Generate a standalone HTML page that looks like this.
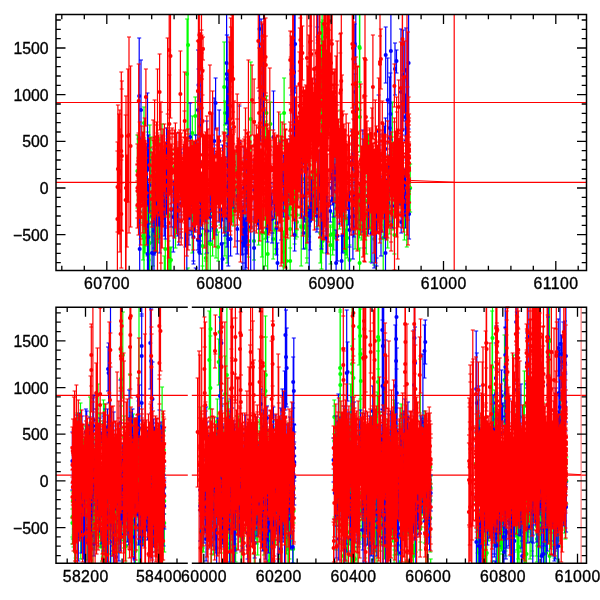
<!DOCTYPE html>
<html><head><meta charset="utf-8"><style>
html,body{margin:0;padding:0;background:#fff;width:600px;height:600px;overflow:hidden}
svg{display:block}
</style></head><body>
<svg width="600" height="600" viewBox="0 0 600 600">
<rect width="600" height="600" fill="#fff"/>
<path d="M56 102.5H586.5M56 182.3H586.5M56 395.4H187.8M191.8 395.4H586.5M56 475.2H187.8M191.8 475.2H586.5M454.2 14.5V270.5" stroke="#ff0000" stroke-width="1.2" fill="none"/><path d="M581.1 307.3V563.3" stroke="#ff6060" stroke-width="1" fill="none"/><path d="M410 180.4L454 182.2M566 473.8L581 474.7" stroke="#ff0000" stroke-width="1" fill="none"/>
<path d="M338.4 110h4m-2 0V144M366.6 134h4m-2 0V161m-2 0h4M324.9 164V192m-2 0h4M228.5 124h4m-2 0V196m-2 0h4M210.6 199h4m-2 0V224m-2 0h4M146.7 232h4m-2 0V270M265.7 237h4m-2 0V270M140.7 204V223m-2 0h4M224.9 208V256m-2 0h4M246.4 224h4m-2 0V257m-2 0h4M218.4 201h4m-2 0V225m-2 0h4M144.4 168h4m-2 0V231m-2 0h4M222.2 42h4m-2 0V133m-2 0h4M322.9 170h4m-2 0V216m-2 0h4M347.5 245h4m-2 0V270M187.8 202V235m-2 0h4M201.7 136h4m-2 0V184m-2 0h4M331.7 217h4m-2 0V250m-2 0h4M208 213V270M248.8 62h4m-2 0V169M265.4 201V266m-2 0h4M212.6 191V245m-2 0h4M365.4 176h4m-2 0V226m-2 0h4M374.3 221V265m-2 0h4M310.3 186h4m-2 0V218m-2 0h4M387.8 189h4m-2 0V234m-2 0h4M212.6 191V256m-2 0h4M385.7 174h4m-2 0V201m-2 0h4M256.6 142h4m-2 0V144M223 101h4m-2 0V125m-2 0h4M232.6 195V216m-2 0h4M375.6 176h4m-2 0V218m-2 0h4M340.5 164V206m-2 0h4M229.6 170h4m-2 0V205m-2 0h4M356.5 193h4m-2 0V250m-2 0h4M372.4 164h4m-2 0V185M273.4 206h4m-2 0V254m-2 0h4M247.6 186h4m-2 0V218m-2 0h4M357.9 82h4m-2 0V152m-2 0h4M185.7 201V222m-2 0h4M325 178h4m-2 0V231m-2 0h4M252 222h4m-2 0V260m-2 0h4M299.2 204h4m-2 0V225m-2 0h4M288.2 209h4m-2 0V248m-2 0h4M244.3 175h4m-2 0V199m-2 0h4M145.6 132h4m-2 0V166m-2 0h4M324 182h4m-2 0V207m-2 0h4M200.2 196V221m-2 0h4M299.2 188h4m-2 0V266m-2 0h4M162.3 256h4m-2 0V270M135.4 135h4m-2 0V208m-2 0h4M150 203h4m-2 0V243m-2 0h4M258.8 169h4m-2 0V209m-2 0h4M284.5 239h4m-2 0V270M292.6 196h4m-2 0V233m-2 0h4M149 137h4m-2 0V218m-2 0h4M357.6 188h4m-2 0V238m-2 0h4M236.3 192h4m-2 0V218m-2 0h4M333 159h4m-2 0V239m-2 0h4M292.6 168h4m-2 0V206m-2 0h4M268.4 102h4m-2 0V146m-2 0h4M173.5 193h4m-2 0V248m-2 0h4M206.9 202V209m-2 0h4M386.8 155h4m-2 0V207m-2 0h4M163.3 214h4m-2 0V270M218.1 196V201m-2 0h4M328.5 227h4m-2 0V264m-2 0h4M186.8 156h4m-2 0V167M376.5 168h4m-2 0V172M364.2 212h4m-2 0V254m-2 0h4M390.3 102h4m-2 0V156M186.9 164h4m-2 0V167M264.4 96h4m-2 0V129m-2 0h4M225.2 129h4m-2 0V202m-2 0h4M234 167h4m-2 0V211m-2 0h4M372 187V204m-2 0h4M328.4 225h4m-2 0V246m-2 0h4M343 229h4m-2 0V270M320.8 20h4m-2 0V72m-2 0h4M145.5 217h4m-2 0V256m-2 0h4M402.4 175h4m-2 0V240m-2 0h4M144 197V210m-2 0h4M384.6 195h4m-2 0V226m-2 0h4M304.9 209h4m-2 0V263m-2 0h4M172.4 201h4m-2 0V228m-2 0h4M212.6 191V192m-2 0h4M160.9 216V220m-2 0h4M258.6 208V245m-2 0h4M216.2 232h4m-2 0V261m-2 0h4M232.7 195V222m-2 0h4M147.8 125h4m-2 0V179m-2 0h4M368.7 194h4m-2 0V262m-2 0h4M203.8 206h4m-2 0V254m-2 0h4M304.9 183h4m-2 0V236m-2 0h4M283.6 202h4m-2 0V237m-2 0h4M319.5 222h4m-2 0V269m-2 0h4M185.8 268h4m-2 0V270M247.6 162h4m-2 0V206m-2 0h4M288.2 210h4m-2 0V270M303.6 204h4m-2 0V249m-2 0h4M358.8 156h4m-2 0V219m-2 0h4M349.9 163h4m-2 0V191m-2 0h4M276.5 195V225m-2 0h4M243.2 163h4m-2 0V198m-2 0h4M254.2 151h4m-2 0V223m-2 0h4M154.2 198V215m-2 0h4M291.3 176h4m-2 0V216m-2 0h4M291.3 137h4m-2 0V145M353.1 210h4m-2 0V249m-2 0h4M316 151h4m-2 0V193m-2 0h4M345.3 217h4m-2 0V258m-2 0h4M163.4 182h4m-2 0V215m-2 0h4M225.2 213h4m-2 0V258m-2 0h4M314.9 169h4m-2 0V227m-2 0h4M304.9 190h4m-2 0V224m-2 0h4M293.5 207h4m-2 0V239m-2 0h4M300.3 160h4m-2 0V198m-2 0h4M172.3 189h4m-2 0V227m-2 0h4M308.2 176h4m-2 0V210m-2 0h4M193.3 97h4m-2 0V135m-2 0h4M365.3 172h4m-2 0V229m-2 0h4M307.1 206h4m-2 0V236m-2 0h4M141 212h4m-2 0V260m-2 0h4M359.8 14V110m-2 0h4M229.6 156h4m-2 0V182m-2 0h4M304.9 212h4m-2 0V258m-2 0h4M292.6 156h4m-2 0V188m-2 0h4M363.2 187h4m-2 0V215m-2 0h4M160 124h4m-2 0V149M294.9 207h4m-2 0V237m-2 0h4M234 152h4m-2 0V190m-2 0h4M188.1 14V141m-2 0h4M198.2 217h4m-2 0V254m-2 0h4M281.3 231h4m-2 0V270M282.3 203h4m-2 0V267m-2 0h4M310.3 157h4m-2 0V211m-2 0h4M157.8 213h4m-2 0V238m-2 0h4M343 188h4m-2 0V212m-2 0h4M157.8 138h4m-2 0V145M263.8 121h4m-2 0V155m-2 0h4M357.6 248h4m-2 0V270M392.4 216h4m-2 0V254m-2 0h4M203.8 207h4m-2 0V261m-2 0h4M163.2 192V214m-2 0h4M307.1 210h4m-2 0V237m-2 0h4M288.2 187h4m-2 0V229m-2 0h4M285.8 172h4m-2 0V197m-2 0h4M319.4 22h4m-2 0V144m-2 0h4M214 201h4m-2 0V258m-2 0h4M169 247h4m-2 0V270M282.1 78h4m-2 0V149m-2 0h4M302.3 151V169m-2 0h4M387.9 144h4m-2 0V187m-2 0h4M381.2 204h4m-2 0V270M246.4 188h4m-2 0V219m-2 0h4M154.4 222h4m-2 0V252m-2 0h4M311.5 124h4m-2 0V180m-2 0h4M318.3 203h4m-2 0V263m-2 0h4M222.9 212h4m-2 0V243m-2 0h4M373.4 176h4m-2 0V219m-2 0h4M208.3 213h4m-2 0V270M385.7 161h4m-2 0V248m-2 0h4M212.9 166h4m-2 0V221m-2 0h4M225.2 208h4m-2 0V263m-2 0h4M311.5 178h4m-2 0V219m-2 0h4M151 204h4m-2 0V266m-2 0h4M192.3 208V253m-2 0h4M341.8 191h4m-2 0V249m-2 0h4M200.5 266h4m-2 0V270M243.2 191h4m-2 0V220m-2 0h4M278.4 114h4m-2 0V148M408.2 164h4m-2 0V212m-2 0h4M268.7 199V226m-2 0h4M303.6 178h4m-2 0V210m-2 0h4M343 191h4m-2 0V219m-2 0h4M275.4 195V233m-2 0h4M350.7 130h4m-2 0V207m-2 0h4M259.9 209h4m-2 0V257m-2 0h4M156.7 201h4m-2 0V243m-2 0h4M344.1 215h4m-2 0V255m-2 0h4M322.1 14V105m-2 0h4M271.2 218h4m-2 0V259m-2 0h4M145.1 197V246m-2 0h4M145.5 189h4m-2 0V221m-2 0h4M144.3 155h4m-2 0V183m-2 0h4M142 204h4m-2 0V270M152.2 207h4m-2 0V253m-2 0h4M238.6 160h4m-2 0V164M371.9 187V221m-2 0h4M393.1 196V230m-2 0h4M233.8 195V226m-2 0h4M168 248h4m-2 0V270M287.1 184h4m-2 0V215m-2 0h4M399.2 194h4m-2 0V213m-2 0h4M147.8 195h4m-2 0V270M309.3 191h4m-2 0V211m-2 0h4M371 181h4m-2 0V222m-2 0h4M297.9 177V198m-2 0h4M305.9 208h4m-2 0V240m-2 0h4M303.6 209h4m-2 0V248m-2 0h4M387.8 159h4m-2 0V221m-2 0h4M203.8 246h4m-2 0V270m-2 0h4M172.4 150h4m-2 0V185m-2 0h4M341.8 193h4m-2 0V212m-2 0h4M200.5 193h4m-2 0V270M370 186h4m-2 0V227m-2 0h4M359.8 214h4m-2 0V240m-2 0h4M264.4 179h4m-2 0V238m-2 0h4M337.5 184h4m-2 0V229m-2 0h4M229.6 153h4m-2 0V200m-2 0h4M306.9 147V179m-2 0h4M261.2 117h4m-2 0V137m-2 0h4M185.1 19h4m-2 0V130m-2 0h4M262.9 207V270M168.7 194V241m-2 0h4M368.6 196V229m-2 0h4M145.1 197V253m-2 0h4M294.8 199h4m-2 0V230m-2 0h4M217.3 163h4m-2 0V204m-2 0h4M168.7 194V270M142 107h4m-2 0V138m-2 0h4M260.9 139h4m-2 0V150M265.6 174h4m-2 0V207m-2 0h4M314.9 187h4m-2 0V221m-2 0h4M292.6 172h4m-2 0V244m-2 0h4M345 185V201m-2 0h4M293.3 176V215m-2 0h4M310.3 174h4m-2 0V210m-2 0h4M330.7 213h4m-2 0V255m-2 0h4M265.4 201V239m-2 0h4M223 161h4m-2 0V208m-2 0h4M246.4 213h4m-2 0V247m-2 0h4M385.7 185h4m-2 0V217m-2 0h4M190.3 116h4m-2 0V145M359.5 14V87m-2 0h4M186.8 217V245m-2 0h4M174.6 148h4m-2 0V177m-2 0h4M404.8 184h4m-2 0V247m-2 0h4M349.9 192h4m-2 0V224m-2 0h4M320.7 228h4m-2 0V253m-2 0h4M383.2 199V225m-2 0h4M101.5 400h4m-2 0V443M79.6 457h4m-2 0V463M146.9 491h4m-2 0V534m-2 0h4M86.3 486V505m-2 0h4M79.2 491h4m-2 0V533m-2 0h4M145.1 454h4m-2 0V497m-2 0h4M162.3 495h4m-2 0V552m-2 0h4M73.4 441h4m-2 0V501M145.5 433h4m-2 0V487m-2 0h4M132.7 503h4m-2 0V543m-2 0h4M151.1 476V514m-2 0h4M120.4 504V533m-2 0h4M115.1 439h4m-2 0V441M162.3 488h4m-2 0V514m-2 0h4M88 397h4m-2 0V442M88.4 515h4m-2 0V537m-2 0h4M112.8 486h4m-2 0V515m-2 0h4M138.6 506V517m-2 0h4M128.9 453h4m-2 0V507m-2 0h4M78.6 484V499m-2 0h4M146 499V516m-2 0h4M85.6 486V512m-2 0h4M131.7 498V519m-2 0h4M102.8 510V515m-2 0h4M100.2 503V528m-2 0h4M118.9 501V541m-2 0h4M107.4 429h4m-2 0V430M89.8 445h4m-2 0V516m-2 0h4M119.1 463h4m-2 0V505m-2 0h4M103.5 510V536m-2 0h4M104.8 483h4m-2 0V501m-2 0h4M104.3 510V532m-2 0h4M91.6 464h4m-2 0V499m-2 0h4M128.8 512V531m-2 0h4M136.3 493h4m-2 0V525m-2 0h4M162.8 506V523m-2 0h4M111.4 501h4m-2 0V541m-2 0h4M106.5 480V543m-2 0h4M88.7 491h4m-2 0V556m-2 0h4M158.5 494V494M80.7 482h4m-2 0V519m-2 0h4M77 491h4m-2 0V521m-2 0h4M159.3 442h4m-2 0V443M89.4 471h4m-2 0V523m-2 0h4M158.5 494V494M95.9 499V501m-2 0h4M99 442h4m-2 0V443M115.6 502V510m-2 0h4M91.6 455h4m-2 0V531m-2 0h4M100.8 512h4m-2 0V557m-2 0h4M146.5 441h4m-2 0V490m-2 0h4M90.5 507h4m-2 0V541m-2 0h4M154.4 494V510m-2 0h4M80.3 506h4m-2 0V534m-2 0h4M153.3 476V501m-2 0h4M126.6 490V509m-2 0h4M129.2 512V529m-2 0h4M122.8 502h4m-2 0V541m-2 0h4M124.8 490V492m-2 0h4M124.4 480V483M87.3 434h4m-2 0V455M90.9 494h4m-2 0V538m-2 0h4M135.9 432h4m-2 0V500m-2 0h4M135.7 489V496m-2 0h4M110.9 505V563M96.6 499V523m-2 0h4M89.8 447h4m-2 0V477m-2 0h4M86.6 486V514m-2 0h4M130.8 501h4m-2 0V542m-2 0h4M121.3 454h4m-2 0V507m-2 0h4M128.4 512V518m-2 0h4M90.5 521h4m-2 0V548m-2 0h4M156.5 426h4m-2 0V446M133.4 526h4m-2 0V563M112.5 527h4m-2 0V563m-2 0h4M111 497h4m-2 0V527m-2 0h4M143.4 511V534m-2 0h4M106.3 496h4m-2 0V539m-2 0h4M137.2 489V500m-2 0h4M109.6 435h4m-2 0V439M156.6 524V550m-2 0h4M162.8 506V540m-2 0h4M134.2 498V523m-2 0h4M157.3 524V537m-2 0h4M85.1 452h4m-2 0V525m-2 0h4M77.4 485h4m-2 0V517m-2 0h4M154 494V542m-2 0h4M79.6 497h4m-2 0V551m-2 0h4M142.2 498h4m-2 0V522m-2 0h4M105.8 507h4m-2 0V562m-2 0h4M87.1 486V512m-2 0h4M111.6 512V514m-2 0h4M153.3 476V529m-2 0h4M108.6 497V520m-2 0h4M139.8 496V544m-2 0h4M161.5 474h4m-2 0V528m-2 0h4M130.8 449h4m-2 0V453M151.8 476V512m-2 0h4M75.5 487h4m-2 0V518m-2 0h4M127.9 374h4m-2 0V436M122 497h4m-2 0V548m-2 0h4M92 471h4m-2 0V512m-2 0h4M126.2 490V532m-2 0h4M97.9 414h4m-2 0V434M121.3 454h4m-2 0V483m-2 0h4M158.8 494V494M122 416h4m-2 0V438M118.5 501V523m-2 0h4M70.4 509h4m-2 0V537m-2 0h4M71.5 496h4m-2 0V535m-2 0h4M153.5 439h4m-2 0V439M96.6 499V503M104.3 510V517m-2 0h4M113.3 489h4m-2 0V533m-2 0h4M75.5 499h4m-2 0V540m-2 0h4M129.7 444h4m-2 0V453M158.6 439h4m-2 0V443M121 511h4m-2 0V537m-2 0h4M106.1 529V539m-2 0h4M72.7 519h4m-2 0V563M122.4 481h4m-2 0V529m-2 0h4M110.7 513h4m-2 0V545m-2 0h4M87.8 486V512m-2 0h4M108.6 497V530m-2 0h4M100.3 503V519m-2 0h4M159.7 531h4m-2 0V563M131.4 498V514m-2 0h4M136.3 498h4m-2 0V531m-2 0h4M83.9 487h4m-2 0V520m-2 0h4M151.7 428h4m-2 0V432M154.1 494V518m-2 0h4M119.6 504V531m-2 0h4M80.3 494h4m-2 0V532m-2 0h4M158.8 524V560m-2 0h4M72.8 471V539m-2 0h4M140.3 430h4m-2 0V504m-2 0h4M146 499V521m-2 0h4M74.2 495V500M141.6 496V506m-2 0h4M103.5 510V523m-2 0h4M77.7 428h4m-2 0V513m-2 0h4M99.1 503V529m-2 0h4M133.9 498V555m-2 0h4M131.2 414h4m-2 0V453M157.7 494V526m-2 0h4M93.1 437h4m-2 0V483m-2 0h4M119.1 352h4m-2 0V406m-2 0h4M96 384h4m-2 0V536m-2 0h4M109.7 505V536m-2 0h4M98 499V513m-2 0h4M146.2 471h4m-2 0V512m-2 0h4M72.3 447h4m-2 0V460M105.9 425h4m-2 0V443M119.2 347h4m-2 0V429m-2 0h4M75.7 495V558m-2 0h4M136.9 489V509m-2 0h4M143.4 511V545m-2 0h4M110.8 505V508m-2 0h4M79.9 457h4m-2 0V507m-2 0h4M134.7 498V515m-2 0h4M152.5 476V494m-2 0h4M139 307V563M142.7 511V513m-2 0h4M97.5 509h4m-2 0V538m-2 0h4M106.1 480V483M91.6 491h4m-2 0V530m-2 0h4M114 436h4m-2 0V441M144.2 499V499M131.4 498V519m-2 0h4M159.3 432h4m-2 0V443M136.5 489V500m-2 0h4M130.6 498V500m-2 0h4M133.9 498V538m-2 0h4M153.7 504V546m-2 0h4M159.1 494V494M121.3 506h4m-2 0V541m-2 0h4M116 502V509m-2 0h4M85.6 486V492m-2 0h4M104.6 510V533m-2 0h4M135.8 489V510m-2 0h4M104.6 510V521m-2 0h4M98.2 421h4m-2 0V434M89.1 470h4m-2 0V516m-2 0h4M111.2 505V510m-2 0h4M144.2 499V499M123.9 521h4m-2 0V563M135 498V511m-2 0h4M106.5 480V483M81.9 483V508m-2 0h4M130.1 426h4m-2 0V453M78.5 403h4m-2 0V450m-2 0h4M83.2 426h4m-2 0V444M87.8 486V503m-2 0h4M120.8 312h4m-2 0V398m-2 0h4M77.2 496V506m-2 0h4M88.5 524V563M90 493V541m-2 0h4M160.1 387h4m-2 0V563M115.8 514h4m-2 0V548m-2 0h4M101.5 442h4m-2 0V443M151.3 482h4m-2 0V517m-2 0h4M79.2 453h4m-2 0V502m-2 0h4M161.9 431h4m-2 0V469m-2 0h4M78.8 502h4m-2 0V559m-2 0h4M93.1 438h4m-2 0V468m-2 0h4M151.1 476V507m-2 0h4M156.2 547V551m-2 0h4M152.1 498h4m-2 0V534m-2 0h4M160.3 494V494M107.5 480V507m-2 0h4M75.2 413h4m-2 0V430M98 499V528m-2 0h4M92.7 493h4m-2 0V550m-2 0h4M139.2 439h4m-2 0V445M160.3 494V494M102.3 404h4m-2 0V552m-2 0h4M81.4 439h4m-2 0V521m-2 0h4M90.9 426h4m-2 0V563M110.5 505V507m-2 0h4M119.5 468h4m-2 0V517m-2 0h4M137.4 448h4m-2 0V448M111.8 478h4m-2 0V501m-2 0h4M124.8 490V497m-2 0h4M160.4 443h4m-2 0V443M107.5 480V497m-2 0h4M93.1 449h4m-2 0V490m-2 0h4M116 502V508m-2 0h4M109.3 512h4m-2 0V528m-2 0h4M105.2 515h4m-2 0V555m-2 0h4M121.7 420h4m-2 0V483M112.5 511h4m-2 0V553m-2 0h4M103.1 512h4m-2 0V563M120.2 446h4m-2 0V515m-2 0h4M105.1 510V517m-2 0h4M73.5 495V547m-2 0h4M133.4 519h4m-2 0V563M143.8 499V527m-2 0h4M107.5 480V534m-2 0h4M108.4 518h4m-2 0V554m-2 0h4M93.5 477h4m-2 0V507m-2 0h4M119.1 504h4m-2 0V540m-2 0h4M101.3 529V548m-2 0h4M70.4 491h4m-2 0V544m-2 0h4M117.8 501V553m-2 0h4M159.5 494V494M89.4 448h4m-2 0V501m-2 0h4M85.1 518h4m-2 0V560m-2 0h4M71.9 433h4m-2 0V525m-2 0h4M130.1 445h4m-2 0V504m-2 0h4M100.2 503V547m-2 0h4M95.9 499V503m-2 0h4M102 536V561m-2 0h4M141.2 496V535m-2 0h4M108.9 437h4m-2 0V439M157.9 425h4m-2 0V446M235.6 487V544m-2 0h4M234.8 416h4m-2 0V439M347.6 425h4m-2 0V469m-2 0h4M334.2 435h4m-2 0V466M339 440h4m-2 0V485m-2 0h4M416 437h4m-2 0V438M383.6 490V503m-2 0h4M253.8 441h4m-2 0V501m-2 0h4M530 502h4m-2 0V556m-2 0h4M426.9 491h4m-2 0V523m-2 0h4M388.5 480V506m-2 0h4M228.8 532h4m-2 0V563M395.1 478h4m-2 0V518m-2 0h4M420.1 418h4m-2 0V502m-2 0h4M229.2 508h4m-2 0V533m-2 0h4M231.2 476V495m-2 0h4M198.9 494h4m-2 0V563M528.1 497h4m-2 0V518m-2 0h4M345.2 485V501M564.5 512V533m-2 0h4M257.2 459h4m-2 0V522m-2 0h4M363.4 496V501m-2 0h4M403 449h4m-2 0V481M276.8 498V513m-2 0h4M348.7 473h4m-2 0V503m-2 0h4M288.3 518h4m-2 0V550m-2 0h4M392.5 426h4m-2 0V438M490.4 561h4m-2 0V563M517.4 514V563M415.4 484V498m-2 0h4M218.3 477h4m-2 0V492M233.6 535h4m-2 0V562m-2 0h4M214.6 422h4m-2 0V447M262.5 494V534m-2 0h4M392.5 515h4m-2 0V550m-2 0h4M362 496V538m-2 0h4M355.1 547h4m-2 0V563M402.6 442h4m-2 0V477m-2 0h4M271.9 488V521m-2 0h4M542.9 510V521m-2 0h4M263.7 490V512m-2 0h4M339.5 494V495M340.1 307V428M565.3 512V539m-2 0h4M374.6 488V500m-2 0h4M233.7 499h4m-2 0V553m-2 0h4M271.4 421h4m-2 0V443M411.7 509V523m-2 0h4M273.1 501V517m-2 0h4M223.7 513V539m-2 0h4M426.6 486V521m-2 0h4M345 525h4m-2 0V563M486 488V534m-2 0h4M255.3 432h4m-2 0V476m-2 0h4M230.3 489h4m-2 0V563M352.3 506V563M510.6 506h4m-2 0V539m-2 0h4M219.5 404h4m-2 0V500m-2 0h4M358.5 445h4m-2 0V462M287.1 498h4m-2 0V530m-2 0h4M386.9 490h4m-2 0V529M383.7 490V497m-2 0h4M209.7 437h4m-2 0V463M356.6 435h4m-2 0V462M422.5 482V506m-2 0h4M491.9 409h4m-2 0V433M394.7 440h4m-2 0V459m-2 0h4M341.3 491h4m-2 0V522m-2 0h4M518.2 514V559m-2 0h4M473.6 428h4m-2 0V501m-2 0h4M397.4 424h4m-2 0V454m-2 0h4M205.2 433h4m-2 0V460M397.4 474h4m-2 0V503m-2 0h4M219.6 307V395m-2 0h4M280.1 509V563M370.1 417h4m-2 0V474M345.2 485V497m-2 0h4M545.3 423h4m-2 0V500m-2 0h4M345.9 485V487m-2 0h4M483.1 521V530m-2 0h4M268.1 429h4m-2 0V433M237.1 487V512m-2 0h4M200.4 421h4m-2 0V422M283.9 503V535m-2 0h4M395.8 518h4m-2 0V555m-2 0h4M535.4 508V520m-2 0h4M501.4 506V514m-2 0h4M265.2 490V496m-2 0h4M256.9 501V544m-2 0h4M265 517h4m-2 0V551m-2 0h4M236 487V496m-2 0h4M285.7 507V531m-2 0h4M207.1 482h4m-2 0V502m-2 0h4M481.2 512V546m-2 0h4M340.9 447h4m-2 0V496m-2 0h4M519.3 514V519m-2 0h4M244.3 532V533m-2 0h4M478.9 515V549m-2 0h4M242.4 468V491m-2 0h4M493.9 510V546m-2 0h4M246.3 503h4m-2 0V553m-2 0h4M284.3 503V532m-2 0h4M268.4 518h4m-2 0V561m-2 0h4M528.1 480h4m-2 0V559m-2 0h4M392.2 499V529m-2 0h4M240.9 468V484m-2 0h4M205.7 474h4m-2 0V502m-2 0h4M397.4 454h4m-2 0V510m-2 0h4M505.5 510V556m-2 0h4M552.1 507V522m-2 0h4M365.2 496h4m-2 0V528m-2 0h4M370.8 412h4m-2 0V474M401.4 467h4m-2 0V537m-2 0h4M392.8 403h4m-2 0V438M272.3 488V495m-2 0h4M533.8 495V504m-2 0h4M561.1 522V547m-2 0h4M536.5 508V556m-2 0h4M543.1 507h4m-2 0V548m-2 0h4M370.2 509V555m-2 0h4M535.3 313h4m-2 0V337M222.9 498V514m-2 0h4M375 487h4m-2 0V563M383.3 494V532m-2 0h4M267.6 503h4m-2 0V527m-2 0h4M346.7 505V533m-2 0h4M240.4 479h4m-2 0V540m-2 0h4M211.9 450h4m-2 0V486m-2 0h4M537.9 520h4m-2 0V557m-2 0h4M515.9 516V537m-2 0h4M390.6 506h4m-2 0V535m-2 0h4M337.7 463V493m-2 0h4M227.8 524V544m-2 0h4M516.5 389h4m-2 0V422m-2 0h4M208.2 493h4m-2 0V546m-2 0h4M289.3 477h4m-2 0V501m-2 0h4M286 534h4m-2 0V563M482.9 507h4m-2 0V563M529.6 497h4m-2 0V542m-2 0h4M214.7 479V512m-2 0h4M339.2 489V542m-2 0h4M393.2 434h4m-2 0V438M414.9 492h4m-2 0V532m-2 0h4M235.6 487V546m-2 0h4M557.4 505V518m-2 0h4M255.7 441h4m-2 0V555m-2 0h4M255.5 492V539m-2 0h4M253.3 492V505M339.8 456h4m-2 0V491m-2 0h4M370.1 416h4m-2 0V455m-2 0h4M492.5 307V433m-2 0h4M513 499V511m-2 0h4M222.2 469V492M336.2 505V550m-2 0h4M340.3 494V495M341.2 479h4m-2 0V524m-2 0h4M515.5 410h4m-2 0V430m-2 0h4M552.6 507V522m-2 0h4M482.6 549h4m-2 0V563M343.9 496h4m-2 0V533m-2 0h4M360.5 504V507m-2 0h4M337 489V516m-2 0h4M215.8 509V550m-2 0h4M416 496h4m-2 0V518m-2 0h4M372.7 545h4m-2 0V563M399.2 447h4m-2 0V475M538.6 506h4m-2 0V548m-2 0h4M536.9 530V562m-2 0h4M502.7 394h4m-2 0V418m-2 0h4M273.4 501V526m-2 0h4M279.7 488V530m-2 0h4M201.5 507h4m-2 0V552m-2 0h4M477.8 522V563M350 346h4m-2 0V401m-2 0h4M243.1 506V515M211.4 516V563M288.4 507V536m-2 0h4M336.4 463h4m-2 0V493m-2 0h4M529.6 502h4m-2 0V541m-2 0h4M416.2 484V522m-2 0h4M229.9 509h4m-2 0V535m-2 0h4M377.9 412h4m-2 0V422M336.8 488h4m-2 0V525m-2 0h4M360.1 504V511m-2 0h4M344 485V563M361.1 427h4m-2 0V448M227.4 525V527m-2 0h4M207.3 311h4m-2 0V409m-2 0h4M259.1 493h4m-2 0V522m-2 0h4M477.3 525h4m-2 0V563M349.2 423h4m-2 0V478m-2 0h4M279.8 488V492M264.6 480h4m-2 0V537m-2 0h4M401.1 436h4m-2 0V481m-2 0h4M287.4 478h4m-2 0V509m-2 0h4M375.3 392h4m-2 0V505m-2 0h4M534.2 495V512m-2 0h4M500.6 506V549m-2 0h4M227.3 530h4m-2 0V563M265.8 430h4m-2 0V456m-2 0h4M524.5 513V560m-2 0h4M428.7 476h4m-2 0V500m-2 0h4M500.5 525h4m-2 0V554m-2 0h4M257.9 420h4m-2 0V435M427.6 484h4m-2 0V510m-2 0h4M263.9 430h4m-2 0V441M264.8 490V511m-2 0h4M223.2 356h4m-2 0V432m-2 0h4M558.9 505V541m-2 0h4M535.4 508V513m-2 0h4M340.9 495h4m-2 0V522m-2 0h4M407.2 516V533m-2 0h4M517 530h4m-2 0V563M395.2 478h4m-2 0V515m-2 0h4M518.2 514V532m-2 0h4M428.3 484h4m-2 0V552m-2 0h4M199.6 531h4m-2 0V563M549.6 523V531m-2 0h4M518.8 511h4m-2 0V552m-2 0h4M208.4 336h4m-2 0V440m-2 0h4M381.4 497V535m-2 0h4M271.2 488V520m-2 0h4M427 486V523m-2 0h4M352.1 307V425M252.7 501h4m-2 0V528m-2 0h4M291.6 479h4m-2 0V499m-2 0h4M414.1 495h4m-2 0V524m-2 0h4M413.6 500V532m-2 0h4M547 493V517m-2 0h4M352.9 539h4m-2 0V563M263.8 337h4m-2 0V413m-2 0h4M516.4 414h4m-2 0V430M527.5 502V508m-2 0h4M484.9 488V508m-2 0h4M412.8 500V524m-2 0h4M339.4 488h4m-2 0V527m-2 0h4M288.4 507V563M272.9 455h4m-2 0V502m-2 0h4M280.1 509V523m-2 0h4M527.9 502V537m-2 0h4M511.5 499V513m-2 0h4M334.7 505V517m-2 0h4M204.8 452h4m-2 0V460M220.2 474h4m-2 0V505m-2 0h4M241.1 511h4m-2 0V547m-2 0h4M530 505h4m-2 0V551m-2 0h4M547.7 375h4m-2 0V395M398.8 461h4m-2 0V522m-2 0h4M479.7 512V563M412.7 493h4m-2 0V554m-2 0h4M260.5 495h4m-2 0V529m-2 0h4M255.7 422h4m-2 0V494m-2 0h4M261.7 442h4m-2 0V466M405.2 419h4m-2 0V436M236 487V487m-2 0h4M211.9 490h4m-2 0V524m-2 0h4M533.8 495V503m-2 0h4M340.9 453h4m-2 0V490m-2 0h4M498.4 516V546m-2 0h4M418.3 359h4m-2 0V542m-2 0h4M527.5 509V509m-2 0h4M426.6 486V499M537.9 518h4m-2 0V538m-2 0h4M526.5 509V522m-2 0h4M416.1 484V520m-2 0h4M415.4 484V503m-2 0h4M425 434h4m-2 0V499M377 488V504m-2 0h4M504.7 510V549m-2 0h4M265.9 490V524m-2 0h4M495.3 559h4m-2 0V563M416.1 484V487m-2 0h4M410.9 517V558m-2 0h4M388.5 480V522m-2 0h4M378.3 533h4m-2 0V551m-2 0h4M402.2 454h4m-2 0V481M220.2 491h4m-2 0V525m-2 0h4M373.4 497h4m-2 0V552m-2 0h4M237 421h4m-2 0V440M530 483h4m-2 0V517m-2 0h4M478.1 430h4m-2 0V450M242.8 537V553m-2 0h4M499.1 506V563M533.8 495V510m-2 0h4M388 462h4m-2 0V508m-2 0h4M227.1 525V533m-2 0h4M400.8 509V537m-2 0h4M204.6 476V494m-2 0h4M260.2 449h4m-2 0V466M247.6 499V509m-2 0h4M264.1 490V555m-2 0h4M488.3 522V541m-2 0h4M557.4 505V563M217.7 512V529m-2 0h4M388.3 466h4m-2 0V506m-2 0h4M381 497V534m-2 0h4M559.6 522V527m-2 0h4M280.1 488V492M382.4 382h4m-2 0V559m-2 0h4M384.8 490V534m-2 0h4M490.1 311h4m-2 0V422m-2 0h4M543.5 510h4m-2 0V551m-2 0h4M254.3 492V513m-2 0h4M398.4 546h4m-2 0V563M252.1 492V505M215.3 399h4m-2 0V442m-2 0h4M260.3 484V514m-2 0h4M253.6 492V506m-2 0h4M510.5 517h4m-2 0V550m-2 0h4M381.4 497V501m-2 0h4M514.4 520V552m-2 0h4M253.9 492V522m-2 0h4M228 412h4m-2 0V498m-2 0h4M553.3 507V555m-2 0h4M218.9 474V483M383.3 494V544m-2 0h4M418.3 508h4m-2 0V550m-2 0h4M391.1 480V513m-2 0h4M560.7 522V523m-2 0h4M530.3 501h4m-2 0V533m-2 0h4M528.2 502V532m-2 0h4M347.6 449h4m-2 0V487m-2 0h4M396.3 510V516m-2 0h4M279 509V537m-2 0h4M238.3 487V529m-2 0h4M422 411h4m-2 0V443M402.2 478h4m-2 0V504m-2 0h4M415 484V524m-2 0h4M335 416h4m-2 0V440M286.9 507V509m-2 0h4M526.5 509V563M343.9 485h4m-2 0V501M521.5 501V547m-2 0h4M527.9 502V526m-2 0h4M429.3 481V535m-2 0h4M414.9 403h4m-2 0V432M475.8 400h4m-2 0V431m-2 0h4M286.8 446h4m-2 0V472m-2 0h4M491.7 510V515m-2 0h4M287.5 526h4m-2 0V559m-2 0h4M550.3 523V533m-2 0h4M370.2 509V513m-2 0h4M289 462h4m-2 0V546m-2 0h4M347.4 505V518m-2 0h4M257.9 483h4m-2 0V527m-2 0h4M265 458h4m-2 0V516m-2 0h4M558.5 505V519m-2 0h4M410.9 517V522m-2 0h4M402.3 496V535m-2 0h4M226.9 307V425M537.3 530V546m-2 0h4M288.9 450h4m-2 0V503m-2 0h4M378.7 307V414m-2 0h4M204.1 491h4m-2 0V530m-2 0h4M236 487V530m-2 0h4M411.5 544h4m-2 0V563M258.8 484V523m-2 0h4M398.1 453h4m-2 0V475M210.6 516V522m-2 0h4M359.7 504V540m-2 0h4M251.7 492V502m-2 0h4M232.6 489h4m-2 0V527m-2 0h4M220.9 427h4m-2 0V499m-2 0h4M219.9 469V485m-2 0h4M272.3 488V515m-2 0h4M348.7 479h4m-2 0V524m-2 0h4M203.8 476h4m-2 0V516m-2 0h4M521.5 501V526m-2 0h4M344.1 485V501M502.5 335h4m-2 0V426m-2 0h4M504.7 510V536m-2 0h4M227.7 523h4m-2 0V563M394.5 499V555m-2 0h4M430.3 481V483m-2 0h4M257.6 503h4m-2 0V534m-2 0h4M368.2 428h4m-2 0V434M416.5 484V485m-2 0h4M497.9 506h4m-2 0V563M477 425h4m-2 0V450M424.4 485V521m-2 0h4M339 462h4m-2 0V496m-2 0h4M359.1 307V365m-2 0h4M214.7 479V534m-2 0h4M423.9 533h4m-2 0V563M530.7 499h4m-2 0V529m-2 0h4M207.5 473h4m-2 0V505m-2 0h4M544.7 493V512m-2 0h4M256.8 461h4m-2 0V499m-2 0h4M265.6 490V493m-2 0h4M528.7 502V523m-2 0h4M253.1 430h4m-2 0V441M532 466V472m-2 0h4M484.8 540h4m-2 0V563M478.6 515V524m-2 0h4M505.5 510V551m-2 0h4M554.5 507V558m-2 0h4M233.6 501h4m-2 0V533m-2 0h4M283.1 503V514m-2 0h4M237.9 487V531m-2 0h4M389.1 430h4m-2 0V507m-2 0h4M259.4 419h4m-2 0V494m-2 0h4M271.2 488V501m-2 0h4M265.8 450h4m-2 0V489m-2 0h4M478.2 522V539m-2 0h4M518.5 514V531m-2 0h4M277.1 498V514m-2 0h4M273.3 503h4m-2 0V545m-2 0h4M237.5 487V506m-2 0h4M503.5 422h4m-2 0V428M249.8 499V518m-2 0h4M231.2 476V514m-2 0h4M400.3 443h4m-2 0V519m-2 0h4M549.6 307V395M256.1 484h4m-2 0V522m-2 0h4M521.2 407h4m-2 0V429M201.5 478h4m-2 0V526m-2 0h4M500.6 506V516m-2 0h4M363.4 496V518m-2 0h4M351.5 339h4m-2 0V417m-2 0h4M266.9 502h4m-2 0V561m-2 0h4M380.7 497V524m-2 0h4M231.4 537h4m-2 0V562m-2 0h4M253.5 497h4m-2 0V536m-2 0h4M204.6 476V514m-2 0h4M286.9 507V521m-2 0h4M399.6 426h4m-2 0V475M496.4 539h4m-2 0V563m-2 0h4M367.6 493V544m-2 0h4M241.3 468V563M204.6 476V512m-2 0h4M231.5 476V493m-2 0h4M284.5 524h4m-2 0V554m-2 0h4M363.1 496V544m-2 0h4M338.3 310h4m-2 0V428M403 474h4m-2 0V481M533.5 495V503m-2 0h4M386.5 426h4m-2 0V442M247.6 499V528m-2 0h4M256.2 492V524m-2 0h4M216.7 339h4m-2 0V385m-2 0h4M201.2 491V512m-2 0h4M552.2 507V519m-2 0h4M484.4 541h4m-2 0V563M387.4 537V551m-2 0h4M388.7 507h4m-2 0V535m-2 0h4M337 489V526m-2 0h4M198.2 407h4m-2 0V457m-2 0h4M210.5 418h4m-2 0V485m-2 0h4M422.8 486h4m-2 0V543m-2 0h4M205.7 451h4m-2 0V474m-2 0h4M404.8 539h4m-2 0V563M279.4 509V525m-2 0h4M249.5 499V563M265 449h4m-2 0V482m-2 0h4M481.8 417h4m-2 0V491m-2 0h4M347.3 486h4m-2 0V545m-2 0h4M337.7 463V514m-2 0h4M213.8 447h4m-2 0V447M351 537h4m-2 0V563M369.8 509V526m-2 0h4M521.9 501V517m-2 0h4M291.6 498h4m-2 0V523m-2 0h4M370.4 455h4m-2 0V474M358.5 309h4m-2 0V399m-2 0h4M364.1 499h4m-2 0V524m-2 0h4M544.2 538h4m-2 0V563M408.3 517V536m-2 0h4M357.4 433h4m-2 0V462M387.3 482h4m-2 0V513m-2 0h4M282 503V517m-2 0h4M398.4 436h4m-2 0V563M261.3 494h4m-2 0V540m-2 0h4M198.2 456h4m-2 0V503m-2 0h4M276.8 498V505m-2 0h4M338.3 312h4m-2 0V428M348.7 384h4m-2 0V563M287.2 507V511m-2 0h4M252.3 534h4m-2 0V563M375.4 488V489m-2 0h4M268.1 527h4m-2 0V556m-2 0h4M517.9 395h4m-2 0V425M549.2 523V543m-2 0h4M339.4 468h4m-2 0V483m-2 0h4M342.1 526h4m-2 0V561m-2 0h4M360.1 307V462M496.5 516V547m-2 0h4M231.8 480h4m-2 0V549m-2 0h4M279.4 509V529m-2 0h4M530.5 466V491m-2 0h4M533.1 495V503m-2 0h4M267.2 540h4m-2 0V563M427.8 488V498M270 488V489m-2 0h4M369.1 509V548m-2 0h4M234.4 438h4m-2 0V439M339.2 489V530m-2 0h4M381.8 494V503m-2 0h4M204.8 458h4m-2 0V460M497.3 516V563M349.4 452h4m-2 0V497m-2 0h4M219.5 528h4m-2 0V553m-2 0h4M394.7 516h4m-2 0V554m-2 0h4M363.3 503h4m-2 0V558m-2 0h4M211.9 497h4m-2 0V523m-2 0h4M369.1 509V521m-2 0h4M251.4 492V522m-2 0h4M226.5 401h4m-2 0V434M369.8 509V523m-2 0h4M395.8 501h4m-2 0V538m-2 0h4M348.4 478h4m-2 0V532m-2 0h4M480.5 512V536m-2 0h4M542.7 522h4m-2 0V563M204.5 458h4m-2 0V460M246 521h4m-2 0V546m-2 0h4M264.9 490V505m-2 0h4M256.1 474h4m-2 0V528m-2 0h4M248 499V511M395.1 505h4m-2 0V535m-2 0h4M249 425h4m-2 0V426M251.7 492V511m-2 0h4M522.4 371h4m-2 0V429M204.6 476V492m-2 0h4M224.1 513V526m-2 0h4M220.9 437h4m-2 0V438M259.9 484V529m-2 0h4M339.9 494V495M381.3 435h4m-2 0V445M370.6 509V523m-2 0h4M382.4 512h4m-2 0V540m-2 0h4M341.2 541h4m-2 0V563M421 482V519m-2 0h4M398.5 428h4m-2 0V475M256.4 463h4m-2 0V501m-2 0h4M526.5 509V541m-2 0h4M486 488V563M544.7 493V493m-2 0h4M406.1 516V529m-2 0h4M412.8 500V503m-2 0h4M345.4 512h4m-2 0V552m-2 0h4M538.7 490V524m-2 0h4M512.6 499V512m-2 0h4M410.2 517V521m-2 0h4M548.1 523V542m-2 0h4M223.3 498V519m-2 0h4M492 510V538m-2 0h4M267.3 497h4m-2 0V527m-2 0h4M288.3 439h4m-2 0V473m-2 0h4M341.3 457h4m-2 0V514m-2 0h4M201.3 491V495m-2 0h4M208.2 447h4m-2 0V473m-2 0h4M373.4 519h4m-2 0V546m-2 0h4M277.8 419h4m-2 0V492M349.2 494h4m-2 0V556m-2 0h4M288.6 448h4m-2 0V498m-2 0h4M498.4 516V554m-2 0h4M269.9 518h4m-2 0V556m-2 0h4M288.3 500h4m-2 0V541m-2 0h4M501.7 507V551m-2 0h4M544.7 493V505m-2 0h4M553.7 507V520m-2 0h4M266.9 498h4m-2 0V563M286.8 489h4m-2 0V530m-2 0h4M416 436h4m-2 0V438M286.9 507V523m-2 0h4M262.1 436h4m-2 0V466M378.7 502h4m-2 0V545m-2 0h4M523.2 532h4m-2 0V563M274.9 498V516m-2 0h4M515.2 516V516m-2 0h4M373.8 491h4m-2 0V540m-2 0h4M266.2 444h4m-2 0V476m-2 0h4M207.5 485h4m-2 0V516m-2 0h4M522.2 524h4m-2 0V563M399.2 404h4m-2 0V427m-2 0h4M378.7 520V531m-2 0h4M480.8 512V559m-2 0h4M238.1 511h4m-2 0V542m-2 0h4M492.9 390h4m-2 0V428m-2 0h4M413.8 507h4m-2 0V552m-2 0h4M376 351h4m-2 0V413m-2 0h4M537.1 307V337M203.8 458h4m-2 0V492m-2 0h4M410 514h4m-2 0V549m-2 0h4M201.5 488h4m-2 0V519m-2 0h4M378.1 307V369m-2 0h4M210.6 516V530m-2 0h4M534.9 315h4m-2 0V337M221.5 469V541m-2 0h4M339.5 494V495M405 516V529m-2 0h4M492.4 510V527m-2 0h4M266.5 505h4m-2 0V542m-2 0h4M410.5 517V522m-2 0h4M369.8 509V549m-2 0h4M371.5 526h4m-2 0V560m-2 0h4M477.5 522V553m-2 0h4M218.4 512V524m-2 0h4M224.8 536V545m-2 0h4M215.8 509V526m-2 0h4M373.5 517V529m-2 0h4M372.7 435h4m-2 0V435M287 501h4m-2 0V522m-2 0h4M349.5 467h4m-2 0V525m-2 0h4M422.1 482V515m-2 0h4M273.1 501V503m-2 0h4M243.1 537V554m-2 0h4M507.7 509V519m-2 0h4M213.3 479V555m-2 0h4M293.2 526V563M507.3 509V515m-2 0h4M220.3 469V490m-2 0h4M254.3 492V501m-2 0h4M368.9 525h4m-2 0V551m-2 0h4M511.4 355h4m-2 0V425M278.9 513h4m-2 0V550m-2 0h4M254.7 492V531m-2 0h4M286.5 507V515m-2 0h4M430 481V501m-2 0h4M368.3 493V510m-2 0h4M387.4 537V542m-2 0h4M415.8 484V506m-2 0h4M564.4 457h4m-2 0V504m-2 0h4M544.3 510V542m-2 0h4M392.1 400h4m-2 0V563M340.2 449h4m-2 0V480m-2 0h4M258.3 504h4m-2 0V533m-2 0h4M507.3 509V509m-2 0h4M503.2 507V518m-2 0h4M336.6 489V501m-2 0h4M417.3 484V509m-2 0h4M256.8 461h4m-2 0V509m-2 0h4M553.7 507V514m-2 0h4M541.2 403h4m-2 0V403M236.3 416h4m-2 0V491m-2 0h4M204.3 476V502m-2 0h4M357 520h4m-2 0V547m-2 0h4M478.1 522V546m-2 0h4M201.3 491V504m-2 0h4M530 476h4m-2 0V529m-2 0h4M418.8 483V504m-2 0h4M484.2 488V507m-2 0h4M541.4 470V532m-2 0h4M260.3 484V520m-2 0h4M383.8 491h4m-2 0V525m-2 0h4M500.6 506V538m-2 0h4M332.3 400h4m-2 0V434m-2 0h4M265.8 493h4m-2 0V531m-2 0h4M365.2 503h4m-2 0V530m-2 0h4M211.6 491h4m-2 0V528m-2 0h4M524.9 513V530m-2 0h4M558.9 505V510m-2 0h4M278.6 509V519m-2 0h4M528.7 502V530m-2 0h4M359.4 516V526m-2 0h4M400.8 509V528m-2 0h4M220.2 435h4m-2 0V438M428.7 559h4m-2 0V563M227.1 525V538m-2 0h4M479.9 515h4m-2 0V545m-2 0h4M381 497V532m-2 0h4M362.3 496V511m-2 0h4M404.2 496V515m-2 0h4M288.4 507V526m-2 0h4M254.7 492V523m-2 0h4M517 514V550m-2 0h4M419 495h4m-2 0V527m-2 0h4M367.6 493V519m-2 0h4M476.6 448h4m-2 0V450M538.9 510h4m-2 0V543m-2 0h4M357.5 526V543m-2 0h4M392.6 499V542m-2 0h4M428.9 481V499m-2 0h4M477.7 417h4m-2 0V450M210.6 307V409m-2 0h4M216.1 447h4m-2 0V447M340 494V495M219.2 474V483M430.3 481V502m-2 0h4M551.8 507V547m-2 0h4M509.2 509V511m-2 0h4M265.8 439h4m-2 0V494m-2 0h4M482.7 521V536m-2 0h4M428.9 481V512m-2 0h4M547.6 541h4m-2 0V563M339.5 494V532m-2 0h4M529.6 471h4m-2 0V503m-2 0h4M231.5 476V510m-2 0h4M332.3 406h4m-2 0V475m-2 0h4M396.3 510V527m-2 0h4M230.4 476V512m-2 0h4M271.4 427h4m-2 0V443M530.8 503h4m-2 0V530m-2 0h4M261.8 494V514m-2 0h4M399.6 455h4m-2 0V531m-2 0h4M428.5 481V493m-2 0h4M359 516V521m-2 0h4M358.8 349h4m-2 0V413m-2 0h4M399.6 445h4m-2 0V496m-2 0h4M263.5 316h4m-2 0V441M203.9 476V476m-2 0h4M228.8 489h4m-2 0V522m-2 0h4M380.7 497V516m-2 0h4M558.4 395h4m-2 0V428M373.5 517V559m-2 0h4M286.8 423h4m-2 0V451m-2 0h4M204.8 456h4m-2 0V460M238.3 487V520m-2 0h4M549.5 307V380m-2 0h4M347 505V509m-2 0h4M554 507V515m-2 0h4M202.8 512V548m-2 0h4M383.8 419h4m-2 0V544m-2 0h4M338.8 489V492m-2 0h4" stroke="#00ff00" stroke-width="1.2" fill="none"/>
<path d="M340.4 131h0M368.6 147h0M324.9 175h0M230.5 160h0M212.6 211h0M148.7 260h0M267.7 254h0M140.7 202h0M224.9 230h0M248.4 241h0M220.4 213h0M146.4 200h0M224.2 87h0M324.9 193h0M349.5 260h0M187.8 214h0M203.7 160h0M333.7 234h0M208 243h0M250.8 119h0M265.4 233h0M212.6 210h0M367.4 201h0M374.3 239h0M312.3 202h0M389.8 212h0M212.6 216h0M387.7 188h0M258.6 164h0M225 113h0M232.6 200h0M377.6 197h0M340.5 183h0M231.6 187h0M358.5 222h0M374.4 187h0M275.4 230h0M249.6 202h0M359.9 117h0M327 205h0M254 241h0M301.2 215h0M290.2 229h0M246.3 187h0M147.6 149h0M326 194h0M200.2 202h0M301.2 227h0M137.4 171h0M152 223h0M286.5 261h0M294.6 215h0M151 177h0M359.6 213h0M238.3 205h0M335 199h0M294.6 187h0M270.4 124h0M175.5 221h0M206.9 192h0M388.8 181h0M165.3 249h0M218.1 180h0M330.5 245h0M378.5 184h0M366.2 233h0M392.3 144h0M266.4 113h0M227.2 165h0M236 189h0M372 186h0M330.4 235h0M345 251h0M322.8 46h0M147.5 237h0M404.4 208h0M144 194h0M386.6 211h0M306.9 236h0M174.4 215h0M160.9 207h0M258.6 220h0M218.2 247h0M232.7 201h0M149.8 152h0M370.7 228h0M205.8 230h0M306.9 210h0M285.6 220h0M321.5 246h0M249.6 184h0M290.2 261h0M305.6 226h0M360.8 188h0M351.9 177h0M276.5 198h0M245.2 181h0M256.2 187h0M154.2 195h0M293.3 196h0M293.3 149h0M355.1 229h0M318 172h0M347.3 238h0M165.4 199h0M227.2 235h0M316.9 198h0M306.9 207h0M295.5 223h0M302.3 179h0M174.3 208h0M310.2 193h0M195.3 116h0M367.3 201h0M309.1 221h0M143 236h0M359.8 48h0M231.6 169h0M306.9 235h0M294.6 172h0M365.2 201h0M296.9 222h0M236 171h0M188.1 45h0M200.2 235h0M283.3 252h0M284.3 235h0M312.3 184h0M159.8 225h0M345 200h0M265.8 138h0M359.6 263h0M394.4 235h0M205.8 234h0M163.2 198h0M309.1 224h0M290.2 208h0M287.8 184h0M321.4 83h0M216 230h0M171 260h0M284.1 113h0M302.3 157h0M389.9 166h0M383.2 238h0M248.4 204h0M156.4 237h0M313.5 152h0M320.3 233h0M224.9 228h0M375.4 197h0M210.3 244h0M387.7 205h0M214.9 194h0M227.2 235h0M313.5 199h0M153 235h0M192.3 219h0M343.8 220h0M245.2 206h0M280.4 141h0M410.2 188h0M268.7 201h0M305.6 194h0M345 205h0M275.4 208h0M352.7 169h0M261.9 233h0M158.7 222h0M346.1 235h0M322.1 48h0M273.2 239h0M145.1 219h0M147.5 205h0M146.3 169h0M144 238h0M154.2 230h0M240.6 174h0M371.9 198h0M393.1 211h0M233.8 209h0M170 261h0M289.1 200h0M401.2 204h0M149.8 243h0M311.3 201h0M373 202h0M297.9 179h0M307.9 224h0M305.6 228h0M389.8 190h0M205.8 258h0M174.4 167h0M343.8 203h0M202.5 246h0M372 206h0M361.8 227h0M266.4 209h0M339.5 206h0M231.6 177h0M306.9 162h0M263.2 127h0M187.1 74h0M262.9 219h0M168.7 215h0M368.6 211h0M145.1 222h0M296.8 215h0M219.3 183h0M168.7 216h0M144 123h0M262.9 171h0M267.6 190h0M316.9 204h0M294.6 208h0M345 187h0M293.3 190h0M312.3 192h0M332.7 234h0M265.4 199h0M225 185h0M248.4 230h0M387.7 201h0M192.3 133h0M359.5 47h0M186.8 211h0M176.6 162h0M406.8 215h0M351.9 208h0M322.7 241h0M383.2 203h0M103.5 424h0M148.9 512h0M86.3 486h0M81.2 512h0M147.1 476h0M164.3 523h0M147.5 460h0M134.7 523h0M151.1 491h0M120.4 514h0M164.3 501h0M90 425h0M90.4 526h0M114.8 500h0M138.6 493h0M146 495h0M85.6 488h0M100.2 511h0M118.9 513h0M109.4 446h0M91.8 480h0M121.1 484h0M93.6 481h0M128.8 510h0M138.3 509h0M162.8 507h0M113.4 521h0M106.5 502h0M90.7 523h0M82.7 500h0M79 506h0M91.4 497h0M95.9 481h0M115.6 495h0M93.6 493h0M102.8 535h0M148.5 465h0M92.5 524h0M154.4 491h0M82.3 520h0M153.3 479h0M126.6 493h0M129.2 516h0M124.8 521h0M124.8 475h0M124.4 469h0M89.3 452h0M92.9 516h0M110.9 528h0M96.6 495h0M91.8 462h0M86.6 485h0M132.8 521h0M123.3 480h0M128.4 503h0M92.5 535h0M135.4 551h0M114.5 545h0M113 512h0M143.4 508h0M108.3 517h0M137.2 492h0M156.6 528h0M162.8 518h0M134.2 496h0M87.1 488h0M79.4 501h0M154 507h0M81.6 524h0M144.2 510h0M107.8 535h0M87.1 496h0M111.6 495h0M153.3 495h0M108.6 495h0M139.8 511h0M163.5 501h0M151.8 485h0M77.5 502h0M129.9 419h0M124 522h0M94 491h0M126.2 508h0M99.9 445h0M123.3 469h0M124 437h0M72.4 523h0M73.5 516h0M96.6 488h0M115.3 511h0M77.5 519h0M123 524h0M106.1 524h0M74.7 551h0M124.4 505h0M112.7 529h0M87.8 496h0M108.6 494h0M100.3 500h0M161.7 560h0M131.4 499h0M138.3 514h0M85.9 504h0M154.1 492h0M119.6 512h0M82.3 513h0M158.8 538h0M72.8 501h0M146 504h0M74.2 495h0M103.5 509h0M133.9 519h0M133.2 450h0M157.7 491h0M95.1 460h0M121.1 379h0M109.7 514h0M148.2 491h0M107.9 439h0M121.2 388h0M75.7 524h0M136.9 494h0M143.4 505h0M110.8 497h0M81.9 482h0M134.7 487h0M142.7 499h0M99.5 523h0M106.1 478h0M93.6 511h0M133.9 514h0M153.7 524h0M123.3 523h0M116 480h0M104.6 513h0M135.8 492h0M91.1 493h0M111.2 488h0M144.2 501h0M125.9 546h0M135 497h0M106.5 482h0M81.9 487h0M132.1 446h0M80.5 427h0M87.8 487h0M122.8 355h0M88.5 535h0M90 495h0M162.1 480h0M117.8 531h0M153.3 500h0M163.9 450h0M80.8 530h0M95.1 453h0M151.1 475h0M156.2 528h0M154.1 516h0M77.2 441h0M94.7 521h0M104.3 478h0M92.9 514h0M121.5 492h0M113.8 489h0M124.8 477h0M162.4 467h0M107.5 481h0M95.1 470h0M116 497h0M111.3 520h0M107.2 535h0M123.7 453h0M114.5 532h0M105.1 543h0M122.2 480h0M73.5 516h0M135.4 543h0M143.8 506h0M110.4 536h0M95.5 492h0M121.1 522h0M101.3 523h0M72.4 517h0M117.8 517h0M91.4 474h0M87.1 539h0M73.9 479h0M100.2 518h0M95.9 484h0M102 546h0M141.2 513h0M235.6 509h0M236.8 449h0M349.6 447h0M341 463h0M255.8 471h0M532 529h0M428.9 507h0M388.5 484h0M230.8 551h0M397.1 498h0M231.2 520h0M231.2 480h0M200.9 532h0M530.1 508h0M345.2 497h0M564.5 501h0M259.2 491h0M363.4 490h0M405 478h0M350.7 488h0M290.3 534h0M517.4 512h0M220.3 500h0M235.6 549h0M216.6 440h0M262.5 511h0M394.5 533h0M362 510h0M404.6 459h0M271.9 495h0M542.9 499h0M263.7 493h0M339.5 488h0M340.1 368h0M565.3 508h0M235.7 526h0M273.4 443h0M411.7 501h0M273.1 496h0M223.7 513h0M426.6 502h0M347 549h0M486 507h0M257.3 454h0M232.3 526h0M352.3 532h0M512.6 523h0M360.5 459h0M289.1 514h0M388.9 511h0M211.7 454h0M422.5 485h0M493.9 426h0M396.7 449h0M343.3 506h0M518.2 526h0M475.6 464h0M399.4 439h0M207.2 461h0M399.4 489h0M219.6 332h0M280.1 537h0M372.1 451h0M483.1 518h0M270.1 453h0M237.1 492h0M283.9 513h0M397.8 537h0M265.2 478h0M256.9 519h0M267 534h0M236 479h0M285.7 500h0M209.1 492h0M481.2 523h0M342.9 471h0M244.3 505h0M478.9 530h0M242.4 477h0M493.9 512h0M248.3 528h0M284.3 506h0M270.4 540h0M530.1 520h0M392.2 504h0M207.7 488h0M399.4 482h0M505.5 528h0M367.2 512h0M372.8 460h0M403.4 502h0M394.8 422h0M272.3 475h0M533.8 477h0M561.1 528h0M536.5 526h0M545.1 528h0M370.2 518h0M537.3 339h0M222.9 480h0M377 526h0M383.3 504h0M269.6 515h0M346.7 486h0M242.4 510h0M539.9 538h0M515.9 513h0M392.6 521h0M227.8 504h0M518.5 405h0M210.2 519h0M291.3 489h0M288 549h0M484.9 542h0M531.6 519h0M214.7 492h0M339.2 499h0M395.2 455h0M416.9 512h0M235.6 507h0M257.7 498h0M255.5 508h0M253.3 504h0M341.8 474h0M372.1 436h0M492.5 338h0M222.2 477h0M336.2 521h0M340.3 491h0M343.2 502h0M517.5 420h0M552.6 504h0M345.9 514h0M360.5 497h0M337 493h0M215.8 529h0M418 507h0M401.2 472h0M540.6 527h0M536.9 539h0M504.7 406h0M273.4 508h0M279.7 506h0M203.5 530h0M477.8 531h0M352 373h0M243.1 502h0M211.4 537h0M288.4 495h0M531.6 521h0M416.2 498h0M231.9 522h0M338.8 507h0M360.1 493h0M344 511h0M363.1 441h0M227.4 512h0M209.3 360h0M261.1 508h0M479.3 553h0M351.2 450h0M266.6 509h0M403.1 459h0M289.4 493h0M500.6 509h0M229.3 548h0M267.8 443h0M524.5 528h0M430.7 488h0M502.5 540h0M259.9 444h0M429.6 497h0M265.9 453h0M264.8 494h0M225.2 394h0M535.4 497h0M342.9 509h0M407.2 513h0M519 547h0M397.2 496h0M430.3 518h0M201.6 551h0M520.8 532h0M210.4 388h0M381.4 506h0M271.2 494h0M427 503h0M352.1 364h0M254.7 515h0M293.6 489h0M416.1 510h0M413.6 498h0M547 501h0M354.9 559h0M265.8 375h0M518.4 431h0M484.9 492h0M412.8 506h0M341.4 508h0M288.4 534h0M274.9 478h0M280.1 509h0M527.9 501h0M511.5 498h0M334.7 486h0M206.8 467h0M222.2 489h0M243.1 529h0M532 528h0M400.8 492h0M479.7 536h0M414.7 523h0M262.5 512h0M257.7 458h0M263.7 460h0M407.2 438h0M236 475h0M213.9 507h0M533.8 485h0M342.9 471h0M498.4 523h0M539.9 528h0M526.5 501h0M416.1 497h0M415.4 492h0M377 490h0M504.7 523h0M265.9 499h0M410.9 531h0M388.5 495h0M380.3 542h0M404.2 469h0M222.2 508h0M375.4 525h0M239 434h0M532 500h0M242.8 536h0M499.1 536h0M533.8 495h0M390 485h0M227.1 510h0M400.8 518h0M204.6 480h0M262.2 468h0M264.1 521h0M557.4 530h0M390.3 486h0M381 514h0M559.6 505h0M280.1 490h0M384.8 505h0M492.1 367h0M545.5 531h0M254.3 495h0M400.4 562h0M217.3 421h0M260.3 495h0M512.5 534h0M381.4 492h0M514.4 534h0M253.9 501h0M553.3 521h0M218.9 477h0M383.3 517h0M420.3 529h0M391.1 495h0M560.7 503h0M532.3 517h0M528.2 516h0M349.6 468h0M396.3 486h0M279 520h0M238.3 499h0M424 428h0M415 484h0M337 429h0M286.9 484h0M526.5 554h0M345.9 502h0M521.5 523h0M527.9 508h0M429.3 498h0M416.9 437h0M477.8 416h0M288.8 459h0M289.5 542h0M550.3 520h0M291 504h0M347.4 503h0M259.9 505h0M267 487h0M558.5 504h0M402.3 513h0M226.9 375h0M537.3 534h0M290.9 477h0M378.7 340h0M206.1 510h0M236 504h0M413.5 556h0M258.8 502h0M400.1 470h0M210.6 508h0M359.7 512h0M251.7 490h0M234.6 508h0M219.9 475h0M272.3 492h0M350.7 502h0M205.8 496h0M521.5 501h0M344.1 482h0M504.5 380h0M504.7 521h0M229.7 544h0M394.5 504h0M430.3 467h0M259.6 518h0M499.9 537h0M479 442h0M424.4 500h0M341 479h0M359.1 327h0M214.7 501h0M425.9 549h0M532.7 514h0M209.5 489h0M544.7 498h0M258.8 480h0M265.6 476h0M528.7 508h0M255.1 445h0M486.8 553h0M505.5 528h0M554.5 532h0M235.6 517h0M283.1 504h0M237.9 507h0M391.1 469h0M261.4 457h0M271.2 480h0M267.8 470h0M478.2 512h0M518.5 502h0M275.3 524h0M237.5 488h0M249.8 501h0M231.2 489h0M402.3 481h0M549.6 341h0M258.1 503h0M203.5 502h0M500.6 504h0M363.4 500h0M353.5 378h0M268.9 532h0M380.7 495h0M233.4 549h0M255.5 517h0M204.6 483h0M286.9 507h0M401.6 453h0M498.4 551h0M367.6 504h0M241.3 514h0M204.6 483h0M231.5 466h0M286.5 539h0M363.1 519h0M340.3 385h0M405 493h0M533.5 494h0M388.5 445h0M256.2 499h0M218.7 362h0M201.2 492h0M486.4 554h0M387.4 502h0M390.7 521h0M337 503h0M200.2 432h0M212.5 451h0M424.8 515h0M207.7 462h0M406.8 562h0M279.4 506h0M249.5 529h0M267 465h0M349.3 515h0M337.7 487h0M215.8 461h0M353 554h0M369.8 511h0M293.6 511h0M360.5 354h0M366.1 511h0M546.2 553h0M359.4 460h0M389.3 497h0M282 505h0M400.4 504h0M263.3 517h0M200.2 480h0M276.8 478h0M340.3 374h0M350.7 480h0M287.2 499h0M254.3 553h0M375.4 473h0M270.1 542h0M519.9 417h0M549.2 515h0M341.4 475h0M344.1 543h0M360.1 336h0M496.5 528h0M233.8 514h0M279.4 487h0M530.5 472h0M533.1 486h0M269.2 561h0M427.8 487h0M270 471h0M369.1 503h0M236.4 457h0M339.2 497h0M206.8 469h0M497.3 539h0M351.4 475h0M221.5 541h0M396.7 535h0M365.3 530h0M213.9 510h0M369.1 503h0M251.4 502h0M397.8 519h0M350.4 505h0M480.5 516h0M544.7 544h0M206.5 491h0M248 533h0M264.9 487h0M258.1 501h0M397.1 520h0M251.7 496h0M524.4 406h0M224.1 500h0M259.9 505h0M339.9 487h0M370.6 506h0M384.4 526h0M343.2 556h0M421 494h0M400.5 467h0M258.4 482h0M526.5 522h0M486 509h0M406.1 509h0M347.4 532h0M538.7 498h0M512.6 497h0M548.1 522h0M223.3 486h0M269.3 512h0M290.3 456h0M343.3 486h0M201.3 476h0M210.2 460h0M375.4 533h0M351.2 525h0M290.6 473h0M498.4 527h0M271.9 537h0M290.3 520h0M501.7 522h0M544.7 493h0M268.9 534h0M288.8 509h0M286.9 503h0M264.1 458h0M380.7 524h0M525.2 554h0M274.9 498h0M375.8 515h0M268.2 460h0M209.5 501h0M524.2 545h0M401.2 416h0M378.7 504h0M480.8 528h0M240.1 527h0M494.9 409h0M415.8 530h0M378 382h0M537.1 341h0M205.8 475h0M412 532h0M203.5 504h0M378.1 337h0M210.6 518h0M221.5 504h0M339.5 477h0M405 516h0M268.5 524h0M369.8 524h0M373.5 543h0M477.5 529h0M224.8 508h0M215.8 496h0M373.5 504h0M374.7 452h0M289 511h0M351.5 496h0M422.1 495h0M273.1 473h0M243.1 538h0M213.3 512h0M293.2 549h0M370.9 538h0M513.4 412h0M280.9 531h0M254.7 502h0M430 480h0M368.3 487h0M387.4 510h0M415.8 487h0M566.4 481h0M544.3 513h0M394.1 508h0M342.2 464h0M260.3 519h0M503.2 506h0M258.8 485h0M543.2 424h0M204.3 477h0M359 534h0M478.1 515h0M201.3 477h0M532 503h0M418.8 481h0M484.2 491h0M541.4 492h0M260.3 486h0M385.8 508h0M500.6 503h0M334.3 417h0M267.8 512h0M367.2 517h0M213.6 510h0M524.9 512h0M278.6 506h0M528.7 515h0M359.4 503h0M400.8 515h0M227.1 507h0M481.9 530h0M381 507h0M362.3 502h0M404.2 499h0M288.4 503h0M254.7 502h0M517 526h0M421 511h0M367.6 489h0M540.9 527h0M357.5 515h0M392.6 499h0M428.9 468h0M479.7 445h0M210.6 329h0M218.1 472h0M340 497h0M219.2 469h0M430.3 487h0M551.8 526h0M509.2 498h0M267.8 467h0M482.7 515h0M428.9 483h0M549.6 556h0M339.5 510h0M531.6 487h0M231.5 492h0M334.3 441h0M396.3 513h0M230.4 493h0M273.4 441h0M532.8 516h0M261.8 501h0M401.6 493h0M428.5 481h0M359 503h0M360.8 381h0M401.6 470h0M265.5 391h0M203.9 453h0M230.8 506h0M380.7 492h0M373.5 525h0M288.8 437h0M206.8 476h0M238.3 498h0M549.5 340h0M347 491h0M202.8 519h0M338.8 473h0" stroke="#00ff00" stroke-width="4.1" stroke-linecap="round" fill="none"/>
<path d="M204.7 121h4m-2 0V144M163.1 192V216m-2 0h4M317.6 14V72m-2 0h4M267.9 183h4m-2 0V219m-2 0h4M227.3 108h4m-2 0V146m-2 0h4M403.3 94h4m-2 0V140m-2 0h4M334.1 167h4m-2 0V203m-2 0h4M198.2 216h4m-2 0V254m-2 0h4M383.5 118h4m-2 0V180m-2 0h4M374.5 205h4m-2 0V258m-2 0h4M292.6 219h4m-2 0V251m-2 0h4M242 206h4m-2 0V247m-2 0h4M321.7 168h4m-2 0V213m-2 0h4M317.8 14V108m-2 0h4M186.8 217V270M150 216h4m-2 0V270M381 215V256m-2 0h4M390.9 14V140m-2 0h4M385.7 58h4m-2 0V143m-2 0h4M329.5 175h4m-2 0V201m-2 0h4M315 190h4m-2 0V229m-2 0h4M164.5 165h4m-2 0V214m-2 0h4M196 50h4m-2 0V143M377.9 134h4m-2 0V179m-2 0h4M259.1 19h4m-2 0V105m-2 0h4M239.7 201h4m-2 0V230m-2 0h4M383.5 227h4m-2 0V270M176.8 198h4m-2 0V245m-2 0h4M226.1 87h4m-2 0V186m-2 0h4M240.9 221h4m-2 0V263m-2 0h4M350.9 195h4m-2 0V259m-2 0h4M334.1 230h4m-2 0V270M353.1 46h4m-2 0V138m-2 0h4M255.4 185h4m-2 0V225m-2 0h4M145.5 93h4m-2 0V204m-2 0h4M347.6 187h4m-2 0V247m-2 0h4M365.5 162h4m-2 0V229m-2 0h4M310.6 180h4m-2 0V212m-2 0h4M195.9 230h4m-2 0V250m-2 0h4M404 28h4m-2 0V112m-2 0h4M174.6 195h4m-2 0V219m-2 0h4M309.4 177h4m-2 0V220m-2 0h4M243.1 220h4m-2 0V270m-2 0h4M296.7 184V200m-2 0h4M220.6 145h4m-2 0V184m-2 0h4M304.8 148h4m-2 0V189m-2 0h4M191.4 188h4m-2 0V261m-2 0h4M399.2 212h4m-2 0V233m-2 0h4M240.9 210h4m-2 0V270M175.7 203h4m-2 0V236m-2 0h4M226.3 213h4m-2 0V266m-2 0h4M139 60h4m-2 0V143M137.2 38h4m-2 0V154m-2 0h4M226.9 75h4m-2 0V146M146.5 135h4m-2 0V171m-2 0h4M243.1 254h4m-2 0V270M174.6 160h4m-2 0V198m-2 0h4M394.5 50h4m-2 0V73m-2 0h4M404.5 79h4m-2 0V156m-2 0h4M259.5 14V91m-2 0h4M328.3 200h4m-2 0V222m-2 0h4M197.2 222h4m-2 0V270M190.2 202V217m-2 0h4M323.7 154V185m-2 0h4M324.9 178h4m-2 0V229m-2 0h4M244.2 170h4m-2 0V268m-2 0h4M289.4 45h4m-2 0V95m-2 0h4M212.2 98h4m-2 0V156M237.4 106h4m-2 0V180m-2 0h4M270 204h4m-2 0V233m-2 0h4M315.7 43h4m-2 0V110m-2 0h4M208.3 192h4m-2 0V231m-2 0h4M224.9 208V236m-2 0h4M152 149h4m-2 0V154M382.4 126h4m-2 0V136M179.1 149h4m-2 0V205m-2 0h4M325 186h4m-2 0V253m-2 0h4M276.6 207V255m-2 0h4M335 158V181m-2 0h4M340.8 216h4m-2 0V253m-2 0h4M275.5 243h4m-2 0V270M319.4 186h4m-2 0V249m-2 0h4M224.8 35h4m-2 0V113m-2 0h4M376.6 95h4m-2 0V168m-2 0h4M208.3 192h4m-2 0V241m-2 0h4M217.2 110h4m-2 0V171m-2 0h4M243.1 157h4m-2 0V184m-2 0h4M374.5 184h4m-2 0V266m-2 0h4M402.6 175h4m-2 0V216m-2 0h4M179.1 170h4m-2 0V238m-2 0h4M188.2 103h4m-2 0V167M349.8 131h4m-2 0V193m-2 0h4M147.6 160h4m-2 0V211m-2 0h4M270 193h4m-2 0V243m-2 0h4M202.7 152h4m-2 0V154M345.1 185V210m-2 0h4M360.9 180h4m-2 0V232m-2 0h4M163.6 155h4m-2 0V226m-2 0h4M301.3 151V202m-2 0h4M239.7 204h4m-2 0V227m-2 0h4M290.3 40h4m-2 0V137M259.6 197V215m-2 0h4M152.1 207h4m-2 0V255m-2 0h4M225.2 188h4m-2 0V247m-2 0h4M185.4 201V247m-2 0h4M212.5 191V229m-2 0h4M314.9 199h4m-2 0V232m-2 0h4M257.6 144h4m-2 0V197m-2 0h4M191.2 208V235m-2 0h4M212.5 191V227m-2 0h4M342.8 188V216m-2 0h4M385.4 208V236m-2 0h4M171.2 194V227m-2 0h4M164.5 128h4m-2 0V169m-2 0h4M404.8 72h4m-2 0V156m-2 0h4M355.8 14V157M274.6 208h4m-2 0V249m-2 0h4M220.6 243h4m-2 0V270M200.5 186h4m-2 0V229m-2 0h4M292.4 88h4m-2 0V140m-2 0h4M346.4 193h4m-2 0V225m-2 0h4M153.4 176h4m-2 0V252m-2 0h4M383.7 27h4m-2 0V83m-2 0h4M188.9 202V230m-2 0h4M231.9 173h4m-2 0V208m-2 0h4M193.7 268h4m-2 0V270M154.5 173h4m-2 0V226m-2 0h4M295.1 14V93m-2 0h4M269 187h4m-2 0V216m-2 0h4M225.2 143h4m-2 0V187m-2 0h4M384.5 199V238m-2 0h4M332.6 159V205m-2 0h4M271.5 91h4m-2 0V184m-2 0h4M219.6 208h4m-2 0V270M350.9 153h4m-2 0V235m-2 0h4M268.7 199V219m-2 0h4M137.7 202h4m-2 0V270M405.2 81h4m-2 0V138m-2 0h4M302.5 108h4m-2 0V219m-2 0h4M191.2 208V231m-2 0h4M281.1 222V240m-2 0h4M339.6 236h4m-2 0V270M214 163h4m-2 0V235m-2 0h4M176.8 185h4m-2 0V234m-2 0h4M145.5 223h4m-2 0V270M258.4 54h4m-2 0V141m-2 0h4M279.1 142h4m-2 0V148M403.6 141h4m-2 0V200m-2 0h4M188.9 202V245m-2 0h4M261.7 40h4m-2 0V150M235.4 150h4m-2 0V241m-2 0h4M299.3 158h4m-2 0V218m-2 0h4M213.6 78h4m-2 0V129m-2 0h4M280.1 163h4m-2 0V186m-2 0h4M318.2 174h4m-2 0V217m-2 0h4M388 103h4m-2 0V173m-2 0h4M224.9 208V232m-2 0h4M307.2 190h4m-2 0V226m-2 0h4M379 176h4m-2 0V184M196.5 69h4m-2 0V101m-2 0h4M374.2 221V268m-2 0h4M400.4 101h4m-2 0V160m-2 0h4M158.7 201V226m-2 0h4M313.1 79h4m-2 0V162m-2 0h4M227.7 92h4m-2 0V164m-2 0h4M186.9 167h4m-2 0V211m-2 0h4M250.7 206V270M335.3 210h4m-2 0V261m-2 0h4M334.1 102h4m-2 0V120M152 206h4m-2 0V228m-2 0h4M324 159h4m-2 0V198m-2 0h4M407.8 204V212m-2 0h4M324.9 171h4m-2 0V197m-2 0h4M371.9 187V234m-2 0h4M260.6 24h4m-2 0V107m-2 0h4M159.9 201V253m-2 0h4M321.7 168h4m-2 0V192m-2 0h4M204.8 142h4m-2 0V144M255.4 157h4m-2 0V207m-2 0h4M403.6 180h4m-2 0V228m-2 0h4M320.4 135h4m-2 0V207m-2 0h4M239.8 207h4m-2 0V255m-2 0h4M197.8 33h4m-2 0V167m-2 0h4M387.7 77h4m-2 0V178m-2 0h4M174.6 133h4m-2 0V170m-2 0h4M301.5 216h4m-2 0V249m-2 0h4M307.2 157h4m-2 0V270M285.8 177h4m-2 0V216m-2 0h4M315.6 139V157m-2 0h4M163.6 187h4m-2 0V228m-2 0h4M152 226h4m-2 0V270M386.7 160h4m-2 0V222m-2 0h4M192.7 188h4m-2 0V232m-2 0h4M193.7 135h4m-2 0V150M226.6 14V123m-2 0h4M315.4 27h4m-2 0V84M222.9 157h4m-2 0V169M265.4 213h4m-2 0V242m-2 0h4M244.2 149h4m-2 0V250m-2 0h4M352.8 24h4m-2 0V64m-2 0h4M393 43h4m-2 0V95m-2 0h4M320.4 189h4m-2 0V234m-2 0h4M339.4 182V224m-2 0h4M160 147h4m-2 0V149M331.7 164h4m-2 0V217m-2 0h4M220.6 174h4m-2 0V221m-2 0h4M146.5 186h4m-2 0V224m-2 0h4M152 197h4m-2 0V248m-2 0h4M226.3 161h4m-2 0V221m-2 0h4M146.5 201h4m-2 0V270M235.3 204h4m-2 0V254m-2 0h4M242 147h4m-2 0V229m-2 0h4M401.2 30h4m-2 0V121m-2 0h4M200.2 196V221m-2 0h4M198.2 77h4m-2 0V175m-2 0h4M366.6 146h4m-2 0V234m-2 0h4M174.6 157h4m-2 0V200m-2 0h4M317.2 150h4m-2 0V200m-2 0h4M352.2 120h4m-2 0V159m-2 0h4M261.4 57h4m-2 0V117m-2 0h4M288 139h4m-2 0V178m-2 0h4M164.1 192V226m-2 0h4M228.6 223h4m-2 0V256m-2 0h4M229.3 208V231m-2 0h4M258.6 208V229m-2 0h4M369.9 203h4m-2 0V263m-2 0h4M245.2 220h4m-2 0V254m-2 0h4M171.3 181h4m-2 0V252m-2 0h4M226.5 71h4m-2 0V129m-2 0h4M163.5 173h4m-2 0V239m-2 0h4M162.2 199h4m-2 0V236m-2 0h4M352.9 74h4m-2 0V202m-2 0h4M205.8 202V222m-2 0h4M252.1 162h4m-2 0V219m-2 0h4M360.9 130h4m-2 0V167m-2 0h4M307.2 185h4m-2 0V242m-2 0h4M217.3 182h4m-2 0V222m-2 0h4M292.6 114h4m-2 0V154m-2 0h4M200.3 196V241m-2 0h4M252.1 217h4m-2 0V270M400.3 135h4m-2 0V162M225.1 35h4m-2 0V124m-2 0h4M197.2 209h4m-2 0V245m-2 0h4M368.8 135h4m-2 0V209m-2 0h4M197.5 86h4m-2 0V119m-2 0h4M392.2 196V228m-2 0h4M274.4 195V219m-2 0h4M351.9 195h4m-2 0V237m-2 0h4M384.4 199V208m-2 0h4M191.5 210h4m-2 0V264m-2 0h4M332.6 159V202m-2 0h4M281.3 155h4m-2 0V217m-2 0h4M302.5 171h4m-2 0V222m-2 0h4M408.6 14V129m-2 0h4M308.2 192h4m-2 0V250m-2 0h4M385.8 179h4m-2 0V226m-2 0h4M209.2 193V203m-2 0h4M179.1 153h4m-2 0V203m-2 0h4M324 200h4m-2 0V270M294.1 14V149m-2 0h4M156.7 145h4m-2 0V211m-2 0h4M358.7 172h4m-2 0V220m-2 0h4M229.3 208V209m-2 0h4M347.5 184h4m-2 0V270M388.5 73h4m-2 0V155m-2 0h4M337.2 182V236m-2 0h4M137.7 138h4m-2 0V211m-2 0h4M399.9 195V205m-2 0h4M214.8 208V217m-2 0h4M362.2 181h4m-2 0V248m-2 0h4M399 29h4m-2 0V156m-2 0h4M407.1 189h4m-2 0V239m-2 0h4M204.9 210h4m-2 0V253m-2 0h4M145.2 499V499M150.3 307V389m-2 0h4M111.7 412h4m-2 0V517m-2 0h4M115.8 429h4m-2 0V441M152 517h4m-2 0V547m-2 0h4M115.6 502V510m-2 0h4M162.4 506V515m-2 0h4M117.6 430h4m-2 0V433M108.7 497V510m-2 0h4M85 432h4m-2 0V491m-2 0h4M88.7 476h4m-2 0V525m-2 0h4M137.2 489V514m-2 0h4M160.1 426h4m-2 0V443M91.3 396h4m-2 0V456m-2 0h4M124.8 490V508m-2 0h4M150.6 523h4m-2 0V563M111.8 499h4m-2 0V531m-2 0h4M161.9 475h4m-2 0V514m-2 0h4M142 496V501m-2 0h4M131.2 451h4m-2 0V453M137 505h4m-2 0V545m-2 0h4M108.7 497V515m-2 0h4M84 515h4m-2 0V543m-2 0h4M86.9 425h4m-2 0V450m-2 0h4M79.9 416h4m-2 0V510m-2 0h4M105.2 511h4m-2 0V562m-2 0h4M134.3 498V510m-2 0h4M144.7 447h4m-2 0V531m-2 0h4M145.1 432h4m-2 0V506m-2 0h4M106.6 343h4m-2 0V403m-2 0h4M90.2 436h4m-2 0V485m-2 0h4M152.8 427h4m-2 0V517m-2 0h4M101.2 416h4m-2 0V443M111.7 477h4m-2 0V506m-2 0h4M108.1 409h4m-2 0V439M159 422h4m-2 0V443M106.1 347h4m-2 0V391m-2 0h4M120.6 448h4m-2 0V524m-2 0h4M154.8 494V497m-2 0h4M161.6 507h4m-2 0V546m-2 0h4M76.4 495V541m-2 0h4M89.4 508h4m-2 0V563M156.8 443h4m-2 0V446M157.5 435h4m-2 0V446M99.8 503V532m-2 0h4M157.5 410h4m-2 0V446M158.8 494V530m-2 0h4M91.6 430h4m-2 0V493m-2 0h4M120.4 504V517m-2 0h4M75.9 484h4m-2 0V534m-2 0h4M86.1 454h4m-2 0V455M81.4 510h4m-2 0V559m-2 0h4M111 529h4m-2 0V556m-2 0h4M138.5 438h4m-2 0V445M77.5 484V523m-2 0h4M118.4 380h4m-2 0V433M99.5 503V506m-2 0h4M136.5 489V494m-2 0h4M135.6 397h4m-2 0V448M78.1 462h4m-2 0V495m-2 0h4M104.9 510V513m-2 0h4M73.7 498h4m-2 0V563M90.5 446h4m-2 0V481m-2 0h4M98.6 429h4m-2 0V443M140.3 502h4m-2 0V540m-2 0h4M146.9 431h4m-2 0V474M145.4 458h4m-2 0V520m-2 0h4M162.3 478h4m-2 0V496m-2 0h4M93.5 458h4m-2 0V490m-2 0h4M73.3 419h4m-2 0V460M154.2 423h4m-2 0V439M128.7 512V545m-2 0h4M134.8 489h4m-2 0V516m-2 0h4M139.7 314h4m-2 0V445M83.4 483V552m-2 0h4M127 490V506m-2 0h4M111.2 505V524m-2 0h4M113.4 477V518m-2 0h4M111 501h4m-2 0V551m-2 0h4M84.7 411h4m-2 0V455M144.9 499V499M130.5 409h4m-2 0V453M70.4 432h4m-2 0V490m-2 0h4M81 498h4m-2 0V539m-2 0h4M121.3 461h4m-2 0V496m-2 0h4M140.5 496V514m-2 0h4M120.2 443h4m-2 0V496m-2 0h4M152.8 437h4m-2 0V439M137.4 385h4m-2 0V530m-2 0h4M150.1 486h4m-2 0V526m-2 0h4M142.3 496V526m-2 0h4M89.8 428h4m-2 0V462m-2 0h4M79.2 428h4m-2 0V553m-2 0h4M90.9 398h4m-2 0V505m-2 0h4M91.6 395h4m-2 0V444m-2 0h4M103.2 510V551m-2 0h4M73.9 495V529m-2 0h4M78.5 485h4m-2 0V524m-2 0h4M90.5 477h4m-2 0V520m-2 0h4M161.9 462h4m-2 0V514m-2 0h4M114 524h4m-2 0V563M150.9 489h4m-2 0V511m-2 0h4M105.9 498h4m-2 0V529m-2 0h4M140.8 496V496m-2 0h4M129.7 416h4m-2 0V453M155.1 494V527m-2 0h4M151.5 476V481m-2 0h4M105.7 480V483M149.5 511h4m-2 0V558m-2 0h4M77.4 413h4m-2 0V422M140.5 496V563M89.8 475h4m-2 0V506m-2 0h4M72.6 443h4m-2 0V496m-2 0h4M150.6 488h4m-2 0V542m-2 0h4M156.6 524V550m-2 0h4M115.8 440h4m-2 0V503m-2 0h4M131.2 435h4m-2 0V512m-2 0h4M162.4 506V509m-2 0h4M97.3 499V503M139.4 506V535m-2 0h4M121.3 496h4m-2 0V535m-2 0h4M98.4 499V520m-2 0h4M76.4 495V501M129 412h4m-2 0V453M132.3 520h4m-2 0V563M83.4 483V504m-2 0h4M110.5 307V563M79.9 434h4m-2 0V463M133.4 418h4m-2 0V434M97.7 499V516m-2 0h4M89.4 462h4m-2 0V500m-2 0h4M80.6 498h4m-2 0V534m-2 0h4M135 498V510m-2 0h4M112.3 512V520m-2 0h4M145.4 463h4m-2 0V520m-2 0h4M91.3 471h4m-2 0V501m-2 0h4M161.5 430h4m-2 0V506m-2 0h4M90.9 456h4m-2 0V511m-2 0h4M102.9 422h4m-2 0V430M84.3 433h4m-2 0V434M130.1 451h4m-2 0V500m-2 0h4M101.3 529V544m-2 0h4M78.6 484V494m-2 0h4M111.4 497h4m-2 0V563M150.5 362h4m-2 0V432M80.3 437h4m-2 0V463M76.1 523V539m-2 0h4M76 495V501M149.9 476h4m-2 0V509m-2 0h4M103.7 479h4m-2 0V542m-2 0h4M159.1 494V494M119.4 471h4m-2 0V538m-2 0h4M96.2 499V529m-2 0h4M142.7 511V546m-2 0h4M147.3 430h4m-2 0V458m-2 0h4M143.1 511V537m-2 0h4M86.1 516h4m-2 0V563M162.3 482h4m-2 0V529m-2 0h4M136.6 401h4m-2 0V440m-2 0h4M138.3 489V545m-2 0h4M146.9 457h4m-2 0V523m-2 0h4M138.5 442h4m-2 0V445M132.3 443h4m-2 0V443M94.2 409h4m-2 0V428M97.8 418h4m-2 0V434M126.8 433h4m-2 0V436M151.8 476V483m-2 0h4M154.6 432h4m-2 0V439M110.7 480h4m-2 0V546m-2 0h4M100.6 529V530m-2 0h4M158.8 494V494M118.9 501V538m-2 0h4M127.3 490V542m-2 0h4M72.6 440h4m-2 0V498m-2 0h4M145.2 499V499m-2 0h4M79.4 484V500m-2 0h4M84.9 494V500m-2 0h4M124.4 480V534m-2 0h4M120.4 504V551m-2 0h4M86.9 435h4m-2 0V455M118.9 501V561m-2 0h4M137 416h4m-2 0V439m-2 0h4M135.4 498V530m-2 0h4M140.2 496V539m-2 0h4M74.8 415h4m-2 0V430M132.3 426h4m-2 0V443M116.2 435h4m-2 0V441M121.7 482h4m-2 0V534m-2 0h4M101.9 414h4m-2 0V432M102.8 510V547m-2 0h4M83.8 494V499m-2 0h4M83.9 409h4m-2 0V434M151.7 419h4m-2 0V432M145.4 511h4m-2 0V540m-2 0h4M139.7 316h4m-2 0V395m-2 0h4M162.4 506V506m-2 0h4M83.4 483V531m-2 0h4M76.3 511h4m-2 0V561m-2 0h4M97.7 499V510m-2 0h4M105.5 409h4m-2 0V443M89.1 492h4m-2 0V536m-2 0h4M149.2 309h4m-2 0V413m-2 0h4M99.7 432h4m-2 0V443M104.4 426h4m-2 0V443M80.3 429h4m-2 0V534m-2 0h4M150.6 490h4m-2 0V552m-2 0h4M119.3 501V501m-2 0h4M152.4 431h4m-2 0V432M116.2 426h4m-2 0V441M141.7 307V420m-2 0h4M81.9 483V535m-2 0h4M92 449h4m-2 0V490m-2 0h4M152.6 476V493m-2 0h4M82.5 501h4m-2 0V563M87.6 436h4m-2 0V514m-2 0h4M132.6 514h4m-2 0V560m-2 0h4M128.4 512V531m-2 0h4M88 417h4m-2 0V442M125.1 490V491m-2 0h4M119.5 457h4m-2 0V518m-2 0h4M92 532h4m-2 0V556m-2 0h4M103.4 409h4m-2 0V430M74.3 515V539m-2 0h4M116.2 435h4m-2 0V516m-2 0h4M127.1 390h4m-2 0V436M146.9 471h4m-2 0V520m-2 0h4M282.7 503V529m-2 0h4M275.3 498V530m-2 0h4M398.8 520h4m-2 0V563M212.9 479V546m-2 0h4M391 498h4m-2 0V528m-2 0h4M262.2 459V466M262.5 489h4m-2 0V521m-2 0h4M420.9 354h4m-2 0V491m-2 0h4M223.3 498V524m-2 0h4M503.9 364h4m-2 0V422m-2 0h4M400.3 414h4m-2 0V523m-2 0h4M333.8 416h4m-2 0V466M521.2 501V512m-2 0h4M336.8 519h4m-2 0V560m-2 0h4M275.7 474V505m-2 0h4M265 406h4m-2 0V430m-2 0h4M531.2 466V515m-2 0h4M288.6 473h4m-2 0V549m-2 0h4M213.5 433h4m-2 0V526m-2 0h4M514.4 520V563M362.6 453h4m-2 0V478M496.7 414h4m-2 0V427M504.7 510V525m-2 0h4M389.1 430h4m-2 0V472m-2 0h4M520.4 501V536m-2 0h4M515.3 317h4m-2 0V340M346.2 485V544m-2 0h4M247.7 520V550m-2 0h4M344.1 485V533m-2 0h4M540.6 470V498m-2 0h4M219.1 472h4m-2 0V517m-2 0h4M285.4 307V410m-2 0h4M494.4 326h4m-2 0V433M561.3 322h4m-2 0V431M377.3 488V546m-2 0h4M483.3 421h4m-2 0V433M262.5 460h4m-2 0V515m-2 0h4M422.8 491h4m-2 0V521m-2 0h4M265 508h4m-2 0V563M428.7 475h4m-2 0V511m-2 0h4M230.3 408h4m-2 0V424M206 447h4m-2 0V492m-2 0h4M510.3 507V520m-2 0h4M287.5 470h4m-2 0V497m-2 0h4M477.3 428h4m-2 0V450M540.1 473h4m-2 0V529m-2 0h4M490.1 517V531m-2 0h4M219.2 474V513m-2 0h4M533.5 320h4m-2 0V337M499.9 506V524m-2 0h4M379.1 520V532m-2 0h4M510.3 507V523m-2 0h4M394.7 504h4m-2 0V545m-2 0h4M363.3 458h4m-2 0V502m-2 0h4M505.9 510V559m-2 0h4M382 405h4m-2 0V523m-2 0h4M501.8 507V527m-2 0h4M282.4 488V492M284.9 424h4m-2 0V434M493.8 343h4m-2 0V433M525.7 509V509m-2 0h4M385.5 490V518m-2 0h4M278.6 509V554m-2 0h4M256.1 443h4m-2 0V486m-2 0h4M343.9 492h4m-2 0V552m-2 0h4M266.5 445h4m-2 0V523m-2 0h4M271.8 512h4m-2 0V561m-2 0h4M562.8 387h4m-2 0V431m-2 0h4M260.4 484V485m-2 0h4M364.8 465h4m-2 0V506m-2 0h4M363.7 444h4m-2 0V510m-2 0h4M232.9 424h4m-2 0V470m-2 0h4M426.2 486V499M409.8 517V517m-2 0h4M505.5 510V540m-2 0h4M429.6 481V524m-2 0h4M287.2 507V519m-2 0h4M541 470V510m-2 0h4M520.1 501V509m-2 0h4M547.3 493V551m-2 0h4M398.5 435h4m-2 0V470m-2 0h4M336.2 505V526m-2 0h4M389.8 464h4m-2 0V525m-2 0h4M261.4 488V492m-2 0h4M228.5 399h4m-2 0V434M504.1 368h4m-2 0V428M263.2 489h4m-2 0V527m-2 0h4M563.2 372h4m-2 0V431M256.4 455h4m-2 0V521m-2 0h4M516.2 307V384m-2 0h4M357 517h4m-2 0V544m-2 0h4M551.1 511V541m-2 0h4M363.3 441h4m-2 0V472m-2 0h4M260.7 488V513m-2 0h4M267.7 488h4m-2 0V512m-2 0h4M236.4 487V494m-2 0h4M402.9 399h4m-2 0V469m-2 0h4M520.2 536h4m-2 0V563M406.8 516V529m-2 0h4M481.9 512V519m-2 0h4M371.3 509V524m-2 0h4M204.1 433h4m-2 0V488m-2 0h4M373.4 415h4m-2 0V434m-2 0h4M493 561h4m-2 0V563M393.3 325h4m-2 0V438M221.8 469V492m-2 0h4M542.9 510V517m-2 0h4M494.5 370h4m-2 0V427M406.7 434h4m-2 0V436M265.6 490V559m-2 0h4M536.9 530V542m-2 0h4M383.5 340h4m-2 0V563M227.4 525V525m-2 0h4M271.5 488V527m-2 0h4M494.2 510V554m-2 0h4M538.7 490V546m-2 0h4M265.8 466h4m-2 0V485m-2 0h4M555.2 514V559m-2 0h4M519.9 501h4m-2 0V541m-2 0h4M357 419h4m-2 0V462M280.4 389h4m-2 0V421M379.4 434h4m-2 0V517m-2 0h4M479.1 518h4m-2 0V563M504.2 401h4m-2 0V428M212.7 514h4m-2 0V540m-2 0h4M508.7 503h4m-2 0V563M557.8 505V531m-2 0h4M287.2 507V514m-2 0h4M364.8 468h4m-2 0V534m-2 0h4M483.8 488V493m-2 0h4M284.7 328h4m-2 0V407m-2 0h4M394.4 510h4m-2 0V541m-2 0h4M387.4 537V540m-2 0h4M494.3 379h4m-2 0V412m-2 0h4M509.4 513h4m-2 0V563M357.1 526V542m-2 0h4M223.3 498V501m-2 0h4M489.4 522V538m-2 0h4M370 449h4m-2 0V474M208.2 454h4m-2 0V487m-2 0h4M479.3 515V516m-2 0h4M476.9 516h4m-2 0V563M232.6 466h4m-2 0V539m-2 0h4M388.5 480V502m-2 0h4M385.1 490V529m-2 0h4M346.6 455h4m-2 0V486m-2 0h4M265.4 444h4m-2 0V473m-2 0h4M368.7 509V530m-2 0h4M374.7 488V515m-2 0h4M429.6 481V550m-2 0h4M481.1 512V548m-2 0h4M499.6 370h4m-2 0V422m-2 0h4M198.2 471h4m-2 0V541m-2 0h4M535.4 508V525m-2 0h4M373.9 517V522m-2 0h4M520.4 501V526m-2 0h4M553.7 507V527m-2 0h4M221.5 469V492M556.3 319h4m-2 0V376m-2 0h4M547.7 523V530m-2 0h4M273.3 457h4m-2 0V503m-2 0h4M511.8 499V543m-2 0h4M400.3 475h4m-2 0V525m-2 0h4M415.4 484V540m-2 0h4M352.1 402h4m-2 0V423M530.2 466V495m-2 0h4M229.6 476V510m-2 0h4M493.2 510V510m-2 0h4M426.9 492h4m-2 0V544m-2 0h4M400.3 471h4m-2 0V518m-2 0h4M278.9 408h4m-2 0V421M343.9 415h4m-2 0V493m-2 0h4M276 498V534m-2 0h4M345.6 342h4m-2 0V401m-2 0h4M491.2 395h4m-2 0V433M358.5 410h4m-2 0V462M279.6 504h4m-2 0V563M492.7 510V523m-2 0h4M267.3 478h4m-2 0V529m-2 0h4M416.5 484V535m-2 0h4M275.3 474V500m-2 0h4M251.3 492V542m-2 0h4M352.7 506V508m-2 0h4M242.7 506V549m-2 0h4M262.5 494V551m-2 0h4M536.5 508V510m-2 0h4M362.7 496V500m-2 0h4M504.6 516h4m-2 0V548m-2 0h4M292.3 432h4m-2 0V463m-2 0h4M426.5 430h4m-2 0V488m-2 0h4M369.3 519h4m-2 0V556m-2 0h4M423.7 485V501m-2 0h4M290.5 428h4m-2 0V448M533.6 336h4m-2 0V337M265.8 475h4m-2 0V541m-2 0h4M267.7 430h4m-2 0V433M239.4 496V523m-2 0h4M510.1 513h4m-2 0V547m-2 0h4M540.1 503h4m-2 0V554m-2 0h4M552.2 507V522m-2 0h4M221.4 307V406m-2 0h4M261.5 488V493m-2 0h4M367.8 416h4m-2 0V434M492.7 510V538m-2 0h4M362.4 496V513m-2 0h4M269.5 425h4m-2 0V431M288.6 430h4m-2 0V489m-2 0h4M231.8 492h4m-2 0V563M253.2 492V505M207.1 503h4m-2 0V519m-2 0h4M361.1 437h4m-2 0V563M516.5 402V430M417.3 484V521m-2 0h4M532.8 495V535m-2 0h4M256.8 479h4m-2 0V515m-2 0h4M357 444h4m-2 0V462M337.9 417h4m-2 0V428M411.7 509V509m-2 0h4M479.3 515V563M240.5 468V494m-2 0h4M276.2 421h4m-2 0V444M252.4 492V504m-2 0h4M563.6 468h4m-2 0V505m-2 0h4M503.8 379h4m-2 0V428M248 520V563M230.1 476V507m-2 0h4M427.6 501h4m-2 0V537m-2 0h4M339.8 467h4m-2 0V497m-2 0h4M232.9 427h4m-2 0V471m-2 0h4M242.6 433h4m-2 0V453M259.1 389h4m-2 0V418m-2 0h4M556.2 520h4m-2 0V563M386.6 537V545m-2 0h4M349.2 521h4m-2 0V556m-2 0h4M211 516V516m-2 0h4M426.6 517V544m-2 0h4M226.2 411h4m-2 0V434M383.2 494V542m-2 0h4M285 520V538m-2 0h4M214.6 437h4m-2 0V447M356.6 425h4m-2 0V462M532 466V482m-2 0h4M523.4 510V533m-2 0h4M237 439h4m-2 0V440M525.2 333h4m-2 0V423M382.5 494V505m-2 0h4M239.6 504h4m-2 0V551m-2 0h4M206.1 476V502m-2 0h4M493 428h4m-2 0V433M533.1 495V543m-2 0h4M204.9 447h4m-2 0V460M429.6 481V501m-2 0h4M245.6 533h4m-2 0V559m-2 0h4M503.5 327h4m-2 0V417m-2 0h4M530.2 466V511m-2 0h4M398.1 468h4m-2 0V475M201.9 515h4m-2 0V543m-2 0h4M217.3 509V539m-2 0h4M396.5 510h4m-2 0V545m-2 0h4M259.5 428h4m-2 0V504m-2 0h4M349.9 397h4m-2 0V425M394.7 470h4m-2 0V514m-2 0h4M413.4 483h4m-2 0V516m-2 0h4M284 310h4m-2 0V404m-2 0h4M366.4 456h4m-2 0V510m-2 0h4M272.5 447h4m-2 0V478M379.1 520V537m-2 0h4M527.8 307V412M474.4 495h4m-2 0V563M563.3 365h4m-2 0V431M336.2 505V515m-2 0h4M357.1 526V535m-2 0h4M518.9 514V535m-2 0h4M230.8 476V499m-2 0h4M365.2 507h4m-2 0V545m-2 0h4M413.8 504h4m-2 0V563M334.7 505V519m-2 0h4M496.2 518V538m-2 0h4M383.7 307V425M503.4 328h4m-2 0V406m-2 0h4M485 488V519m-2 0h4M565.9 307V422m-2 0h4M254.2 417h4m-2 0V441M535.7 307V337M238.1 440h4m-2 0V470m-2 0h4M276.4 474V498m-2 0h4M533.9 495V505m-2 0h4M231.9 476V493m-2 0h4M419.4 418h4m-2 0V434M561.8 428h4m-2 0V431M552.6 507V527m-2 0h4M474.8 353h4m-2 0V424M418 492V524m-2 0h4M339 436h4m-2 0V467m-2 0h4M357.3 446h4m-2 0V542m-2 0h4M542 509h4m-2 0V546m-2 0h4M220.6 428h4m-2 0V438M419.9 483V533m-2 0h4M228.5 422h4m-2 0V480m-2 0h4M494.7 520V525m-2 0h4M558.2 505V529m-2 0h4M538.7 490V522m-2 0h4M249.5 499V501m-2 0h4M474.3 431h4m-2 0V504m-2 0h4M540.2 470V494m-2 0h4M500.6 506V522m-2 0h4M274.5 474V523m-2 0h4M263.9 501h4m-2 0V550m-2 0h4M398.5 470h4m-2 0V553m-2 0h4M557.7 396h4m-2 0V428M222.6 498V513m-2 0h4M413 327h4m-2 0V398m-2 0h4M541.6 529h4m-2 0V563M260 484V519m-2 0h4M422.1 482V513m-2 0h4M346.9 412h4m-2 0V501m-2 0h4M379.9 520V537m-2 0h4M215.7 418h4m-2 0V447M252.1 492V509m-2 0h4M416.1 484V529m-2 0h4M255 511h4m-2 0V536m-2 0h4M508.9 509V546m-2 0h4M550.7 511V525m-2 0h4M424.3 485V522m-2 0h4M363.3 497h4m-2 0V562m-2 0h4M249.1 499V509m-2 0h4M413.2 500V532m-2 0h4M367.8 509h4m-2 0V563M334.2 439h4m-2 0V558m-2 0h4M341.7 496h4m-2 0V540m-2 0h4M509.5 547h4m-2 0V563M515.5 516V517m-2 0h4M487.5 522V545m-2 0h4M205.6 485h4m-2 0V549m-2 0h4M386.5 414h4m-2 0V424M396.5 466h4m-2 0V503m-2 0h4M370.8 386h4m-2 0V435M360.7 509h4m-2 0V550m-2 0h4M263.9 431h4m-2 0V441M228.8 423h4m-2 0V424M387.4 537V563M269.7 488V530m-2 0h4M496.5 516V534m-2 0h4M336.4 394h4m-2 0V440M260.9 459h4m-2 0V501m-2 0h4M494.3 510V557m-2 0h4M249.5 523V539m-2 0h4M505.3 307V416m-2 0h4M349.2 463h4m-2 0V504m-2 0h4M418 492V529m-2 0h4M221.5 426V488m-2 0h4M206.4 450h4m-2 0V478m-2 0h4M239 496V507m-2 0h4M231.8 421h4m-2 0V452m-2 0h4M538.4 530V563M204.9 431h4m-2 0V460M227.7 496h4m-2 0V562m-2 0h4M226.9 416h4m-2 0V434M344.8 485V560m-2 0h4M508.9 509V534m-2 0h4M226.7 525V551m-2 0h4M537.8 493h4m-2 0V515m-2 0h4M421.8 482V490m-2 0h4M349.2 500h4m-2 0V551m-2 0h4M342.1 406h4m-2 0V424M231.8 444h4m-2 0V499m-2 0h4M528.1 307V386m-2 0h4M279.4 509V533m-2 0h4M290.8 531h4m-2 0V563m-2 0h4M230.8 476V486m-2 0h4M371.2 533h4m-2 0V563M365.2 447h4m-2 0V495m-2 0h4M483.7 488V496m-2 0h4M357.5 526V547m-2 0h4M261.1 488V502m-2 0h4M546.2 493V563M283.1 503V542m-2 0h4M335.3 465h4m-2 0V507m-2 0h4M371.6 458h4m-2 0V527m-2 0h4M271.4 407h4m-2 0V443M240.7 434h4m-2 0V453M537.6 445V446M535.4 508V522m-2 0h4M500.6 506V520m-2 0h4M397.4 446h4m-2 0V482m-2 0h4M339.1 476h4m-2 0V516m-2 0h4M248 499V503m-2 0h4M289 455h4m-2 0V504m-2 0h4M349.5 486h4m-2 0V528m-2 0h4M555.8 419h4m-2 0V427M374.5 426h4m-2 0V430M263.6 434h4m-2 0V492m-2 0h4M218 317h4m-2 0V476m-2 0h4M406.7 429h4m-2 0V436M204.9 422h4m-2 0V460M383.5 307V425m-2 0h4M402.6 450h4m-2 0V481M405.9 402h4m-2 0V434m-2 0h4M510.3 507V548m-2 0h4M211.2 483h4m-2 0V537m-2 0h4M532.8 495V519m-2 0h4M518.9 384h4m-2 0V429M265.4 442h4m-2 0V512m-2 0h4M219 340h4m-2 0V391m-2 0h4M553.7 507V556m-2 0h4M564.9 512V521m-2 0h4M364.8 469h4m-2 0V501m-2 0h4M392.6 499V521m-2 0h4M291.2 357h4m-2 0V408m-2 0h4M345.1 485V533m-2 0h4M214.7 479V535m-2 0h4M291.8 338h4m-2 0V444m-2 0h4M418.6 416h4m-2 0V486m-2 0h4M233.3 471h4m-2 0V551m-2 0h4M252.8 492V497m-2 0h4M559 505V519m-2 0h4M357.3 439h4m-2 0V462M555.2 514V551m-2 0h4M374.9 494h4m-2 0V528m-2 0h4M292.4 456h4m-2 0V498m-2 0h4M203.4 478h4m-2 0V533m-2 0h4M351.9 506V508M271.4 515h4m-2 0V563M541.4 470V474m-2 0h4M405.5 420h4m-2 0V436M275.3 498V519m-2 0h4M206.4 435h4m-2 0V498m-2 0h4M370.6 509V509m-2 0h4M382.9 307V412m-2 0h4M266.2 485h4m-2 0V518m-2 0h4M535.6 307V337M290.8 403h4m-2 0V448M393 499V529m-2 0h4M428.9 481V505m-2 0h4M238.9 428h4m-2 0V502m-2 0h4M331.5 438h4m-2 0V482m-2 0h4M348.1 505V518m-2 0h4M340.2 490h4m-2 0V511m-2 0h4M354.1 528V532m-2 0h4M231.4 484h4m-2 0V545m-2 0h4M557.6 370h4m-2 0V428M476.9 386h4m-2 0V450M343.7 485V545m-2 0h4M267.3 506h4m-2 0V531m-2 0h4M544.7 493V503m-2 0h4M493.7 523h4m-2 0V543m-2 0h4M419.9 483V490m-2 0h4M280.1 488V491m-2 0h4M414.5 492h4m-2 0V537m-2 0h4M207.8 506h4m-2 0V541m-2 0h4M230.8 476V506m-2 0h4M556.7 505V505m-2 0h4M494 362h4m-2 0V394m-2 0h4M283.1 503V525m-2 0h4M280.4 503h4m-2 0V538m-2 0h4M563.4 374h4m-2 0V431m-2 0h4M287.6 507V515m-2 0h4M481.1 512V521m-2 0h4M547.3 493V528m-2 0h4M204.1 407h4m-2 0V456m-2 0h4M384.7 490V546m-2 0h4M419.2 483V492m-2 0h4M388 467h4m-2 0V521m-2 0h4M200.6 491V511m-2 0h4M531.2 466V512m-2 0h4M356.3 427h4m-2 0V440M412 509V511m-2 0h4M556.2 411h4m-2 0V427M362.6 413h4m-2 0V546m-2 0h4M292.3 442h4m-2 0V481m-2 0h4M515.9 516V522m-2 0h4M287.8 417h4m-2 0V514m-2 0h4M276.2 429h4m-2 0V513m-2 0h4M261.3 410h4m-2 0V443m-2 0h4M278.9 523h4m-2 0V563M417.5 487h4m-2 0V534m-2 0h4M492 510V563M508.7 514h4m-2 0V556m-2 0h4M262.5 494V539m-2 0h4M337.3 489V516m-2 0h4M344.7 310h4m-2 0V425M202.2 477h4m-2 0V517m-2 0h4M273.8 474V510m-2 0h4M388.8 411h4m-2 0V480m-2 0h4M282 503V534m-2 0h4M232.6 503h4m-2 0V563M339 442h4m-2 0V504m-2 0h4M255.7 443h4m-2 0V489m-2 0h4M374.7 488V514m-2 0h4M219.8 478h4m-2 0V523m-2 0h4M562.1 322h4m-2 0V372M515.6 333h4m-2 0V430M394.7 445h4m-2 0V512m-2 0h4M220.6 424h4m-2 0V438M215.3 433h4m-2 0V447M501.3 506V510m-2 0h4M273.3 415h4m-2 0V457M496.2 518V563M221.8 469V482m-2 0h4M207.8 464h4m-2 0V520m-2 0h4M503.6 507V563M563.4 514V526m-2 0h4M273.3 439h4m-2 0V478M485.3 488V507m-2 0h4M504 507V514m-2 0h4M382.8 499h4m-2 0V540m-2 0h4M239.8 468V519m-2 0h4M496.5 516V547m-2 0h4M429.2 481V519m-2 0h4M365.9 496h4m-2 0V527m-2 0h4M215.8 509V553m-2 0h4M395.1 494h4m-2 0V551m-2 0h4M215.4 438h4m-2 0V447M489.4 522V527m-2 0h4M559.9 343h4m-2 0V366m-2 0h4M407.1 516V528m-2 0h4M556.7 505V549m-2 0h4M251.3 492V530m-2 0h4M269.1 492h4m-2 0V532m-2 0h4M215.7 440h4m-2 0V447M231.2 476V510m-2 0h4M540.6 470V495m-2 0h4M422.3 424h4m-2 0V443M548.3 307V359M507.5 399h4m-2 0V432M426.9 421h4m-2 0V427M219.8 398h4m-2 0V438M511.1 499V521m-2 0h4M502.9 507V515m-2 0h4M355.6 526V527m-2 0h4M205.6 454h4m-2 0V502m-2 0h4M374.9 425h4m-2 0V556m-2 0h4M559.4 335h4m-2 0V388m-2 0h4M268.8 422h4m-2 0V563m-2 0h4M334.2 439h4m-2 0V466M502 536h4m-2 0V563M395.1 403h4m-2 0V461m-2 0h4M556.9 350h4m-2 0V428M563.8 423V431M242.4 468V484m-2 0h4M205.4 476V500m-2 0h4M278.1 492h4m-2 0V542m-2 0h4M528.9 509h4m-2 0V542m-2 0h4M497.3 516V522m-2 0h4M275.5 517h4m-2 0V540m-2 0h4M484.5 488V519m-2 0h4M525.9 512h4m-2 0V543m-2 0h4M532.8 495V563M505.9 510V514m-2 0h4M342.8 533h4m-2 0V563M363.3 444h4m-2 0V478M514.8 312h4m-2 0V340M506.2 510V524m-2 0h4M339.5 453h4m-2 0V481m-2 0h4M398.1 466h4m-2 0V514m-2 0h4M557.9 366h4m-2 0V428M491.6 510V540m-2 0h4M423.5 419h4m-2 0V432M270.7 501h4m-2 0V549m-2 0h4M399.6 440h4m-2 0V500m-2 0h4M412.1 330h4m-2 0V421M237 431h4m-2 0V440M204.1 516h4m-2 0V561m-2 0h4M266.9 455h4m-2 0V499m-2 0h4M280.9 488V492M204.1 435h4m-2 0V479m-2 0h4M334.2 439h4m-2 0V466M344.2 490h4m-2 0V533m-2 0h4M252.7 528h4m-2 0V558m-2 0h4M222.6 498V544m-2 0h4M564.1 482h4m-2 0V532m-2 0h4M400.7 454h4m-2 0V540m-2 0h4M545.9 493V518m-2 0h4M521.9 501V548m-2 0h4M275.7 498V522m-2 0h4M243.3 415h4m-2 0V453M286.7 501h4m-2 0V536m-2 0h4M499.2 391h4m-2 0V427M422.5 325h4m-2 0V378m-2 0h4M230.1 476V517m-2 0h4M242.6 448h4m-2 0V453M203.9 476V508m-2 0h4M379 425h4m-2 0V445M481.6 512V545m-2 0h4M560 307V428M379.4 440h4m-2 0V445M266.5 489h4m-2 0V553m-2 0h4M380.5 320h4m-2 0V445M214.6 531h4m-2 0V563M546 317h4m-2 0V357m-2 0h4M515.5 349h4m-2 0V410m-2 0h4M474.2 331h4m-2 0V446m-2 0h4M513.3 499V563M423.3 320h4m-2 0V364m-2 0h4M278.6 509V525m-2 0h4M498.7 506V546m-2 0h4M504.7 510V529m-2 0h4M198.2 469h4m-2 0V510m-2 0h4M381.3 505h4m-2 0V546m-2 0h4M364.2 496V507m-2 0h4M481.1 512V540m-2 0h4M546.1 339h4m-2 0V359M504.3 385h4m-2 0V428M511.8 499V561m-2 0h4M485 488V521m-2 0h4M525.9 407h4m-2 0V412M418.4 492V528m-2 0h4M282.6 371h4m-2 0V563M263.3 494V551m-2 0h4M396.5 307V369m-2 0h4M563 321h4m-2 0V389M396.2 496h4m-2 0V563M223.3 498V547m-2 0h4M499.9 506V534m-2 0h4M380.5 410h4m-2 0V497m-2 0h4M554.4 507V561m-2 0h4M347.4 505V537m-2 0h4M484.9 488V532m-2 0h4M292 424h4m-2 0V488m-2 0h4M221.5 498V538m-2 0h4M369.5 509V534m-2 0h4M410.2 517V563M539.7 523h4m-2 0V563M396.1 307V408m-2 0h4M525.9 381h4m-2 0V412M254.4 492V519m-2 0h4M427.4 486V519m-2 0h4M225.6 525V548m-2 0h4M287.5 438h4m-2 0V511m-2 0h4M480.5 512V563M553.9 388h4m-2 0V418M382.3 307V409m-2 0h4M396.1 307V430m-2 0h4M390.2 443h4m-2 0V502m-2 0h4M541.7 470V496m-2 0h4M533.5 495V513m-2 0h4M266.5 478h4m-2 0V521m-2 0h4M401.8 411h4m-2 0V469m-2 0h4M239.4 496V536m-2 0h4M368.7 509V520m-2 0h4M389.3 480V528m-2 0h4M339.4 449h4m-2 0V505m-2 0h4M509.1 499h4m-2 0V540m-2 0h4M347.9 494h4m-2 0V538m-2 0h4M287.5 459h4m-2 0V513m-2 0h4M519.7 501V511m-2 0h4M412.8 500V533m-2 0h4M482.5 492h4m-2 0V529m-2 0h4M416.5 484V515m-2 0h4M418.4 492V494m-2 0h4M524.9 338h4m-2 0V388m-2 0h4M265 481h4m-2 0V522m-2 0h4M493.5 510V524m-2 0h4M546.2 493V540m-2 0h4M493.5 510V528m-2 0h4M277.9 512V563M412.3 500h4m-2 0V540m-2 0h4M235.5 433h4m-2 0V439M374.7 488V521m-2 0h4M292.3 425h4m-2 0V505m-2 0h4M500.8 403h4m-2 0V434M215.1 479V514m-2 0h4M367.9 493V524m-2 0h4M397.7 474h4m-2 0V517m-2 0h4M489 522V529m-2 0h4M414.5 307V410m-2 0h4M340.1 468h4m-2 0V492m-2 0h4M559.3 505V515m-2 0h4M484.2 488V509m-2 0h4M339.8 446h4m-2 0V482m-2 0h4M354.7 436h4m-2 0V440M238.9 475h4m-2 0V516m-2 0h4M379.9 520V537m-2 0h4M483.1 521V545m-2 0h4M382.9 494V563M217.9 484h4m-2 0V492M410.9 517V521m-2 0h4M545 424h4m-2 0V428M394.8 348h4m-2 0V438m-2 0h4" stroke="#0000ff" stroke-width="1.2" fill="none"/>
<path d="M206.7 145h0M163.1 192h0M317.6 37h0M269.9 201h0M229.3 127h0M405.3 117h0M336.1 185h0M200.2 235h0M385.5 149h0M376.5 232h0M294.6 235h0M244 226h0M323.7 191h0M317.8 40h0M186.8 239h0M152 253h0M381 231h0M390.9 51h0M387.7 100h0M331.5 188h0M317 209h0M166.5 189h0M198 110h0M379.9 156h0M261.1 62h0M241.7 216h0M385.5 253h0M178.8 221h0M228.1 136h0M242.9 242h0M352.9 227h0M336.1 263h0M355.1 92h0M257.4 205h0M147.5 148h0M349.6 217h0M367.5 196h0M312.6 196h0M197.9 240h0M406 70h0M176.6 207h0M311.4 199h0M245.1 245h0M296.7 179h0M222.6 164h0M306.8 169h0M193.4 225h0M401.2 222h0M242.9 242h0M177.7 219h0M228.3 239h0M141 110h0M139.2 96h0M228.9 118h0M148.5 153h0M176.6 179h0M396.5 61h0M406.5 117h0M259.5 29h0M330.3 211h0M199.2 252h0M323.7 166h0M326.9 203h0M246.2 219h0M291.4 70h0M214.2 141h0M239.4 143h0M272 219h0M317.7 77h0M210.3 211h0M224.9 208h0M154 162h0M384.4 154h0M181.1 177h0M327 219h0M276.6 223h0M335 156h0M342.8 235h0M277.5 263h0M321.4 217h0M226.8 74h0M378.6 131h0M210.3 217h0M219.2 141h0M245.1 170h0M376.5 225h0M404.6 196h0M181.1 204h0M190.2 137h0M351.8 162h0M149.6 185h0M272 218h0M204.7 171h0M345.1 190h0M362.9 206h0M165.6 191h0M301.3 168h0M241.7 216h0M292.3 91h0M259.6 203h0M154.1 231h0M227.2 218h0M185.4 219h0M212.5 203h0M316.9 216h0M259.6 170h0M191.2 205h0M212.5 194h0M342.8 196h0M385.4 218h0M171.2 210h0M166.5 148h0M406.8 114h0M355.8 84h0M276.6 228h0M222.6 259h0M202.5 208h0M294.4 114h0M348.4 209h0M155.4 214h0M385.7 55h0M188.9 212h0M233.9 190h0M156.5 200h0M295.1 44h0M271 201h0M227.2 165h0M384.5 208h0M332.6 179h0M273.5 137h0M221.6 244h0M352.9 194h0M268.7 205h0M139.7 249h0M407.2 109h0M304.5 163h0M191.2 203h0M281.1 211h0M341.6 261h0M216 199h0M178.8 210h0M147.5 254h0M260.4 98h0M281.1 178h0M405.6 170h0M188.9 218h0M263.7 110h0M237.4 196h0M301.3 188h0M215.6 103h0M282.1 175h0M320.2 195h0M390 138h0M224.9 214h0M309.2 208h0M198.5 85h0M374.2 234h0M402.4 130h0M158.7 204h0M315.1 120h0M229.7 128h0M250.7 227h0M337.3 236h0M336.1 124h0M154 217h0M326 179h0M407.8 194h0M326.9 184h0M371.9 195h0M262.6 65h0M159.9 223h0M323.7 180h0M257.4 182h0M405.6 204h0M322.4 171h0M241.8 231h0M199.8 100h0M389.7 128h0M176.6 152h0M303.5 233h0M309.2 216h0M287.8 196h0M315.6 127h0M165.6 207h0M154 253h0M388.7 191h0M194.7 210h0M195.7 154h0M226.6 63h0M317.4 67h0M224.9 175h0M267.4 228h0M246.2 200h0M354.8 44h0M395 69h0M322.4 212h0M339.4 198h0M333.7 191h0M222.6 198h0M148.5 205h0M154 222h0M228.3 191h0M148.5 237h0M237.3 229h0M244 188h0M403.2 75h0M200.2 202h0M200.2 126h0M368.6 190h0M176.6 179h0M319.2 175h0M354.2 139h0M263.4 87h0M290 158h0M164.1 203h0M230.6 239h0M229.3 217h0M258.6 194h0M371.9 233h0M247.2 237h0M173.3 217h0M228.5 100h0M165.5 206h0M164.2 218h0M354.9 138h0M205.8 203h0M254.1 190h0M362.9 149h0M309.2 213h0M219.3 202h0M294.6 134h0M200.3 213h0M254.1 248h0M402.3 160h0M227.1 79h0M199.2 227h0M370.8 172h0M199.5 102h0M392.2 206h0M274.4 203h0M353.9 216h0M384.4 187h0M193.5 237h0M332.6 174h0M283.3 186h0M304.5 197h0M408.6 63h0M310.2 221h0M387.8 203h0M181.1 178h0M326 238h0M294.1 72h0M158.7 178h0M360.7 196h0M229.3 193h0M349.5 230h0M390.5 114h0M337.2 208h0M214.8 202h0M364.2 215h0M401 92h0M409.1 214h0M206.9 231h0M145.2 469h0M150.3 343h0M154 532h0M115.6 487h0M162.4 486h0M119.6 464h0M108.7 495h0M90.7 501h0M137.2 488h0M162.1 461h0M93.3 426h0M124.8 486h0M152.6 545h0M113.8 515h0M163.9 494h0M139 525h0M86 529h0M88.9 437h0M81.9 463h0M107.2 536h0M146.7 489h0M147.1 469h0M108.6 373h0M92.2 460h0M103.2 438h0M113.7 492h0M110.1 442h0M108.1 369h0M122.6 486h0M154.8 480h0M163.6 526h0M76.4 510h0M91.4 536h0M159.5 441h0M93.6 462h0M120.4 493h0M77.9 509h0M83.4 534h0M113 542h0M77.5 501h0M120.4 423h0M137.6 425h0M104.9 484h0M75.7 533h0M92.5 464h0M142.3 521h0M148.9 453h0M147.4 489h0M164.3 487h0M95.5 474h0M75.3 441h0M156.2 445h0M128.7 514h0M136.8 503h0M141.7 403h0M83.4 511h0M127 492h0M111.2 498h0M113.4 492h0M113 526h0M86.7 441h0M144.9 484h0M132.5 440h0M72.4 461h0M83 518h0M123.3 479h0M122.2 470h0M152.1 506h0M142.3 507h0M91.8 445h0M81.2 490h0M92.9 451h0M93.6 420h0M103.2 528h0M73.9 508h0M80.5 505h0M92.5 499h0M163.9 488h0M116 557h0M152.9 500h0M107.9 513h0M131.7 447h0M155.1 487h0M151.5 535h0M79.4 430h0M140.5 529h0M91.8 491h0M74.6 470h0M152.6 515h0M156.6 520h0M162.4 477h0M139.4 515h0M123.3 515h0M76.4 482h0M131 434h0M134.3 558h0M83.4 488h0M81.9 455h0M91.4 481h0M82.6 516h0M112.3 506h0M147.4 492h0M93.3 486h0M163.5 468h0M92.9 484h0M86.3 457h0M101.3 513h0M152.5 399h0M82.3 453h0M76.1 520h0M76 494h0M151.9 492h0M105.7 511h0M121.4 505h0M96.2 504h0M142.7 521h0M149.3 444h0M143.1 518h0M88.1 543h0M164.3 506h0M138.6 421h0M138.3 514h0M148.9 490h0M134.3 453h0M96.2 430h0M112.7 513h0M100.6 504h0M118.9 504h0M127.3 508h0M74.6 469h0M145.2 470h0M124.4 497h0M120.4 519h0M88.9 472h0M118.9 521h0M139 428h0M140.2 501h0M76.8 447h0M134.3 449h0M123.7 508h0M103.9 445h0M102.8 516h0M83.8 480h0M85.9 432h0M147.4 526h0M141.7 356h0M162.4 491h0M83.4 496h0M78.3 536h0M107.5 436h0M91.1 514h0M151.2 361h0M106.4 445h0M82.3 482h0M152.6 521h0M119.3 473h0M141.7 346h0M81.9 504h0M94 469h0M84.5 536h0M89.6 475h0M134.6 537h0M128.4 514h0M90 434h0M125.1 473h0M121.5 487h0M94 544h0M105.4 441h0M74.3 520h0M129.1 419h0M148.9 496h0M282.7 493h0M275.3 505h0M400.8 553h0M212.9 511h0M393 513h0M262.2 468h0M264.5 505h0M422.9 422h0M223.3 499h0M505.9 393h0M402.3 469h0M335.8 454h0M338.8 539h0M267 418h0M531.2 490h0M290.6 511h0M215.5 479h0M514.4 541h0M364.6 469h0M504.7 507h0M391.1 451h0M520.4 511h0M517.3 358h0M346.2 506h0M247.7 533h0M344.1 502h0M540.6 472h0M221.1 495h0M285.4 335h0M496.4 393h0M563.3 385h0M377.3 511h0M264.5 488h0M424.8 506h0M267 536h0M430.7 493h0M232.3 438h0M208 469h0M510.3 509h0M289.5 484h0M479.3 446h0M542.1 501h0M219.2 474h0M535.5 360h0M499.9 504h0M379.1 521h0M510.3 509h0M396.7 524h0M365.3 480h0M505.9 532h0M286.9 451h0M495.8 403h0M278.6 520h0M258.1 465h0M345.9 522h0M268.5 484h0M273.8 536h0M564.8 410h0M260.4 464h0M366.8 485h0M365.7 477h0M234.9 447h0M426.2 489h0M505.5 511h0M429.6 500h0M287.2 498h0M541 484h0M547.3 520h0M400.5 453h0M336.2 496h0M391.8 494h0M261.4 464h0M230.5 422h0M506.1 411h0M265.2 508h0M565.2 410h0M258.4 488h0M516.2 322h0M359 530h0M551.1 508h0M365.3 457h0M260.7 491h0M269.7 500h0M236.4 478h0M404.9 434h0M522.2 556h0M481.9 493h0M206.1 460h0M375.4 425h0M395.3 386h0M221.8 473h0M542.9 491h0M496.5 419h0M265.6 520h0M536.9 510h0M385.5 489h0M227.4 501h0M494.2 518h0M538.7 512h0M267.8 476h0M555.2 518h0M521.9 521h0M282.4 410h0M481.1 545h0M506.2 420h0M214.7 527h0M510.7 535h0M287.2 494h0M366.8 501h0M286.7 368h0M396.4 526h0M387.4 518h0M496.3 395h0M511.4 538h0M357.1 524h0M223.3 477h0M489.4 514h0M372 466h0M210.2 470h0M478.9 546h0M234.6 503h0M388.5 481h0M385.1 507h0M348.6 470h0M267.4 458h0M429.6 495h0M481.1 524h0M501.6 396h0M200.2 506h0M535.4 508h0M373.9 504h0M520.4 511h0M221.5 473h0M558.3 348h0M547.7 509h0M275.3 480h0M402.3 500h0M415.4 503h0M229.6 483h0M428.9 518h0M402.3 494h0M276 509h0M347.6 372h0M493.2 430h0M360.5 447h0M281.6 534h0M269.3 503h0M416.5 499h0M275.3 479h0M251.3 514h0M352.7 483h0M242.7 515h0M262.5 513h0M506.6 532h0M294.3 448h0M371.3 538h0M292.5 454h0M535.6 369h0M267.8 508h0M269.7 443h0M239.4 508h0M512.1 530h0M542.1 528h0M221.4 343h0M261.5 466h0M369.8 443h0M492.7 511h0M290.6 460h0M233.8 528h0M253.2 507h0M209.1 511h0M363.1 511h0M516.5 390h0M417.3 497h0M532.8 506h0M258.8 497h0M339.9 435h0M479.3 530h0M240.5 473h0M565.6 487h0M505.8 429h0M248 546h0M230.1 479h0M429.6 519h0M341.8 482h0M234.9 449h0M261.1 404h0M558.2 546h0M386.6 501h0M351.2 539h0M211 483h0M426.6 529h0M383.2 496h0M285 518h0M358.6 450h0M523.4 503h0M527.2 384h0M382.5 494h0M241.6 528h0M206.1 486h0M533.1 514h0M206.9 480h0M429.6 487h0M247.6 546h0M505.5 372h0M530.2 481h0M400.1 480h0M203.9 529h0M217.3 516h0M398.5 528h0M261.5 466h0M351.9 442h0M396.7 492h0M415.4 499h0M286 357h0M379.1 507h0M527.8 365h0M476.4 542h0M565.3 407h0M336.2 497h0M518.9 520h0M230.8 470h0M367.2 526h0M415.8 534h0M334.7 493h0M496.2 520h0M383.7 388h0M505.4 367h0M565.9 356h0M256.2 441h0M535.7 333h0M533.9 489h0M231.9 475h0M421.4 440h0M476.8 403h0M418 489h0M341 452h0M544 527h0M419.9 507h0M558.2 510h0M538.7 496h0M476.3 468h0M540.2 481h0M274.5 496h0M265.9 525h0M400.5 511h0M222.6 490h0M415 363h0M543.6 554h0M260 498h0M422.1 496h0M348.9 456h0M217.7 440h0M416.1 503h0M257 523h0M508.9 521h0M424.3 502h0M365.3 530h0M413.2 507h0M369.8 545h0M336.2 498h0M343.7 518h0M487.5 509h0M207.6 517h0M388.5 433h0M398.5 485h0M372.8 411h0M362.7 530h0M265.9 460h0M387.4 514h0M269.7 490h0M338.4 422h0M494.3 530h0M249.5 527h0M505.3 355h0M351.2 483h0M418 504h0M208.4 464h0M239 488h0M233.8 437h0M538.4 531h0M206.9 449h0M229.7 529h0M228.9 431h0M344.8 493h0M539.8 504h0M351.2 525h0M344.1 441h0M233.8 472h0M528.1 337h0M279.4 515h0M292.8 547h0M230.8 473h0M367.2 471h0M357.5 531h0M261.1 476h0M546.2 523h0M283.1 512h0M337.3 486h0M373.6 493h0M273.4 451h0M535.4 502h0M399.4 464h0M341.1 496h0M291 479h0M351.5 507h0M265.6 463h0M220 396h0M206.9 443h0M383.5 346h0M404.6 480h0M407.9 418h0M510.3 524h0M213.2 510h0M532.8 501h0M520.9 430h0M267.4 477h0M221 366h0M553.7 526h0M564.9 497h0M366.8 485h0M392.6 503h0M293.2 382h0M345.1 508h0M214.7 490h0M293.8 391h0M235.3 511h0M359.3 461h0M555.2 524h0M376.9 511h0M294.4 477h0M205.4 505h0M351.9 517h0M273.4 540h0M541.4 449h0M275.3 500h0M208.4 466h0M382.9 346h0M268.2 501h0M535.6 330h0M292.8 436h0M393 496h0M428.9 478h0M240.9 465h0M333.5 460h0M348.1 491h0M342.2 500h0M233.4 514h0M559.6 421h0M478.9 441h0M343.7 506h0M269.3 519h0M495.7 533h0M416.5 514h0M209.8 524h0M230.8 486h0M496 378h0M283.1 513h0M282.4 520h0M565.4 402h0M287.6 489h0M481.1 510h0M206.1 431h0M384.7 511h0M390 494h0M200.6 496h0M358.3 447h0M364.6 479h0M294.3 462h0M289.8 465h0M263.3 427h0M280.9 549h0M419.5 510h0M492 532h0M510.7 535h0M262.5 509h0M337.3 498h0M346.7 373h0M204.2 497h0M390.8 445h0M282 516h0M234.6 533h0M341 473h0M257.7 466h0M374.7 492h0M221.8 501h0M564.1 368h0M517.6 403h0M396.7 479h0M217.3 446h0M275.3 441h0M496.2 545h0M209.8 492h0M503.6 537h0M563.4 515h0M384.8 519h0M239.8 481h0M496.5 528h0M429.2 494h0M367.9 511h0M215.8 527h0M397.1 522h0M561.9 354h0M556.7 524h0M251.3 505h0M271.1 512h0M231.2 483h0M540.6 467h0M548.3 376h0M428.9 443h0M221.8 427h0M207.6 478h0M376.9 490h0M561.4 362h0M270.8 493h0M504 552h0M397.1 432h0M558.9 393h0M563.8 423h0M242.4 466h0M205.4 475h0M280.1 517h0M530.9 526h0M277.5 528h0M484.5 496h0M527.9 528h0M532.8 508h0M344.8 550h0M365.3 465h0M516.8 355h0M506.2 510h0M341.5 467h0M400.1 490h0M559.9 407h0M491.6 512h0M425.5 445h0M272.7 525h0M401.6 470h0M414.1 385h0M206.1 539h0M268.9 477h0M206.1 457h0M346.2 511h0M254.7 543h0M222.6 515h0M566.1 507h0M402.7 497h0M545.9 502h0M521.9 516h0M275.7 503h0M245.3 446h0M288.7 519h0M501.2 434h0M424.5 351h0M230.1 489h0M203.9 485h0M381 444h0M560 344h0M268.5 521h0M382.5 386h0M216.6 548h0M548 337h0M517.5 380h0M476.2 389h0M513.3 520h0M425.3 342h0M278.6 503h0M498.7 524h0M200.2 490h0M383.3 525h0M364.2 496h0M481.1 515h0M548.1 385h0M506.3 421h0M511.8 512h0M485 500h0M418.4 483h0M284.6 501h0M263.3 513h0M396.5 317h0M565 363h0M398.2 534h0M223.3 502h0M499.9 509h0M554.4 527h0M347.4 511h0M484.9 499h0M294 456h0M221.5 516h0M369.5 503h0M410.2 532h0M541.7 556h0M396.1 339h0M527.9 407h0M427.4 482h0M225.6 520h0M289.5 475h0M480.5 546h0M555.9 424h0M382.3 330h0M396.1 361h0M392.2 473h0M541.7 478h0M533.5 491h0M268.5 500h0M403.8 440h0M239.4 510h0M368.7 490h0M389.3 499h0M341.4 477h0M511.1 519h0M349.9 516h0M289.5 486h0M412.8 514h0M484.5 510h0M416.5 486h0M526.9 363h0M267 502h0M546.2 510h0M277.9 530h0M414.3 520h0M374.7 485h0M294.3 465h0M502.8 433h0M215.1 490h0M367.9 504h0M399.7 496h0M414.5 338h0M342.1 480h0M484.2 485h0M341.8 464h0M240.9 495h0M379.9 494h0M483.1 516h0M382.9 538h0M219.9 509h0M396.8 393h0" stroke="#0000ff" stroke-width="4.1" stroke-linecap="round" fill="none"/>
<path d="M322.5 27h4m-2 0V173m-2 0h4M242 161h4m-2 0V206m-2 0h4M320.2 128h4m-2 0V221m-2 0h4M156.5 154h4m-2 0V200m-2 0h4M151.1 147h4m-2 0V186m-2 0h4M302.6 90h4m-2 0V147m-2 0h4M350.8 171h4m-2 0V213m-2 0h4M295.8 117h4m-2 0V174m-2 0h4M336.1 143h4m-2 0V218m-2 0h4M288 122h4m-2 0V198m-2 0h4M163.3 156h4m-2 0V217m-2 0h4M383.4 158h4m-2 0V208m-2 0h4M135.4 144h4m-2 0V206m-2 0h4M191.4 186h4m-2 0V238m-2 0h4M160.1 156h4m-2 0V217m-2 0h4M280.2 137h4m-2 0V263m-2 0h4M184.7 144h4m-2 0V195m-2 0h4M139.8 140h4m-2 0V193m-2 0h4M291.4 155h4m-2 0V217m-2 0h4M363.2 140h4m-2 0V203m-2 0h4M253.1 136h4m-2 0V182m-2 0h4M245.3 151h4m-2 0V200m-2 0h4M380 140h4m-2 0V198m-2 0h4M347.4 136h4m-2 0V191m-2 0h4M253.1 144h4m-2 0V187m-2 0h4M395.7 143h4m-2 0V259m-2 0h4M365.6 174h4m-2 0V217m-2 0h4M273.4 138h4m-2 0V212m-2 0h4M157.6 54h4m-2 0V130m-2 0h4M263.4 165h4m-2 0V216m-2 0h4M249.9 145h4m-2 0V198m-2 0h4M393.4 137h4m-2 0V188m-2 0h4M334.1 56h4m-2 0V209m-2 0h4M288 131h4m-2 0V180m-2 0h4M178.4 51h4m-2 0V137m-2 0h4M394.6 134h4m-2 0V175m-2 0h4M345.2 180h4m-2 0V209m-2 0h4M359.8 146h4m-2 0V184m-2 0h4M237.4 104h4m-2 0V185m-2 0h4M189.2 143h4m-2 0V198m-2 0h4M283.5 130h4m-2 0V188m-2 0h4M378.9 185h4m-2 0V230m-2 0h4M303.8 85h4m-2 0V133m-2 0h4M297.8 105h4m-2 0V160m-2 0h4M247.6 136h4m-2 0V193m-2 0h4M184.8 138h4m-2 0V197m-2 0h4M229.7 138h4m-2 0V197m-2 0h4M378 36h4m-2 0V89m-2 0h4M228.5 42h4m-2 0V87m-2 0h4M144.3 143h4m-2 0V206m-2 0h4M293.3 14V141m-2 0h4M323.8 59h4m-2 0V160m-2 0h4M257.8 156h4m-2 0V195m-2 0h4M255.6 145h4m-2 0V192m-2 0h4M274.5 154h4m-2 0V214m-2 0h4M320.6 78h4m-2 0V153m-2 0h4M383.4 144h4m-2 0V199m-2 0h4M343.8 170V212m-2 0h4M319.2 14V145m-2 0h4M276.8 190h4m-2 0V231m-2 0h4M157.9 143h4m-2 0V184M203.8 157h4m-2 0V219m-2 0h4M178 130h4m-2 0V190m-2 0h4M335.2 164h4m-2 0V240m-2 0h4M406.7 97h4m-2 0V146m-2 0h4M311.3 14V94m-2 0h4M310.4 88h4m-2 0V136m-2 0h4M158.9 102h4m-2 0V270M330.6 99h4m-2 0V148m-2 0h4M192.5 142h4m-2 0V198m-2 0h4M367.7 141h4m-2 0V190m-2 0h4M301.4 14V117m-2 0h4M323.9 14V53m-2 0h4M392.5 173h4m-2 0V228m-2 0h4M358.7 103h4m-2 0V225m-2 0h4M227.4 150h4m-2 0V193m-2 0h4M160.1 176h4m-2 0V219m-2 0h4M185.9 152h4m-2 0V197m-2 0h4M250 173h4m-2 0V221m-2 0h4M137.7 137h4m-2 0V213m-2 0h4M331.7 84h4m-2 0V165m-2 0h4M302.6 103h4m-2 0V144m-2 0h4M217.3 142h4m-2 0V196m-2 0h4M404.8 163h4m-2 0V203m-2 0h4M276.8 149h4m-2 0V199m-2 0h4M230.7 149h4m-2 0V195m-2 0h4M197.1 139h4m-2 0V178m-2 0h4M405.4 87h4m-2 0V164m-2 0h4M399.1 148h4m-2 0V206m-2 0h4M285.7 162h4m-2 0V219m-2 0h4M273.4 158h4m-2 0V194m-2 0h4M295.8 146h4m-2 0V208m-2 0h4M318 144h4m-2 0V238m-2 0h4M184.8 151h4m-2 0V211m-2 0h4M263.4 154h4m-2 0V192m-2 0h4M358.7 84h4m-2 0V235m-2 0h4M327.6 75h4m-2 0V123m-2 0h4M203.8 151h4m-2 0V201m-2 0h4M115.5 142h4m-2 0V232m-2 0h4M149.9 152h4m-2 0V200m-2 0h4M184.8 139h4m-2 0V204m-2 0h4M399.1 131h4m-2 0V183m-2 0h4M255.6 175h4m-2 0V218m-2 0h4M249.9 165h4m-2 0V229m-2 0h4M266.7 139h4m-2 0V181m-2 0h4M262.4 56h4m-2 0V143m-2 0h4M137.7 155h4m-2 0V195m-2 0h4M380.1 164h4m-2 0V232m-2 0h4M314.2 50h4m-2 0V85m-2 0h4M206.9 177V223m-2 0h4M338.6 132h4m-2 0V198m-2 0h4M340.8 134h4m-2 0V194m-2 0h4M208.3 148h4m-2 0V184m-2 0h4M222.9 146h4m-2 0V207m-2 0h4M163.3 142h4m-2 0V185m-2 0h4M263.4 139h4m-2 0V195m-2 0h4M185.9 138h4m-2 0V196m-2 0h4M288 161h4m-2 0V204m-2 0h4M198.4 14V92m-2 0h4M358.7 131h4m-2 0V198m-2 0h4M137.7 149h4m-2 0V197m-2 0h4M279.1 136h4m-2 0V195m-2 0h4M279.1 194h4m-2 0V266m-2 0h4M335.3 111h4m-2 0V177m-2 0h4M204.8 116h4m-2 0V270M176.9 157h4m-2 0V199m-2 0h4M197.1 159h4m-2 0V214m-2 0h4M390.2 157h4m-2 0V214m-2 0h4M377.8 158h4m-2 0V232m-2 0h4M306.9 62h4m-2 0V197m-2 0h4M291.4 157h4m-2 0V199m-2 0h4M341.3 14V150m-2 0h4M284.7 149h4m-2 0V196m-2 0h4M182.5 156h4m-2 0V223m-2 0h4M329.5 85h4m-2 0V172m-2 0h4M191.4 151h4m-2 0V199m-2 0h4M327 14V59m-2 0h4M300.4 26h4m-2 0V80m-2 0h4M174.6 146h4m-2 0V211m-2 0h4M308.2 95h4m-2 0V141m-2 0h4M327.4 30h4m-2 0V112m-2 0h4M293.5 152h4m-2 0V192m-2 0h4M330.6 102h4m-2 0V140m-2 0h4M363.2 140h4m-2 0V191m-2 0h4M165.6 155h4m-2 0V199m-2 0h4M153.3 150h4m-2 0V200m-2 0h4M247.6 167h4m-2 0V223m-2 0h4M405.9 172h4m-2 0V220m-2 0h4M185.9 183h4m-2 0V228m-2 0h4M252 135h4m-2 0V186m-2 0h4M201.6 183h4m-2 0V222m-2 0h4M140.9 132h4m-2 0V181M380.3 101h4m-2 0V145m-2 0h4M315 104h4m-2 0V159m-2 0h4M328.5 117h4m-2 0V180m-2 0h4M322.9 73h4m-2 0V121m-2 0h4M271.2 140h4m-2 0V195m-2 0h4M239.9 141h4m-2 0V185m-2 0h4M206.8 174V214m-2 0h4M320.5 69h4m-2 0V124m-2 0h4M263.5 144h4m-2 0V187m-2 0h4M389.1 154h4m-2 0V208m-2 0h4M254.4 168h4m-2 0V211m-2 0h4M215 128h4m-2 0V204m-2 0h4M256.6 160h4m-2 0V217m-2 0h4M218.5 171h4m-2 0V212m-2 0h4M266.7 141h4m-2 0V192m-2 0h4M329.3 14V71m-2 0h4M398.1 136h4m-2 0V192m-2 0h4M221.7 132h4m-2 0V191m-2 0h4M276.8 145h4m-2 0V191m-2 0h4M342.9 131h4m-2 0V193m-2 0h4M191.4 197h4m-2 0V250m-2 0h4M266.7 159h4m-2 0V198m-2 0h4M159.8 162V215m-2 0h4M299.2 101h4m-2 0V147m-2 0h4M295.8 132h4m-2 0V172m-2 0h4M115.4 151h4m-2 0V270M323.8 81h4m-2 0V191m-2 0h4M401.4 154h4m-2 0V210m-2 0h4M155.5 160h4m-2 0V214m-2 0h4M261.1 146h4m-2 0V184m-2 0h4M283.5 153h4m-2 0V205m-2 0h4M243.2 148h4m-2 0V180m-2 0h4M182.5 138h4m-2 0V198m-2 0h4M246.5 137h4m-2 0V205m-2 0h4M194.8 140h4m-2 0V207m-2 0h4M199.5 30h4m-2 0V76m-2 0h4M276.5 164V210m-2 0h4M233.3 14V144m-2 0h4M227.3 136h4m-2 0V184m-2 0h4M371 167h4m-2 0V226m-2 0h4M266.7 176h4m-2 0V235m-2 0h4M401.3 170h4m-2 0V232m-2 0h4M330.5 93h4m-2 0V123m-2 0h4M398 139h4m-2 0V193m-2 0h4M255.6 145h4m-2 0V194m-2 0h4M193.7 156h4m-2 0V209m-2 0h4M368.9 150h4m-2 0V185m-2 0h4M214 182h4m-2 0V226m-2 0h4M136.5 148h4m-2 0V200m-2 0h4M373.4 160h4m-2 0V219m-2 0h4M272.3 133h4m-2 0V177m-2 0h4M165.6 139h4m-2 0V184m-2 0h4M380 130h4m-2 0V202m-2 0h4M316 71h4m-2 0V111m-2 0h4M162.3 149h4m-2 0V192m-2 0h4M320.1 148h4m-2 0V218m-2 0h4M274.5 137h4m-2 0V178M286.8 143h4m-2 0V193m-2 0h4M256.6 134h4m-2 0V188m-2 0h4M174.6 160h4m-2 0V205m-2 0h4M226.2 173h4m-2 0V215m-2 0h4M185.9 134h4m-2 0V199m-2 0h4M263.5 147h4m-2 0V194m-2 0h4M303.8 96h4m-2 0V142m-2 0h4M275.5 147h4m-2 0V194m-2 0h4M198 185V239m-2 0h4M201.6 155h4m-2 0V206m-2 0h4M138.7 189h4m-2 0V245m-2 0h4M297.8 86h4m-2 0V140m-2 0h4M165.7 114h4m-2 0V178m-2 0h4M265.6 141h4m-2 0V186m-2 0h4M283.5 149h4m-2 0V195m-2 0h4M299.1 105h4m-2 0V158m-2 0h4M237.6 150h4m-2 0V195m-2 0h4M138.7 141h4m-2 0V195m-2 0h4M312.4 136h4m-2 0V230m-2 0h4M254.3 159h4m-2 0V209m-2 0h4M193.6 151h4m-2 0V195m-2 0h4M362.7 168h4m-2 0V262m-2 0h4M203.8 152h4m-2 0V195m-2 0h4M339.5 131h4m-2 0V177m-2 0h4M247.6 153h4m-2 0V187m-2 0h4M197.1 168h4m-2 0V213m-2 0h4M193.7 162h4m-2 0V216m-2 0h4M382.3 150h4m-2 0V191m-2 0h4M230.7 151h4m-2 0V206m-2 0h4M256.6 150h4m-2 0V207m-2 0h4M350.8 180h4m-2 0V230m-2 0h4M394.6 131h4m-2 0V190m-2 0h4M198.1 127h4m-2 0V183m-2 0h4M297.7 71h4m-2 0V141m-2 0h4M136.7 64h4m-2 0V139m-2 0h4M235.2 154h4m-2 0V196m-2 0h4M169.2 14V110m-2 0h4M385.6 168h4m-2 0V212m-2 0h4M207.3 168h4m-2 0V212m-2 0h4M394.6 162h4m-2 0V209m-2 0h4M276.8 143h4m-2 0V204m-2 0h4M314 14V138m-2 0h4M255.6 146h4m-2 0V190m-2 0h4M265.6 128h4m-2 0V189m-2 0h4M218.5 148h4m-2 0V193m-2 0h4M335.2 41h4m-2 0V235m-2 0h4M236.3 144h4m-2 0V200m-2 0h4M336.4 122h4m-2 0V180m-2 0h4M389.1 162h4m-2 0V208m-2 0h4M346.5 123h4m-2 0V193m-2 0h4M190.5 160h4m-2 0V207m-2 0h4M260.4 36h4m-2 0V185m-2 0h4M325.8 85V132m-2 0h4M190.4 158h4m-2 0V198m-2 0h4M163.4 142h4m-2 0V194m-2 0h4M214 162h4m-2 0V207m-2 0h4M217.3 136h4m-2 0V198m-2 0h4M221.7 149h4m-2 0V208m-2 0h4M265.6 170h4m-2 0V224m-2 0h4M253.1 170h4m-2 0V223m-2 0h4M399.2 171h4m-2 0V215m-2 0h4M310.4 105h4m-2 0V161m-2 0h4M298.1 105h4m-2 0V154m-2 0h4M193.6 145h4m-2 0V232m-2 0h4M170.1 128h4m-2 0V180m-2 0h4M183.7 174h4m-2 0V216m-2 0h4M401.4 143h4m-2 0V201m-2 0h4M375.6 173h4m-2 0V231m-2 0h4M182.5 137h4m-2 0V200m-2 0h4M377.8 171h4m-2 0V243m-2 0h4M188.1 141h4m-2 0V190m-2 0h4M368.9 188h4m-2 0V213m-2 0h4M342.9 130h4m-2 0V179m-2 0h4M224.1 163h4m-2 0V217m-2 0h4M203.7 132h4m-2 0V200m-2 0h4M406 175h4m-2 0V245m-2 0h4M217.3 148h4m-2 0V208m-2 0h4M289.1 157h4m-2 0V205m-2 0h4M355.4 146h4m-2 0V198m-2 0h4M319.3 133h4m-2 0V212m-2 0h4M376.7 130h4m-2 0V193m-2 0h4M206 147h4m-2 0V195m-2 0h4M407 14V235m-2 0h4M197.1 179h4m-2 0V234m-2 0h4M267.8 68h4m-2 0V233m-2 0h4M310.4 90h4m-2 0V149m-2 0h4M181.3 164h4m-2 0V212m-2 0h4M377.8 184h4m-2 0V234m-2 0h4M222.9 133h4m-2 0V187m-2 0h4M353.1 148h4m-2 0V189m-2 0h4M258 52h4m-2 0V195m-2 0h4M308.2 95h4m-2 0V159m-2 0h4M265.6 146h4m-2 0V184m-2 0h4M258.7 149h4m-2 0V196m-2 0h4M257.8 140h4m-2 0V191m-2 0h4M185.9 181h4m-2 0V230m-2 0h4M215 151h4m-2 0V191m-2 0h4M252.1 150h4m-2 0V188m-2 0h4M337.4 165h4m-2 0V213m-2 0h4M137.7 122h4m-2 0V194m-2 0h4M379.9 156h4m-2 0V214m-2 0h4M255.5 135h4m-2 0V178m-2 0h4M336.4 119h4m-2 0V163m-2 0h4M204.9 161h4m-2 0V198m-2 0h4M298.4 18h4m-2 0V218m-2 0h4M394.6 97h4m-2 0V216m-2 0h4M237.6 140h4m-2 0V189m-2 0h4M212.8 208h4m-2 0V247m-2 0h4M289.3 36h4m-2 0V113m-2 0h4M314.9 90h4m-2 0V150m-2 0h4M189.2 165h4m-2 0V228m-2 0h4M367.7 177h4m-2 0V228m-2 0h4M392.5 118h4m-2 0V218m-2 0h4M321.1 130h4m-2 0V239m-2 0h4M152.1 141h4m-2 0V197m-2 0h4M274.5 135h4m-2 0V181m-2 0h4M329.5 95h4m-2 0V141m-2 0h4M383.4 187h4m-2 0V237m-2 0h4M349.1 166h4m-2 0V235m-2 0h4M161.1 129h4m-2 0V204m-2 0h4M404.8 163h4m-2 0V213m-2 0h4M208 168V219m-2 0h4M282.5 141h4m-2 0V198m-2 0h4M179.2 171h4m-2 0V215m-2 0h4M153.3 164h4m-2 0V212m-2 0h4M238.5 165h4m-2 0V213m-2 0h4M198.2 133h4m-2 0V201m-2 0h4M271.2 130h4m-2 0V207m-2 0h4M128.6 66h4m-2 0V227m-2 0h4M262.1 151h4m-2 0V201m-2 0h4M385.6 162h4m-2 0V208m-2 0h4M373.3 100h4m-2 0V169m-2 0h4M142.1 142h4m-2 0V195m-2 0h4M206 155h4m-2 0V198m-2 0h4M259.8 143h4m-2 0V193m-2 0h4M290.3 138h4m-2 0V188m-2 0h4M403.7 136h4m-2 0V177m-2 0h4M263.5 159h4m-2 0V206m-2 0h4M396.8 150h4m-2 0V208m-2 0h4M332.1 14V196m-2 0h4M301.4 104h4m-2 0V150m-2 0h4M261.1 176h4m-2 0V233m-2 0h4M308.2 154h4m-2 0V201m-2 0h4M398.1 149h4m-2 0V194m-2 0h4M305.9 85h4m-2 0V144m-2 0h4M327.1 100V150m-2 0h4M218.5 161h4m-2 0V213m-2 0h4M242.1 139h4m-2 0V194m-2 0h4M369.9 143h4m-2 0V189m-2 0h4M290.2 173h4m-2 0V215m-2 0h4M278 149h4m-2 0V191m-2 0h4M255.6 150h4m-2 0V192m-2 0h4M320.8 41h4m-2 0V139m-2 0h4M373.5 142h4m-2 0V203m-2 0h4M206 143h4m-2 0V190m-2 0h4M167.9 130h4m-2 0V193m-2 0h4M307.6 122h4m-2 0V208m-2 0h4M237.6 147h4m-2 0V186m-2 0h4M182.5 131h4m-2 0V191m-2 0h4M401 79h4m-2 0V129m-2 0h4M326.1 69h4m-2 0V133m-2 0h4M142.7 118h4m-2 0V182m-2 0h4M210.6 166h4m-2 0V227m-2 0h4M247.6 142h4m-2 0V197m-2 0h4M238.5 146h4m-2 0V262m-2 0h4M331.7 115h4m-2 0V157m-2 0h4M371 144h4m-2 0V232m-2 0h4M341.9 124h4m-2 0V156m-2 0h4M207.3 158h4m-2 0V211m-2 0h4M399.1 144h4m-2 0V196m-2 0h4M382.2 136h4m-2 0V211m-2 0h4M311.6 102h4m-2 0V153m-2 0h4M242.1 170h4m-2 0V213m-2 0h4M342.9 141h4m-2 0V192m-2 0h4M182.5 180h4m-2 0V219m-2 0h4M189.2 176h4m-2 0V230m-2 0h4M278 175h4m-2 0V222m-2 0h4M224 170h4m-2 0V217m-2 0h4M242.1 158h4m-2 0V193m-2 0h4M266.7 143h4m-2 0V194m-2 0h4M341.8 132h4m-2 0V175m-2 0h4M396.8 154h4m-2 0V196m-2 0h4M351.2 111h4m-2 0V152m-2 0h4M252.1 79h4m-2 0V165m-2 0h4M165.6 128h4m-2 0V193m-2 0h4M173.4 133h4m-2 0V190m-2 0h4M278 178h4m-2 0V223m-2 0h4M275.5 150h4m-2 0V206m-2 0h4M325.9 75h4m-2 0V124M181.2 147h4m-2 0V219m-2 0h4M175.8 148h4m-2 0V202m-2 0h4M394.6 160h4m-2 0V213m-2 0h4M322.8 64h4m-2 0V117m-2 0h4M179.2 142h4m-2 0V199m-2 0h4M166.7 189h4m-2 0V258m-2 0h4M331.1 14V146m-2 0h4M264.4 155h4m-2 0V200m-2 0h4M351.8 105h4m-2 0V164m-2 0h4M254.4 178h4m-2 0V226m-2 0h4M321.7 67h4m-2 0V124m-2 0h4M192.5 176h4m-2 0V223m-2 0h4M165.6 38h4m-2 0V270M201 37h4m-2 0V60m-2 0h4M399.2 136h4m-2 0V194m-2 0h4M298.1 113h4m-2 0V207m-2 0h4M160.2 187h4m-2 0V248m-2 0h4M149.9 157h4m-2 0V227m-2 0h4M262.1 158h4m-2 0V207m-2 0h4M359.9 172h4m-2 0V220m-2 0h4M349.8 143h4m-2 0V185m-2 0h4M337.4 128h4m-2 0V163m-2 0h4M119.3 72h4m-2 0V230m-2 0h4M243.2 137h4m-2 0V193m-2 0h4M298.1 126h4m-2 0V172m-2 0h4M407.1 144h4m-2 0V191m-2 0h4M325.3 14V86M257.8 153h4m-2 0V193m-2 0h4M182.7 72h4m-2 0V170m-2 0h4M362.1 98h4m-2 0V229m-2 0h4M301.4 96h4m-2 0V144m-2 0h4M258.4 49h4m-2 0V98m-2 0h4M315 100h4m-2 0V134m-2 0h4M204.9 156h4m-2 0V196M142.8 178V233m-2 0h4M401.3 146h4m-2 0V203m-2 0h4M119.9 81h4m-2 0V231m-2 0h4M253.1 155h4m-2 0V200m-2 0h4M258.7 185h4m-2 0V229m-2 0h4M324.3 14V125m-2 0h4M325.7 102V148m-2 0h4M309.1 41h4m-2 0V159m-2 0h4M207.3 165h4m-2 0V216m-2 0h4M199.4 172h4m-2 0V211m-2 0h4M326.1 77h4m-2 0V125m-2 0h4M321 50h4m-2 0V92m-2 0h4M276.8 150h4m-2 0V187m-2 0h4M185.9 166h4m-2 0V217m-2 0h4M333 110h4m-2 0V157m-2 0h4M326.2 24h4m-2 0V108m-2 0h4M330.6 111h4m-2 0V169m-2 0h4M341.8 129h4m-2 0V187m-2 0h4M354.1 184h4m-2 0V228m-2 0h4M298.1 134h4m-2 0V188m-2 0h4M259.8 144h4m-2 0V188m-2 0h4M367.7 163h4m-2 0V210m-2 0h4M329.5 92h4m-2 0V128m-2 0h4M276.8 158h4m-2 0V196m-2 0h4M291.4 131h4m-2 0V170m-2 0h4M139.8 126h4m-2 0V203m-2 0h4M137.7 154h4m-2 0V198m-2 0h4M142.1 144h4m-2 0V196m-2 0h4M127 37h4m-2 0V233m-2 0h4M308.2 90h4m-2 0V137m-2 0h4M192.5 145h4m-2 0V223m-2 0h4M299.1 95h4m-2 0V150m-2 0h4M335.2 85h4m-2 0V203m-2 0h4M182.5 159h4m-2 0V204m-2 0h4M305.9 95h4m-2 0V141m-2 0h4M394.6 136h4m-2 0V179m-2 0h4M327.2 94h4m-2 0V130m-2 0h4M198.1 135h4m-2 0V195m-2 0h4M354.1 166h4m-2 0V219m-2 0h4M257.8 123h4m-2 0V208m-2 0h4M312.1 161h4m-2 0V216m-2 0h4M388 149h4m-2 0V197m-2 0h4M176.9 176h4m-2 0V219m-2 0h4M329.5 86h4m-2 0V149m-2 0h4M214.9 156h4m-2 0V189m-2 0h4M211.6 148h4m-2 0V191m-2 0h4M202.7 141h4m-2 0V190m-2 0h4M255.6 147h4m-2 0V194m-2 0h4M259.8 150h4m-2 0V232m-2 0h4M228.4 132h4m-2 0V231m-2 0h4M380 14V199m-2 0h4M118 129h4m-2 0V252m-2 0h4M363.4 96h4m-2 0V167m-2 0h4M155.5 166h4m-2 0V216m-2 0h4M329.5 98h4m-2 0V157m-2 0h4M392.4 64h4m-2 0V107m-2 0h4M358.7 165h4m-2 0V204m-2 0h4M355.5 67h4m-2 0V199m-2 0h4M382.3 139h4m-2 0V202m-2 0h4M239.8 181h4m-2 0V235m-2 0h4M156.6 135h4m-2 0V193m-2 0h4M285.7 161h4m-2 0V198m-2 0h4M309 93h4m-2 0V144m-2 0h4M188.1 147h4m-2 0V210m-2 0h4M293.5 97h4m-2 0V221m-2 0h4M169.1 183h4m-2 0V236m-2 0h4M143.2 176h4m-2 0V233m-2 0h4M257.8 153h4m-2 0V214m-2 0h4M272.3 152h4m-2 0V204m-2 0h4M229.6 129h4m-2 0V193m-2 0h4M404.8 140h4m-2 0V184m-2 0h4M235.2 119h4m-2 0V175m-2 0h4M373.5 136h4m-2 0V177m-2 0h4M340.5 160h4m-2 0V234m-2 0h4M212.9 158h4m-2 0V214m-2 0h4M326.2 56h4m-2 0V109m-2 0h4M294.7 86h4m-2 0V229m-2 0h4M349.8 129h4m-2 0V186m-2 0h4M239.9 167h4m-2 0V227m-2 0h4M272.3 137h4m-2 0V201m-2 0h4M405.9 150h4m-2 0V184m-2 0h4M319.9 14V61m-2 0h4M335.3 120h4m-2 0V192m-2 0h4M142.1 156h4m-2 0V227m-2 0h4M257.1 48h4m-2 0V178m-2 0h4M345.2 159h4m-2 0V208m-2 0h4M385.7 142h4m-2 0V186m-2 0h4M352.3 14V108m-2 0h4M344 135h4m-2 0V182m-2 0h4M170.5 14V118m-2 0h4M382.3 157h4m-2 0V199m-2 0h4M136.5 172h4m-2 0V218m-2 0h4M295.8 153h4m-2 0V181m-2 0h4M355.4 155h4m-2 0V197m-2 0h4M176.9 174h4m-2 0V209m-2 0h4M199.6 79h4m-2 0V137m-2 0h4M151.1 166h4m-2 0V220m-2 0h4M363.9 60h4m-2 0V174m-2 0h4M284.6 139h4m-2 0V184m-2 0h4M208.3 138h4m-2 0V192m-2 0h4M136.5 178h4m-2 0V235m-2 0h4M208.3 136h4m-2 0V195m-2 0h4M284.7 177h4m-2 0V235m-2 0h4M239.9 170h4m-2 0V216m-2 0h4M206 129h4m-2 0V215m-2 0h4M300.4 14V106m-2 0h4M207.3 154h4m-2 0V207m-2 0h4M341.8 137h4m-2 0V171M373.4 143h4m-2 0V200m-2 0h4M401.3 168h4m-2 0V214m-2 0h4M216.2 157h4m-2 0V193m-2 0h4M295.8 132h4m-2 0V175m-2 0h4M228.6 76h4m-2 0V135m-2 0h4M179.2 196h4m-2 0V245m-2 0h4M302.6 123h4m-2 0V172m-2 0h4M276.8 160h4m-2 0V205m-2 0h4M366.6 145h4m-2 0V195m-2 0h4M147.6 138h4m-2 0V193m-2 0h4M203.7 144h4m-2 0V196m-2 0h4M221.8 134h4m-2 0V182m-2 0h4M371 176h4m-2 0V227m-2 0h4M149.9 177h4m-2 0V222m-2 0h4M368.9 132h4m-2 0V186m-2 0h4M181.3 155h4m-2 0V197m-2 0h4M340.8 136h4m-2 0V174m-2 0h4M315.3 56h4m-2 0V207m-2 0h4M389.1 200h4m-2 0V251m-2 0h4M345.2 148h4m-2 0V208m-2 0h4M376.7 129h4m-2 0V194m-2 0h4M271.2 164h4m-2 0V218m-2 0h4M326.1 92h4m-2 0V132m-2 0h4M199.3 14V92m-2 0h4M228.4 197h4m-2 0V235m-2 0h4M369.9 174h4m-2 0V235m-2 0h4M179.2 140h4m-2 0V193m-2 0h4M316 62h4m-2 0V105m-2 0h4M389.1 137h4m-2 0V194m-2 0h4M303.8 108h4m-2 0V151m-2 0h4M324.1 151h4m-2 0V236m-2 0h4M183.7 131h4m-2 0V183M254.3 125h4m-2 0V177m-2 0h4M325 76h4m-2 0V117M172.4 130h4m-2 0V238m-2 0h4M305.9 95h4m-2 0V146m-2 0h4M117.8 110h4m-2 0V233m-2 0h4M359.7 168h4m-2 0V203m-2 0h4M293.5 144h4m-2 0V211m-2 0h4M182.4 142h4m-2 0V189m-2 0h4M261.1 151h4m-2 0V190m-2 0h4M185.7 157V206m-2 0h4M325.6 14V126M256.6 128h4m-2 0V196m-2 0h4M144.3 158h4m-2 0V229m-2 0h4M264.7 100h4m-2 0V150m-2 0h4M407.1 118h4m-2 0V171m-2 0h4M293.6 164h4m-2 0V205m-2 0h4M190.4 146h4m-2 0V204m-2 0h4M137.7 157h4m-2 0V205m-2 0h4M353.1 113h4m-2 0V234m-2 0h4M237.6 158h4m-2 0V213m-2 0h4M320.5 106h4m-2 0V145m-2 0h4M153.3 175h4m-2 0V251m-2 0h4M190.5 167h4m-2 0V213m-2 0h4M381.2 136h4m-2 0V184m-2 0h4M311.6 105h4m-2 0V151m-2 0h4M179.2 167h4m-2 0V215m-2 0h4M193.7 168h4m-2 0V213m-2 0h4M325.8 154h4m-2 0V254m-2 0h4M156.6 155h4m-2 0V210m-2 0h4M209.5 114h4m-2 0V206m-2 0h4M396.8 153h4m-2 0V227m-2 0h4M167.9 139h4m-2 0V187m-2 0h4M290.3 170h4m-2 0V236m-2 0h4M377.8 137h4m-2 0V185m-2 0h4M207.3 141h4m-2 0V188m-2 0h4M310.4 133h4m-2 0V172m-2 0h4M391.4 148h4m-2 0V197m-2 0h4M402.5 14V71m-2 0h4M264.3 137h4m-2 0V191m-2 0h4M385.7 121h4m-2 0V194m-2 0h4M377.8 160h4m-2 0V202m-2 0h4M202.7 149h4m-2 0V213m-2 0h4M401.4 153h4m-2 0V194m-2 0h4M249.9 146h4m-2 0V206m-2 0h4M401.3 142h4m-2 0V200m-2 0h4M182.5 130h4m-2 0V190m-2 0h4M381.1 153h4m-2 0V219m-2 0h4M355.4 163h4m-2 0V203m-2 0h4M197.4 75h4m-2 0V134m-2 0h4M384.5 180h4m-2 0V237m-2 0h4M232 101h4m-2 0V154m-2 0h4M372.2 149h4m-2 0V223m-2 0h4M377.7 142h4m-2 0V189m-2 0h4M292.7 14V159m-2 0h4M389.1 132h4m-2 0V194m-2 0h4M198.6 33h4m-2 0V70m-2 0h4M191.4 141h4m-2 0V191m-2 0h4M245.3 161h4m-2 0V196m-2 0h4M212.8 155h4m-2 0V209m-2 0h4M407.1 158h4m-2 0V202m-2 0h4M353.3 14V119m-2 0h4M349.7 132h4m-2 0V195m-2 0h4M288.8 57h4m-2 0V163m-2 0h4M288.2 31h4m-2 0V88m-2 0h4M264.4 155h4m-2 0V227m-2 0h4M280.1 161h4m-2 0V211m-2 0h4M140.9 139h4m-2 0V195m-2 0h4M290.3 135h4m-2 0V192m-2 0h4M339.5 131h4m-2 0V179m-2 0h4M310.3 14V101m-2 0h4M349.8 135h4m-2 0V192m-2 0h4M384.5 185h4m-2 0V240m-2 0h4M322.9 109h4m-2 0V164m-2 0h4M331.8 88h4m-2 0V145m-2 0h4M325.9 30h4m-2 0V93M247.6 148h4m-2 0V190m-2 0h4M353.1 175h4m-2 0V229m-2 0h4M155.5 69h4m-2 0V270M202.7 141h4m-2 0V197m-2 0h4M306 66h4m-2 0V114M312.7 113h4m-2 0V156m-2 0h4M282.5 124h4m-2 0V205m-2 0h4M257.8 195h4m-2 0V241m-2 0h4M302.6 103h4m-2 0V153m-2 0h4M404.8 177h4m-2 0V218m-2 0h4M209.5 113h4m-2 0V211m-2 0h4M165.7 136h4m-2 0V196m-2 0h4M180.2 161h4m-2 0V206m-2 0h4M167.9 145h4m-2 0V193m-2 0h4M332.9 99h4m-2 0V157m-2 0h4M227.4 141h4m-2 0V207m-2 0h4M399.2 134h4m-2 0V171m-2 0h4M310.4 98h4m-2 0V155m-2 0h4M266.6 131h4m-2 0V189m-2 0h4M298.2 122h4m-2 0V163m-2 0h4M210.6 91h4m-2 0V222m-2 0h4M340.4 180h4m-2 0V234m-2 0h4M308.1 26h4m-2 0V192m-2 0h4M367.7 147h4m-2 0V193m-2 0h4M333 96h4m-2 0V157m-2 0h4M237.6 164h4m-2 0V213m-2 0h4M226.2 162h4m-2 0V231m-2 0h4M183.7 137h4m-2 0V214m-2 0h4M214.9 145h4m-2 0V195m-2 0h4M235.3 176h4m-2 0V225m-2 0h4M200.5 134h4m-2 0V195m-2 0h4M279.1 145h4m-2 0V196m-2 0h4M259.8 145h4m-2 0V198m-2 0h4M392.5 145h4m-2 0V189m-2 0h4M311.6 94h4m-2 0V145m-2 0h4M220.5 151h4m-2 0V217m-2 0h4M176.9 161h4m-2 0V200m-2 0h4M382.2 134h4m-2 0V202m-2 0h4M323 103h4m-2 0V227m-2 0h4M227.3 151h4m-2 0V195m-2 0h4M336.5 126h4m-2 0V181m-2 0h4M142.1 126h4m-2 0V163m-2 0h4M394.6 138h4m-2 0V190m-2 0h4M316 84h4m-2 0V123m-2 0h4M353.8 57h4m-2 0V110m-2 0h4M280.2 173h4m-2 0V221m-2 0h4M322 158h4m-2 0V240m-2 0h4M398.1 138h4m-2 0V194m-2 0h4M293.6 120h4m-2 0V185m-2 0h4M243.2 155h4m-2 0V212m-2 0h4M222.9 138h4m-2 0V194m-2 0h4M291.4 184h4m-2 0V221m-2 0h4M327.9 53h4m-2 0V98m-2 0h4M381.2 124h4m-2 0V181m-2 0h4M383.4 157h4m-2 0V192m-2 0h4M173.5 176h4m-2 0V228m-2 0h4M188.1 147h4m-2 0V193m-2 0h4M143.9 69h4m-2 0V126m-2 0h4M372.1 186h4m-2 0V253m-2 0h4M320.5 72h4m-2 0V142m-2 0h4M315.4 108h4m-2 0V152m-2 0h4M299.2 117h4m-2 0V149m-2 0h4M247.6 143h4m-2 0V188m-2 0h4M189.2 140h4m-2 0V197m-2 0h4M297.4 52h4m-2 0V116m-2 0h4M216.2 153h4m-2 0V212m-2 0h4M183.7 137h4m-2 0V191M136.4 135h4m-2 0V186m-2 0h4M166.7 143h4m-2 0V190m-2 0h4M366.6 154h4m-2 0V202m-2 0h4M297 123h4m-2 0V176m-2 0h4M305.9 127h4m-2 0V163m-2 0h4M369.9 138h4m-2 0V198m-2 0h4M285.7 198h4m-2 0V238m-2 0h4M186.9 168h4m-2 0V216m-2 0h4M138.7 161h4m-2 0V200m-2 0h4M309.2 50h4m-2 0V110m-2 0h4M308.2 86h4m-2 0V149m-2 0h4M400.4 163h4m-2 0V217m-2 0h4M246.4 60h4m-2 0V270M227.4 160h4m-2 0V207m-2 0h4M363.2 157h4m-2 0V207m-2 0h4M283.5 186h4m-2 0V237m-2 0h4M137.7 171h4m-2 0V217m-2 0h4M321.3 164h4m-2 0V231m-2 0h4M195.9 144h4m-2 0V191M354.1 158h4m-2 0V214m-2 0h4M383.4 165h4m-2 0V209m-2 0h4M272.3 158h4m-2 0V192m-2 0h4M355.3 145h4m-2 0V198m-2 0h4M154.6 140h4m-2 0V179m-2 0h4M321.7 78h4m-2 0V118m-2 0h4M378.9 179h4m-2 0V221m-2 0h4M185.7 189V232m-2 0h4M344 142h4m-2 0V184m-2 0h4M321.7 59h4m-2 0V105m-2 0h4M259.8 24h4m-2 0V151m-2 0h4M193.7 156h4m-2 0V194m-2 0h4M238.4 162h4m-2 0V215m-2 0h4M394.8 112h4m-2 0V158m-2 0h4M152.1 155h4m-2 0V186m-2 0h4M361 183h4m-2 0V257m-2 0h4M262 146h4m-2 0V207m-2 0h4M291.4 147h4m-2 0V189m-2 0h4M338.3 53h4m-2 0V216m-2 0h4M371 153h4m-2 0V191m-2 0h4M292.8 14V79m-2 0h4M318.3 73h4m-2 0V121m-2 0h4M211.6 184h4m-2 0V239m-2 0h4M192.5 142h4m-2 0V206m-2 0h4M297.8 28h4m-2 0V97m-2 0h4M297 143h4m-2 0V192m-2 0h4M254.3 186h4m-2 0V233m-2 0h4M249.9 163h4m-2 0V209m-2 0h4M346.5 150h4m-2 0V199m-2 0h4M226.2 136h4m-2 0V204m-2 0h4M305 144h4m-2 0V243m-2 0h4M185.9 175h4m-2 0V233m-2 0h4M288 146h4m-2 0V181m-2 0h4M170.1 133h4m-2 0V185m-2 0h4M157.9 146h4m-2 0V191m-2 0h4M276.8 156h4m-2 0V212m-2 0h4M262 160h4m-2 0V220m-2 0h4M192.5 141h4m-2 0V177m-2 0h4M159 129h4m-2 0V190m-2 0h4M245.3 134h4m-2 0V190m-2 0h4M328.5 89h4m-2 0V128m-2 0h4M400.3 175h4m-2 0V228m-2 0h4M318.2 92h4m-2 0V143m-2 0h4M235.2 152h4m-2 0V202m-2 0h4M194.8 155h4m-2 0V196m-2 0h4M259.8 168h4m-2 0V206m-2 0h4M310.4 78h4m-2 0V130m-2 0h4M298.2 142h4m-2 0V188m-2 0h4M378.4 152h4m-2 0V239m-2 0h4M283.5 129h4m-2 0V268m-2 0h4M327.2 71h4m-2 0V134m-2 0h4M227.2 37h4m-2 0V105m-2 0h4M389.1 183h4m-2 0V242m-2 0h4M275.5 164h4m-2 0V215m-2 0h4M265.6 167h4m-2 0V199m-2 0h4M381.2 136h4m-2 0V198m-2 0h4M235.2 146h4m-2 0V204m-2 0h4M202.7 136h4m-2 0V185m-2 0h4M407 125h4m-2 0V186m-2 0h4M353.1 135h4m-2 0V194m-2 0h4M221.8 141h4m-2 0V193m-2 0h4M404.8 144h4m-2 0V188m-2 0h4M216.2 149h4m-2 0V194m-2 0h4M399.1 163h4m-2 0V214m-2 0h4M199.5 35h4m-2 0V123m-2 0h4M379.9 141h4m-2 0V194m-2 0h4M367.7 130h4m-2 0V192m-2 0h4M202.8 171h4m-2 0V248m-2 0h4M246.5 137h4m-2 0V197m-2 0h4M329.5 40h4m-2 0V153m-2 0h4M327.7 136h4m-2 0V204m-2 0h4M176.9 132h4m-2 0V167m-2 0h4M339.5 129h4m-2 0V179m-2 0h4M398.8 42h4m-2 0V133m-2 0h4M195.9 41h4m-2 0V140m-2 0h4M123.6 115h4m-2 0V270M313.8 86h4m-2 0V133m-2 0h4M407.1 132h4m-2 0V171m-2 0h4M142.1 140h4m-2 0V191m-2 0h4M246.5 176h4m-2 0V221m-2 0h4M261.1 132h4m-2 0V218m-2 0h4M263.6 18h4m-2 0V96m-2 0h4M252 156h4m-2 0V200m-2 0h4M239.8 146h4m-2 0V192m-2 0h4M298.1 149h4m-2 0V195m-2 0h4M393.5 142h4m-2 0V197m-2 0h4M353.2 64h4m-2 0V104m-2 0h4M358.7 179h4m-2 0V230m-2 0h4M344 176h4m-2 0V219m-2 0h4M311.6 124h4m-2 0V170m-2 0h4M143.2 141h4m-2 0V189m-2 0h4M338.9 33h4m-2 0V146m-2 0h4M391.4 143h4m-2 0V195m-2 0h4M326.2 83h4m-2 0V121m-2 0h4M295.8 128h4m-2 0V183m-2 0h4M402.3 14V150m-2 0h4M257.8 161h4m-2 0V216m-2 0h4M169.1 146h4m-2 0V236m-2 0h4M199.4 176h4m-2 0V226m-2 0h4M396.7 80h4m-2 0V134m-2 0h4M340 75h4m-2 0V155m-2 0h4M257.3 91h4m-2 0V163m-2 0h4M290.5 32h4m-2 0V64m-2 0h4M267.7 179h4m-2 0V224m-2 0h4M162.4 124h4m-2 0V191m-2 0h4M167.9 139h4m-2 0V195m-2 0h4M326.2 171h4m-2 0V242m-2 0h4M210.6 135h4m-2 0V195m-2 0h4M322.9 63h4m-2 0V134m-2 0h4M139.8 144h4m-2 0V203m-2 0h4M161.1 146h4m-2 0V198m-2 0h4M216.2 136h4m-2 0V221m-2 0h4M355.4 138h4m-2 0V196m-2 0h4M396.8 140h4m-2 0V220m-2 0h4M273.4 140h4m-2 0V193m-2 0h4M321.7 117h4m-2 0V153m-2 0h4M394.6 187h4m-2 0V237m-2 0h4M214.9 130h4m-2 0V177m-2 0h4M349.7 132h4m-2 0V194m-2 0h4M197.1 155h4m-2 0V206m-2 0h4M235.2 173h4m-2 0V202m-2 0h4M291.4 140h4m-2 0V195m-2 0h4M230.1 15h4m-2 0V119m-2 0h4M405.9 155h4m-2 0V212m-2 0h4M152.6 100h4m-2 0V187m-2 0h4M195.9 143h4m-2 0V194m-2 0h4M328.5 88h4m-2 0V151m-2 0h4M323.5 63h4m-2 0V133m-2 0h4M143.2 179h4m-2 0V229m-2 0h4M267.8 138h4m-2 0V203m-2 0h4M176.9 144h4m-2 0V189m-2 0h4M285.7 139h4m-2 0V198m-2 0h4M373.4 158h4m-2 0V220m-2 0h4M279.1 136h4m-2 0V193m-2 0h4M326.1 94h4m-2 0V151m-2 0h4M268.9 140h4m-2 0V193m-2 0h4M371 154h4m-2 0V205m-2 0h4M209.5 139h4m-2 0V182m-2 0h4M154.6 136h4m-2 0V175m-2 0h4M291.4 143h4m-2 0V181m-2 0h4M402.5 41h4m-2 0V113m-2 0h4M230.7 143h4m-2 0V200m-2 0h4M342.5 143h4m-2 0V249m-2 0h4M313.8 85h4m-2 0V153m-2 0h4M314.9 114h4m-2 0V155m-2 0h4M370.9 35h4m-2 0V139m-2 0h4M365 14V167m-2 0h4M229.6 185h4m-2 0V225m-2 0h4M399.1 153h4m-2 0V193m-2 0h4M124 96h4m-2 0V270M405.9 155h4m-2 0V197m-2 0h4M151.1 140h4m-2 0V192m-2 0h4M271.2 147h4m-2 0V193m-2 0h4M337.4 145h4m-2 0V192m-2 0h4M246.5 140h4m-2 0V189m-2 0h4M390.2 163h4m-2 0V210m-2 0h4M310.4 124h4m-2 0V220m-2 0h4M283.5 159h4m-2 0V191m-2 0h4M405.9 32h4m-2 0V199m-2 0h4M382.2 147h4m-2 0V207m-2 0h4M196 152h4m-2 0V193M249.9 147h4m-2 0V199m-2 0h4M328.9 14V79m-2 0h4M274.5 153h4m-2 0V206m-2 0h4M321.6 55h4m-2 0V101m-2 0h4M325 83h4m-2 0V193m-2 0h4M191.4 141h4m-2 0V189m-2 0h4M349.8 160h4m-2 0V201m-2 0h4M385.7 121h4m-2 0V222m-2 0h4M179.2 161h4m-2 0V229m-2 0h4M300.8 156h4m-2 0V236m-2 0h4M367.7 141h4m-2 0V183m-2 0h4M319.1 58h4m-2 0V95m-2 0h4M315 88h4m-2 0V147m-2 0h4M335.2 105h4m-2 0V158m-2 0h4M385.7 141h4m-2 0V178m-2 0h4M390.1 143h4m-2 0V210m-2 0h4M242.1 147h4m-2 0V214m-2 0h4M310 14V79m-2 0h4M385.6 174h4m-2 0V238m-2 0h4M263.8 14V92m-2 0h4M334.2 121h4m-2 0V169m-2 0h4M329.8 73h4m-2 0V114m-2 0h4M265.6 149h4m-2 0V200m-2 0h4M160.2 150h4m-2 0V192m-2 0h4M175.7 156h4m-2 0V201m-2 0h4M321.1 80h4m-2 0V137m-2 0h4M156.6 137h4m-2 0V196m-2 0h4M316 94h4m-2 0V146m-2 0h4M407 142h4m-2 0V194m-2 0h4M407.1 137h4m-2 0V203m-2 0h4M262.1 181h4m-2 0V220m-2 0h4M358.7 158h4m-2 0V211m-2 0h4M189.2 157h4m-2 0V190m-2 0h4M353.1 142h4m-2 0V211m-2 0h4M248.7 170h4m-2 0V232m-2 0h4M383.4 135h4m-2 0V201m-2 0h4M261.1 160h4m-2 0V228m-2 0h4M330.6 121h4m-2 0V158m-2 0h4M252.1 103h4m-2 0V231m-2 0h4M322.9 73h4m-2 0V122m-2 0h4M200.5 154h4m-2 0V217m-2 0h4M339.5 156h4m-2 0V226m-2 0h4M284.7 152h4m-2 0V179m-2 0h4M186.9 148h4m-2 0V201m-2 0h4M267.7 130h4m-2 0V180m-2 0h4M407.1 152h4m-2 0V210m-2 0h4M318.2 82h4m-2 0V124m-2 0h4M207.9 65h4m-2 0V161m-2 0h4M299.9 59h4m-2 0V125m-2 0h4M329.5 102h4m-2 0V159m-2 0h4M344.1 114h4m-2 0V176m-2 0h4M393.5 154h4m-2 0V188m-2 0h4M376.7 156h4m-2 0V214m-2 0h4M283.5 143h4m-2 0V210m-2 0h4M194.8 175h4m-2 0V225m-2 0h4M135.4 165h4m-2 0V218m-2 0h4M147.6 148h4m-2 0V213m-2 0h4M368.9 150h4m-2 0V194m-2 0h4M197.1 138h4m-2 0V201m-2 0h4M308.6 56h4m-2 0V121m-2 0h4M157.8 151h4m-2 0V196m-2 0h4M261.1 143h4m-2 0V203m-2 0h4M313.8 88h4m-2 0V126m-2 0h4M289.1 143h4m-2 0V189m-2 0h4M263.4 147h4m-2 0V188m-2 0h4M316.7 14V118m-2 0h4M200.5 134h4m-2 0V191m-2 0h4M179.2 147h4m-2 0V203m-2 0h4M371.1 169h4m-2 0V212m-2 0h4M290.3 162h4m-2 0V203m-2 0h4M210.6 144h4m-2 0V204m-2 0h4M373.4 149h4m-2 0V188m-2 0h4M317.8 39h4m-2 0V172m-2 0h4M211.6 149h4m-2 0V196m-2 0h4M200.5 161h4m-2 0V211m-2 0h4M209.5 145h4m-2 0V183m-2 0h4M314.9 79h4m-2 0V136m-2 0h4M389.1 145h4m-2 0V192m-2 0h4M243.2 158h4m-2 0V207m-2 0h4M259.8 159h4m-2 0V194m-2 0h4M124.9 155h4m-2 0V247m-2 0h4M320.6 46h4m-2 0V161m-2 0h4M137.7 146h4m-2 0V212m-2 0h4M183.7 150h4m-2 0V197m-2 0h4M307 14V117m-2 0h4M302.5 116h4m-2 0V158m-2 0h4M356.9 161h4m-2 0V229m-2 0h4M155.6 181h4m-2 0V239m-2 0h4M312.7 70h4m-2 0V126m-2 0h4M228.2 42h4m-2 0V195m-2 0h4M263.4 146h4m-2 0V197m-2 0h4M354.1 161h4m-2 0V199m-2 0h4M194.9 150h4m-2 0V195m-2 0h4M170.1 154h4m-2 0V192m-2 0h4M321 167h4m-2 0V240m-2 0h4M222.8 160h4m-2 0V207m-2 0h4M237.6 144h4m-2 0V199m-2 0h4M274.5 146h4m-2 0V192m-2 0h4M166.7 131h4m-2 0V176m-2 0h4M291.4 125h4m-2 0V194m-2 0h4M211.6 149h4m-2 0V201m-2 0h4M183.7 177h4m-2 0V216m-2 0h4M355.4 134h4m-2 0V213m-2 0h4M276.7 112h4m-2 0V186m-2 0h4M140.9 151h4m-2 0V201m-2 0h4M235.2 94h4m-2 0V208m-2 0h4M152.1 180h4m-2 0V218m-2 0h4M160.9 192V234m-2 0h4M183.7 137h4m-2 0V203m-2 0h4M301.4 87h4m-2 0V130m-2 0h4M322.8 74h4m-2 0V116m-2 0h4M392.5 122h4m-2 0V270m-2 0h4M136.5 133h4m-2 0V212m-2 0h4M189.2 143h4m-2 0V190m-2 0h4M201.6 173h4m-2 0V208m-2 0h4M333 110h4m-2 0V155m-2 0h4M245.3 133h4m-2 0V202m-2 0h4M185.7 156V194M363.2 189h4m-2 0V240m-2 0h4M143.2 150h4m-2 0V196m-2 0h4M235.2 148h4m-2 0V198m-2 0h4M331.7 125h4m-2 0V176m-2 0h4M322.9 80h4m-2 0V125m-2 0h4M316.8 14V161m-2 0h4M377.7 141h4m-2 0V174m-2 0h4M321.6 78h4m-2 0V128m-2 0h4M331.7 93h4m-2 0V156m-2 0h4M355.3 102h4m-2 0V251m-2 0h4M137.7 152h4m-2 0V201m-2 0h4M389.1 137h4m-2 0V211m-2 0h4M200.5 161h4m-2 0V224m-2 0h4M352.9 14V84m-2 0h4M226.2 147h4m-2 0V211m-2 0h4M218.5 174h4m-2 0V228m-2 0h4M245.2 153h4m-2 0V205m-2 0h4M170.1 150h4m-2 0V197m-2 0h4M331.7 97h4m-2 0V156m-2 0h4M254.3 152h4m-2 0V195m-2 0h4M312.6 92h4m-2 0V132m-2 0h4M400.3 139h4m-2 0V187m-2 0h4M247.6 141h4m-2 0V194m-2 0h4M376.7 142h4m-2 0V223m-2 0h4M312.6 84h4m-2 0V138m-2 0h4M392.5 142h4m-2 0V197m-2 0h4M288 136h4m-2 0V195m-2 0h4M388 136h4m-2 0V180m-2 0h4M386.5 170h4m-2 0V228m-2 0h4M231.9 132h4m-2 0V198m-2 0h4M395.7 143h4m-2 0V199m-2 0h4M395.7 129h4m-2 0V213m-2 0h4M306.8 35h4m-2 0V163m-2 0h4M326.2 74h4m-2 0V124m-2 0h4M119.3 160h4m-2 0V268m-2 0h4M138.7 188h4m-2 0V225m-2 0h4M190.5 154h4m-2 0V207m-2 0h4M306 100h4m-2 0V139m-2 0h4M206 150h4m-2 0V205m-2 0h4M377.8 135h4m-2 0V185m-2 0h4M292.3 146h4m-2 0V183m-2 0h4M245.3 154h4m-2 0V221m-2 0h4M288 149h4m-2 0V197m-2 0h4M173.4 123h4m-2 0V173m-2 0h4M246.5 170h4m-2 0V221m-2 0h4M267.7 130h4m-2 0V207m-2 0h4M227.4 94h4m-2 0V222m-2 0h4M261.1 127h4m-2 0V179m-2 0h4M378.9 29h4m-2 0V89m-2 0h4M372.2 187h4m-2 0V228m-2 0h4M380 154h4m-2 0V213m-2 0h4M238.5 165h4m-2 0V207m-2 0h4M185.9 141h4m-2 0V250m-2 0h4M142.1 144h4m-2 0V194m-2 0h4M312.7 83h4m-2 0V117m-2 0h4M185.9 129h4m-2 0V201m-2 0h4M192.5 151h4m-2 0V199m-2 0h4M316 71h4m-2 0V138m-2 0h4M233 150h4m-2 0V215m-2 0h4M365.5 185h4m-2 0V236m-2 0h4M318.4 45h4m-2 0V111m-2 0h4M160.1 152h4m-2 0V191m-2 0h4M279.1 161h4m-2 0V228m-2 0h4M288.7 104h4m-2 0V156m-2 0h4M194.8 144h4m-2 0V194m-2 0h4M201.6 136h4m-2 0V193m-2 0h4M138.7 155h4m-2 0V201m-2 0h4M158.9 140h4m-2 0V204m-2 0h4M339.5 128h4m-2 0V191m-2 0h4M275.5 152h4m-2 0V193m-2 0h4M137.7 140h4m-2 0V201m-2 0h4M345.2 145h4m-2 0V200m-2 0h4M280.2 146h4m-2 0V191m-2 0h4M371 188h4m-2 0V235m-2 0h4M380 155h4m-2 0V207m-2 0h4M354.1 87h4m-2 0V228m-2 0h4M135.4 164h4m-2 0V211m-2 0h4M199.2 36h4m-2 0V82m-2 0h4M154.6 122h4m-2 0V190m-2 0h4M182.5 111h4m-2 0V270M231.9 130h4m-2 0V194m-2 0h4M139.8 152h4m-2 0V191m-2 0h4M242.1 147h4m-2 0V201m-2 0h4M313.8 88h4m-2 0V150m-2 0h4M167.4 75h4m-2 0V173m-2 0h4M375.6 145h4m-2 0V191m-2 0h4M185.7 161V222m-2 0h4M297 120h4m-2 0V161m-2 0h4M278 143h4m-2 0V191m-2 0h4M243.2 137h4m-2 0V196m-2 0h4M228.7 18h4m-2 0V125m-2 0h4M182.5 180h4m-2 0V220m-2 0h4M222.8 172h4m-2 0V216m-2 0h4M172.4 149h4m-2 0V195m-2 0h4M191.4 155h4m-2 0V212m-2 0h4M154.6 125h4m-2 0V201m-2 0h4M136.5 144h4m-2 0V172m-2 0h4M184.8 204h4m-2 0V256m-2 0h4M377 168h4m-2 0V229m-2 0h4M159 112h4m-2 0V263m-2 0h4M207.3 163h4m-2 0V202m-2 0h4M280.1 122h4m-2 0V183m-2 0h4M184.8 161h4m-2 0V216m-2 0h4M340.8 126h4m-2 0V194m-2 0h4M189.2 157h4m-2 0V202m-2 0h4M315 75h4m-2 0V112m-2 0h4M212.8 157h4m-2 0V204m-2 0h4M175.7 159h4m-2 0V195m-2 0h4M376.7 78h4m-2 0V221m-2 0h4M174.6 133h4m-2 0V234m-2 0h4M175.8 148h4m-2 0V193m-2 0h4M170.1 134h4m-2 0V192m-2 0h4M374.4 126h4m-2 0V191m-2 0h4M324.4 50h4m-2 0V109M174.6 142h4m-2 0V203m-2 0h4M197.1 141h4m-2 0V218m-2 0h4M202.7 135h4m-2 0V197m-2 0h4M201.4 14V108m-2 0h4M159.9 156V216m-2 0h4M342.9 137h4m-2 0V188m-2 0h4M253.1 140h4m-2 0V188m-2 0h4M221.8 190h4m-2 0V233m-2 0h4M243.2 130h4m-2 0V184m-2 0h4M325.1 89h4m-2 0V127M310.4 95h4m-2 0V144m-2 0h4M166.7 139h4m-2 0V189m-2 0h4M170.1 144h4m-2 0V195m-2 0h4M246.5 132h4m-2 0V194m-2 0h4M264.5 14V108m-2 0h4M367.7 128h4m-2 0V190m-2 0h4M166.7 132h4m-2 0V190m-2 0h4M373.5 140h4m-2 0V180m-2 0h4M232.9 176h4m-2 0V247m-2 0h4M294.6 148h4m-2 0V196m-2 0h4M216.2 149h4m-2 0V202m-2 0h4M238.5 198h4m-2 0V241m-2 0h4M291.4 162h4m-2 0V213m-2 0h4M228.4 169h4m-2 0V202m-2 0h4M197.1 144h4m-2 0V198m-2 0h4M399.1 166h4m-2 0V216m-2 0h4M373.5 204h4m-2 0V263m-2 0h4M340.8 145h4m-2 0V190m-2 0h4M302.5 97h4m-2 0V138m-2 0h4M338 158h4m-2 0V222m-2 0h4M188 163h4m-2 0V217m-2 0h4M329.6 70h4m-2 0V127m-2 0h4M219.5 157h4m-2 0V204m-2 0h4M359.9 167h4m-2 0V211m-2 0h4M318.2 70h4m-2 0V134m-2 0h4M316.4 150h4m-2 0V226m-2 0h4M155.6 133h4m-2 0V175m-2 0h4M316 35h4m-2 0V188m-2 0h4M325.2 23h4m-2 0V146m-2 0h4M204.9 155h4m-2 0V215m-2 0h4M153.3 178h4m-2 0V236m-2 0h4M155.5 165h4m-2 0V209m-2 0h4M340.8 154h4m-2 0V205m-2 0h4M263.8 36h4m-2 0V93m-2 0h4M389.1 147h4m-2 0V191m-2 0h4M259.8 143h4m-2 0V192m-2 0h4M284.7 161h4m-2 0V201m-2 0h4M407.1 137h4m-2 0V178m-2 0h4M369.9 144h4m-2 0V193m-2 0h4M255.5 175h4m-2 0V222m-2 0h4M349.7 154h4m-2 0V198m-2 0h4M250 145h4m-2 0V210m-2 0h4M246.5 141h4m-2 0V194m-2 0h4M398 138h4m-2 0V203m-2 0h4M290.3 155h4m-2 0V215m-2 0h4M307.4 76h4m-2 0V132m-2 0h4M340.6 161h4m-2 0V217m-2 0h4M331.7 127h4m-2 0V175m-2 0h4M151.1 138h4m-2 0V204m-2 0h4M332.8 69h4m-2 0V115m-2 0h4M393.5 132h4m-2 0V187m-2 0h4M369.9 118h4m-2 0V177m-2 0h4M160.1 135h4m-2 0V183m-2 0h4M351.8 22h4m-2 0V69m-2 0h4M209.5 139h4m-2 0V190m-2 0h4M325.7 100V149m-2 0h4M399.2 130h4m-2 0V175m-2 0h4M179.2 133h4m-2 0V183m-2 0h4M243.5 108h4m-2 0V193m-2 0h4M298.1 140h4m-2 0V206m-2 0h4M369.9 108h4m-2 0V186m-2 0h4M388 143h4m-2 0V179m-2 0h4M391.4 148h4m-2 0V188m-2 0h4M355.3 66h4m-2 0V152m-2 0h4M318.2 77h4m-2 0V116m-2 0h4M154.6 150h4m-2 0V188m-2 0h4M377.8 150h4m-2 0V185m-2 0h4M190.4 156h4m-2 0V201m-2 0h4M153.3 146h4m-2 0V188m-2 0h4M353.1 177h4m-2 0V219m-2 0h4M293.6 124h4m-2 0V207m-2 0h4M268.9 186h4m-2 0V231m-2 0h4M274.5 160h4m-2 0V227m-2 0h4M193.7 193h4m-2 0V223m-2 0h4M252.1 121h4m-2 0V210m-2 0h4M125.9 69h4m-2 0V202m-2 0h4M325.7 88V158m-2 0h4M365 121h4m-2 0V173m-2 0h4M151.2 120h4m-2 0V196m-2 0h4M200.5 48h4m-2 0V95m-2 0h4M280.1 140h4m-2 0V193m-2 0h4M190.4 145h4m-2 0V189m-2 0h4M204.9 169h4m-2 0V218m-2 0h4M253.1 166h4m-2 0V219m-2 0h4M349.8 145h4m-2 0V185m-2 0h4M276.8 136h4m-2 0V186m-2 0h4M227.4 140h4m-2 0V204m-2 0h4M257.8 136h4m-2 0V198m-2 0h4M308.2 86h4m-2 0V148m-2 0h4M166.7 145h4m-2 0V204m-2 0h4M328.1 14V56m-2 0h4M117 114h4m-2 0V234m-2 0h4M261.2 145h4m-2 0V181m-2 0h4M374.4 173h4m-2 0V213m-2 0h4M214.9 152h4m-2 0V194m-2 0h4M295.8 126h4m-2 0V176m-2 0h4M252.1 146h4m-2 0V192m-2 0h4M283.5 151h4m-2 0V198m-2 0h4M211.7 181h4m-2 0V225m-2 0h4M300.3 121h4m-2 0V212m-2 0h4M298.1 147h4m-2 0V197m-2 0h4M119.7 89h4m-2 0V183m-2 0h4M222.8 136h4m-2 0V181m-2 0h4M189.2 151h4m-2 0V200m-2 0h4M254.3 147h4m-2 0V184m-2 0h4M393.5 156h4m-2 0V218m-2 0h4M179.2 180h4m-2 0V232m-2 0h4M338.3 34h4m-2 0V153m-2 0h4M246.5 181h4m-2 0V245m-2 0h4M155.5 145h4m-2 0V182m-2 0h4M323.9 14V163m-2 0h4M253.1 145h4m-2 0V197m-2 0h4M371 146h4m-2 0V225m-2 0h4M327.7 53h4m-2 0V125m-2 0h4M407.1 114h4m-2 0V183m-2 0h4M313.6 136h4m-2 0V214m-2 0h4M250.1 65h4m-2 0V135m-2 0h4M375.6 176h4m-2 0V233m-2 0h4M222.8 140h4m-2 0V180m-2 0h4M161.1 190h4m-2 0V227m-2 0h4M200.6 70h4m-2 0V172m-2 0h4M166.7 138h4m-2 0V185m-2 0h4M389 151h4m-2 0V192m-2 0h4M207.3 135h4m-2 0V189m-2 0h4M349.8 175h4m-2 0V228m-2 0h4M405.9 135h4m-2 0V188m-2 0h4M392.2 164V216m-2 0h4M383.4 137h4m-2 0V196m-2 0h4M183.7 155h4m-2 0V223m-2 0h4M301.4 99h4m-2 0V149m-2 0h4M153.3 137h4m-2 0V191m-2 0h4M246.5 144h4m-2 0V182m-2 0h4M303.8 128h4m-2 0V216m-2 0h4M236.3 138h4m-2 0V218m-2 0h4M327.2 90h4m-2 0V135m-2 0h4M300.3 108h4m-2 0V170m-2 0h4M311.6 92h4m-2 0V140m-2 0h4M115.9 105h4m-2 0V232m-2 0h4M314.9 94h4m-2 0V160m-2 0h4M362.1 177h4m-2 0V261m-2 0h4M203.8 147h4m-2 0V193m-2 0h4M135.4 181h4m-2 0V228m-2 0h4M198.1 155h4m-2 0V194m-2 0h4M275.6 160h4m-2 0V216m-2 0h4M259.6 22h4m-2 0V66m-2 0h4M304.7 112h4m-2 0V177m-2 0h4M310.3 97h4m-2 0V142m-2 0h4M279.1 157h4m-2 0V211m-2 0h4M236.3 141h4m-2 0V206m-2 0h4M362.2 58h4m-2 0V134m-2 0h4M318.1 146h4m-2 0V237m-2 0h4M346.5 144h4m-2 0V201m-2 0h4M201.5 14V68m-2 0h4M326.2 72h4m-2 0V126m-2 0h4M365.5 134h4m-2 0V189m-2 0h4M248.7 152h4m-2 0V209m-2 0h4M228.9 27h4m-2 0V82m-2 0h4M159.9 157V190m-2 0h4M192.5 191h4m-2 0V227m-2 0h4M367.7 156h4m-2 0V198m-2 0h4M328.5 81h4m-2 0V138m-2 0h4M373 167h4m-2 0V210m-2 0h4M331.9 14V91m-2 0h4M304.7 102h4m-2 0V149m-2 0h4M176.9 181h4m-2 0V242m-2 0h4M350.9 85h4m-2 0V138m-2 0h4M230.7 135h4m-2 0V183m-2 0h4M292.3 137h4m-2 0V175m-2 0h4M170.1 137h4m-2 0V203m-2 0h4M218.5 155h4m-2 0V202m-2 0h4M204.9 145h4m-2 0V213m-2 0h4M211.6 155h4m-2 0V199m-2 0h4M210.6 161h4m-2 0V217m-2 0h4M138.7 161h4m-2 0V239m-2 0h4M181.2 144h4m-2 0V191m-2 0h4M340.8 111h4m-2 0V206m-2 0h4M297 125h4m-2 0V175m-2 0h4M361 139h4m-2 0V199m-2 0h4M144.3 199h4m-2 0V245m-2 0h4M303.8 114h4m-2 0V158m-2 0h4M247.6 149h4m-2 0V205m-2 0h4M315.9 99h4m-2 0V138m-2 0h4M198 166V212m-2 0h4M331.8 72h4m-2 0V202m-2 0h4M289.1 137h4m-2 0V199m-2 0h4M246.4 143h4m-2 0V193m-2 0h4M258.3 14V88m-2 0h4M301.4 129h4m-2 0V163m-2 0h4M231.1 112h4m-2 0V134m-2 0h4M334.2 167h4m-2 0V216m-2 0h4M289.1 150h4m-2 0V201m-2 0h4M276.8 143h4m-2 0V212m-2 0h4M138.7 144h4m-2 0V218m-2 0h4M358.7 161h4m-2 0V206m-2 0h4M407.1 144h4m-2 0V181m-2 0h4M102.3 433h4m-2 0V505m-2 0h4M142.9 440h4m-2 0V498m-2 0h4M155 473h4m-2 0V514m-2 0h4M156.8 495h4m-2 0V563m-2 0h4M110.3 488h4m-2 0V556m-2 0h4M122.8 438h4m-2 0V487m-2 0h4M97.3 467V498m-2 0h4M109.6 433h4m-2 0V481m-2 0h4M145.1 435h4m-2 0V473m-2 0h4M74.8 432h4m-2 0V484m-2 0h4M108.9 428h4m-2 0V470M148 449h4m-2 0V489m-2 0h4M139.9 414h4m-2 0V485m-2 0h4M117.3 453h4m-2 0V486m-2 0h4M143.5 441h4m-2 0V510m-2 0h4M116.2 424h4m-2 0V488m-2 0h4M112.9 470h4m-2 0V520m-2 0h4M126.4 434h4m-2 0V480M89.4 532h4m-2 0V563M154.3 481h4m-2 0V537m-2 0h4M94.6 450h4m-2 0V496m-2 0h4M143.5 447h4m-2 0V504m-2 0h4M128.8 484V531m-2 0h4M101.5 473h4m-2 0V504m-2 0h4M117.3 445h4m-2 0V484m-2 0h4M70.8 470h4m-2 0V505m-2 0h4M156.1 440h4m-2 0V491m-2 0h4M150.2 429h4m-2 0V475m-2 0h4M94.9 429h4m-2 0V492m-2 0h4M130.4 454h4m-2 0V557m-2 0h4M81 432h4m-2 0V484m-2 0h4M154.4 443V503m-2 0h4M77 421h4m-2 0V491m-2 0h4M74.8 481h4m-2 0V543m-2 0h4M108.9 462h4m-2 0V539m-2 0h4M149.4 327h4m-2 0V408m-2 0h4M114.4 516h4m-2 0V563M130.8 307V398m-2 0h4M103.3 439h4m-2 0V497m-2 0h4M106.7 440h4m-2 0V522m-2 0h4M134.1 418h4m-2 0V510m-2 0h4M117.3 455h4m-2 0V498m-2 0h4M100.8 427h4m-2 0V489M91.3 433h4m-2 0V477m-2 0h4M85.8 489h4m-2 0V540m-2 0h4M115.1 372h4m-2 0V563M113.6 421h4m-2 0V501m-2 0h4M121.6 461h4m-2 0V497m-2 0h4M121.6 443h4m-2 0V543m-2 0h4M93.9 461h4m-2 0V505m-2 0h4M92.7 452h4m-2 0V497m-2 0h4M159.3 307V379m-2 0h4M94.2 496h4m-2 0V534m-2 0h4M78.1 438h4m-2 0V485m-2 0h4M145.1 432h4m-2 0V499m-2 0h4M109.2 440h4m-2 0V511m-2 0h4M159.4 307V423m-2 0h4M112.9 439h4m-2 0V490m-2 0h4M104.4 524h4m-2 0V563M96.4 430h4m-2 0V481M162.2 427h4m-2 0V461m-2 0h4M80.6 447h4m-2 0V500m-2 0h4M90.6 440h4m-2 0V484m-2 0h4M76.3 466h4m-2 0V532m-2 0h4M140.3 430h4m-2 0V481m-2 0h4M159 442h4m-2 0V479m-2 0h4M80.3 425h4m-2 0V482m-2 0h4M139 481V539m-2 0h4M110.3 424h4m-2 0V491m-2 0h4M106.3 447h4m-2 0V523m-2 0h4M125.3 433h4m-2 0V487m-2 0h4M127 456V512m-2 0h4M136 378h4m-2 0V414m-2 0h4M108.9 441h4m-2 0V499m-2 0h4M148 478h4m-2 0V549m-2 0h4M73.4 430h4m-2 0V487M155 419h4m-2 0V480m-2 0h4M107.4 466h4m-2 0V498m-2 0h4M155.5 443V496m-2 0h4M102.8 482V541m-2 0h4M159 468h4m-2 0V563M93.5 435h4m-2 0V492m-2 0h4M74.8 436h4m-2 0V501m-2 0h4M157.2 487h4m-2 0V542m-2 0h4M148.4 465h4m-2 0V527m-2 0h4M107.4 435h4m-2 0V486m-2 0h4M158.3 444h4m-2 0V519m-2 0h4M111 422h4m-2 0V502m-2 0h4M86.9 506h4m-2 0V563M103 441h4m-2 0V478m-2 0h4M84.3 431h4m-2 0V483m-2 0h4M156.5 434h4m-2 0V513m-2 0h4M122 432h4m-2 0V494m-2 0h4M79.2 491h4m-2 0V530m-2 0h4M104.1 436h4m-2 0V491m-2 0h4M112.5 476h4m-2 0V516m-2 0h4M121.7 452h4m-2 0V507m-2 0h4M75.5 527h4m-2 0V563M112.9 447h4m-2 0V491m-2 0h4M133.7 495h4m-2 0V560m-2 0h4M87.3 436h4m-2 0V485m-2 0h4M88.7 445h4m-2 0V487m-2 0h4M84.3 416h4m-2 0V489m-2 0h4M142.9 445h4m-2 0V497m-2 0h4M75.9 432h4m-2 0V503m-2 0h4M130.3 307V389m-2 0h4M79.2 476h4m-2 0V527m-2 0h4M119.1 453h4m-2 0V513m-2 0h4M107 431h4m-2 0V484m-2 0h4M131.2 482h4m-2 0V512m-2 0h4M155.1 468V524m-2 0h4M122.8 430h4m-2 0V492m-2 0h4M93.5 423h4m-2 0V488m-2 0h4M126.6 452V489m-2 0h4M150.5 483h4m-2 0V560m-2 0h4M117.3 484h4m-2 0V530m-2 0h4M110.7 431h4m-2 0V477m-2 0h4M106.6 492h4m-2 0V563M145.5 471h4m-2 0V516m-2 0h4M132.3 476h4m-2 0V516m-2 0h4M84 421h4m-2 0V478m-2 0h4M123.4 493h4m-2 0V561m-2 0h4M121.3 435h4m-2 0V479m-2 0h4M71.5 465h4m-2 0V520m-2 0h4M138.8 478h4m-2 0V515m-2 0h4M78.1 430h4m-2 0V476m-2 0h4M154.6 418h4m-2 0V468m-2 0h4M73.4 423h4m-2 0V494m-2 0h4M126.6 463V517m-2 0h4M141.8 492h4m-2 0V536m-2 0h4M140.3 431h4m-2 0V483m-2 0h4M74.4 385h4m-2 0V522m-2 0h4M93.9 397h4m-2 0V543m-2 0h4M96.1 461h4m-2 0V515m-2 0h4M85.8 470h4m-2 0V539m-2 0h4M125.3 399h4m-2 0V496m-2 0h4M97.7 437V496m-2 0h4M104.1 429h4m-2 0V490m-2 0h4M159.3 450h4m-2 0V490M138.1 445h4m-2 0V489m-2 0h4M79.2 464h4m-2 0V512m-2 0h4M121 307V391m-2 0h4M78.1 426h4m-2 0V503m-2 0h4M142.9 334h4m-2 0V563M162.2 443h4m-2 0V480m-2 0h4M86.9 437h4m-2 0V495m-2 0h4M100.6 485V535m-2 0h4M116.9 512h4m-2 0V552m-2 0h4M147.3 422h4m-2 0V502m-2 0h4M107.1 499h4m-2 0V542m-2 0h4M130 307V375m-2 0h4M126.4 431h4m-2 0V500m-2 0h4M121.3 484h4m-2 0V531m-2 0h4M117.6 442h4m-2 0V503m-2 0h4M112.5 482h4m-2 0V549m-2 0h4M122.4 482h4m-2 0V527m-2 0h4M108.4 333h4m-2 0V367m-2 0h4M111.4 452h4m-2 0V520m-2 0h4M89.8 422h4m-2 0V494m-2 0h4M101.1 469h4m-2 0V553m-2 0h4M131.9 419h4m-2 0V496m-2 0h4M78.1 415h4m-2 0V502m-2 0h4M88 513h4m-2 0V563M122 471h4m-2 0V527m-2 0h4M101.5 421h4m-2 0V481M114 435h4m-2 0V482m-2 0h4M86.6 475h4m-2 0V528m-2 0h4M110.7 473h4m-2 0V531m-2 0h4M127.2 483h4m-2 0V549m-2 0h4M113.6 443h4m-2 0V489m-2 0h4M124.6 433h4m-2 0V483M133.7 437h4m-2 0V495m-2 0h4M86.5 431h4m-2 0V498m-2 0h4M156.5 424h4m-2 0V476m-2 0h4M75.5 428h4m-2 0V494m-2 0h4M154.3 483h4m-2 0V527m-2 0h4M74.8 454h4m-2 0V514m-2 0h4M144.7 449h4m-2 0V502m-2 0h4M122 427h4m-2 0V474m-2 0h4M100.1 466h4m-2 0V512m-2 0h4M73 501h4m-2 0V561m-2 0h4M123.4 440h4m-2 0V494m-2 0h4M89.4 449h4m-2 0V499m-2 0h4M110 439h4m-2 0V479m-2 0h4M156.5 440h4m-2 0V474m-2 0h4M156.1 484h4m-2 0V523m-2 0h4M148.7 438h4m-2 0V486m-2 0h4M70.8 463h4m-2 0V502m-2 0h4M134.8 456h4m-2 0V513m-2 0h4M93.1 467h4m-2 0V532m-2 0h4M124.6 439h4m-2 0V505m-2 0h4M111 443h4m-2 0V479m-2 0h4M107.4 427h4m-2 0V497m-2 0h4M161.2 414h4m-2 0V479m-2 0h4M159.7 444h4m-2 0V493m-2 0h4M122.4 426h4m-2 0V500m-2 0h4M84 497h4m-2 0V563M111.1 426h4m-2 0V500m-2 0h4M139.9 409h4m-2 0V478m-2 0h4M89.3 327h4m-2 0V412m-2 0h4M153.1 500h4m-2 0V556m-2 0h4M152.4 436h4m-2 0V493m-2 0h4M127.5 437h4m-2 0V504m-2 0h4M137.8 438h4m-2 0V491m-2 0h4M73 509h4m-2 0V563M90.6 437h4m-2 0V484m-2 0h4M110 440h4m-2 0V493m-2 0h4M114 443h4m-2 0V501m-2 0h4M161.2 460h4m-2 0V503m-2 0h4M117.3 476h4m-2 0V544m-2 0h4M88.4 443h4m-2 0V502m-2 0h4M136.1 470V550m-2 0h4M78.5 423h4m-2 0V492m-2 0h4M103.7 466h4m-2 0V529m-2 0h4M118 439h4m-2 0V478m-2 0h4M92.9 307V563M149.2 310h4m-2 0V402m-2 0h4M142.5 422h4m-2 0V496m-2 0h4M134.8 430h4m-2 0V486m-2 0h4M135.6 449h4m-2 0V487m-2 0h4M133 435h4m-2 0V483m-2 0h4M118 482h4m-2 0V535m-2 0h4M126.8 443h4m-2 0V496m-2 0h4M102.3 474h4m-2 0V545m-2 0h4M143.5 442h4m-2 0V492m-2 0h4M128.6 482h4m-2 0V543m-2 0h4M103.3 468h4m-2 0V533m-2 0h4M103.7 449h4m-2 0V507m-2 0h4M113.2 451h4m-2 0V496m-2 0h4M74.1 431h4m-2 0V495m-2 0h4M156 456h4m-2 0V508M97.5 454h4m-2 0V496M90.9 453h4m-2 0V510m-2 0h4M137.8 461h4m-2 0V505m-2 0h4M112.2 437h4m-2 0V476m-2 0h4M127.5 515h4m-2 0V558m-2 0h4M97.5 442h4m-2 0V484M130.8 474h4m-2 0V524m-2 0h4M94.2 420h4m-2 0V481m-2 0h4M144.3 420h4m-2 0V470m-2 0h4M93.1 505h4m-2 0V543m-2 0h4M112.9 491h4m-2 0V563M86.6 430h4m-2 0V473M120.8 307V455m-2 0h4M121.7 307V401m-2 0h4M118.5 483V538m-2 0h4M155.3 453h4m-2 0V545m-2 0h4M144.3 481h4m-2 0V519m-2 0h4M141.4 429h4m-2 0V489m-2 0h4M86.2 456h4m-2 0V525m-2 0h4M154.3 442h4m-2 0V480m-2 0h4M122 423h4m-2 0V483m-2 0h4M86.9 426h4m-2 0V476m-2 0h4M106.3 438h4m-2 0V483m-2 0h4M78.5 478h4m-2 0V539m-2 0h4M73 421h4m-2 0V471M89.1 433h4m-2 0V489m-2 0h4M85.4 448h4m-2 0V514m-2 0h4M84.7 435h4m-2 0V485m-2 0h4M113.6 455h4m-2 0V508m-2 0h4M131.9 440h4m-2 0V481m-2 0h4M124.6 443h4m-2 0V506m-2 0h4M135.2 427h4m-2 0V481M161.2 444h4m-2 0V520m-2 0h4M159.3 539h4m-2 0V563M104.8 436h4m-2 0V479m-2 0h4M106.7 460h4m-2 0V499m-2 0h4M138.5 455h4m-2 0V511m-2 0h4M136.9 338h4m-2 0V406m-2 0h4M133.3 443h4m-2 0V482M100.8 433h4m-2 0V500M102.3 435h4m-2 0V482m-2 0h4M148 491h4m-2 0V563M107.4 424h4m-2 0V481m-2 0h4M147.7 475h4m-2 0V535m-2 0h4M109.6 407h4m-2 0V460m-2 0h4M134.8 431h4m-2 0V478M160.5 444h4m-2 0V481m-2 0h4M97.2 461h4m-2 0V502m-2 0h4M88.5 376h4m-2 0V471m-2 0h4M70.4 427h4m-2 0V470m-2 0h4M139.9 418h4m-2 0V493m-2 0h4M75.2 423h4m-2 0V491m-2 0h4M160.3 500V563M129 437h4m-2 0V500m-2 0h4M127.2 474h4m-2 0V547m-2 0h4M73.4 432h4m-2 0V492m-2 0h4M109.6 423h4m-2 0V481m-2 0h4M141.4 455h4m-2 0V499m-2 0h4M101.1 441h4m-2 0V502m-2 0h4M157.1 495h4m-2 0V541m-2 0h4M111.8 430h4m-2 0V495m-2 0h4M96.1 455h4m-2 0V526m-2 0h4M141.1 436h4m-2 0V492m-2 0h4M121.6 353h4m-2 0V563M141.8 468h4m-2 0V534m-2 0h4M100.8 535h4m-2 0V563M152.7 433h4m-2 0V484m-2 0h4M157.5 439h4m-2 0V487m-2 0h4M73.4 418h4m-2 0V481M122 428h4m-2 0V507m-2 0h4M94.2 434h4m-2 0V494m-2 0h4M116.9 428h4m-2 0V497m-2 0h4M90.5 420h4m-2 0V482m-2 0h4M151.4 436h4m-2 0V490m-2 0h4M102.6 412h4m-2 0V509m-2 0h4M122.4 439h4m-2 0V490m-2 0h4M126 430h4m-2 0V511m-2 0h4M146.9 456h4m-2 0V534m-2 0h4M97.9 453h4m-2 0V492M85.4 418h4m-2 0V473m-2 0h4M93.4 429h4m-2 0V515m-2 0h4M137.4 456h4m-2 0V495m-2 0h4M141.1 472h4m-2 0V526m-2 0h4M103.7 404h4m-2 0V504m-2 0h4M148.4 404h4m-2 0V506m-2 0h4M76.8 470V526m-2 0h4M103.7 469h4m-2 0V524m-2 0h4M149.6 334h4m-2 0V461m-2 0h4M74.8 437h4m-2 0V478m-2 0h4M152.1 433h4m-2 0V475m-2 0h4M102.9 439h4m-2 0V488m-2 0h4M118.7 444h4m-2 0V499m-2 0h4M160.8 439h4m-2 0V485m-2 0h4M96.4 463h4m-2 0V516m-2 0h4M112.1 519h4m-2 0V563M130.8 444h4m-2 0V494m-2 0h4M159 430h4m-2 0V495m-2 0h4M113.6 440h4m-2 0V488m-2 0h4M137 438h4m-2 0V508m-2 0h4M129.3 426h4m-2 0V483m-2 0h4M116.5 471h4m-2 0V512m-2 0h4M150.2 426h4m-2 0V482m-2 0h4M122 361h4m-2 0V553m-2 0h4M139.2 446h4m-2 0V495m-2 0h4M113.6 444h4m-2 0V492m-2 0h4M70.8 433h4m-2 0V469m-2 0h4M101.9 431h4m-2 0V488M157.1 442h4m-2 0V491m-2 0h4M149.1 435h4m-2 0V475m-2 0h4M85.4 435h4m-2 0V474m-2 0h4M154.2 498h4m-2 0V539m-2 0h4M76.3 400h4m-2 0V482m-2 0h4M102.4 496V562m-2 0h4M100.1 307V530m-2 0h4M155 426h4m-2 0V469m-2 0h4M132.7 439h4m-2 0V492m-2 0h4M86.9 444h4m-2 0V498m-2 0h4M109.6 407h4m-2 0V483m-2 0h4M153.8 532h4m-2 0V562m-2 0h4M122 439h4m-2 0V474m-2 0h4M135.7 475V529m-2 0h4M152.1 440h4m-2 0V474m-2 0h4M153.1 499h4m-2 0V552m-2 0h4M79.9 428h4m-2 0V491m-2 0h4M79.2 440h4m-2 0V488m-2 0h4M86.2 508h4m-2 0V563M80.7 442h4m-2 0V482m-2 0h4M128.6 469h4m-2 0V525m-2 0h4M96.1 428h4m-2 0V484M150.2 493h4m-2 0V537m-2 0h4M78.1 438h4m-2 0V512m-2 0h4M84 434h4m-2 0V485m-2 0h4M94.6 409h4m-2 0V497m-2 0h4M132.3 446h4m-2 0V497m-2 0h4M96.4 498h4m-2 0V546m-2 0h4M110 443h4m-2 0V506m-2 0h4M81 463h4m-2 0V516m-2 0h4M74.4 433h4m-2 0V486m-2 0h4M148 442h4m-2 0V485m-2 0h4M157.5 450h4m-2 0V514m-2 0h4M154.3 440h4m-2 0V484m-2 0h4M93.5 449h4m-2 0V512m-2 0h4M107 490h4m-2 0V544m-2 0h4M126 424h4m-2 0V489m-2 0h4M139.6 429h4m-2 0V563M140.3 489h4m-2 0V529m-2 0h4M121.3 439h4m-2 0V496m-2 0h4M161.9 428h4m-2 0V481m-2 0h4M110 476h4m-2 0V516m-2 0h4M102.4 494V554m-2 0h4M100.4 424h4m-2 0V489M127.9 494h4m-2 0V550m-2 0h4M98.2 308h4m-2 0V481M155.8 476V546m-2 0h4M128.1 318h4m-2 0V375m-2 0h4M119.2 457h4m-2 0V508m-2 0h4M110.3 437h4m-2 0V510m-2 0h4M96.1 474h4m-2 0V550m-2 0h4M125.3 430h4m-2 0V495m-2 0h4M146.5 414h4m-2 0V479m-2 0h4M117.7 436h4m-2 0V468m-2 0h4M70.4 447h4m-2 0V483m-2 0h4M137.5 462V505m-2 0h4M141.8 431h4m-2 0V475m-2 0h4M77.4 488h4m-2 0V541m-2 0h4M153.4 456V521m-2 0h4M142.2 446h4m-2 0V491m-2 0h4M152.4 501h4m-2 0V545m-2 0h4M156.1 482h4m-2 0V543m-2 0h4M123.2 493h4m-2 0V535m-2 0h4M103.7 484h4m-2 0V529m-2 0h4M70.8 451h4m-2 0V544m-2 0h4M133.7 436h4m-2 0V517m-2 0h4M161.2 440h4m-2 0V479m-2 0h4M154.6 500h4m-2 0V557m-2 0h4M109.6 406h4m-2 0V484m-2 0h4M100.4 456h4m-2 0V511m-2 0h4M94.6 504h4m-2 0V554m-2 0h4M77 458h4m-2 0V483m-2 0h4M157.5 375h4m-2 0V554m-2 0h4M101.5 413h4m-2 0V483M71.1 419h4m-2 0V488m-2 0h4M124.2 438h4m-2 0V488m-2 0h4M159.3 473h4m-2 0V563M133 419h4m-2 0V498m-2 0h4M102.6 438h4m-2 0V479m-2 0h4M102.3 430h4m-2 0V509m-2 0h4M96.8 424h4m-2 0V490M148.7 444h4m-2 0V489m-2 0h4M93.9 434h4m-2 0V490m-2 0h4M74.1 502h4m-2 0V543m-2 0h4M146.5 525h4m-2 0V563M114.7 473h4m-2 0V514m-2 0h4M82.5 437h4m-2 0V494m-2 0h4M122.4 467h4m-2 0V519m-2 0h4M117.6 443h4m-2 0V493m-2 0h4M99.9 484V524m-2 0h4M81 445h4m-2 0V503m-2 0h4M152.4 431h4m-2 0V478m-2 0h4M127.9 440h4m-2 0V479m-2 0h4M90.9 418h4m-2 0V484m-2 0h4M141.4 432h4m-2 0V499m-2 0h4M97.1 433h4m-2 0V489M122 449h4m-2 0V501m-2 0h4M131.2 439h4m-2 0V514m-2 0h4M142.9 430h4m-2 0V483m-2 0h4M71.5 430h4m-2 0V479m-2 0h4M141.1 420h4m-2 0V510m-2 0h4M161.5 411h4m-2 0V483m-2 0h4M108.5 467h4m-2 0V520m-2 0h4M153.5 416h4m-2 0V486m-2 0h4M156.1 428h4m-2 0V497M162.2 419h4m-2 0V487m-2 0h4M98.6 477h4m-2 0V525m-2 0h4M88 443h4m-2 0V496m-2 0h4M94.9 438h4m-2 0V474m-2 0h4M115.8 444h4m-2 0V483M139.6 512h4m-2 0V544m-2 0h4M127.5 451h4m-2 0V486m-2 0h4M106.3 415h4m-2 0V484m-2 0h4M118.4 434h4m-2 0V483m-2 0h4M154.6 441h4m-2 0V481m-2 0h4M158.3 477h4m-2 0V547m-2 0h4M126.4 428h4m-2 0V471M123.4 433h4m-2 0V491m-2 0h4M129 445h4m-2 0V512m-2 0h4M124.2 424h4m-2 0V489m-2 0h4M104.8 484h4m-2 0V528m-2 0h4M82.9 434h4m-2 0V499m-2 0h4M100.8 454h4m-2 0V500M104.1 445h4m-2 0V485m-2 0h4M103.7 452h4m-2 0V518m-2 0h4M97.9 440h4m-2 0V503m-2 0h4M148.7 423h4m-2 0V489m-2 0h4M126.4 423h4m-2 0V469M146.9 470h4m-2 0V528m-2 0h4M101 487V541m-2 0h4M149.1 486h4m-2 0V557m-2 0h4M94.6 451h4m-2 0V521m-2 0h4M135.2 415h4m-2 0V488m-2 0h4M102.9 483h4m-2 0V555m-2 0h4M98.6 435h4m-2 0V498M157.5 404h4m-2 0V486m-2 0h4M112.1 518h4m-2 0V563M129 462h4m-2 0V517m-2 0h4M117.7 428h4m-2 0V470m-2 0h4M96.4 456h4m-2 0V512m-2 0h4M75.2 435h4m-2 0V490m-2 0h4M89.3 324h4m-2 0V386m-2 0h4M148.7 489h4m-2 0V545m-2 0h4M128.6 439h4m-2 0V497m-2 0h4M97.5 430h4m-2 0V486M150.2 536h4m-2 0V563M131.2 447h4m-2 0V495m-2 0h4M135.4 464V502m-2 0h4M97.5 426h4m-2 0V472m-2 0h4M82.1 445h4m-2 0V516m-2 0h4M139.9 437h4m-2 0V483m-2 0h4M126.6 446V482M138.1 436h4m-2 0V503m-2 0h4M96.1 438h4m-2 0V482M139 484V528m-2 0h4M148.7 443h4m-2 0V480m-2 0h4M154.6 431h4m-2 0V499m-2 0h4M107 424h4m-2 0V494m-2 0h4M142.2 424h4m-2 0V481m-2 0h4M83.6 432h4m-2 0V563M145.4 475h4m-2 0V507m-2 0h4M111.1 406h4m-2 0V511m-2 0h4M96.1 424h4m-2 0V486M74.1 437h4m-2 0V492m-2 0h4M77.2 462V504m-2 0h4M150.5 440h4m-2 0V481m-2 0h4M99 435h4m-2 0V506m-2 0h4M74.8 429h4m-2 0V483m-2 0h4M135.6 459h4m-2 0V510m-2 0h4M125 438h4m-2 0V489m-2 0h4M155.3 434h4m-2 0V483m-2 0h4M155.3 496h4m-2 0V563M160.5 307V371m-2 0h4M71.5 483h4m-2 0V551m-2 0h4M120.6 307V388m-2 0h4M132.3 434h4m-2 0V477m-2 0h4M157.9 459h4m-2 0V507M116.9 423h4m-2 0V474M151.4 433h4m-2 0V486m-2 0h4M94.2 444h4m-2 0V488m-2 0h4M160.5 450h4m-2 0V501m-2 0h4M90.5 422h4m-2 0V476m-2 0h4M145.1 451h4m-2 0V494m-2 0h4M142.5 500h4m-2 0V548m-2 0h4M127 471V535m-2 0h4M145.5 439h4m-2 0V489m-2 0h4M90.9 412h4m-2 0V481m-2 0h4M137.8 450h4m-2 0V492m-2 0h4M126.8 418h4m-2 0V482M116.1 430h4m-2 0V501m-2 0h4M116.9 418h4m-2 0V491m-2 0h4M95.4 348h4m-2 0V443M129.3 441h4m-2 0V530m-2 0h4M115.8 454h4m-2 0V500m-2 0h4M93.1 476h4m-2 0V563M116.9 433h4m-2 0V470m-2 0h4M110.7 466h4m-2 0V518m-2 0h4M124.2 402h4m-2 0V521m-2 0h4M72.6 391h4m-2 0V551m-2 0h4M102.6 439h4m-2 0V480m-2 0h4M139.2 424h4m-2 0V494m-2 0h4M145.5 307V563M134.8 439h4m-2 0V480M100.4 476h4m-2 0V514m-2 0h4M103.3 516h4m-2 0V563M162.2 462h4m-2 0V508m-2 0h4M86.9 435h4m-2 0V480m-2 0h4M76.3 418h4m-2 0V482m-2 0h4M100.4 449h4m-2 0V495M159.3 445h4m-2 0V504m-2 0h4M152.8 432h4m-2 0V520m-2 0h4M74.8 422h4m-2 0V465M158.3 443h4m-2 0V532m-2 0h4M159.3 461h4m-2 0V514m-2 0h4M147.3 434h4m-2 0V488m-2 0h4M96.1 464h4m-2 0V514m-2 0h4M104.8 444h4m-2 0V537m-2 0h4M158.6 458h4m-2 0V493m-2 0h4M122 443h4m-2 0V487m-2 0h4M104.1 434h4m-2 0V482m-2 0h4M100.4 457h4m-2 0V520m-2 0h4M110.3 461h4m-2 0V495m-2 0h4M88.7 520h4m-2 0V560m-2 0h4M80.6 508h4m-2 0V562m-2 0h4M160.8 411h4m-2 0V505m-2 0h4M160.4 481h4m-2 0V549m-2 0h4M108 363h4m-2 0V437m-2 0h4M79.6 410h4m-2 0V462m-2 0h4M151.4 441h4m-2 0V477m-2 0h4M74.8 436h4m-2 0V482m-2 0h4M103.7 469h4m-2 0V510m-2 0h4M106.3 431h4m-2 0V488m-2 0h4M144.3 427h4m-2 0V491m-2 0h4M119.2 521h4m-2 0V553m-2 0h4M152 440h4m-2 0V491m-2 0h4M144.3 438h4m-2 0V497m-2 0h4M159.7 481h4m-2 0V546m-2 0h4M162.2 466h4m-2 0V527m-2 0h4M119.2 436h4m-2 0V503m-2 0h4M103.3 478h4m-2 0V541m-2 0h4M109.6 431h4m-2 0V483m-2 0h4M129.3 470h4m-2 0V563M156.5 438h4m-2 0V486m-2 0h4M84.3 430h4m-2 0V497m-2 0h4M117.3 444h4m-2 0V481m-2 0h4M129 407h4m-2 0V443m-2 0h4M86.6 474h4m-2 0V517m-2 0h4M105.9 439h4m-2 0V493m-2 0h4M95.7 423h4m-2 0V462M126 433h4m-2 0V503m-2 0h4M71.9 461h4m-2 0V514m-2 0h4M150.9 411h4m-2 0V492m-2 0h4M88.4 454h4m-2 0V508m-2 0h4M98.2 413h4m-2 0V484M73.7 443h4m-2 0V485M140.3 451h4m-2 0V519m-2 0h4M73.4 519h4m-2 0V563M116.9 435h4m-2 0V476M137.4 446h4m-2 0V502m-2 0h4M71.9 397h4m-2 0V490m-2 0h4M110.3 469h4m-2 0V520m-2 0h4M105.9 441h4m-2 0V496m-2 0h4M138.1 446h4m-2 0V535m-2 0h4M120.5 307V391m-2 0h4M123.4 441h4m-2 0V479m-2 0h4M76.7 414h4m-2 0V476m-2 0h4M134.1 419h4m-2 0V469M97.5 425h4m-2 0V492M146.2 475h4m-2 0V537m-2 0h4M153.8 442h4m-2 0V482M88.7 419h4m-2 0V488m-2 0h4M86.9 437h4m-2 0V488m-2 0h4M141.4 429h4m-2 0V479M148.7 443h4m-2 0V488m-2 0h4M88 481h4m-2 0V523m-2 0h4M102.6 431h4m-2 0V489m-2 0h4M99.9 481V528m-2 0h4M130.4 445h4m-2 0V497m-2 0h4M121.2 307V447m-2 0h4M97.5 470h4m-2 0V517m-2 0h4M110 462h4m-2 0V520m-2 0h4M70.4 477h4m-2 0V518m-2 0h4M107.7 432h4m-2 0V504m-2 0h4M109.6 431h4m-2 0V479m-2 0h4M83.2 432h4m-2 0V493m-2 0h4M159.1 497V563M100.4 444h4m-2 0V481M150.9 435h4m-2 0V459M87.6 455h4m-2 0V483m-2 0h4M101.9 429h4m-2 0V488M123.2 432h4m-2 0V502m-2 0h4M75.2 484h4m-2 0V563M116.9 401h4m-2 0V502m-2 0h4M160.5 475h4m-2 0V563M81 425h4m-2 0V492m-2 0h4M97.9 447h4m-2 0V510m-2 0h4M115.1 442h4m-2 0V495m-2 0h4M96.1 458h4m-2 0V498m-2 0h4M110.3 435h4m-2 0V476m-2 0h4M107.3 322h4m-2 0V464m-2 0h4M126.8 431h4m-2 0V475M161.5 436h4m-2 0V505m-2 0h4M93.1 439h4m-2 0V492m-2 0h4M80.6 424h4m-2 0V477m-2 0h4M161.5 417h4m-2 0V498m-2 0h4M161.2 521h4m-2 0V560m-2 0h4M152.8 433h4m-2 0V484m-2 0h4M146.2 440h4m-2 0V480m-2 0h4M107 430h4m-2 0V497m-2 0h4M94.2 363h4m-2 0V423m-2 0h4M84 434h4m-2 0V490m-2 0h4M113.2 434h4m-2 0V485m-2 0h4M110.7 423h4m-2 0V464m-2 0h4M144.7 428h4m-2 0V480m-2 0h4M157.9 430h4m-2 0V508M128.2 418h4m-2 0V514m-2 0h4M72.2 463h4m-2 0V528m-2 0h4M97.2 435h4m-2 0V499m-2 0h4M146.9 514h4m-2 0V556m-2 0h4M86.2 428h4m-2 0V488m-2 0h4M109.6 456h4m-2 0V516m-2 0h4M141.1 435h4m-2 0V493m-2 0h4M161.2 435h4m-2 0V502m-2 0h4M88.4 466h4m-2 0V518m-2 0h4M129 411h4m-2 0V469m-2 0h4M111.1 438h4m-2 0V491m-2 0h4M96.8 425h4m-2 0V458m-2 0h4M157.2 447h4m-2 0V493m-2 0h4M78.4 441h4m-2 0V534m-2 0h4M103.7 442h4m-2 0V495m-2 0h4M135.6 428h4m-2 0V480M128.4 461V530m-2 0h4M90.9 402h4m-2 0V529m-2 0h4M90.5 433h4m-2 0V488m-2 0h4M141.1 458h4m-2 0V504m-2 0h4M88.7 437h4m-2 0V492m-2 0h4M118 435h4m-2 0V500m-2 0h4M78.1 468h4m-2 0V536m-2 0h4M108.1 419h4m-2 0V486m-2 0h4M529.7 389h4m-2 0V435M336.4 458h4m-2 0V497m-2 0h4M545 428h4m-2 0V485M253.8 442h4m-2 0V525m-2 0h4M504.2 387h4m-2 0V515m-2 0h4M355.1 448h4m-2 0V497m-2 0h4M490 431h4m-2 0V490M558.2 457V502m-2 0h4M521.9 457V503m-2 0h4M260.2 434h4m-2 0V485m-2 0h4M535.4 387V452M491.3 473V512m-2 0h4M410 434h4m-2 0V474m-2 0h4M562.1 435h4m-2 0V493m-2 0h4M467.5 407h4m-2 0V527m-2 0h4M213.5 477h4m-2 0V525m-2 0h4M336.8 398h4m-2 0V488m-2 0h4M247.6 484V526m-2 0h4M483.8 449V510m-2 0h4M427.2 428h4m-2 0V483m-2 0h4M528.5 401h4m-2 0V463m-2 0h4M421.6 428h4m-2 0V472m-2 0h4M235.9 378h4m-2 0V550m-2 0h4M271.4 471h4m-2 0V513m-2 0h4M291.6 444h4m-2 0V486m-2 0h4M256.8 446h4m-2 0V501m-2 0h4M394.3 509h4m-2 0V563M352.9 424h4m-2 0V471M502.3 425h4m-2 0V484M343.5 504h4m-2 0V561m-2 0h4M537.6 410V446m-2 0h4M230.7 477h4m-2 0V563M408.2 446h4m-2 0V513m-2 0h4M491.7 467V509m-2 0h4M222.8 455h4m-2 0V535m-2 0h4M560 440V484M500.1 421h4m-2 0V497M529.7 407h4m-2 0V451M386.3 462V514m-2 0h4M230.3 458h4m-2 0V508m-2 0h4M236.3 468h4m-2 0V514m-2 0h4M507.2 430h4m-2 0V511m-2 0h4M400.3 515h4m-2 0V562m-2 0h4M241 307V375m-2 0h4M245.6 422h4m-2 0V464m-2 0h4M229.4 349h4m-2 0V445m-2 0h4M493.1 456V510m-2 0h4M285.6 425h4m-2 0V483m-2 0h4M373.8 417h4m-2 0V481m-2 0h4M343.2 424h4m-2 0V484m-2 0h4M509.6 443V488M504.7 464V508m-2 0h4M498.3 432h4m-2 0V483M283.4 418h4m-2 0V485M515.5 438h4m-2 0V474M557 447V506m-2 0h4M534.3 417V463M403 437h4m-2 0V480m-2 0h4M494.2 443V492M204.9 475h4m-2 0V545m-2 0h4M221.1 307V383m-2 0h4M490.4 427h4m-2 0V491M512.4 414h4m-2 0V503m-2 0h4M550.2 478h4m-2 0V529m-2 0h4M536.3 374h4m-2 0V483m-2 0h4M488.3 469V521m-2 0h4M496.3 436h4m-2 0V489M390.6 469h4m-2 0V498m-2 0h4M492.4 476V521m-2 0h4M509.6 401h4m-2 0V486M369.3 435h4m-2 0V493m-2 0h4M511.1 439V494M532.6 375h4m-2 0V410M503.9 444V510m-2 0h4M244.1 429h4m-2 0V490m-2 0h4M560.6 373h4m-2 0V427m-2 0h4M560 405h4m-2 0V451M539.8 414h4m-2 0V462m-2 0h4M546.8 437h4m-2 0V491m-2 0h4M370.5 458h4m-2 0V505m-2 0h4M481.4 485h4m-2 0V527m-2 0h4M493.9 449V493M550 414h4m-2 0V466M546.1 406h4m-2 0V526m-2 0h4M523.3 432h4m-2 0V477M270.3 448h4m-2 0V512m-2 0h4M376 425h4m-2 0V480m-2 0h4M203.5 465V512m-2 0h4M351.7 486h4m-2 0V529m-2 0h4M511.5 448V505m-2 0h4M561.2 465V521m-2 0h4M377.7 468V513m-2 0h4M386.5 468h4m-2 0V510m-2 0h4M560.4 450V507m-2 0h4M378.2 423h4m-2 0V481m-2 0h4M536.2 356h4m-2 0V426M532.9 415V501m-2 0h4M483.6 331h4m-2 0V563M287.1 425h4m-2 0V480m-2 0h4M482.9 435h4m-2 0V478M513.6 439h4m-2 0V483M420.1 435h4m-2 0V497m-2 0h4M215 448h4m-2 0V503m-2 0h4M481.4 405h4m-2 0V556m-2 0h4M522.7 448V505m-2 0h4M489.7 424h4m-2 0V476M291.9 434h4m-2 0V499m-2 0h4M371.9 446h4m-2 0V502m-2 0h4M508.8 468V518m-2 0h4M286.7 442h4m-2 0V492m-2 0h4M541.6 424h4m-2 0V470m-2 0h4M246.1 480V517m-2 0h4M494.1 434h4m-2 0V511m-2 0h4M232.9 432h4m-2 0V496m-2 0h4M564 435h4m-2 0V487m-2 0h4M414.9 454h4m-2 0V507m-2 0h4M264.7 491h4m-2 0V537m-2 0h4M524.9 442V488M563.3 436h4m-2 0V481m-2 0h4M475.8 436h4m-2 0V486m-2 0h4M479.1 448h4m-2 0V479m-2 0h4M474.7 437h4m-2 0V511m-2 0h4M482.6 447V493m-2 0h4M515.5 425h4m-2 0V511m-2 0h4M529 421V476m-2 0h4M484 431h4m-2 0V478M501.4 451V507m-2 0h4M482.3 474V532m-2 0h4M536.7 376h4m-2 0V486m-2 0h4M262.1 415h4m-2 0V463m-2 0h4M526.2 390h4m-2 0V514m-2 0h4M530.6 449V529m-2 0h4M529.8 419V465m-2 0h4M353.4 307V363m-2 0h4M542.1 457V533m-2 0h4M493.5 469V523m-2 0h4M234 431h4m-2 0V480m-2 0h4M525.3 470V528m-2 0h4M257.2 433h4m-2 0V477m-2 0h4M210.5 476h4m-2 0V520m-2 0h4M563.8 456V510m-2 0h4M480.6 430h4m-2 0V489m-2 0h4M483.7 429h4m-2 0V489m-2 0h4M563.7 468h4m-2 0V538m-2 0h4M266.9 445h4m-2 0V506m-2 0h4M268.4 462h4m-2 0V507m-2 0h4M384.5 356h4m-2 0V408m-2 0h4M236.3 433h4m-2 0V511m-2 0h4M490.9 448V490m-2 0h4M362.6 417h4m-2 0V462m-2 0h4M267.6 475h4m-2 0V512m-2 0h4M561.9 453V506M559.7 442V490M363.3 425h4m-2 0V468m-2 0h4M282 465V518m-2 0h4M507.9 491h4m-2 0V534m-2 0h4M251.2 426h4m-2 0V492m-2 0h4M397.3 419h4m-2 0V477m-2 0h4M383.5 392h4m-2 0V463M222.1 438h4m-2 0V492m-2 0h4M498.7 470V516m-2 0h4M498.3 438h4m-2 0V476M538.2 363h4m-2 0V420M220.6 413h4m-2 0V461m-2 0h4M555 433h4m-2 0V491M248.1 345h4m-2 0V423m-2 0h4M512.6 436V486M234.4 424h4m-2 0V470m-2 0h4M544 447V498m-2 0h4M551.4 450V500m-2 0h4M272.6 307V386m-2 0h4M355.5 488h4m-2 0V528m-2 0h4M560.6 433h4m-2 0V513m-2 0h4M556.3 307V492M428.7 507h4m-2 0V551m-2 0h4M473.9 437h4m-2 0V465m-2 0h4M563.3 456h4m-2 0V506m-2 0h4M250.9 321h4m-2 0V413m-2 0h4M352.5 441h4m-2 0V477M283.1 441V499m-2 0h4M558 430h4m-2 0V503m-2 0h4M517.3 434h4m-2 0V485M243 436h4m-2 0V497m-2 0h4M527.4 416h4m-2 0V469m-2 0h4M504.2 432h4m-2 0V497m-2 0h4M534.7 351h4m-2 0V387M553.2 419h4m-2 0V484M468.2 365h4m-2 0V523m-2 0h4M337.2 428h4m-2 0V493m-2 0h4M273.6 420h4m-2 0V486m-2 0h4M499.4 501h4m-2 0V540m-2 0h4M497.1 422h4m-2 0V508m-2 0h4M346.9 406h4m-2 0V508m-2 0h4M385.7 434h4m-2 0V485m-2 0h4M244.9 415h4m-2 0V479M499.5 461V505m-2 0h4M417.6 422h4m-2 0V478m-2 0h4M474.4 447h4m-2 0V491m-2 0h4M412.3 420h4m-2 0V467m-2 0h4M561.5 448V511m-2 0h4M493.9 438V481M551.7 401h4m-2 0V479M368.6 455h4m-2 0V521m-2 0h4M411.3 458V545m-2 0h4M210.5 416h4m-2 0V515m-2 0h4M277.8 416h4m-2 0V508m-2 0h4M360.7 422h4m-2 0V500m-2 0h4M511.1 463V506m-2 0h4M227.8 459V505m-2 0h4M386.1 421h4m-2 0V484m-2 0h4M336.8 456h4m-2 0V498m-2 0h4M359.2 419h4m-2 0V481m-2 0h4M483.1 444V489m-2 0h4M476 411h4m-2 0V474m-2 0h4M543.5 307V443M407.4 422h4m-2 0V494m-2 0h4M225.4 528h4m-2 0V563M533.5 307V387m-2 0h4M289.7 476h4m-2 0V534m-2 0h4M489.3 424h4m-2 0V484M410 513h4m-2 0V563M520 479V524m-2 0h4M474.7 480h4m-2 0V518m-2 0h4M514.8 438V490M390.6 439h4m-2 0V492m-2 0h4M423.9 500h4m-2 0V547m-2 0h4M198.2 418h4m-2 0V479m-2 0h4M267.3 448h4m-2 0V520m-2 0h4M378.6 442h4m-2 0V491m-2 0h4M393.6 436h4m-2 0V493m-2 0h4M279.6 426h4m-2 0V494m-2 0h4M540.2 379V442M540.1 378h4m-2 0V496m-2 0h4M378.7 423h4m-2 0V563M358.8 417h4m-2 0V471M555.1 394h4m-2 0V437M549.1 391h4m-2 0V522m-2 0h4M345.4 424h4m-2 0V485m-2 0h4M509.9 438V555m-2 0h4M227.1 444V518m-2 0h4M562.1 436h4m-2 0V494m-2 0h4M558.2 480V530m-2 0h4M537.2 362V417M385.4 476h4m-2 0V536m-2 0h4M493.9 439V497M491.5 436h4m-2 0V483M259.1 448h4m-2 0V497m-2 0h4M525.6 455V512m-2 0h4M498.3 432h4m-2 0V475M489.7 430h4m-2 0V484M492.4 474V523m-2 0h4M527.5 436V474M521.8 415h4m-2 0V476M377.5 377h4m-2 0V535m-2 0h4M389.9 443h4m-2 0V491m-2 0h4M259.1 418h4m-2 0V500m-2 0h4M242.7 413h4m-2 0V474M289 411h4m-2 0V495m-2 0h4M551.3 425h4m-2 0V479M408.6 434h4m-2 0V484M276.2 559h4m-2 0V563M291.2 438h4m-2 0V490m-2 0h4M354.3 425h4m-2 0V487m-2 0h4M417.7 337h4m-2 0V413m-2 0h4M380.7 450V494m-2 0h4M216.5 420h4m-2 0V484m-2 0h4M368.9 437h4m-2 0V540m-2 0h4M521.2 451V485M282.6 497h4m-2 0V545m-2 0h4M498.3 406h4m-2 0V498M354 418h4m-2 0V490m-2 0h4M257.2 436h4m-2 0V474m-2 0h4M420.1 430h4m-2 0V481m-2 0h4M252 429h4m-2 0V489m-2 0h4M524.6 396h4m-2 0V449M397.7 421h4m-2 0V485m-2 0h4M399.9 496h4m-2 0V556m-2 0h4M282 453V506m-2 0h4M560 438V485M349.5 468h4m-2 0V504m-2 0h4M348 443h4m-2 0V483m-2 0h4M525.2 428h4m-2 0V485M207.9 417h4m-2 0V476m-2 0h4M489.3 431h4m-2 0V491M501 442V494M534.3 332h4m-2 0V465m-2 0h4M426.5 429h4m-2 0V488m-2 0h4M214.6 453h4m-2 0V516m-2 0h4M243 434h4m-2 0V474M347.3 428h4m-2 0V474m-2 0h4M387.2 489h4m-2 0V538m-2 0h4M531.1 388h4m-2 0V452M249.7 427h4m-2 0V483M502.5 450V486M529 439V501m-2 0h4M486.6 426h4m-2 0V527m-2 0h4M343.3 307V406m-2 0h4M554.7 460V503m-2 0h4M281.1 422h4m-2 0V474M541 420V468m-2 0h4M356.2 451h4m-2 0V563M542.7 433h4m-2 0V484M347.3 436h4m-2 0V484m-2 0h4M508.8 447V489M360.7 420h4m-2 0V495m-2 0h4M410.8 419h4m-2 0V492m-2 0h4M488.2 489h4m-2 0V538m-2 0h4M381 464V514m-2 0h4M237.4 419h4m-2 0V479m-2 0h4M500.1 438h4m-2 0V488M428.7 438h4m-2 0V490m-2 0h4M495.8 477V532m-2 0h4M234.4 410h4m-2 0V464m-2 0h4M537.6 360V417M366.7 475h4m-2 0V563M222.8 455h4m-2 0V508m-2 0h4M560.4 457V509m-2 0h4M365.6 412h4m-2 0V458m-2 0h4M198.6 470h4m-2 0V529m-2 0h4M519.2 426h4m-2 0V470M550 451V504m-2 0h4M521.9 447V507m-2 0h4M264.7 427h4m-2 0V483m-2 0h4M524.9 436V503m-2 0h4M517.8 474V513m-2 0h4M220.2 463h4m-2 0V517m-2 0h4M361.8 449h4m-2 0V507m-2 0h4M549.7 353h4m-2 0V467m-2 0h4M394.5 448V502m-2 0h4M393.2 439h4m-2 0V482m-2 0h4M418.6 319h4m-2 0V393m-2 0h4M565.4 307V528m-2 0h4M260.9 452h4m-2 0V493m-2 0h4M515.6 468V515m-2 0h4M346.2 432h4m-2 0V491m-2 0h4M491.3 449V516m-2 0h4M506.6 462V495m-2 0h4M426.8 438h4m-2 0V487m-2 0h4M367.8 455h4m-2 0V496m-2 0h4M204.9 418h4m-2 0V491m-2 0h4M564 424h4m-2 0V464m-2 0h4M513.7 438V491M405.2 451h4m-2 0V493M499.5 447V500M385.3 419h4m-2 0V480m-2 0h4M486.7 435h4m-2 0V496m-2 0h4M563.8 467V521m-2 0h4M535.3 334h4m-2 0V432M334.6 468h4m-2 0V511m-2 0h4M381.6 426h4m-2 0V497m-2 0h4M494.5 420h4m-2 0V476M530.9 369h4m-2 0V425M488.6 438V504m-2 0h4M483.1 450V483M365.9 468h4m-2 0V517m-2 0h4M512.6 463V514m-2 0h4M536.7 369h4m-2 0V410M334.9 508h4m-2 0V563M470.4 362h4m-2 0V495m-2 0h4M562.1 460h4m-2 0V507m-2 0h4M537.6 371V421M510.6 430h4m-2 0V490M514.9 315h4m-2 0V359m-2 0h4M537.2 365V435M535.7 387V439M237.4 421h4m-2 0V481m-2 0h4M518.9 460V492M562.5 334h4m-2 0V406m-2 0h4M198.2 446h4m-2 0V481m-2 0h4M494.2 490V543m-2 0h4M528.2 437V504m-2 0h4M510.3 439V485M357.7 463h4m-2 0V505m-2 0h4M491.5 436h4m-2 0V491M529.7 378h4m-2 0V426M501.3 441h4m-2 0V486M497.1 436h4m-2 0V483M509.5 429h4m-2 0V489M538 396V520m-2 0h4M490.8 437V484M476.2 443h4m-2 0V489m-2 0h4M537.6 352V398M290.1 433h4m-2 0V474m-2 0h4M400.7 393h4m-2 0V476m-2 0h4M540.6 395V433M411.2 438h4m-2 0V474m-2 0h4M345.9 451V504m-2 0h4M415.7 402h4m-2 0V468m-2 0h4M335.3 441h4m-2 0V488m-2 0h4M548.4 459V512m-2 0h4M504.7 311h4m-2 0V418m-2 0h4M523.1 435V484M560.8 441V490M228.8 524h4m-2 0V563M554.3 434h4m-2 0V467M543.9 453V527m-2 0h4M215.7 511h4m-2 0V556m-2 0h4M260.6 467h4m-2 0V507m-2 0h4M375.3 431h4m-2 0V489m-2 0h4M514.4 448V493M371.2 406h4m-2 0V448m-2 0h4M518 433h4m-2 0V486M384.3 428h4m-2 0V496m-2 0h4M496 434h4m-2 0V490M357.7 448h4m-2 0V501m-2 0h4M495 461V506m-2 0h4M235.4 307V400m-2 0h4M349.5 437h4m-2 0V481m-2 0h4M249.4 425h4m-2 0V483M342.8 502h4m-2 0V548m-2 0h4M535.7 391V430M276.7 367h4m-2 0V524m-2 0h4M475.8 433h4m-2 0V484m-2 0h4M493.4 433h4m-2 0V500M283.4 436h4m-2 0V498m-2 0h4M499 441h4m-2 0V484M227.7 420h4m-2 0V513m-2 0h4M365.9 452h4m-2 0V528m-2 0h4M199.7 447h4m-2 0V511m-2 0h4M252 426h4m-2 0V479M564 451h4m-2 0V495m-2 0h4M254.9 434h4m-2 0V485m-2 0h4M494.9 323h4m-2 0V369m-2 0h4M494.2 448V505m-2 0h4M554.7 322h4m-2 0V382m-2 0h4M495.3 363h4m-2 0V465M561 432h4m-2 0V486M413.4 345h4m-2 0V434m-2 0h4M528.1 394h4m-2 0V440M551.4 307V459M373 454h4m-2 0V517m-2 0h4M497.5 428h4m-2 0V482M341.7 351h4m-2 0V563M243.4 429h4m-2 0V490m-2 0h4M535.5 457h4m-2 0V524m-2 0h4M198.5 442h4m-2 0V499m-2 0h4M247.1 440h4m-2 0V485M230.1 444V486m-2 0h4M533.7 355h4m-2 0V398M551.6 411h4m-2 0V470m-2 0h4M417.9 509h4m-2 0V534m-2 0h4M524.9 452V484M502.1 449V482M548.4 451V506m-2 0h4M551.4 433V484m-2 0h4M275.1 491h4m-2 0V545m-2 0h4M520.8 440V486M283 417h4m-2 0V481M351 438h4m-2 0V469M475.4 431h4m-2 0V488m-2 0h4M260.2 429h4m-2 0V494m-2 0h4M502.5 446V505m-2 0h4M510.6 433h4m-2 0V482M226.9 435h4m-2 0V489m-2 0h4M545 436h4m-2 0V478M538.7 307V351m-2 0h4M506.8 387h4m-2 0V501m-2 0h4M560.2 422h4m-2 0V506m-2 0h4M547.9 424h4m-2 0V491m-2 0h4M518.2 447V485M493.1 440V485M352.1 436h4m-2 0V479M222.1 446h4m-2 0V510m-2 0h4M221.8 307V384m-2 0h4M563 441V487M250.9 437h4m-2 0V494m-2 0h4M352.1 425h4m-2 0V486m-2 0h4M213.9 445h4m-2 0V483m-2 0h4M527.5 477V514m-2 0h4M211.6 433h4m-2 0V482m-2 0h4M509.5 423h4m-2 0V477M515 436h4m-2 0V485M269.5 416h4m-2 0V517m-2 0h4M403.7 449h4m-2 0V515m-2 0h4M473.6 473h4m-2 0V521m-2 0h4M495 455V509m-2 0h4M564 437h4m-2 0V474m-2 0h4M226.2 428h4m-2 0V488m-2 0h4M245.2 435h4m-2 0V482M501.8 454V500M410 420h4m-2 0V485m-2 0h4M405.2 441h4m-2 0V494M482.1 439h4m-2 0V491m-2 0h4M253.1 432h4m-2 0V475m-2 0h4M513.7 458V522m-2 0h4M391.7 446h4m-2 0V502m-2 0h4M266.6 456h4m-2 0V517m-2 0h4M339.4 482h4m-2 0V524m-2 0h4M499.5 458V509m-2 0h4M535.4 397V452M484 424h4m-2 0V469M206 428h4m-2 0V521m-2 0h4M291.2 454h4m-2 0V486m-2 0h4M512.2 453V489M370 484h4m-2 0V527m-2 0h4M515 437h4m-2 0V481M510.6 430h4m-2 0V498m-2 0h4M273.2 429h4m-2 0V473m-2 0h4M394.3 429h4m-2 0V485m-2 0h4M552 328h4m-2 0V432m-2 0h4M241.1 501h4m-2 0V554m-2 0h4M476.6 492h4m-2 0V538m-2 0h4M563.7 448h4m-2 0V489m-2 0h4M248.6 416h4m-2 0V563M531.4 386h4m-2 0V437M425.5 471V537m-2 0h4M247.9 464h4m-2 0V522m-2 0h4M559.5 430h4m-2 0V481M244.5 428h4m-2 0V486m-2 0h4M537.2 399V438M226.5 435h4m-2 0V498m-2 0h4M471.3 359h4m-2 0V520m-2 0h4M262.1 519h4m-2 0V563M395.5 433h4m-2 0V509m-2 0h4M529.2 408h4m-2 0V450M291.2 454h4m-2 0V525m-2 0h4M524.4 424h4m-2 0V473M505 422h4m-2 0V486M286 466h4m-2 0V547m-2 0h4M527.8 406h4m-2 0V500m-2 0h4M281.6 447V501m-2 0h4M559.5 435h4m-2 0V490M515.5 420h4m-2 0V472M495.3 427h4m-2 0V488M199.7 462h4m-2 0V500m-2 0h4M564 418h4m-2 0V479m-2 0h4M561.3 335h4m-2 0V426m-2 0h4M517 443V524m-2 0h4M356.6 459h4m-2 0V526m-2 0h4M363 414h4m-2 0V485m-2 0h4M550.9 423h4m-2 0V485m-2 0h4M534.3 385V433M560.4 436V503m-2 0h4M538.3 378V425M522.9 423h4m-2 0V481M384.7 477h4m-2 0V539m-2 0h4M475.8 449h4m-2 0V520m-2 0h4M545 422h4m-2 0V479M524.4 415h4m-2 0V491m-2 0h4M468.2 453h4m-2 0V561m-2 0h4M349.9 426h4m-2 0V465m-2 0h4M218.7 506h4m-2 0V542m-2 0h4M218.7 419h4m-2 0V455m-2 0h4M221.7 511h4m-2 0V563m-2 0h4M563.4 441V499M499.5 451V504m-2 0h4M238.1 446h4m-2 0V514m-2 0h4M284.1 435h4m-2 0V479M419 431h4m-2 0V486m-2 0h4M240.2 307V408m-2 0h4M501.8 475V519m-2 0h4M520.7 429h4m-2 0V479M395.5 440h4m-2 0V501m-2 0h4M554 460V519m-2 0h4M495 438V525m-2 0h4M548.8 439V490m-2 0h4M285.9 440h4m-2 0V494m-2 0h4M534.5 366h4m-2 0V414M274 431h4m-2 0V483m-2 0h4M370.4 429h4m-2 0V472m-2 0h4M359.2 442h4m-2 0V479m-2 0h4M423.2 474h4m-2 0V527m-2 0h4M468.4 374h4m-2 0V524m-2 0h4M498.4 440V486M199.3 454h4m-2 0V487m-2 0h4M498 464V541m-2 0h4M369.3 480h4m-2 0V554m-2 0h4M232.5 462h4m-2 0V503m-2 0h4M366.3 478h4m-2 0V511m-2 0h4M539.7 349h4m-2 0V502m-2 0h4M213.4 315h4m-2 0V354m-2 0h4M529 419V469m-2 0h4M355.6 463V494m-2 0h4M258.7 312h4m-2 0V563M386.1 411h4m-2 0V494m-2 0h4M553.3 442V487m-2 0h4M557.7 429h4m-2 0V472M512.4 428h4m-2 0V479M544.2 429h4m-2 0V484M563.7 325h4m-2 0V492m-2 0h4M476.2 434h4m-2 0V482m-2 0h4M385.5 435V481m-2 0h4M258.7 431h4m-2 0V498m-2 0h4M539.8 460h4m-2 0V509m-2 0h4M494.6 469V515m-2 0h4M475.8 419h4m-2 0V456m-2 0h4M237.8 406h4m-2 0V468m-2 0h4M560.4 456V503m-2 0h4M280.5 444V495m-2 0h4M279.2 426h4m-2 0V487m-2 0h4M268.4 411h4m-2 0V450m-2 0h4M360.3 464h4m-2 0V496m-2 0h4M214.3 462h4m-2 0V517m-2 0h4M558 425h4m-2 0V487M250.6 307V500m-2 0h4M513.9 427h4m-2 0V481M513.7 439V499m-2 0h4M229.6 474h4m-2 0V534m-2 0h4M405 307V563M497.6 466V501M409 462h4m-2 0V518m-2 0h4M489.3 423h4m-2 0V483M256.1 446h4m-2 0V502m-2 0h4M367.4 431h4m-2 0V471m-2 0h4M246.4 435h4m-2 0V494m-2 0h4M497.3 454V504m-2 0h4M345.4 458h4m-2 0V539m-2 0h4M537.7 307V456m-2 0h4M550.2 427h4m-2 0V481m-2 0h4M542 427h4m-2 0V487m-2 0h4M547 438V478M359.2 430h4m-2 0V508m-2 0h4M241.2 524h4m-2 0V563M556.3 443V478M216.5 426h4m-2 0V476m-2 0h4M337.2 428h4m-2 0V478m-2 0h4M273.6 433h4m-2 0V488m-2 0h4M398.8 460h4m-2 0V508m-2 0h4M389.5 433h4m-2 0V493m-2 0h4M202.7 347h4m-2 0V439m-2 0h4M492.4 468V526m-2 0h4M423.5 448h4m-2 0V527m-2 0h4M547.9 472h4m-2 0V523m-2 0h4M509.9 458V500m-2 0h4M281.9 413h4m-2 0V486m-2 0h4M283.7 533h4m-2 0V563M204.9 497h4m-2 0V557m-2 0h4M416.8 470h4m-2 0V503m-2 0h4M527.2 463V529m-2 0h4M291.2 449h4m-2 0V528m-2 0h4M394.8 467V546m-2 0h4M368.9 435h4m-2 0V493m-2 0h4M539.4 389h4m-2 0V450m-2 0h4M209.4 428h4m-2 0V476m-2 0h4M336.1 412h4m-2 0V488m-2 0h4M562.1 438h4m-2 0V495m-2 0h4M361.1 422h4m-2 0V471m-2 0h4M477.6 440h4m-2 0V506m-2 0h4M499.1 443V498M250.5 428h4m-2 0V488M335.7 433h4m-2 0V467m-2 0h4M243.4 456h4m-2 0V531m-2 0h4M386.7 447V500m-2 0h4M247.4 431h4m-2 0V493m-2 0h4M523.8 454V504m-2 0h4M253.8 419h4m-2 0V482m-2 0h4M524.9 444V491M400.3 413h4m-2 0V516m-2 0h4M493.1 439V503m-2 0h4M248 466V563M547 447V491m-2 0h4M232.9 374h4m-2 0V529m-2 0h4M509.6 451V506m-2 0h4M407.8 445h4m-2 0V496m-2 0h4M224.3 421h4m-2 0V481M269.9 433h4m-2 0V482m-2 0h4M235.2 443h4m-2 0V486m-2 0h4M259.5 415h4m-2 0V483m-2 0h4M493.9 451V491M480.6 428h4m-2 0V486m-2 0h4M484.9 449V510m-2 0h4M371.5 323h4m-2 0V469m-2 0h4M339.4 442h4m-2 0V492m-2 0h4M489 440V495m-2 0h4M382.8 434h4m-2 0V469M526.4 454V497m-2 0h4M518.2 452V499m-2 0h4M533.4 368h4m-2 0V405M276.3 424h4m-2 0V497m-2 0h4M516.3 488V534m-2 0h4M245 483V520m-2 0h4M544.9 425h4m-2 0V487m-2 0h4M232.5 457h4m-2 0V512m-2 0h4M414.6 408h4m-2 0V502m-2 0h4M363.3 422h4m-2 0V488m-2 0h4M390.6 418h4m-2 0V477m-2 0h4M371.5 484h4m-2 0V537m-2 0h4M541.5 424h4m-2 0V472m-2 0h4M369.7 429h4m-2 0V485m-2 0h4M252.5 307V453m-2 0h4M563.3 456h4m-2 0V496m-2 0h4M500.8 441h4m-2 0V501m-2 0h4M200.4 420h4m-2 0V488m-2 0h4M204.2 490h4m-2 0V537m-2 0h4M224.3 420h4m-2 0V563M386.1 487h4m-2 0V563M272.2 469h4m-2 0V519m-2 0h4M221.7 433h4m-2 0V467m-2 0h4M524.4 429h4m-2 0V488M540.1 413h4m-2 0V485m-2 0h4M484 432h4m-2 0V482M426.8 439h4m-2 0V485m-2 0h4M547.5 307V412m-2 0h4M502.1 444V484M509.6 457V506m-2 0h4M487.1 443V490m-2 0h4M552.6 447V495m-2 0h4M526 436V486M548.7 476h4m-2 0V549m-2 0h4M554 447V498m-2 0h4M349.5 441h4m-2 0V563M367.8 457h4m-2 0V516m-2 0h4M221.1 307V390m-2 0h4M480.3 362h4m-2 0V563M509.1 432h4m-2 0V486M495.4 443V488M371.5 476h4m-2 0V516m-2 0h4M354.7 411h4m-2 0V462M523.4 438V489M197.1 351h4m-2 0V563M543.9 416h4m-2 0V486m-2 0h4M488.2 435h4m-2 0V492m-2 0h4M554.9 433V473m-2 0h4M489 452V488m-2 0h4M538.3 380V451m-2 0h4M540.5 412h4m-2 0V456M534.5 429V523m-2 0h4M352.5 434h4m-2 0V496m-2 0h4M267.3 434h4m-2 0V498m-2 0h4M417.5 428h4m-2 0V462m-2 0h4M480 442h4m-2 0V481m-2 0h4M272.2 433h4m-2 0V479m-2 0h4M343.9 410h4m-2 0V494m-2 0h4M563.9 390h4m-2 0V438m-2 0h4M496.9 465V504M479.5 471h4m-2 0V529m-2 0h4M491.7 448V516m-2 0h4M508.8 439V497m-2 0h4M371.4 310h4m-2 0V446m-2 0h4M531.1 388h4m-2 0V434M519.5 433h4m-2 0V486M409 512h4m-2 0V560m-2 0h4M411.2 419h4m-2 0V508m-2 0h4M563.3 433h4m-2 0V477m-2 0h4M546.8 431h4m-2 0V489m-2 0h4M235.9 379h4m-2 0V513m-2 0h4M229.1 494h4m-2 0V540m-2 0h4M530.6 328h4m-2 0V456m-2 0h4M548.8 456V496m-2 0h4M410 497h4m-2 0V542m-2 0h4M349.1 419h4m-2 0V487m-2 0h4M224.7 432h4m-2 0V476M350.2 458h4m-2 0V505m-2 0h4M508.8 441V491m-2 0h4M497.3 447V510m-2 0h4M529.4 435V485m-2 0h4M385.4 478h4m-2 0V531m-2 0h4M249.7 432h4m-2 0V491m-2 0h4M538 357V410M491.7 450V499M285.6 468h4m-2 0V511m-2 0h4M250.2 466V533m-2 0h4M474 465h4m-2 0V510m-2 0h4M201.1 484h4m-2 0V546m-2 0h4M365.6 307V424m-2 0h4M410 455h4m-2 0V525m-2 0h4M517 461V498M241.5 472h4m-2 0V526m-2 0h4M550.9 470h4m-2 0V521m-2 0h4M519.2 429h4m-2 0V494M229.6 451h4m-2 0V503m-2 0h4M222.8 445h4m-2 0V524m-2 0h4M408.6 454h4m-2 0V506m-2 0h4M391.7 432h4m-2 0V468m-2 0h4M229.1 416h4m-2 0V471m-2 0h4M264.6 441h4m-2 0V487m-2 0h4M244.9 415h4m-2 0V471M408.2 428h4m-2 0V478M421.3 444h4m-2 0V498m-2 0h4M491.1 434h4m-2 0V483M491.3 473V513m-2 0h4M339 431h4m-2 0V501m-2 0h4M564 445h4m-2 0V503m-2 0h4M372.3 470h4m-2 0V503m-2 0h4M542.7 423h4m-2 0V472M240.4 459h4m-2 0V536m-2 0h4M381.6 485h4m-2 0V545m-2 0h4M378.6 415h4m-2 0V563M490.2 473V524m-2 0h4M537.7 346h4m-2 0V391M350.2 495h4m-2 0V535m-2 0h4M522.7 483V524m-2 0h4M550.9 421h4m-2 0V482m-2 0h4M289.8 419h4m-2 0V471m-2 0h4M281.1 482h4m-2 0V521m-2 0h4M478.8 459h4m-2 0V513m-2 0h4M271.8 527h4m-2 0V563M427.6 421h4m-2 0V483m-2 0h4M402.6 433h4m-2 0V522m-2 0h4M523.4 487V559m-2 0h4M399.6 474h4m-2 0V537m-2 0h4M523.1 468V515m-2 0h4M286.1 440V480M496.2 307V385m-2 0h4M198.5 533h4m-2 0V563m-2 0h4M231.8 431h4m-2 0V477m-2 0h4M378.2 447h4m-2 0V507m-2 0h4M496.3 425h4m-2 0V493M523.1 471V516m-2 0h4M252.9 486V546m-2 0h4M542.7 424h4m-2 0V485M542.8 438V485m-2 0h4M493.9 447V500M483.8 469V512m-2 0h4M514.8 459V512m-2 0h4M377.5 486h4m-2 0V516m-2 0h4M399.6 447h4m-2 0V498m-2 0h4M350.6 483h4m-2 0V534m-2 0h4M222 478h4m-2 0V530m-2 0h4M367.8 437h4m-2 0V484m-2 0h4M554.8 442V481m-2 0h4M235.5 377h4m-2 0V535m-2 0h4M529.7 401h4m-2 0V444M514.1 341h4m-2 0V471M369.7 486h4m-2 0V529m-2 0h4M262.5 371h4m-2 0V537m-2 0h4M261.7 512h4m-2 0V548m-2 0h4M551.4 433V496m-2 0h4M263.6 397h4m-2 0V478m-2 0h4M482.6 447V503m-2 0h4M536.4 444h4m-2 0V529m-2 0h4M250.5 422h4m-2 0V486M512.8 429h4m-2 0V475M389.5 390h4m-2 0V535m-2 0h4M259.1 434h4m-2 0V496m-2 0h4M529.2 396h4m-2 0V446M543.1 435h4m-2 0V476M549.1 470h4m-2 0V554m-2 0h4M378.6 432h4m-2 0V480m-2 0h4M516.2 431h4m-2 0V488M378.2 420h4m-2 0V477m-2 0h4M279.4 465V515m-2 0h4M522.2 440V487M383.5 425h4m-2 0V492m-2 0h4M515.2 461V504M414.6 420h4m-2 0V462m-2 0h4M527.2 455V496m-2 0h4M287.1 445h4m-2 0V496m-2 0h4M494.6 326h4m-2 0V363m-2 0h4M533.9 390V448M403.7 405h4m-2 0V486m-2 0h4M518.9 442V493M413.8 433h4m-2 0V481m-2 0h4M551.7 431h4m-2 0V491m-2 0h4M333.8 444h4m-2 0V494m-2 0h4M535.4 460h4m-2 0V533m-2 0h4M502.4 427h4m-2 0V474M501.4 448V502m-2 0h4M219.6 309h4m-2 0V425m-2 0h4M392.9 425h4m-2 0V505m-2 0h4M515.2 440V477M563.4 456V507m-2 0h4M561.9 479V530m-2 0h4M346.5 536h4m-2 0V563M272.7 307V419m-2 0h4M556.2 428h4m-2 0V494M491.5 433h4m-2 0V490M352.5 495h4m-2 0V530m-2 0h4M489 449V494m-2 0h4M495.4 447V488M275.5 432h4m-2 0V486m-2 0h4M512.2 446V498m-2 0h4M527.6 398h4m-2 0V453M474.7 448h4m-2 0V494m-2 0h4M341.7 450h4m-2 0V516m-2 0h4M504.2 429h4m-2 0V477M239.6 428h4m-2 0V492m-2 0h4M513 460V516m-2 0h4M505.8 454V524m-2 0h4M258.6 311h4m-2 0V424m-2 0h4M474.4 448h4m-2 0V488m-2 0h4M526.2 417h4m-2 0V500m-2 0h4M342.4 409h4m-2 0V477m-2 0h4M516.3 449V488M251.7 360h4m-2 0V430m-2 0h4M420.8 454h4m-2 0V484m-2 0h4M199.7 445h4m-2 0V491m-2 0h4M275.5 423h4m-2 0V474m-2 0h4M425.4 436h4m-2 0V487m-2 0h4M488.6 453V498m-2 0h4M530.4 359h4m-2 0V407M380.1 447h4m-2 0V496m-2 0h4M537.6 368h4m-2 0V416M254 477V553m-2 0h4M543 427h4m-2 0V475M539.1 387V444m-2 0h4M349.1 422h4m-2 0V482m-2 0h4M239.6 434h4m-2 0V476m-2 0h4M400.3 426h4m-2 0V477m-2 0h4M540.2 388V434M547 468V521m-2 0h4M483.8 443V485m-2 0h4M493.5 458V521m-2 0h4M536 366h4m-2 0V415M539.5 383V428M224.7 431h4m-2 0V488M490.2 460V508m-2 0h4M478.8 440h4m-2 0V478m-2 0h4M225.4 403h4m-2 0V497m-2 0h4M525.3 445V472M397.7 429h4m-2 0V473m-2 0h4M344.3 384h4m-2 0V537m-2 0h4M229.9 445h4m-2 0V489m-2 0h4M559.9 431h4m-2 0V483M398.4 458h4m-2 0V504m-2 0h4M284.6 460V507m-2 0h4M218 461h4m-2 0V501m-2 0h4M279.2 422h4m-2 0V477m-2 0h4M536.4 437V531m-2 0h4M525.2 324h4m-2 0V357m-2 0h4M506.9 478V518m-2 0h4M227.8 449V510m-2 0h4M527.7 378h4m-2 0V432M505.1 463V509m-2 0h4M527.2 431V481M213.9 438h4m-2 0V485m-2 0h4M405.2 433h4m-2 0V480M519.9 428h4m-2 0V473M498.4 450V512m-2 0h4M495 449V502M229.1 414h4m-2 0V475m-2 0h4M563.7 428h4m-2 0V480m-2 0h4M522.7 436V497m-2 0h4M260.9 337h4m-2 0V394m-2 0h4M333.8 447h4m-2 0V513m-2 0h4M489.3 430h4m-2 0V492M517.4 444V483M351.7 438h4m-2 0V484m-2 0h4M527.4 413h4m-2 0V454M477.6 431h4m-2 0V486m-2 0h4M227.8 485V531m-2 0h4M408.2 416h4m-2 0V459m-2 0h4M524.8 429h4m-2 0V492m-2 0h4M547.3 464V506m-2 0h4M540.1 404h4m-2 0V470m-2 0h4M346.2 426h4m-2 0V488m-2 0h4M282 431V497m-2 0h4M492 437V488M506.2 443V486M497.6 476V515m-2 0h4M231 452h4m-2 0V553m-2 0h4M558.5 478V533m-2 0h4M271.4 450h4m-2 0V483m-2 0h4M527.1 466V508m-2 0h4M228.6 446V523m-2 0h4M282.6 419h4m-2 0V504m-2 0h4M365.2 458h4m-2 0V515m-2 0h4M536.8 426V505m-2 0h4M238.1 465h4m-2 0V532m-2 0h4M339.8 413h4m-2 0V475m-2 0h4M543.5 449V519m-2 0h4M514.3 433h4m-2 0V484M501 474V518m-2 0h4M286.7 470h4m-2 0V507m-2 0h4M229.6 433h4m-2 0V471m-2 0h4M551.7 467h4m-2 0V528m-2 0h4M537 368h4m-2 0V417M564 407h4m-2 0V476m-2 0h4M346.3 450V523m-2 0h4M206 434h4m-2 0V500m-2 0h4M361.1 430h4m-2 0V469m-2 0h4M517.5 453V521m-2 0h4M336.6 478V548m-2 0h4M538 402V457m-2 0h4M355.5 449h4m-2 0V506m-2 0h4M368.2 436h4m-2 0V508m-2 0h4M522.7 435V505m-2 0h4M332.7 434h4m-2 0V482m-2 0h4M515.5 436h4m-2 0V496M542.3 430h4m-2 0V464M405.6 430h4m-2 0V487M261.7 428h4m-2 0V464m-2 0h4M403.4 417h4m-2 0V455m-2 0h4M427.2 459h4m-2 0V512m-2 0h4M536.1 307V438M489.4 454V493m-2 0h4M490.4 434h4m-2 0V543m-2 0h4M495 486V516m-2 0h4M197.9 355h4m-2 0V510m-2 0h4M226.5 409h4m-2 0V509m-2 0h4M543.9 454V509m-2 0h4M537.7 307V346M482.3 458V502m-2 0h4M490.5 454V499m-2 0h4M253.8 460h4m-2 0V510m-2 0h4M373.8 435h4m-2 0V480m-2 0h4M289.7 422h4m-2 0V476m-2 0h4M284.6 444V485M486.2 426h4m-2 0V483M222.8 421h4m-2 0V481m-2 0h4M555.2 466V506m-2 0h4M200.8 439h4m-2 0V470M534.5 375h4m-2 0V416M534.9 429V507m-2 0h4M272.5 479h4m-2 0V527m-2 0h4M527.8 398h4m-2 0V447M552.9 449V491m-2 0h4M553.9 371h4m-2 0V514m-2 0h4M216.5 459h4m-2 0V511m-2 0h4M474.7 454h4m-2 0V532m-2 0h4M559.9 424h4m-2 0V482M484.8 439h4m-2 0V528m-2 0h4M505.7 423h4m-2 0V487M339.4 482h4m-2 0V563M491.7 481V525m-2 0h4M331.6 522h4m-2 0V563M381.8 452V493m-2 0h4M555 434h4m-2 0V487M560 444V484M537.1 421V514m-2 0h4M206 440h4m-2 0V506m-2 0h4M363.1 307V429m-2 0h4M527.3 307V452M391 428h4m-2 0V471m-2 0h4M527.3 307V371m-2 0h4M259.5 413h4m-2 0V499m-2 0h4M275.1 446h4m-2 0V485m-2 0h4M491.7 449V487M244.1 457h4m-2 0V521m-2 0h4M419 469h4m-2 0V498m-2 0h4M501 442V489M498.6 384h4m-2 0V515m-2 0h4M507.3 441V488M289.7 441h4m-2 0V481m-2 0h4M537.4 373V430M391 407h4m-2 0V470m-2 0h4M496.7 409h4m-2 0V563M548.4 454V492m-2 0h4M498.3 444V494M556.3 476V527m-2 0h4M494.5 426h4m-2 0V494M354.1 463V512m-2 0h4M533.1 343h4m-2 0V378m-2 0h4M400.3 418h4m-2 0V458m-2 0h4M550.3 460V504m-2 0h4M386.3 433V480m-2 0h4M492 497V549m-2 0h4M539.9 410V473m-2 0h4M278.1 421h4m-2 0V488m-2 0h4M230.6 443h4m-2 0V483m-2 0h4M391 436h4m-2 0V486m-2 0h4M280.1 442V480m-2 0h4M533.1 307V372m-2 0h4M243 422h4m-2 0V476M385 432h4m-2 0V473m-2 0h4M263.9 498h4m-2 0V562m-2 0h4M401.5 476h4m-2 0V526m-2 0h4M393.6 414h4m-2 0V471m-2 0h4M411.9 456h4m-2 0V523m-2 0h4M539.9 382V421M427.2 407h4m-2 0V475m-2 0h4M268.8 429h4m-2 0V487m-2 0h4M518.2 440V487M509.6 439V479M239.6 425h4m-2 0V494m-2 0h4M412.6 374h4m-2 0V536m-2 0h4M373.4 447h4m-2 0V493m-2 0h4M515.6 442V485M508.4 434h4m-2 0V478M428.7 434h4m-2 0V484m-2 0h4M355.1 502h4m-2 0V552m-2 0h4M380.9 423h4m-2 0V493m-2 0h4M516.2 436h4m-2 0V479M479.6 468h4m-2 0V544m-2 0h4M251.2 494h4m-2 0V536m-2 0h4M537.1 362h4m-2 0V426M257.5 349h4m-2 0V415m-2 0h4M246.9 479V554m-2 0h4M246.4 448h4m-2 0V496m-2 0h4M389.5 442h4m-2 0V492m-2 0h4M474.4 433h4m-2 0V494m-2 0h4M358.8 433h4m-2 0V479M234.4 416h4m-2 0V474m-2 0h4M488.2 426h4m-2 0V476M385 458h4m-2 0V495m-2 0h4M479.6 457h4m-2 0V505m-2 0h4M475.4 425h4m-2 0V474m-2 0h4M370.3 307V424m-2 0h4M274 417h4m-2 0V478m-2 0h4M409.6 496h4m-2 0V532m-2 0h4M360 413h4m-2 0V506m-2 0h4M533.5 349h4m-2 0V500m-2 0h4M522.7 452V497m-2 0h4M203.3 431h4m-2 0V475m-2 0h4M532.4 420V456m-2 0h4M557.8 450V492M405.9 462h4m-2 0V513m-2 0h4M246.5 461V525m-2 0h4M485.1 427h4m-2 0V485m-2 0h4M400 464h4m-2 0V517m-2 0h4M489.3 435h4m-2 0V482M504.3 483V526m-2 0h4M267.6 421h4m-2 0V483m-2 0h4M474.4 439h4m-2 0V505m-2 0h4M494.1 431h4m-2 0V494M519.5 431h4m-2 0V505m-2 0h4M479.5 443h4m-2 0V492m-2 0h4M505.5 307h4m-2 0V437M422.7 433h4m-2 0V487m-2 0h4M408.2 427h4m-2 0V477M495 372h4m-2 0V430m-2 0h4M510.4 460V520m-2 0h4M203.9 473V535m-2 0h4M360.3 418h4m-2 0V466m-2 0h4M398.1 455h4m-2 0V521m-2 0h4M546.8 359h4m-2 0V445M497.5 434h4m-2 0V481M268.4 460h4m-2 0V529m-2 0h4M288.9 444h4m-2 0V501m-2 0h4M282.3 409h4m-2 0V497m-2 0h4M263.9 442h4m-2 0V490m-2 0h4M284.3 444V500m-2 0h4M558.9 455V501M494.2 368h4m-2 0V426m-2 0h4M376.2 451V487m-2 0h4M548.1 470V512m-2 0h4M546.1 357h4m-2 0V397m-2 0h4M478.8 433h4m-2 0V484m-2 0h4M356.2 401h4m-2 0V496m-2 0h4M407.8 460h4m-2 0V516m-2 0h4M554.4 480V521m-2 0h4M367.4 432h4m-2 0V506m-2 0h4M222.5 489h4m-2 0V537m-2 0h4M469.8 389h4m-2 0V563M528.2 445V485m-2 0h4M232.9 427h4m-2 0V489m-2 0h4M216.8 482h4m-2 0V522m-2 0h4M381.2 412h4m-2 0V563M517.9 307V401m-2 0h4M538 367V409M360 433h4m-2 0V476M198.5 430h4m-2 0V482m-2 0h4M562.1 447h4m-2 0V503m-2 0h4M337.5 422h4m-2 0V477m-2 0h4M468.4 382h4m-2 0V476m-2 0h4M332.7 483h4m-2 0V523m-2 0h4M537 447h4m-2 0V547m-2 0h4M553.9 423h4m-2 0V486M485.7 448V491m-2 0h4M504.5 335h4m-2 0V488M372.7 507h4m-2 0V563M484.4 432h4m-2 0V488m-2 0h4M542 419h4m-2 0V487m-2 0h4M493.5 444V493M287.4 532h4m-2 0V563M474.7 482h4m-2 0V538m-2 0h4M504.7 320h4m-2 0V375m-2 0h4M475.1 437h4m-2 0V496m-2 0h4M342.8 489h4m-2 0V533m-2 0h4M216.5 450h4m-2 0V498m-2 0h4M536 355h4m-2 0V427M486.8 476V529m-2 0h4M482.1 422h4m-2 0V497m-2 0h4M283.5 462V500m-2 0h4M522.2 443V499m-2 0h4M531.8 383h4m-2 0V442M502.7 429h4m-2 0V474M518.8 423h4m-2 0V500m-2 0h4M251.2 415h4m-2 0V490m-2 0h4M503.6 450V497M533 380h4m-2 0V419M537.1 349h4m-2 0V402M512.6 469V514m-2 0h4M213.9 424h4m-2 0V476m-2 0h4M355.3 491V543m-2 0h4M236.7 428h4m-2 0V495m-2 0h4M269.6 341h4m-2 0V457m-2 0h4M333.1 443h4m-2 0V481m-2 0h4M502.7 433h4m-2 0V473M258 456h4m-2 0V525m-2 0h4M535.7 451h4m-2 0V533m-2 0h4M277.4 439h4m-2 0V514m-2 0h4M482.9 434h4m-2 0V487m-2 0h4M547.3 307V376m-2 0h4M554 446V484m-2 0h4M540.2 395V452m-2 0h4M261.7 439h4m-2 0V495m-2 0h4M246.7 420h4m-2 0V484M467.1 398h4m-2 0V525m-2 0h4M228.5 446V471m-2 0h4M561 431h4m-2 0V496M403 493h4m-2 0V540m-2 0h4M369.3 417h4m-2 0V485m-2 0h4M516.5 429h4m-2 0V484M368.9 436h4m-2 0V487m-2 0h4M220.2 439h4m-2 0V490m-2 0h4M506.2 453V500m-2 0h4M532.1 437V536m-2 0h4M495 449V487M226.7 484V524m-2 0h4M199.3 411h4m-2 0V498m-2 0h4M265 423h4m-2 0V488m-2 0h4M411.2 416h4m-2 0V472m-2 0h4M539.4 392h4m-2 0V450m-2 0h4M414.9 431h4m-2 0V467m-2 0h4M561.4 427h4m-2 0V463M402.6 475h4m-2 0V528m-2 0h4M514.8 448V493M525.5 418h4m-2 0V487M253.1 472h4m-2 0V530m-2 0h4M474.4 449h4m-2 0V498m-2 0h4M216.5 446h4m-2 0V497m-2 0h4M389.1 458h4m-2 0V522m-2 0h4M239.6 445h4m-2 0V498m-2 0h4M248.6 442h4m-2 0V508m-2 0h4M400.3 424h4m-2 0V477m-2 0h4M203.4 402h4m-2 0V474m-2 0h4M268.4 415h4m-2 0V492m-2 0h4M512.6 437V475M350.2 404h4m-2 0V467m-2 0h4M348.8 414h4m-2 0V472m-2 0h4M476.4 362h4m-2 0V418m-2 0h4M511.5 441V473M247.1 441h4m-2 0V498m-2 0h4M232.1 307V361m-2 0h4M476.5 451h4m-2 0V522m-2 0h4M392.5 428h4m-2 0V483M271.4 430h4m-2 0V478m-2 0h4M546.8 395h4m-2 0V544m-2 0h4M542.8 458V506m-2 0h4M252.4 422h4m-2 0V490m-2 0h4M476.6 436h4m-2 0V499m-2 0h4M268 444h4m-2 0V488m-2 0h4M484.4 423h4m-2 0V486m-2 0h4M359.2 464h4m-2 0V503m-2 0h4M523.8 439V484M347.3 487h4m-2 0V537m-2 0h4M480 415h4m-2 0V483m-2 0h4M543.1 451V515m-2 0h4M528.1 398h4m-2 0V451M280.8 415h4m-2 0V471M280.4 418h4m-2 0V459M529.2 390h4m-2 0V430M496 428h4m-2 0V490M501 477V532m-2 0h4M341.3 487h4m-2 0V536m-2 0h4M426.1 484h4m-2 0V519m-2 0h4M426.5 460h4m-2 0V504m-2 0h4M414.6 412h4m-2 0V486m-2 0h4M555.8 427h4m-2 0V495M340.9 456h4m-2 0V509m-2 0h4M541.3 425h4m-2 0V491m-2 0h4M487.4 424h4m-2 0V460M524.8 329h4m-2 0V406m-2 0h4M494.6 484V519m-2 0h4M238.6 312h4m-2 0V468m-2 0h4M544.3 463V505m-2 0h4M379.5 456V505m-2 0h4M228.2 439V484m-2 0h4M258.3 435h4m-2 0V487m-2 0h4M515.9 349h4m-2 0V436m-2 0h4M516.6 442V489M517.7 307V385m-2 0h4M515.9 443V500M542.5 436h4m-2 0V542m-2 0h4M513.7 465V513m-2 0h4M403.4 488h4m-2 0V537m-2 0h4M512.9 435V490M546.8 427h4m-2 0V506m-2 0h4M500.9 435h4m-2 0V489M376 494h4m-2 0V530m-2 0h4M263.2 450h4m-2 0V489m-2 0h4M559.5 425h4m-2 0V479M512.8 433h4m-2 0V481M336.8 492h4m-2 0V544m-2 0h4M553.7 436V482m-2 0h4M530 405h4m-2 0V470m-2 0h4M210.1 462h4m-2 0V511m-2 0h4M478.8 431h4m-2 0V496m-2 0h4M413.1 413h4m-2 0V482m-2 0h4M394.8 451V529m-2 0h4M228.1 430h4m-2 0V487m-2 0h4M202.8 464V525m-2 0h4M498.6 428h4m-2 0V488M367 461h4m-2 0V531m-2 0h4M529.2 396h4m-2 0V437M360 426h4m-2 0V498m-2 0h4M557 449V507m-2 0h4M496.1 452V507M507.6 433h4m-2 0V482M492.2 434h4m-2 0V481M283.9 458V519m-2 0h4M240.4 413h4m-2 0V496m-2 0h4M286.3 425h4m-2 0V489m-2 0h4M372.3 436h4m-2 0V474m-2 0h4M256.1 480h4m-2 0V537m-2 0h4M372.7 442h4m-2 0V487m-2 0h4M258 438h4m-2 0V481m-2 0h4M388 530h4m-2 0V558m-2 0h4M474.4 414h4m-2 0V487m-2 0h4M550.2 467h4m-2 0V510m-2 0h4M514.4 443V481M530.4 387h4m-2 0V439M554 437V525m-2 0h4M401.8 470h4m-2 0V529m-2 0h4M490.4 431h4m-2 0V489M354.7 447h4m-2 0V510m-2 0h4M487.8 423h4m-2 0V483M419 484h4m-2 0V523m-2 0h4M352.6 307V360m-2 0h4M507.3 444V499m-2 0h4M495.6 429h4m-2 0V486M344.6 432h4m-2 0V505m-2 0h4M529 425V465m-2 0h4M488.2 433h4m-2 0V486M483.7 407h4m-2 0V471M558.9 467V530m-2 0h4M346.9 419h4m-2 0V496m-2 0h4M537.1 464h4m-2 0V535m-2 0h4M421.6 468h4m-2 0V518m-2 0h4M207.9 421h4m-2 0V479m-2 0h4M262.8 307V458m-2 0h4M332.7 455h4m-2 0V520m-2 0h4M409.3 474h4m-2 0V528m-2 0h4M248.6 424h4m-2 0V481M546.8 459V528m-2 0h4M541 381V438M498.4 445V488M525.3 442V488M225.8 426h4m-2 0V464M220.2 419h4m-2 0V497m-2 0h4M203.4 411h4m-2 0V455m-2 0h4M473.9 428h4m-2 0V479m-2 0h4M286.1 455V523m-2 0h4M533.7 328h4m-2 0V481m-2 0h4M515.8 439h4m-2 0V500M391.3 448h4m-2 0V485M219.1 417h4m-2 0V468m-2 0h4M241.5 509h4m-2 0V550m-2 0h4M475.1 433h4m-2 0V486m-2 0h4M486 482V550m-2 0h4M285.3 438h4m-2 0V490m-2 0h4M363.7 425h4m-2 0V486m-2 0h4M496 434h4m-2 0V483M357.3 439h4m-2 0V478M526.4 442V490m-2 0h4M360.3 432h4m-2 0V479m-2 0h4M268.4 427h4m-2 0V463m-2 0h4M554.4 329h4m-2 0V382m-2 0h4M208.3 470h4m-2 0V509m-2 0h4M479.5 430h4m-2 0V484m-2 0h4M246 424h4m-2 0V503m-2 0h4M426.8 460h4m-2 0V514m-2 0h4M418.2 479h4m-2 0V527m-2 0h4M532.6 376h4m-2 0V430M362.6 463h4m-2 0V514m-2 0h4M398.4 478h4m-2 0V520m-2 0h4M509.6 437V492m-2 0h4M561.4 423h4m-2 0V467M351.4 488h4m-2 0V531m-2 0h4M199.7 328h4m-2 0V563M374.2 429h4m-2 0V498m-2 0h4M251.2 436h4m-2 0V510m-2 0h4M513.9 420h4m-2 0V488M235.9 430h4m-2 0V516m-2 0h4M376.8 396h4m-2 0V505m-2 0h4M515.2 471V519m-2 0h4M561.4 429h4m-2 0V487M201.9 406h4m-2 0V505m-2 0h4M346.5 478h4m-2 0V512m-2 0h4M500.5 429h4m-2 0V514m-2 0h4M348.8 427h4m-2 0V476m-2 0h4M201.5 476h4m-2 0V532m-2 0h4M262.8 425h4m-2 0V487m-2 0h4M416.4 434h4m-2 0V491m-2 0h4M331.6 438h4m-2 0V490m-2 0h4M547.1 307V400m-2 0h4M495.4 468V518m-2 0h4M557.8 443V484M212.4 417h4m-2 0V478m-2 0h4M259.8 480h4m-2 0V529m-2 0h4M241.2 426h4m-2 0V511m-2 0h4M405.2 307V428m-2 0h4M251.6 448h4m-2 0V493m-2 0h4M545.4 404h4m-2 0V445M500.1 423h4m-2 0V470M496.9 307V361m-2 0h4M523.1 442V484M341.3 395h4m-2 0V495m-2 0h4M362.6 483h4m-2 0V521m-2 0h4M339 401h4m-2 0V498m-2 0h4M414.9 307V426m-2 0h4M209.7 427h4m-2 0V482m-2 0h4M345.7 413h4m-2 0V504m-2 0h4M475.4 444h4m-2 0V494m-2 0h4M537.2 371V446m-2 0h4M495.9 307V385m-2 0h4M274.4 428h4m-2 0V485m-2 0h4M407.6 467V531m-2 0h4M500.9 429h4m-2 0V491M220.6 428h4m-2 0V472m-2 0h4M534.5 370h4m-2 0V408M525.3 454V493M284.3 459V520m-2 0h4M203.3 322h4m-2 0V489m-2 0h4M407.8 535h4m-2 0V563M552.9 497h4m-2 0V556m-2 0h4M422.4 415h4m-2 0V493m-2 0h4M271.8 444h4m-2 0V500m-2 0h4M512.4 372h4m-2 0V457M357.3 437h4m-2 0V480m-2 0h4M288.6 444h4m-2 0V502m-2 0h4M489.4 467V502m-2 0h4M493.5 450V483M523.8 466V514m-2 0h4M505.1 308h4m-2 0V412m-2 0h4M231.4 447h4m-2 0V476m-2 0h4M489.4 469V512m-2 0h4M528.9 397h4m-2 0V443M496.2 461V506M514.4 439V485M564 411h4m-2 0V464m-2 0h4M382.4 417h4m-2 0V487m-2 0h4M203.8 411h4m-2 0V461m-2 0h4M404.1 478h4m-2 0V547m-2 0h4M517.6 423h4m-2 0V500m-2 0h4M563.4 464V508m-2 0h4M485.9 423h4m-2 0V531m-2 0h4M555.4 429h4m-2 0V491M555 423h4m-2 0V494M384.3 479h4m-2 0V535m-2 0h4M275.1 419h4m-2 0V474m-2 0h4M405.1 307V386m-2 0h4M559.9 390h4m-2 0V509m-2 0h4M219.1 493h4m-2 0V549m-2 0h4M226.7 487V553m-2 0h4M511.1 451V486M385.7 530h4m-2 0V563M255.3 436h4m-2 0V472m-2 0h4M537.6 371V411M560 493V544m-2 0h4M499.9 441V477M496.9 307V401m-2 0h4M381.6 426h4m-2 0V489m-2 0h4M507.3 436V493m-2 0h4M252.4 443h4m-2 0V491m-2 0h4M529 425V468m-2 0h4M519.3 469V528m-2 0h4M498.6 437h4m-2 0V497M276.7 403h4m-2 0V481m-2 0h4M268.8 452h4m-2 0V496m-2 0h4M531.8 381h4m-2 0V429M562.6 446V520m-2 0h4M510.6 425h4m-2 0V487M380.1 446h4m-2 0V496m-2 0h4M534.4 307V431M368.2 409h4m-2 0V496m-2 0h4M504.6 335h4m-2 0V380m-2 0h4M539 365h4m-2 0V495m-2 0h4M365.6 419h4m-2 0V488m-2 0h4M408.5 412h4m-2 0V468M562.1 446h4m-2 0V487m-2 0h4M283.7 421h4m-2 0V498m-2 0h4M286.7 425h4m-2 0V486m-2 0h4M550.3 465V513m-2 0h4M536.4 307V354m-2 0h4M414.2 307V373m-2 0h4M413.1 434h4m-2 0V479m-2 0h4M531.8 389h4m-2 0V434M354.7 441h4m-2 0V524m-2 0h4M267.6 432h4m-2 0V481m-2 0h4M513.3 445V502m-2 0h4M545.3 378h4m-2 0V431m-2 0h4M263.2 423h4m-2 0V497m-2 0h4M354.9 466V522m-2 0h4M557 447V500M549.9 454V499m-2 0h4M518.9 463V517m-2 0h4M476.2 472h4m-2 0V521m-2 0h4M494.6 444V492M529.8 442V488m-2 0h4M386.7 461V522m-2 0h4M239.6 516h4m-2 0V546m-2 0h4M228.1 420h4m-2 0V484m-2 0h4M493.7 436h4m-2 0V487M289.8 419h4m-2 0V484m-2 0h4M399.6 479h4m-2 0V563M492.7 461V509m-2 0h4M493.9 453V500M550.3 439V477m-2 0h4M368.6 456h4m-2 0V514m-2 0h4M546.1 428h4m-2 0V487m-2 0h4M516.2 439h4m-2 0V490M391.7 474h4m-2 0V538m-2 0h4M539.1 307V349m-2 0h4M521.8 433h4m-2 0V486M391.7 462h4m-2 0V539m-2 0h4M516.3 446V507M336.8 424h4m-2 0V490m-2 0h4M517.8 444V494M218.3 414h4m-2 0V468m-2 0h4M404.5 415h4m-2 0V510m-2 0h4M481.4 422h4m-2 0V483M552.8 393h4m-2 0V462M425.4 456h4m-2 0V522m-2 0h4M535.4 393V427M558.9 461V505m-2 0h4M414.6 397h4m-2 0V563M423.9 544h4m-2 0V563M259.1 460h4m-2 0V513m-2 0h4M240 423h4m-2 0V461m-2 0h4M223.5 418h4m-2 0V488m-2 0h4M490.9 457V504m-2 0h4M270.3 447h4m-2 0V503m-2 0h4M395.5 454h4m-2 0V519m-2 0h4M516.9 439h4m-2 0V477M525.6 491V531m-2 0h4M512.4 396h4m-2 0V524m-2 0h4M339 429h4m-2 0V489m-2 0h4M414.6 439h4m-2 0V475m-2 0h4M340.6 412h4m-2 0V509m-2 0h4M478.8 413h4m-2 0V489m-2 0h4M537.1 364h4m-2 0V419M480 418h4m-2 0V494M513 446V480M474 471h4m-2 0V528m-2 0h4M487.9 343h4m-2 0V430m-2 0h4M281.6 391h4m-2 0V455M526.3 457h4m-2 0V498m-2 0h4M538.2 307V379M564 430h4m-2 0V471m-2 0h4M505 430h4m-2 0V490M539.5 387V423M541.7 368h4m-2 0V448M343.2 425h4m-2 0V488m-2 0h4M480.3 437h4m-2 0V475M370.4 455h4m-2 0V485m-2 0h4M515.5 439h4m-2 0V477M253.5 417h4m-2 0V469m-2 0h4M400 505h4m-2 0V550m-2 0h4M515.2 329h4m-2 0V478M200.8 423h4m-2 0V483m-2 0h4M554.8 451V513m-2 0h4M213.1 424h4m-2 0V478m-2 0h4M484 438h4m-2 0V497m-2 0h4M336.8 437h4m-2 0V501m-2 0h4M243.7 443h4m-2 0V492m-2 0h4M521.5 450V487M513.7 456V502m-2 0h4M504.7 453V499M535.9 320h4m-2 0V466M524.9 478V530m-2 0h4M345.1 419h4m-2 0V474m-2 0h4M546.3 350h4m-2 0V403m-2 0h4M289.8 435h4m-2 0V534m-2 0h4M406.5 489V526m-2 0h4M527.5 455V506m-2 0h4M474 357h4m-2 0V432m-2 0h4M479.2 473h4m-2 0V511m-2 0h4M517.3 436h4m-2 0V487M563.6 465h4m-2 0V513m-2 0h4M203.1 457V509m-2 0h4M540.6 392V441M383.1 323h4m-2 0V448M512.6 474V538m-2 0h4M287.1 409h4m-2 0V464m-2 0h4M391.3 460h4m-2 0V533m-2 0h4M504.6 425h4m-2 0V524m-2 0h4M222.5 441h4m-2 0V483m-2 0h4M240.4 428h4m-2 0V479m-2 0h4M290.4 437h4m-2 0V500m-2 0h4M291.9 495h4m-2 0V542m-2 0h4M363.3 470h4m-2 0V507m-2 0h4M272.5 458h4m-2 0V563M506.2 444V488M401.8 504h4m-2 0V557m-2 0h4M556.9 434h4m-2 0V471M245.4 470V534m-2 0h4M351.4 415h4m-2 0V487m-2 0h4M207.9 437h4m-2 0V546m-2 0h4M470.8 330h4m-2 0V526m-2 0h4M542.3 422h4m-2 0V480M395.9 434h4m-2 0V477m-2 0h4M428.7 470h4m-2 0V544m-2 0h4M277.4 436h4m-2 0V499m-2 0h4M563.4 446V486M522.6 417h4m-2 0V498m-2 0h4M560 475V535m-2 0h4M341.3 428h4m-2 0V482m-2 0h4M557.8 440V500M536.8 316h4m-2 0V439M422.7 432h4m-2 0V509m-2 0h4M489.3 404h4m-2 0V563M238.9 336h4m-2 0V467m-2 0h4M486.2 416h4m-2 0V466M524.6 434V491M474.7 434h4m-2 0V488m-2 0h4M350.2 431h4m-2 0V480m-2 0h4M548.7 432h4m-2 0V491m-2 0h4M394.1 455V494M496.5 448V487M207.9 426h4m-2 0V460m-2 0h4M528.9 379h4m-2 0V423M417.2 485h4m-2 0V537m-2 0h4M374.5 406h4m-2 0V494m-2 0h4M271.4 540h4m-2 0V563M510.4 463V509m-2 0h4M388.8 474h4m-2 0V538m-2 0h4M273.3 494h4m-2 0V538m-2 0h4M539.3 362h4m-2 0V408m-2 0h4M387.2 464h4m-2 0V561m-2 0h4M198.2 434h4m-2 0V490m-2 0h4M531.8 371h4m-2 0V423M392.5 414h4m-2 0V482M479.1 434h4m-2 0V490m-2 0h4M411.5 422h4m-2 0V499m-2 0h4M372.7 434h4m-2 0V485m-2 0h4M538.3 393V442M287.1 437h4m-2 0V491m-2 0h4M393.6 426h4m-2 0V479m-2 0h4M522.2 445V486M408.2 411h4m-2 0V463M470.1 448h4m-2 0V540m-2 0h4M489.4 437V482M552.9 440V486m-2 0h4M363.3 416h4m-2 0V471m-2 0h4M530.4 388h4m-2 0V434M218.7 483h4m-2 0V523m-2 0h4M217.2 414h4m-2 0V494m-2 0h4M380.7 449V522m-2 0h4M338.3 432h4m-2 0V492m-2 0h4M554.8 452V512m-2 0h4M520.6 405h4m-2 0V478M523.6 432h4m-2 0V491M373 436h4m-2 0V485m-2 0h4M539.9 381V444m-2 0h4M245.4 479V520m-2 0h4M541 408V450m-2 0h4M556.3 435V481M485.2 430h4m-2 0V496m-2 0h4M423.5 411h4m-2 0V476m-2 0h4M474.7 453h4m-2 0V493m-2 0h4M474.3 430h4m-2 0V506m-2 0h4M224.3 418h4m-2 0V475M561.2 438V482M365.6 424h4m-2 0V491m-2 0h4M378.8 443V497m-2 0h4M270.6 321h4m-2 0V406m-2 0h4M229.9 444h4m-2 0V507m-2 0h4M542.3 417h4m-2 0V449M361.9 454h4m-2 0V506m-2 0h4M484.4 438h4m-2 0V486m-2 0h4M372.7 447h4m-2 0V551m-2 0h4M386.9 430h4m-2 0V464m-2 0h4M209.4 423h4m-2 0V468m-2 0h4M227.1 471V523m-2 0h4M373.8 409h4m-2 0V470m-2 0h4M217.2 467h4m-2 0V563M414.1 456h4m-2 0V501m-2 0h4M513.2 418h4m-2 0V470M502.7 439h4m-2 0V500M516.3 329h4m-2 0V386m-2 0h4M265.4 436h4m-2 0V483m-2 0h4M548.4 477V521m-2 0h4M562.6 447V489M360 446h4m-2 0V517m-2 0h4M501.4 450V497M527.5 448V510m-2 0h4M556.9 414h4m-2 0V514m-2 0h4M415.3 424h4m-2 0V488m-2 0h4M384.2 506h4m-2 0V546m-2 0h4M282 459V563M225.4 425h4m-2 0V476M527.9 311h4m-2 0V511m-2 0h4M528.6 441V489m-2 0h4M281.9 431h4m-2 0V478m-2 0h4M539 377h4m-2 0V458m-2 0h4M383.1 409h4m-2 0V460M551.3 461V555m-2 0h4M428 413h4m-2 0V480m-2 0h4M479.3 393h4m-2 0V479m-2 0h4M517.5 469V526m-2 0h4M404.8 479h4m-2 0V560m-2 0h4M561.8 432h4m-2 0V480M286.1 485V534m-2 0h4M283 434h4m-2 0V478M559.7 436V472M207.9 426h4m-2 0V487m-2 0h4M279.6 429h4m-2 0V466M513.7 440V492M367.4 483h4m-2 0V519m-2 0h4M286.9 468V530m-2 0h4M229.9 358h4m-2 0V418m-2 0h4M523.4 450V504m-2 0h4M554.1 462V505m-2 0h4M288.9 425h4m-2 0V484m-2 0h4M528.5 319h4m-2 0V373m-2 0h4M538.2 378h4m-2 0V465M496.9 469V519m-2 0h4M360.7 437h4m-2 0V473M552.9 456V503m-2 0h4M495.8 445V486M243 430h4m-2 0V491m-2 0h4M378.2 446h4m-2 0V519m-2 0h4M284.9 434h4m-2 0V488M537 323h4m-2 0V386M255.3 405h4m-2 0V500m-2 0h4M426.1 455h4m-2 0V516m-2 0h4M265.4 436h4m-2 0V470m-2 0h4M521.9 446V499m-2 0h4M495.4 437V487M352.1 484h4m-2 0V551m-2 0h4M495.8 458V505m-2 0h4M515.8 307V381m-2 0h4M200.4 424h4m-2 0V479m-2 0h4M387.2 427h4m-2 0V467m-2 0h4M516.3 454V509m-2 0h4M539.3 307V372m-2 0h4M499.1 440V488M222.5 487h4m-2 0V525m-2 0h4M343.5 400h4m-2 0V490m-2 0h4M214.6 480h4m-2 0V511m-2 0h4M426.1 448h4m-2 0V501m-2 0h4M517.3 424h4m-2 0V482M230.6 466h4m-2 0V521m-2 0h4M228.5 458V513m-2 0h4M474.4 442h4m-2 0V490m-2 0h4M392.5 429h4m-2 0V471M540.9 418V469m-2 0h4M480 429h4m-2 0V468m-2 0h4M362.6 423h4m-2 0V494m-2 0h4M259.1 424h4m-2 0V470m-2 0h4M391.3 419h4m-2 0V470m-2 0h4M394.8 449V497m-2 0h4M245.4 470V516m-2 0h4M530.9 422V456m-2 0h4M214.3 436h4m-2 0V491m-2 0h4M540.3 307V384M370 434h4m-2 0V473m-2 0h4M494.8 329h4m-2 0V375m-2 0h4M534.2 395V446M523.4 454V521m-2 0h4M538.3 366h4m-2 0V407M341 464h4m-2 0V515m-2 0h4M545 469V512m-2 0h4M199.3 414h4m-2 0V500m-2 0h4M241.5 460h4m-2 0V500m-2 0h4M558.1 430h4m-2 0V487M224.3 417h4m-2 0V481M489.7 430h4m-2 0V496M277.8 420h4m-2 0V482m-2 0h4M235.1 428h4m-2 0V478M540.2 391V450m-2 0h4M474.4 445h4m-2 0V494m-2 0h4M356.2 419h4m-2 0V474M534.4 363h4m-2 0V427M360.7 428h4m-2 0V473M548.1 468V522m-2 0h4M416.8 439h4m-2 0V480m-2 0h4M404.8 421h4m-2 0V506m-2 0h4M222 492h4m-2 0V525m-2 0h4M345.2 433V481m-2 0h4M509.9 454V508m-2 0h4M513.3 463V525m-2 0h4M546.4 380h4m-2 0V521m-2 0h4M502.7 430h4m-2 0V487M244.5 430h4m-2 0V487m-2 0h4M259.8 447h4m-2 0V485m-2 0h4M511.8 358h4m-2 0V428m-2 0h4M522.2 457V508m-2 0h4M502.4 434h4m-2 0V486M206.4 488h4m-2 0V540m-2 0h4M483.7 432h4m-2 0V477M522.9 422h4m-2 0V561m-2 0h4M530 395h4m-2 0V442M345.4 447h4m-2 0V491m-2 0h4M516.9 434h4m-2 0V479M339 443h4m-2 0V505m-2 0h4M347.3 464h4m-2 0V538m-2 0h4M545.6 398h4m-2 0V457M539.5 307V364m-2 0h4M351.7 493h4m-2 0V557m-2 0h4M559.2 415h4m-2 0V562m-2 0h4M542.7 430h4m-2 0V480M281.9 410h4m-2 0V500m-2 0h4M521.9 439V485M486.2 307V403m-2 0h4M405.2 523h4m-2 0V563M356.2 459h4m-2 0V553m-2 0h4M515 438h4m-2 0V490M210.1 427h4m-2 0V470m-2 0h4M398.4 475h4m-2 0V536m-2 0h4M535.3 307V454M265.1 441h4m-2 0V476m-2 0h4M539.4 403h4m-2 0V449m-2 0h4M386.5 409h4m-2 0V493m-2 0h4M201.9 418h4m-2 0V483m-2 0h4M237.9 454V534m-2 0h4M252.3 437h4m-2 0V492m-2 0h4M204.5 477h4m-2 0V527m-2 0h4M500.6 459V520m-2 0h4M527.8 439V476M497.7 358h4m-2 0V454M530.2 307V410m-2 0h4M241.9 449h4m-2 0V497m-2 0h4M422.7 436h4m-2 0V490m-2 0h4M199.3 472h4m-2 0V516m-2 0h4M512.9 436V481M482.6 417h4m-2 0V484M529.4 418V468m-2 0h4M240 307V414m-2 0h4M380.7 470V511m-2 0h4M556.7 477V523m-2 0h4M425.7 468h4m-2 0V512m-2 0h4M533 379h4m-2 0V426M408.2 510h4m-2 0V552m-2 0h4M337.9 419h4m-2 0V493m-2 0h4M219.5 493h4m-2 0V563M531.1 378h4m-2 0V442M521.9 453V520m-2 0h4M272.5 502h4m-2 0V556m-2 0h4M527.2 448V508m-2 0h4M531.3 416V465m-2 0h4M410.4 420h4m-2 0V493m-2 0h4M542 428h4m-2 0V466M489.7 430h4m-2 0V507m-2 0h4M533 378h4m-2 0V446M207.5 503h4m-2 0V548m-2 0h4M203.1 451V502m-2 0h4M230.4 446V486m-2 0h4M276.2 441h4m-2 0V481m-2 0h4M507.6 396h4m-2 0V478M496.7 437h4m-2 0V506m-2 0h4M390.6 412h4m-2 0V473m-2 0h4M252 424h4m-2 0V548m-2 0h4M267.6 464h4m-2 0V502m-2 0h4M541.5 422h4m-2 0V472m-2 0h4M214.6 436h4m-2 0V473m-2 0h4M361.1 419h4m-2 0V479m-2 0h4M255.3 412h4m-2 0V475m-2 0h4M519.9 430h4m-2 0V471M496.1 448V499M558.2 451V501M337.9 496h4m-2 0V563M512.9 441V483M511.5 451V500m-2 0h4M536.5 343h4m-2 0V402M270.6 482h4m-2 0V541m-2 0h4M399.9 428h4m-2 0V491m-2 0h4M376.8 502h4m-2 0V561m-2 0h4M493.5 450V495M516.3 446V486M252 402h4m-2 0V524m-2 0h4M533.4 372h4m-2 0V429M481.8 428h4m-2 0V476M251.6 501h4m-2 0V554m-2 0h4M342.4 424h4m-2 0V473m-2 0h4M382.8 413h4m-2 0V471m-2 0h4M513.7 438V503m-2 0h4M517 451V487M198.7 433h4m-2 0V496m-2 0h4M215.7 430h4m-2 0V479m-2 0h4M217.7 458V497m-2 0h4M252 416h4m-2 0V496m-2 0h4M560.8 436V488M540.1 398h4m-2 0V451M251.6 432h4m-2 0V477M498.7 462V511m-2 0h4M536 366h4m-2 0V414M532.4 393V432M263.9 525h4m-2 0V563M409.3 482h4m-2 0V563M377.1 412h4m-2 0V519m-2 0h4M564 437h4m-2 0V484m-2 0h4M387.2 438h4m-2 0V527m-2 0h4M514.8 463V516m-2 0h4M490.4 422h4m-2 0V494M475.1 445h4m-2 0V484m-2 0h4M467.8 422h4m-2 0V545m-2 0h4M498.7 449V489M478.4 470h4m-2 0V514m-2 0h4M533.1 447V494m-2 0h4M403.7 416h4m-2 0V471m-2 0h4M353.3 413h4m-2 0V527m-2 0h4M394 426h4m-2 0V481m-2 0h4M558.2 450V485M202.4 317h4m-2 0V422m-2 0h4M527 410h4m-2 0V467m-2 0h4M484.1 483V520m-2 0h4M262.8 409h4m-2 0V467m-2 0h4M271.5 474V563M213.5 427h4m-2 0V493m-2 0h4M487.9 442V488m-2 0h4M407.8 441h4m-2 0V501m-2 0h4M221 437h4m-2 0V516m-2 0h4M482.3 458V509m-2 0h4M540.6 404V461m-2 0h4M267.3 436h4m-2 0V497m-2 0h4M515.2 445V488M360.3 413h4m-2 0V499m-2 0h4M227.8 437V514m-2 0h4M526.4 439V473M254.9 456h4m-2 0V515m-2 0h4M514.2 384h4m-2 0V456M257.2 442h4m-2 0V483m-2 0h4M226.5 478h4m-2 0V527m-2 0h4M389.9 465h4m-2 0V516m-2 0h4M540.8 421h4m-2 0V456M513.6 437h4m-2 0V485M512.2 447V513m-2 0h4M402.6 436h4m-2 0V469m-2 0h4M521.2 445V497m-2 0h4M401.8 482h4m-2 0V536m-2 0h4M537.4 423V532m-2 0h4M529.8 426V481m-2 0h4M376.8 426h4m-2 0V495m-2 0h4M550.3 461V496m-2 0h4M475.8 437h4m-2 0V489m-2 0h4M426.1 413h4m-2 0V477m-2 0h4M502.1 445V486M404.1 443h4m-2 0V487M229.2 452h4m-2 0V500m-2 0h4M480.3 425h4m-2 0V468M222.8 430h4m-2 0V482m-2 0h4M363.7 479h4m-2 0V525m-2 0h4M561 429h4m-2 0V485M233.5 318h4m-2 0V403m-2 0h4M555.8 432h4m-2 0V495M222.8 404h4m-2 0V481m-2 0h4M393.2 457h4m-2 0V506m-2 0h4M494.5 428h4m-2 0V488M555.6 438V484M561.5 447V481M502.7 426h4m-2 0V479M262.1 432h4m-2 0V475m-2 0h4M388 436h4m-2 0V479m-2 0h4M355.1 460h4m-2 0V523m-2 0h4M517.8 452V513m-2 0h4M505.7 425h4m-2 0V491m-2 0h4M345.8 427h4m-2 0V467m-2 0h4M554.4 479V545m-2 0h4M350.2 433h4m-2 0V481m-2 0h4M428.7 424h4m-2 0V496m-2 0h4M405.9 437h4m-2 0V485M389.1 482h4m-2 0V558m-2 0h4M563.8 307V364m-2 0h4M395.1 438h4m-2 0V477m-2 0h4M537.5 364h4m-2 0V427M562.3 436V552m-2 0h4M383.2 333h4m-2 0V378m-2 0h4M229.3 452V499m-2 0h4M498 442V506m-2 0h4M535.4 343h4m-2 0V385M537.8 307V418M407.9 470V526m-2 0h4M527.5 307V434M481.1 436h4m-2 0V477M531.1 319h4m-2 0V485m-2 0h4M213 333h4m-2 0V368m-2 0h4M231.4 420h4m-2 0V483m-2 0h4M492.1 444V504m-2 0h4M508.1 443V508m-2 0h4M519.6 472V517m-2 0h4M247.9 420h4m-2 0V490m-2 0h4M532.6 363h4m-2 0V419M357.7 470h4m-2 0V558m-2 0h4M533.9 426V465m-2 0h4M369.7 475h4m-2 0V544m-2 0h4M534.4 454V509m-2 0h4M352.1 416h4m-2 0V486m-2 0h4M543.1 406h4m-2 0V469M503.3 464V505m-2 0h4M351.4 409h4m-2 0V483m-2 0h4M204.5 437h4m-2 0V489m-2 0h4M549.4 482h4m-2 0V533m-2 0h4M528.4 352h4m-2 0V417m-2 0h4M531.1 382h4m-2 0V430M229 309h4m-2 0V469m-2 0h4M370 458h4m-2 0V508m-2 0h4M209 421h4m-2 0V483m-2 0h4M533.8 397V454M497.3 454V517m-2 0h4M288.9 458h4m-2 0V534m-2 0h4M556.9 435h4m-2 0V479M288.6 428h4m-2 0V513m-2 0h4M512.2 444V493M555.9 449V507m-2 0h4M558.5 473V530m-2 0h4M336.1 426h4m-2 0V478m-2 0h4M490.2 464V508m-2 0h4M250.1 506h4m-2 0V547m-2 0h4M524.5 324h4m-2 0V381m-2 0h4M354.3 424h4m-2 0V484m-2 0h4M261.2 307V387m-2 0h4M421.3 436h4m-2 0V479m-2 0h4M275.9 427h4m-2 0V488m-2 0h4M220.7 307V436m-2 0h4M276.2 437h4m-2 0V489m-2 0h4M204.5 440h4m-2 0V485m-2 0h4M246.7 512h4m-2 0V557m-2 0h4M385 434h4m-2 0V473m-2 0h4M549.3 453V522m-2 0h4M273 307V396m-2 0h4M253.1 427h4m-2 0V491m-2 0h4M475.1 419h4m-2 0V496m-2 0h4M536.5 385V436M360 444h4m-2 0V520m-2 0h4M284.6 439V519m-2 0h4M385.3 425h4m-2 0V475m-2 0h4M278.9 525h4m-2 0V563M346.6 469V520m-2 0h4M267.6 416h4m-2 0V470m-2 0h4M508.8 445V495m-2 0h4M280.8 422h4m-2 0V497m-2 0h4M473.6 437h4m-2 0V499m-2 0h4M486.6 307V411m-2 0h4M514.4 416h4m-2 0V501M499.1 460V512m-2 0h4M265.1 431h4m-2 0V485m-2 0h4M505.1 456V510m-2 0h4M242.7 435h4m-2 0V472M529.8 433V499m-2 0h4M529 446V474m-2 0h4M410.4 442h4m-2 0V496m-2 0h4M559.9 429h4m-2 0V472M538 372V418M535.4 383V443M373.4 432h4m-2 0V491m-2 0h4M498.3 406h4m-2 0V504m-2 0h4M239.3 489h4m-2 0V552m-2 0h4M356.3 456V525m-2 0h4M505.4 405h4m-2 0V427m-2 0h4M204.5 439h4m-2 0V489m-2 0h4M368.7 331h4m-2 0V373m-2 0h4M485.2 421h4m-2 0V473M529.8 440V490m-2 0h4M221.7 432h4m-2 0V476m-2 0h4M556.5 445V532m-2 0h4M382.8 424h4m-2 0V499m-2 0h4M201.1 418h4m-2 0V487m-2 0h4M367.4 421h4m-2 0V481m-2 0h4M521.4 429h4m-2 0V488M210.1 424h4m-2 0V487m-2 0h4M539.1 385V425M374.6 307V434m-2 0h4M521.4 429h4m-2 0V486M513.6 428h4m-2 0V471M230.6 397h4m-2 0V470m-2 0h4M236.2 470h4m-2 0V521m-2 0h4M545.4 438V493m-2 0h4M554.8 435V496m-2 0h4M527.6 364h4m-2 0V434M538.3 395V441M232.5 445h4m-2 0V484m-2 0h4M526.8 442V494m-2 0h4M264.6 407h4m-2 0V485m-2 0h4M201.9 425h4m-2 0V518m-2 0h4M409.4 463V512m-2 0h4M370.9 438V519m-2 0h4M211.2 437h4m-2 0V487m-2 0h4M562 372h4m-2 0V422m-2 0h4M510.6 434h4m-2 0V487M518.5 448V493M409.3 412h4m-2 0V480m-2 0h4M537.1 317h4m-2 0V401M352.5 408h4m-2 0V563M279.2 422h4m-2 0V514m-2 0h4M389.1 496h4m-2 0V546m-2 0h4M422.7 424h4m-2 0V478m-2 0h4M244.9 391h4m-2 0V519m-2 0h4M372.7 430h4m-2 0V479m-2 0h4M508.1 469V539m-2 0h4M341.3 316h4m-2 0V413m-2 0h4M512.9 441V498m-2 0h4M506.8 412h4m-2 0V468M283.7 436h4m-2 0V478M218.4 416h4m-2 0V473m-2 0h4M479.6 438h4m-2 0V481m-2 0h4M552.9 429h4m-2 0V470m-2 0h4M474.4 464h4m-2 0V510m-2 0h4M376 430h4m-2 0V491m-2 0h4M529.8 435V481m-2 0h4M350.6 455h4m-2 0V509m-2 0h4M279.8 454V506m-2 0h4M422.7 421h4m-2 0V471m-2 0h4M254.4 464V515m-2 0h4M219.1 411h4m-2 0V476m-2 0h4M222.1 436h4m-2 0V485m-2 0h4M545 425h4m-2 0V487m-2 0h4M268.4 410h4m-2 0V479m-2 0h4M492.4 459V510m-2 0h4M208.3 438h4m-2 0V490m-2 0h4M365.9 431h4m-2 0V460m-2 0h4M405.2 440h4m-2 0V477M247.1 522h4m-2 0V563M413.8 428h4m-2 0V483m-2 0h4M290.1 503h4m-2 0V539m-2 0h4M545.4 473V502m-2 0h4M356 463V532m-2 0h4M481.4 433h4m-2 0V497m-2 0h4M230.5 318h4m-2 0V427m-2 0h4M389.5 429h4m-2 0V474m-2 0h4M363.3 470h4m-2 0V514m-2 0h4M555.9 435V515m-2 0h4M229.3 439V506m-2 0h4M260.2 457h4m-2 0V500m-2 0h4M529.9 307V399m-2 0h4M366.3 425h4m-2 0V475m-2 0h4M556.7 472V514m-2 0h4M504.3 442V501m-2 0h4M502.5 442V487M541.8 472h4m-2 0V527m-2 0h4M360.7 428h4m-2 0V494m-2 0h4M492.2 434h4m-2 0V484M356.6 420h4m-2 0V457m-2 0h4M495.3 427h4m-2 0V484M346.6 460V523m-2 0h4M215.7 430h4m-2 0V493m-2 0h4M387.2 415h4m-2 0V502m-2 0h4M560.1 455V501M195.6 378h4m-2 0V487m-2 0h4M537.9 374h4m-2 0V431M489.4 450V492m-2 0h4M258 431h4m-2 0V487m-2 0h4M561 431h4m-2 0V487M408.6 416h4m-2 0V486M492.6 435h4m-2 0V491M553.9 422h4m-2 0V487M483.1 449V509m-2 0h4M366.7 425h4m-2 0V468m-2 0h4M271 545h4m-2 0V563M541 390V449m-2 0h4M425.4 499h4m-2 0V563M481.1 439h4m-2 0V484M211.2 464h4m-2 0V508m-2 0h4M545.4 452V501m-2 0h4M259.5 469h4m-2 0V548m-2 0h4M505.8 394h4m-2 0V447M262.5 425h4m-2 0V481m-2 0h4M347.3 428h4m-2 0V491m-2 0h4M554.8 436V492m-2 0h4M373 438h4m-2 0V478m-2 0h4M207.2 437h4m-2 0V473m-2 0h4M209 426h4m-2 0V480m-2 0h4M271 474h4m-2 0V512m-2 0h4M516.9 421h4m-2 0V482M549.1 351h4m-2 0V427m-2 0h4M517.6 423h4m-2 0V473M335.3 467h4m-2 0V503m-2 0h4M563.8 307V443M417.9 432h4m-2 0V482m-2 0h4M240.7 470h4m-2 0V520m-2 0h4M249.3 422h4m-2 0V472M531.9 388h4m-2 0V437M287.1 444h4m-2 0V484m-2 0h4M527.5 345h4m-2 0V409m-2 0h4M516.6 478V522m-2 0h4M403.7 440h4m-2 0V487m-2 0h4M234 472h4m-2 0V509m-2 0h4M410.8 434h4m-2 0V473m-2 0h4M481.4 394h4m-2 0V563M416 421h4m-2 0V477m-2 0h4M554 439V518m-2 0h4M507.2 434h4m-2 0V499m-2 0h4M542.4 435V511m-2 0h4M562.1 463h4m-2 0V525m-2 0h4M198.5 427h4m-2 0V474m-2 0h4M490.2 454V522m-2 0h4M253.5 414h4m-2 0V489m-2 0h4M528.1 410h4m-2 0V442M339.4 432h4m-2 0V480m-2 0h4M335.3 422h4m-2 0V462m-2 0h4M280.4 412h4m-2 0V480m-2 0h4M509.2 437V493m-2 0h4M386.5 421h4m-2 0V456m-2 0h4M416.4 432h4m-2 0V476m-2 0h4M503.8 429h4m-2 0V497m-2 0h4M332.3 455h4m-2 0V525m-2 0h4M538.7 392V443m-2 0h4M538.2 307V419M489 441V486M423.1 511h4m-2 0V557m-2 0h4M253.1 542h4m-2 0V563M209.4 425h4m-2 0V554m-2 0h4M552.6 438V488m-2 0h4M274 429h4m-2 0V472m-2 0h4M537.5 323h4m-2 0V405M249.7 427h4m-2 0V490m-2 0h4M424.6 413h4m-2 0V474m-2 0h4M237.4 445h4m-2 0V505m-2 0h4M515 316h4m-2 0V444M204.9 461h4m-2 0V503m-2 0h4M556.9 414h4m-2 0V486M530.7 354h4m-2 0V490m-2 0h4M257.2 506h4m-2 0V542m-2 0h4M228.1 423h4m-2 0V473m-2 0h4M400 434h4m-2 0V488m-2 0h4M280.1 397h4m-2 0V451M212.7 493h4m-2 0V560m-2 0h4M364.3 307V408m-2 0h4M398.1 408h4m-2 0V489m-2 0h4M504.2 434h4m-2 0V500m-2 0h4M534.6 385V425M527.5 450V492m-2 0h4M286 423h4m-2 0V470m-2 0h4M262.5 444h4m-2 0V477m-2 0h4M333.8 404h4m-2 0V451m-2 0h4M533.7 364h4m-2 0V431M515.9 453V510m-2 0h4M496.2 437V491M265.4 437h4m-2 0V493m-2 0h4M556.3 464V536m-2 0h4M248.5 330h4m-2 0V439m-2 0h4M495.7 437V484M483.1 454V508m-2 0h4M407 452h4m-2 0V493m-2 0h4M241.2 429h4m-2 0V482m-2 0h4M404.8 421h4m-2 0V486m-2 0h4M385.3 446h4m-2 0V506m-2 0h4M483.8 445V484M274.8 445h4m-2 0V502m-2 0h4M417.9 429h4m-2 0V475m-2 0h4M363.3 425h4m-2 0V491m-2 0h4M492.7 441V494M547 453V494m-2 0h4M537.1 376h4m-2 0V414M514.8 437V480M394.7 429h4m-2 0V463m-2 0h4M386.7 445V524m-2 0h4M221.7 433h4m-2 0V476m-2 0h4M241.2 462h4m-2 0V498m-2 0h4M548.8 448V490m-2 0h4M397 455h4m-2 0V518m-2 0h4M345.9 439V473M269.1 507h4m-2 0V547m-2 0h4M385.1 439V489m-2 0h4M289.8 402h4m-2 0V499m-2 0h4M516.6 393h4m-2 0V443M491.7 470V509m-2 0h4M409 497V554m-2 0h4M491.7 454V515m-2 0h4M211.2 511h4m-2 0V550m-2 0h4M241.9 470h4m-2 0V536m-2 0h4M222.8 322h4m-2 0V563M331.6 426h4m-2 0V469m-2 0h4M552.9 434V482m-2 0h4M517.3 432h4m-2 0V474M286.1 467V530m-2 0h4M536.4 439V530m-2 0h4M508.8 466V495m-2 0h4M533.8 417V513m-2 0h4M526.8 436V482M270.3 442h4m-2 0V487m-2 0h4M209.7 424h4m-2 0V478m-2 0h4M531.4 343h4m-2 0V403M266.9 429h4m-2 0V470m-2 0h4M255 417h4m-2 0V495m-2 0h4M354.1 479V529m-2 0h4M246 422h4m-2 0V501m-2 0h4M541.5 421h4m-2 0V484m-2 0h4M263.9 479h4m-2 0V545m-2 0h4M229.9 425h4m-2 0V462m-2 0h4M551.3 481h4m-2 0V506m-2 0h4M515.2 452V502M537.1 370h4m-2 0V418M222.1 444h4m-2 0V506m-2 0h4M214.2 444h4m-2 0V508m-2 0h4M485.2 426h4m-2 0V478M535.3 307V411M518.8 433h4m-2 0V488M492.6 434h4m-2 0V470M202.2 464h4m-2 0V516m-2 0h4M362.2 511h4m-2 0V561m-2 0h4M222.8 433h4m-2 0V482m-2 0h4M555.8 428h4m-2 0V504m-2 0h4M268.8 432h4m-2 0V481m-2 0h4M351.4 435h4m-2 0V492m-2 0h4M534.3 398V444M391.7 428h4m-2 0V494M231.8 546h4m-2 0V563M503.3 453V506m-2 0h4M248.6 429h4m-2 0V467M538.7 382V420M517.8 451V500M376 488h4m-2 0V558m-2 0h4M553.7 437V485m-2 0h4M489.3 365h4m-2 0V463M480 433h4m-2 0V471m-2 0h4M515.6 468V511m-2 0h4M376.4 424h4m-2 0V473M543.9 437h4m-2 0V494m-2 0h4M335.7 440h4m-2 0V484m-2 0h4M234.4 456h4m-2 0V510m-2 0h4M260.2 441h4m-2 0V483m-2 0h4M492 454V509m-2 0h4M476.2 468h4m-2 0V526m-2 0h4M528.1 388h4m-2 0V443M535.4 407V448M346.2 456h4m-2 0V516m-2 0h4M413.4 428h4m-2 0V491m-2 0h4M484 424h4m-2 0V483M556 461V522m-2 0h4M291.6 474h4m-2 0V544m-2 0h4M353.3 448h4m-2 0V512m-2 0h4M560 447V501M522.7 442V492M383.6 467V511m-2 0h4M290.4 433h4m-2 0V494m-2 0h4M475.8 435h4m-2 0V488m-2 0h4M418.2 491h4m-2 0V557m-2 0h4M421.6 429h4m-2 0V475m-2 0h4M511.1 454V499m-2 0h4M552.9 434V476m-2 0h4M337.5 454h4m-2 0V508m-2 0h4M391.7 380h4m-2 0V505m-2 0h4M213.9 438h4m-2 0V487m-2 0h4M278.5 494h4m-2 0V551m-2 0h4M206.4 458h4m-2 0V532m-2 0h4M511 429h4m-2 0V486M290.1 432h4m-2 0V471m-2 0h4M356.2 431h4m-2 0V469m-2 0h4M522.7 437V484M505.8 465V508m-2 0h4M417.2 428h4m-2 0V504m-2 0h4M475.4 471h4m-2 0V526m-2 0h4M528.8 392h4m-2 0V442M533.4 381h4m-2 0V440M423.9 430h4m-2 0V482m-2 0h4M492.4 445V490M278.1 428h4m-2 0V491m-2 0h4M246.4 440h4m-2 0V512m-2 0h4M398.8 476h4m-2 0V535m-2 0h4M406.7 418h4m-2 0V502m-2 0h4M535.5 401V445M484.4 431h4m-2 0V480M534.2 387V437M478.4 450h4m-2 0V520m-2 0h4M469.7 408h4m-2 0V563M237.8 441h4m-2 0V502m-2 0h4M204.2 447h4m-2 0V483m-2 0h4M555.4 429h4m-2 0V477M482.3 453V507m-2 0h4M264.6 442h4m-2 0V494m-2 0h4M218 484h4m-2 0V540m-2 0h4M540.5 419h4m-2 0V474m-2 0h4M503.3 467V521m-2 0h4M342.4 461h4m-2 0V524m-2 0h4M514.3 428h4m-2 0V491M343.5 428h4m-2 0V475M262.4 484h4m-2 0V533m-2 0h4M206 427h4m-2 0V508m-2 0h4M244.5 426h4m-2 0V466M484.5 441V485m-2 0h4M563.5 380h4m-2 0V456m-2 0h4M345.8 429h4m-2 0V474m-2 0h4M555.5 469V526m-2 0h4M364.8 424h4m-2 0V492m-2 0h4M414.2 307V420m-2 0h4M286.1 479V513m-2 0h4M281.6 437V484m-2 0h4M506.6 489V528m-2 0h4M513.6 438h4m-2 0V487M286.1 450V498m-2 0h4M492.6 434h4m-2 0V498M483.7 421h4m-2 0V486m-2 0h4M541.3 326h4m-2 0V439M542 404h4m-2 0V499m-2 0h4M216.1 441h4m-2 0V489m-2 0h4M540.1 334h4m-2 0V528m-2 0h4M358.8 436h4m-2 0V485m-2 0h4M495.4 330h4m-2 0V353m-2 0h4M380.9 405h4m-2 0V468M561.4 424h4m-2 0V475M522.3 453V509m-2 0h4M283.3 416h4m-2 0V495m-2 0h4M398.1 430h4m-2 0V492m-2 0h4M276.3 479h4m-2 0V538m-2 0h4M223.5 426h4m-2 0V484m-2 0h4M525.5 424h4m-2 0V463M540.1 307V439M230.3 425h4m-2 0V491m-2 0h4M266.5 441h4m-2 0V485m-2 0h4M533 381h4m-2 0V443M232.5 468h4m-2 0V530m-2 0h4M540.5 386V416M372.6 428h4m-2 0V490m-2 0h4M562.6 443V501M534.5 338h4m-2 0V404M226.3 459V513m-2 0h4M517.7 361h4m-2 0V526m-2 0h4M259.8 437h4m-2 0V499m-2 0h4M241.9 524h4m-2 0V563m-2 0h4M363.7 512h4m-2 0V563M207.9 452h4m-2 0V514m-2 0h4M332.3 469h4m-2 0V537m-2 0h4M212.8 436h4m-2 0V484m-2 0h4M397.7 432h4m-2 0V485m-2 0h4M563.6 448h4m-2 0V505m-2 0h4M541.2 346h4m-2 0V509m-2 0h4M369.7 417h4m-2 0V478m-2 0h4M207.5 474h4m-2 0V518m-2 0h4M528.9 389h4m-2 0V437M483.8 480V541m-2 0h4M408.7 469V516m-2 0h4M484 436h4m-2 0V483M548.1 440V481M278.2 467V518m-2 0h4M275.1 455h4m-2 0V511m-2 0h4M284.9 434h4m-2 0V489M473.6 457h4m-2 0V504m-2 0h4M215 458h4m-2 0V504m-2 0h4M537.6 348V394M557.1 457V525m-2 0h4M392.5 444h4m-2 0V498m-2 0h4M199.7 420h4m-2 0V495m-2 0h4M494.1 432h4m-2 0V471M511.1 440V507m-2 0h4M240 439h4m-2 0V484m-2 0h4M362.2 427h4m-2 0V477m-2 0h4M423.9 528h4m-2 0V563M390.2 466h4m-2 0V528m-2 0h4M210.1 409h4m-2 0V471m-2 0h4M499.5 456V495M555.6 466V523m-2 0h4M528.5 414h4m-2 0V505m-2 0h4M533.7 363h4m-2 0V403M357 443h4m-2 0V536m-2 0h4M495 444V488M546.1 435h4m-2 0V504m-2 0h4M237 436h4m-2 0V477m-2 0h4M369.7 457h4m-2 0V541m-2 0h4M216.5 451h4m-2 0V525m-2 0h4M531.3 349h4m-2 0V414M536.3 352h4m-2 0V453m-2 0h4M218.3 413h4m-2 0V460m-2 0h4M518.2 440V481M496.1 472V527m-2 0h4M540.6 414V451m-2 0h4M370.8 488h4m-2 0V554m-2 0h4M527.5 440V482M378.2 422h4m-2 0V478m-2 0h4M537.1 441V511m-2 0h4M510.6 353h4m-2 0V563M268.8 437h4m-2 0V482m-2 0h4M515.2 479V526m-2 0h4M281.9 422h4m-2 0V489m-2 0h4M405 307V441m-2 0h4M562.9 429h4m-2 0V470m-2 0h4M478.4 445h4m-2 0V493M286.7 430h4m-2 0V497m-2 0h4M426.1 421h4m-2 0V493m-2 0h4M517.7 431h4m-2 0V496M505.3 428h4m-2 0V476M404.9 324h4m-2 0V444m-2 0h4M263.9 508h4m-2 0V553m-2 0h4M542.3 425h4m-2 0V468M274 414h4m-2 0V510m-2 0h4M393.6 420h4m-2 0V475m-2 0h4M385.7 480h4m-2 0V536m-2 0h4M556.3 453V495M554.3 427h4m-2 0V478M487.2 447V485m-2 0h4M209 483h4m-2 0V523m-2 0h4M547.3 472V523m-2 0h4M394.4 473h4m-2 0V541m-2 0h4M537.6 346h4m-2 0V418M494.6 438V516m-2 0h4M341.7 428h4m-2 0V478m-2 0h4M385.4 481h4m-2 0V518m-2 0h4M217.6 412h4m-2 0V470m-2 0h4M410.8 331h4m-2 0V554m-2 0h4M397.3 443h4m-2 0V519m-2 0h4M474 441h4m-2 0V493m-2 0h4M556.3 451V525m-2 0h4M494.2 479V531m-2 0h4M223.6 366h4m-2 0V563M526.3 413h4m-2 0V478m-2 0h4M537.1 367h4m-2 0V417M564 430h4m-2 0V495m-2 0h4M558.2 437V492M549.9 458V497m-2 0h4M546.9 360h4m-2 0V492m-2 0h4M533.7 377h4m-2 0V416M493.7 334h4m-2 0V433m-2 0h4M382.4 434h4m-2 0V482m-2 0h4M215.8 432h4m-2 0V512m-2 0h4M275.9 461h4m-2 0V540m-2 0h4M347.3 433h4m-2 0V489m-2 0h4M413.1 487h4m-2 0V540m-2 0h4M419 415h4m-2 0V475m-2 0h4M545.9 443V492m-2 0h4M538.2 333h4m-2 0V446m-2 0h4M388 483h4m-2 0V539m-2 0h4M352.5 307V410m-2 0h4M285 476V524m-2 0h4M344.3 410h4m-2 0V507m-2 0h4M473.6 458h4m-2 0V511m-2 0h4M522.7 443V480M287.5 431h4m-2 0V483m-2 0h4M207.9 462h4m-2 0V518m-2 0h4M364.1 307V360m-2 0h4M276.2 354h4m-2 0V563M531.7 421V509m-2 0h4M425.7 424h4m-2 0V475m-2 0h4M334.2 437h4m-2 0V487m-2 0h4M545.4 441V501m-2 0h4M490.9 440V512m-2 0h4M369.3 453h4m-2 0V502m-2 0h4M563.4 437V489M240.4 439h4m-2 0V479m-2 0h4M552 469h4m-2 0V520m-2 0h4M404.8 529h4m-2 0V563M218 489h4m-2 0V553m-2 0h4M552 481h4m-2 0V528m-2 0h4M503.8 440h4m-2 0V504m-2 0h4M500.6 454V510m-2 0h4M535.9 443V519m-2 0h4M563.3 470h4m-2 0V511m-2 0h4M423.1 474h4m-2 0V532m-2 0h4M198.5 422h4m-2 0V467m-2 0h4M522.7 451V489M559.1 357h4m-2 0V400m-2 0h4M545.7 315h4m-2 0V362m-2 0h4M251.6 458h4m-2 0V491m-2 0h4M217.2 487h4m-2 0V539m-2 0h4M209 511h4m-2 0V563M540.4 307V489m-2 0h4M360 435h4m-2 0V470m-2 0h4M198.5 444h4m-2 0V483m-2 0h4M401.8 486h4m-2 0V529m-2 0h4M467.7 403h4m-2 0V525m-2 0h4M385.7 425h4m-2 0V482m-2 0h4M352.1 397h4m-2 0V530m-2 0h4M423.9 464h4m-2 0V516m-2 0h4M247.9 422h4m-2 0V484M497.6 448V499M349.9 509h4m-2 0V555m-2 0h4M231.8 473h4m-2 0V513m-2 0h4M509.5 430h4m-2 0V486M262.1 433h4m-2 0V484m-2 0h4M209.4 483h4m-2 0V536m-2 0h4M559.9 427h4m-2 0V468M502.5 442V495M239.6 440h4m-2 0V505m-2 0h4M516.3 311h4m-2 0V389m-2 0h4M530.4 377h4m-2 0V437M337.5 420h4m-2 0V466m-2 0h4M466.9 443h4m-2 0V563M515.6 440V487M372.6 435h4m-2 0V490m-2 0h4M504.6 369h4m-2 0V428m-2 0h4M365.6 494h4m-2 0V537m-2 0h4M527.8 415h4m-2 0V456m-2 0h4M559.2 463V521m-2 0h4M349.5 501h4m-2 0V556m-2 0h4M527.8 430V468M253.2 466V524m-2 0h4M489.4 474V535m-2 0h4M398.1 426h4m-2 0V479m-2 0h4M556.2 430h4m-2 0V489M559.2 435h4m-2 0V490M423.1 478h4m-2 0V533m-2 0h4M400 433h4m-2 0V512m-2 0h4M531.1 379h4m-2 0V441M518.2 458V508m-2 0h4M554.4 441V516m-2 0h4M255.3 422h4m-2 0V486m-2 0h4M241.9 454h4m-2 0V519m-2 0h4M378.2 432h4m-2 0V474m-2 0h4M532.1 307V410M524.7 350h4m-2 0V456M416 424h4m-2 0V494m-2 0h4M400 431h4m-2 0V493m-2 0h4M509.9 458V506m-2 0h4M331.9 519h4m-2 0V562m-2 0h4M268.4 419h4m-2 0V459m-2 0h4M252.4 440h4m-2 0V492m-2 0h4M563.4 459V509m-2 0h4M394 491h4m-2 0V532m-2 0h4M337.9 484h4m-2 0V536m-2 0h4M518.5 448V520m-2 0h4M527.5 432V488M534.6 406V449M286.7 459h4m-2 0V506m-2 0h4M525.6 453V491M539.6 429V497m-2 0h4M380.5 443h4m-2 0V480m-2 0h4M199.7 457h4m-2 0V506m-2 0h4M491.7 443V490M503.3 448V495M401.1 436h4m-2 0V495m-2 0h4M371.2 475h4m-2 0V542m-2 0h4M529.2 383h4m-2 0V440M235.2 440h4m-2 0V483m-2 0h4M350.6 456h4m-2 0V523m-2 0h4M363.3 411h4m-2 0V461m-2 0h4M497.9 429h4m-2 0V488M519.3 452V491M354.3 430h4m-2 0V479M210.1 432h4m-2 0V470m-2 0h4M515 436h4m-2 0V486M262.5 496h4m-2 0V549m-2 0h4M274.4 441h4m-2 0V497m-2 0h4M531.4 334h4m-2 0V452M287.9 432h4m-2 0V483m-2 0h4M557.4 446V512m-2 0h4M524.9 445V498m-2 0h4M510.4 473V528m-2 0h4M424.2 433h4m-2 0V485m-2 0h4M340.2 489h4m-2 0V551m-2 0h4M359.7 476V515m-2 0h4M361.5 445h4m-2 0V489m-2 0h4M247.1 419h4m-2 0V462m-2 0h4M247.1 367h4m-2 0V563M351 492h4m-2 0V555m-2 0h4M258.5 308h4m-2 0V414m-2 0h4M547.9 377h4m-2 0V528m-2 0h4M349.9 459h4m-2 0V500m-2 0h4M386.9 341h4m-2 0V546m-2 0h4M484.2 368h4m-2 0V466M353.4 307V356m-2 0h4M561.9 455V502M539.4 403h4m-2 0V448m-2 0h4M498.7 454V491M526.6 379h4m-2 0V522m-2 0h4M514.4 345h4m-2 0V488M496 429h4m-2 0V478M555.4 417h4m-2 0V474M243.7 437h4m-2 0V486m-2 0h4M209 428h4m-2 0V481m-2 0h4M514.5 342h4m-2 0V390m-2 0h4M393.6 465h4m-2 0V507m-2 0h4M541.1 327h4m-2 0V446M380.9 416h4m-2 0V474m-2 0h4M497.9 431h4m-2 0V485M206 512h4m-2 0V563M511 434h4m-2 0V487M410.6 482V534m-2 0h4M227.7 419h4m-2 0V465M498.7 467V507m-2 0h4M337.5 484h4m-2 0V529m-2 0h4M562.3 436V491M225.8 378h4m-2 0V533m-2 0h4M504.2 329h4m-2 0V398m-2 0h4M419 427h4m-2 0V500m-2 0h4M510.2 427h4m-2 0V483M540.9 386V449m-2 0h4M408.2 424h4m-2 0V468M560.8 441V481M490.2 440V495m-2 0h4M392.8 505h4m-2 0V560m-2 0h4M521.8 430h4m-2 0V556m-2 0h4M341.5 348h4m-2 0V412m-2 0h4M281.5 436h4m-2 0V487m-2 0h4M281.5 434h4m-2 0V502m-2 0h4M563.6 443h4m-2 0V477m-2 0h4M540.5 415h4m-2 0V473m-2 0h4M394.4 444h4m-2 0V475m-2 0h4M493.9 459V506m-2 0h4M236.3 495h4m-2 0V550m-2 0h4M491.3 452V497M270.6 424h4m-2 0V489m-2 0h4M473.9 426h4m-2 0V505m-2 0h4M540.2 384V421M252.1 482V531m-2 0h4M499.1 448V491M520.8 457V511m-2 0h4M501 448V491M467 435h4m-2 0V525m-2 0h4M367 423h4m-2 0V476m-2 0h4M204.2 430h4m-2 0V459m-2 0h4M286.9 445V506m-2 0h4M405.4 307V467m-2 0h4M494.9 328h4m-2 0V416m-2 0h4M367.8 433h4m-2 0V480m-2 0h4M374.5 438h4m-2 0V492m-2 0h4M221.3 436h4m-2 0V512m-2 0h4M257.6 431h4m-2 0V482m-2 0h4M527.7 320h4m-2 0V390m-2 0h4M274 420h4m-2 0V482m-2 0h4M382.1 449V509m-2 0h4M547.9 396h4m-2 0V518m-2 0h4M246 441h4m-2 0V513m-2 0h4M244.5 431h4m-2 0V471M535.3 339h4m-2 0V454m-2 0h4M554.3 430h4m-2 0V478M490 432h4m-2 0V496M289.4 436h4m-2 0V486m-2 0h4M495.3 341h4m-2 0V388m-2 0h4M234.4 425h4m-2 0V489m-2 0h4M373 435h4m-2 0V496m-2 0h4M279.2 493h4m-2 0V536m-2 0h4M403 433h4m-2 0V481m-2 0h4M200.1 422h4m-2 0V466M207.5 433h4m-2 0V484m-2 0h4M391 417h4m-2 0V495m-2 0h4M370.8 437h4m-2 0V487m-2 0h4M238.1 453h4m-2 0V537m-2 0h4M363.3 447h4m-2 0V490m-2 0h4M333.8 431h4m-2 0V504m-2 0h4M553.3 443V478m-2 0h4M510.2 426h4m-2 0V495m-2 0h4M498.7 448V508m-2 0h4M279.2 420h4m-2 0V468M559.2 411h4m-2 0V511m-2 0h4M262.5 463h4m-2 0V518m-2 0h4M365.7 307V392m-2 0h4M526.8 450V498m-2 0h4M234.8 471h4m-2 0V530m-2 0h4M388.4 443h4m-2 0V484m-2 0h4M336.8 425h4m-2 0V487m-2 0h4M549.5 388h4m-2 0V460M544 438V483m-2 0h4M384.3 523h4m-2 0V563M481 347h4m-2 0V423m-2 0h4M533.2 307V393M487.2 436V488m-2 0h4M374.9 307V426m-2 0h4M407.8 431h4m-2 0V477" stroke="#ff0000" stroke-width="1.2" fill="none"/>
<path d="M324.5 100h0M244 184h0M322.2 175h0M158.5 177h0M153.1 166h0M304.6 119h0M352.8 192h0M297.8 146h0M338.1 180h0M290 160h0M165.3 186h0M385.4 183h0M137.4 175h0M193.4 212h0M162.1 187h0M282.2 200h0M186.7 170h0M141.8 167h0M293.4 186h0M365.2 172h0M255.1 159h0M247.3 175h0M382 169h0M349.4 163h0M255.1 165h0M397.7 201h0M367.6 196h0M159.6 92h0M265.4 190h0M251.9 171h0M395.4 163h0M336.1 133h0M290 156h0M180.4 94h0M396.6 155h0M347.2 195h0M361.8 165h0M239.4 144h0M191.2 171h0M285.5 159h0M380.9 207h0M305.8 109h0M299.8 132h0M249.6 164h0M186.8 167h0M231.7 167h0M380 62h0M230.5 64h0M146.3 174h0M293.3 73h0M259.8 176h0M257.6 168h0M276.5 184h0M322.6 116h0M385.4 172h0M343.8 191h0M319.2 70h0M278.8 211h0M159.9 163h0M205.8 188h0M180 160h0M337.2 202h0M408.7 121h0M311.3 54h0M312.4 112h0M160.9 191h0M332.6 123h0M194.5 170h0M369.7 166h0M301.4 46h0M323.9 24h0M394.5 200h0M360.7 164h0M229.4 172h0M162.1 198h0M187.9 174h0M252 197h0M139.7 175h0M333.7 124h0M304.6 124h0M219.3 169h0M406.8 183h0M278.8 174h0M232.7 172h0M199.1 158h0M407.4 125h0M401.1 177h0M287.7 191h0M297.8 177h0M320 191h0M186.8 181h0M265.4 173h0M360.7 160h0M329.6 99h0M205.8 176h0M117.5 187h0M151.9 176h0M186.8 171h0M401.1 157h0M257.6 196h0M251.9 197h0M268.7 160h0M264.4 99h0M139.7 175h0M382.1 198h0M316.2 68h0M206.9 200h0M340.6 165h0M342.8 164h0M210.3 166h0M224.9 176h0M165.3 163h0M265.4 167h0M187.9 167h0M290 182h0M198.4 41h0M360.7 164h0M139.7 173h0M281.1 166h0M281.1 230h0M337.3 144h0M206.8 201h0M178.9 178h0M199.1 186h0M392.2 186h0M379.8 195h0M308.9 129h0M293.4 178h0M341.3 81h0M286.7 172h0M184.5 190h0M331.5 129h0M193.4 175h0M327 33h0M302.4 53h0M176.6 178h0M310.2 118h0M329.4 71h0M295.5 172h0M332.6 121h0M365.2 166h0M167.6 177h0M155.3 175h0M249.6 195h0M407.9 196h0M187.9 206h0M254 160h0M203.6 202h0M142.9 157h0M382.3 123h0M317 132h0M330.5 149h0M324.9 97h0M273.2 168h0M241.9 163h0M206.8 194h0M322.5 97h0M265.5 165h0M391.1 181h0M256.4 189h0M217 166h0M258.6 189h0M220.5 192h0M268.7 166h0M329.3 21h0M400.1 164h0M223.7 162h0M278.8 168h0M344.9 162h0M193.4 224h0M268.7 178h0M159.8 188h0M301.2 124h0M297.8 152h0M117.4 219h0M325.8 136h0M403.4 182h0M157.5 187h0M263.1 165h0M285.5 179h0M245.2 164h0M184.5 168h0M248.5 171h0M196.8 174h0M201.5 53h0M276.5 187h0M233.3 79h0M229.3 160h0M373 196h0M268.7 205h0M403.3 201h0M332.5 108h0M400 166h0M257.6 170h0M195.7 183h0M370.9 167h0M216 204h0M138.5 174h0M375.4 189h0M274.3 155h0M167.6 162h0M382 166h0M318 91h0M164.3 171h0M322.1 183h0M276.5 157h0M288.8 168h0M258.6 161h0M176.6 182h0M228.2 194h0M187.9 166h0M265.5 171h0M305.8 119h0M277.5 171h0M198 212h0M203.6 181h0M140.7 217h0M299.8 113h0M167.7 146h0M267.6 164h0M285.5 172h0M301.1 132h0M239.6 172h0M140.7 168h0M314.4 183h0M256.3 184h0M195.6 173h0M364.7 215h0M205.8 174h0M341.5 154h0M249.6 170h0M199.1 190h0M195.7 189h0M384.3 170h0M232.7 178h0M258.6 179h0M352.8 205h0M396.6 160h0M200.1 155h0M299.7 106h0M138.7 101h0M237.2 175h0M169.2 50h0M387.6 190h0M209.3 190h0M396.6 186h0M278.8 174h0M314 69h0M257.6 168h0M267.6 158h0M220.5 170h0M337.2 138h0M238.3 172h0M338.4 151h0M391.1 185h0M348.5 158h0M192.5 184h0M262.4 110h0M192.4 178h0M165.4 168h0M216 184h0M219.3 167h0M223.7 179h0M267.6 197h0M255.1 196h0M401.2 193h0M312.4 133h0M300.1 130h0M195.6 188h0M172.1 154h0M403.4 172h0M377.6 202h0M184.5 168h0M379.8 207h0M190.1 165h0M370.9 201h0M344.9 154h0M226.1 190h0M205.7 166h0M408 210h0M219.3 178h0M291.1 181h0M357.4 172h0M321.3 173h0M378.7 162h0M407 122h0M199.1 207h0M269.8 150h0M312.4 120h0M183.3 188h0M379.8 209h0M224.9 160h0M355.1 168h0M260 123h0M310.2 127h0M267.6 165h0M260.7 173h0M259.8 165h0M187.9 206h0M217 171h0M254.1 169h0M339.4 189h0M139.7 158h0M381.9 185h0M257.5 157h0M338.4 141h0M300.4 118h0M396.6 157h0M239.6 165h0M214.8 227h0M291.3 74h0M316.9 120h0M191.2 197h0M369.7 203h0M394.5 168h0M323.1 185h0M154.1 169h0M276.5 158h0M331.5 118h0M385.4 212h0M351.1 200h0M163.1 166h0M406.8 188h0M208 193h0M284.5 169h0M181.2 193h0M155.3 188h0M240.5 189h0M200.2 167h0M273.2 168h0M130.6 146h0M264.1 176h0M387.6 185h0M375.3 134h0M144.1 169h0M261.8 168h0M292.3 163h0M405.7 157h0M265.5 183h0M398.8 179h0M332.1 73h0M303.4 127h0M263.1 205h0M310.2 178h0M400.1 171h0M220.5 187h0M244.1 166h0M371.9 166h0M292.2 194h0M280 170h0M257.6 171h0M322.8 90h0M375.5 172h0M169.9 161h0M309.6 165h0M239.6 166h0M184.5 161h0M403 104h0M328.1 101h0M144.7 150h0M212.6 196h0M249.6 170h0M240.5 204h0M333.7 136h0M373 188h0M343.9 140h0M209.3 185h0M401.1 170h0M384.2 173h0M313.6 128h0M244.1 191h0M184.5 200h0M191.2 203h0M280 198h0M226 193h0M244.1 176h0M268.7 169h0M343.8 154h0M398.8 175h0M353.2 131h0M254.1 122h0M167.6 161h0M175.4 162h0M280 201h0M327.9 100h0M183.2 183h0M177.8 175h0M396.6 187h0M324.8 90h0M181.2 171h0M168.7 223h0M331.1 63h0M266.4 178h0M353.8 134h0M256.4 202h0M323.7 96h0M194.5 199h0M167.6 158h0M203 49h0M401.2 165h0M300.1 160h0M162.2 217h0M151.9 192h0M264.1 183h0M361.9 196h0M351.8 164h0M339.4 146h0M121.3 151h0M245.2 165h0M300.1 149h0M409.1 168h0M325.3 37h0M259.8 173h0M184.7 121h0M364.1 164h0M303.4 120h0M260.4 73h0M317 117h0M142.8 205h0M403.3 174h0M121.9 156h0M255.1 178h0M260.7 207h0M324.3 46h0M311.1 100h0M209.3 191h0M201.4 192h0M328.1 101h0M323 71h0M278.8 168h0M187.9 192h0M335 133h0M328.2 66h0M332.6 140h0M343.8 158h0M356.1 206h0M300.1 161h0M261.8 166h0M369.7 187h0M331.5 110h0M293.4 150h0M141.8 164h0M139.7 176h0M144.1 170h0M129 135h0M310.2 113h0M194.5 184h0M301.1 122h0M337.2 144h0M184.5 182h0M307.9 118h0M396.6 158h0M329.2 112h0M200.1 165h0M356.1 193h0M259.8 166h0M314.1 189h0M390 173h0M178.9 197h0M331.5 117h0M216.9 173h0M213.6 170h0M204.7 166h0M257.6 170h0M261.8 191h0M230.4 181h0M380 64h0M120 191h0M365.4 131h0M157.5 191h0M331.5 128h0M394.4 86h0M360.7 185h0M357.5 133h0M384.3 170h0M241.8 208h0M158.6 164h0M287.7 179h0M311 119h0M190.1 178h0M295.5 159h0M171.1 209h0M145.2 204h0M259.8 183h0M274.3 178h0M231.6 161h0M406.8 162h0M237.2 147h0M375.5 157h0M342.5 197h0M214.9 186h0M328.2 82h0M296.7 157h0M351.8 157h0M241.9 197h0M274.3 169h0M407.9 167h0M319.9 33h0M337.3 156h0M144.1 192h0M259.1 113h0M347.2 183h0M387.7 164h0M352.3 44h0M346 158h0M170.5 56h0M384.3 178h0M138.5 195h0M297.8 167h0M357.4 176h0M178.9 191h0M201.6 108h0M153.1 193h0M365.9 117h0M286.6 162h0M210.3 165h0M138.5 207h0M210.3 166h0M286.7 206h0M241.9 193h0M300.4 40h0M209.3 180h0M343.8 154h0M375.4 171h0M403.3 191h0M218.2 175h0M297.8 153h0M230.6 106h0M181.2 221h0M304.6 148h0M278.8 182h0M368.6 170h0M149.6 165h0M205.7 170h0M223.8 158h0M373 201h0M151.9 199h0M370.9 159h0M183.3 176h0M342.8 155h0M317.3 131h0M391.1 225h0M347.2 178h0M378.7 162h0M273.2 191h0M328.1 112h0M199.3 35h0M230.4 216h0M371.9 205h0M181.2 167h0M318 84h0M391.1 165h0M305.8 130h0M326.1 194h0M256.3 151h0M174.4 184h0M307.9 120h0M119.8 171h0M361.7 185h0M295.5 178h0M184.4 166h0M263.1 171h0M185.7 182h0M325.6 29h0M258.6 162h0M146.3 193h0M266.7 125h0M409.1 145h0M295.6 185h0M192.4 175h0M139.7 181h0M355.1 174h0M239.6 186h0M322.5 126h0M155.3 213h0M192.5 190h0M383.2 160h0M313.6 128h0M181.2 191h0M195.7 191h0M327.8 204h0M158.6 182h0M211.5 160h0M398.8 190h0M169.9 163h0M292.3 203h0M379.8 161h0M209.3 165h0M312.4 152h0M393.4 173h0M402.5 39h0M266.3 164h0M387.7 157h0M379.8 181h0M204.7 181h0M403.4 174h0M251.9 176h0M403.3 171h0M184.5 160h0M383.1 186h0M357.4 183h0M199.4 104h0M386.5 209h0M234 127h0M374.2 186h0M379.7 165h0M292.7 71h0M391.1 163h0M200.6 52h0M193.4 166h0M247.3 178h0M214.8 182h0M409.1 180h0M353.3 59h0M351.7 163h0M290.8 110h0M290.2 60h0M266.4 191h0M282.1 186h0M142.9 167h0M292.3 163h0M341.5 155h0M310.3 53h0M351.8 164h0M386.5 212h0M324.9 136h0M333.8 117h0M327.9 61h0M249.6 169h0M355.1 202h0M157.5 208h0M204.7 169h0M308 90h0M314.7 135h0M284.5 164h0M259.8 218h0M304.6 128h0M406.8 197h0M211.5 162h0M167.7 166h0M182.2 183h0M169.9 169h0M334.9 128h0M229.4 174h0M401.2 152h0M312.4 126h0M268.6 160h0M300.2 143h0M212.6 157h0M342.4 207h0M310.1 109h0M369.7 170h0M335 126h0M239.6 189h0M228.2 196h0M185.7 176h0M216.9 170h0M237.3 200h0M202.5 164h0M281.1 170h0M261.8 171h0M394.5 167h0M313.6 119h0M222.5 184h0M178.9 180h0M384.2 168h0M325 165h0M229.3 173h0M338.5 154h0M144.1 145h0M396.6 164h0M318 104h0M355.8 83h0M282.2 197h0M324 199h0M400.1 166h0M295.6 153h0M245.2 184h0M224.9 166h0M293.4 202h0M329.9 75h0M383.2 153h0M385.4 175h0M175.5 202h0M190.1 170h0M145.9 97h0M374.1 219h0M322.5 107h0M317.4 130h0M301.2 133h0M249.6 166h0M191.2 168h0M299.4 84h0M218.2 182h0M138.4 161h0M168.7 166h0M368.6 178h0M299 149h0M307.9 145h0M371.9 168h0M287.7 218h0M188.9 192h0M140.7 180h0M311.2 80h0M310.2 117h0M402.4 190h0M248.4 175h0M229.4 183h0M365.2 182h0M285.5 211h0M139.7 194h0M323.3 198h0M197.9 167h0M356.1 186h0M385.4 187h0M274.3 175h0M357.3 171h0M156.6 159h0M323.7 98h0M380.9 200h0M185.7 210h0M346 163h0M323.7 82h0M261.8 87h0M195.7 175h0M240.4 188h0M396.8 135h0M154.1 170h0M363 220h0M264 177h0M293.4 168h0M340.3 134h0M373 172h0M292.8 38h0M320.3 97h0M213.6 211h0M194.5 174h0M299.8 62h0M299 167h0M256.3 210h0M251.9 186h0M348.5 175h0M228.2 170h0M307 193h0M187.9 204h0M290 163h0M172.1 159h0M159.9 168h0M278.8 184h0M264 190h0M194.5 159h0M161 160h0M247.3 162h0M330.5 108h0M402.3 201h0M320.2 118h0M237.2 177h0M196.8 175h0M261.8 187h0M312.4 104h0M300.2 165h0M380.4 196h0M285.5 199h0M329.2 102h0M229.2 71h0M391.1 213h0M277.5 189h0M267.6 183h0M383.2 167h0M237.2 175h0M204.7 161h0M409 156h0M355.1 165h0M223.8 167h0M406.8 166h0M218.2 171h0M401.1 189h0M201.5 79h0M381.9 167h0M369.7 161h0M204.8 209h0M248.5 167h0M331.5 96h0M329.7 170h0M178.9 149h0M341.5 154h0M400.8 88h0M197.9 91h0M125.6 200h0M315.8 110h0M409.1 151h0M144.1 165h0M248.5 199h0M263.1 175h0M265.6 57h0M254 178h0M241.8 169h0M300.1 172h0M395.5 170h0M355.2 84h0M360.7 205h0M346 198h0M313.6 147h0M145.2 165h0M340.9 90h0M393.4 169h0M328.2 102h0M297.8 155h0M402.3 44h0M259.8 188h0M171.1 191h0M201.4 201h0M398.7 107h0M342 115h0M259.3 127h0M292.5 48h0M269.7 201h0M164.4 158h0M169.9 167h0M328.2 206h0M212.6 165h0M324.9 98h0M141.8 174h0M163.1 172h0M218.2 178h0M357.4 167h0M398.8 180h0M323.7 135h0M396.6 212h0M216.9 154h0M351.7 163h0M199.1 180h0M237.2 187h0M293.4 167h0M232.1 67h0M407.9 183h0M154.6 143h0M197.9 169h0M330.5 120h0M145.2 204h0M269.8 171h0M178.9 166h0M287.7 169h0M375.4 189h0M281.1 165h0M328.1 123h0M270.9 167h0M373 179h0M211.5 161h0M156.6 156h0M293.4 162h0M404.5 77h0M232.7 171h0M344.5 196h0M315.8 119h0M316.9 134h0M372.9 87h0M365 59h0M231.6 205h0M401.1 173h0M126 188h0M407.9 176h0M153.1 166h0M273.2 170h0M339.4 168h0M248.5 165h0M392.2 186h0M312.4 172h0M285.5 175h0M407.9 116h0M384.2 177h0M198 172h0M251.9 173h0M328.9 41h0M276.5 179h0M323.6 78h0M327 138h0M193.4 165h0M351.8 180h0M387.7 171h0M181.2 195h0M302.8 196h0M369.7 162h0M321.1 76h0M317 118h0M337.2 132h0M387.7 160h0M392.1 176h0M244.1 181h0M310 42h0M387.6 206h0M263.8 36h0M336.2 145h0M331.8 94h0M267.6 175h0M162.2 171h0M177.7 178h0M323.1 109h0M158.6 167h0M318 120h0M409 168h0M409.1 170h0M264.1 201h0M360.7 185h0M191.2 174h0M355.1 176h0M250.7 201h0M385.4 168h0M263.1 194h0M332.6 140h0M254.1 167h0M324.9 97h0M202.5 186h0M341.5 191h0M286.7 166h0M188.9 175h0M269.7 155h0M409.1 181h0M320.2 103h0M209.9 113h0M301.9 92h0M331.5 131h0M346.1 145h0M395.5 171h0M378.7 185h0M285.5 177h0M196.8 200h0M137.4 191h0M149.6 180h0M370.9 172h0M199.1 170h0M310.6 89h0M159.8 173h0M263.1 173h0M315.8 107h0M291.1 166h0M265.4 168h0M316.7 53h0M202.5 162h0M181.2 175h0M373.1 191h0M292.3 182h0M212.6 174h0M375.4 169h0M319.8 105h0M213.6 173h0M202.5 186h0M211.5 164h0M316.9 107h0M391.1 169h0M245.2 182h0M261.8 176h0M126.9 201h0M322.6 103h0M139.7 179h0M185.7 173h0M307 58h0M304.5 137h0M358.9 195h0M157.6 210h0M314.7 98h0M230.2 119h0M265.4 172h0M356.1 180h0M196.9 173h0M172.1 173h0M323 203h0M224.8 183h0M239.6 171h0M168.7 154h0M293.4 160h0M213.6 175h0M185.7 196h0M357.4 174h0M278.7 149h0M142.9 176h0M237.2 151h0M154.1 199h0M160.9 213h0M185.7 170h0M303.4 108h0M324.8 95h0M394.5 196h0M138.5 173h0M191.2 167h0M203.6 191h0M335 132h0M247.3 168h0M185.7 175h0M365.2 214h0M145.2 173h0M237.2 173h0M333.7 151h0M324.9 103h0M316.8 85h0M379.7 158h0M323.6 103h0M333.7 124h0M357.3 176h0M139.7 176h0M391.1 174h0M202.5 193h0M352.9 48h0M228.2 179h0M220.5 201h0M247.2 179h0M172.1 173h0M333.7 126h0M256.3 173h0M314.6 112h0M402.3 163h0M249.6 167h0M378.7 182h0M314.6 111h0M394.5 170h0M290 166h0M390 158h0M388.5 199h0M233.9 165h0M397.7 171h0M397.7 171h0M308.8 99h0M328.2 99h0M121.3 214h0M140.7 206h0M192.5 180h0M308 120h0M379.8 160h0M294.3 164h0M247.3 188h0M290 173h0M175.4 148h0M248.5 196h0M269.7 168h0M229.4 158h0M263.1 153h0M380.9 59h0M374.2 208h0M382 183h0M240.5 186h0M187.9 195h0M144.1 169h0M314.7 100h0M187.9 165h0M194.5 175h0M318 105h0M235 182h0M367.5 210h0M320.4 78h0M162.1 171h0M281.1 195h0M290.7 130h0M196.8 169h0M203.6 165h0M140.7 178h0M160.9 172h0M341.5 159h0M277.5 172h0M139.7 170h0M347.2 173h0M282.2 169h0M373 212h0M382 181h0M356.1 158h0M137.4 188h0M201.2 59h0M156.6 156h0M184.5 194h0M233.9 162h0M141.8 172h0M244.1 174h0M315.8 119h0M169.4 124h0M377.6 168h0M299 140h0M280 167h0M245.2 166h0M230.7 72h0M184.5 200h0M224.8 194h0M174.4 172h0M193.4 184h0M156.6 163h0M138.5 158h0M186.8 230h0M379 199h0M161 187h0M209.3 183h0M282.1 153h0M186.8 189h0M342.8 160h0M191.2 179h0M317 94h0M214.8 180h0M177.7 177h0M378.7 150h0M176.6 184h0M177.8 171h0M172.1 163h0M376.4 158h0M326.4 80h0M176.6 172h0M199.1 180h0M204.7 166h0M201.4 38h0M159.9 186h0M255.1 164h0M223.8 212h0M245.2 157h0M312.4 120h0M168.7 164h0M172.1 169h0M248.5 163h0M264.5 60h0M369.7 159h0M168.7 161h0M375.5 160h0M234.9 211h0M296.6 172h0M218.2 176h0M240.5 219h0M293.4 188h0M230.4 185h0M199.1 171h0M401.1 191h0M375.5 233h0M342.8 167h0M304.5 117h0M340 190h0M190 190h0M331.6 98h0M221.5 181h0M361.9 189h0M320.2 102h0M318.4 188h0M157.6 154h0M318 111h0M327.2 84h0M206.9 185h0M155.3 207h0M157.5 187h0M342.8 180h0M265.8 65h0M391.1 169h0M261.8 168h0M286.7 181h0M409.1 158h0M371.9 168h0M257.5 199h0M351.7 176h0M252 178h0M248.5 168h0M400 171h0M292.3 185h0M309.4 104h0M342.6 189h0M333.7 151h0M153.1 171h0M334.8 92h0M395.5 159h0M371.9 147h0M162.1 159h0M353.8 46h0M211.5 165h0M401.2 152h0M181.2 158h0M245.5 151h0M300.1 173h0M371.9 147h0M390 161h0M393.4 168h0M357.3 109h0M320.2 96h0M156.6 169h0M379.8 168h0M192.4 178h0M155.3 167h0M355.1 198h0M295.6 166h0M270.9 209h0M276.5 194h0M195.7 208h0M254.1 166h0M127.9 136h0M367 147h0M153.2 158h0M202.5 71h0M282.1 167h0M192.4 167h0M206.9 193h0M255.1 193h0M351.8 165h0M278.8 161h0M229.4 172h0M259.8 167h0M310.2 117h0M168.7 174h0M328.1 29h0M119 174h0M263.2 163h0M376.4 193h0M216.9 173h0M297.8 151h0M254.1 169h0M285.5 175h0M213.7 203h0M302.3 167h0M300.1 172h0M121.7 136h0M224.8 158h0M191.2 175h0M256.3 165h0M395.5 187h0M181.2 206h0M340.3 93h0M248.5 213h0M157.5 163h0M323.9 82h0M255.1 171h0M373 185h0M329.7 89h0M409.1 149h0M315.6 175h0M252.1 100h0M377.6 205h0M224.8 160h0M163.1 209h0M202.6 121h0M168.7 162h0M391 171h0M209.3 162h0M351.8 201h0M407.9 161h0M392.2 190h0M385.4 167h0M303.4 124h0M155.3 164h0M248.5 163h0M305.8 172h0M238.3 178h0M329.2 113h0M302.3 139h0M313.6 116h0M117.9 169h0M316.9 127h0M364.1 219h0M205.8 170h0M137.4 205h0M200.1 174h0M277.6 188h0M261.6 44h0M306.7 144h0M312.3 119h0M281.1 184h0M238.3 174h0M364.2 96h0M320.1 191h0M348.5 173h0M201.5 38h0M328.2 99h0M367.5 161h0M250.7 181h0M230.9 55h0M159.9 174h0M194.5 209h0M369.7 177h0M330.5 110h0M375 188h0M331.9 44h0M306.7 126h0M178.9 211h0M352.9 112h0M232.7 159h0M294.3 156h0M172.1 170h0M220.5 178h0M213.6 177h0M212.6 189h0M140.7 200h0M183.2 168h0M342.8 159h0M299 150h0M363 169h0M146.3 222h0M305.8 136h0M249.6 177h0M317.9 118h0M198 189h0M333.8 137h0M291.1 168h0M248.4 168h0M258.3 41h0M303.4 146h0M233.1 123h0M336.2 192h0M291.1 175h0M140.7 181h0M360.7 184h0M409.1 163h0M104.3 469h0M144.9 469h0M157 493h0M158.8 529h0M112.3 522h0M124.8 462h0M111.6 457h0M147.1 454h0M76.8 458h0M110.9 449h0M150 469h0M141.9 449h0M119.3 470h0M145.5 476h0M118.2 456h0M114.9 495h0M91.4 549h0M156.3 509h0M96.6 473h0M145.5 475h0M128.8 508h0M119.3 465h0M72.8 487h0M158.1 466h0M96.9 461h0M132.4 505h0M83 458h0M154.4 473h0M79 456h0M76.8 512h0M110.9 500h0M151.4 367h0M116.4 540h0M130.8 316h0M105.3 468h0M108.7 481h0M119.3 477h0M102.8 458h0M93.3 455h0M87.8 515h0M117.1 485h0M115.6 461h0M123.6 479h0M123.6 493h0M95.9 483h0M94.7 474h0M159.3 326h0M96.2 515h0M80.1 462h0M147.1 466h0M111.2 476h0M159.4 363h0M114.9 464h0M106.4 555h0M98.4 456h0M164.2 444h0M82.6 473h0M92.6 462h0M78.3 499h0M142.3 455h0M161 461h0M82.3 453h0M139 510h0M112.3 458h0M108.3 485h0M127 484h0M138 396h0M110.9 470h0M150 513h0M75.4 459h0M157 450h0M109.4 482h0M102.8 511h0M95.5 463h0M159.2 514h0M150.4 496h0M109.4 461h0M160.3 482h0M113 462h0M88.9 544h0M105 459h0M86.3 457h0M158.5 474h0M124 463h0M81.2 511h0M106.1 464h0M114.5 496h0M123.7 480h0M114.9 469h0M135.7 527h0M89.3 460h0M90.7 466h0M86.3 453h0M144.9 471h0M77.9 468h0M130.3 335h0M81.2 502h0M121.1 483h0M109 458h0M133.2 497h0M155.1 496h0M124.8 461h0M95.5 455h0M152.5 522h0M119.3 507h0M112.7 454h0M108.6 528h0M147.5 494h0M134.3 496h0M86 449h0M125.4 527h0M123.3 457h0M73.5 493h0M140.8 496h0M80.1 453h0M156.6 443h0M75.4 459h0M126.6 490h0M143.8 514h0M142.3 457h0M76.4 454h0M95.9 470h0M87.8 505h0M106.1 459h0M161.3 470h0M140.1 467h0M81.2 488h0M121 321h0M80.1 464h0M144.9 449h0M164.2 461h0M88.9 466h0M100.6 510h0M118.9 532h0M149.3 462h0M109.1 521h0M130 318h0M123.3 508h0M119.6 472h0M114.5 516h0M124.4 505h0M110.4 350h0M113.4 486h0M91.8 458h0M103.1 511h0M133.9 457h0M80.1 459h0M90 539h0M124 499h0M103.5 451h0M116 458h0M88.6 501h0M112.7 502h0M129.2 516h0M115.6 466h0M88.5 464h0M158.5 450h0M156.3 505h0M76.8 484h0M146.7 475h0M124 450h0M75 531h0M125.4 467h0M91.4 474h0M112 459h0M158.5 457h0M150.7 462h0M72.8 482h0M136.8 484h0M95.1 500h0M113 461h0M109.4 462h0M163.2 446h0M161.7 468h0M124.4 463h0M86 533h0M113.1 463h0M141.9 444h0M91.3 370h0M155.1 528h0M154.4 464h0M129.5 470h0M139.8 464h0M75 541h0M92.6 461h0M112 467h0M116 472h0M163.2 481h0M119.3 510h0M90.4 473h0M136.1 510h0M80.5 457h0M105.7 497h0M120 459h0M92.9 458h0M151.2 356h0M136.8 458h0M135 459h0M120 509h0M128.8 470h0M104.3 509h0M145.5 467h0M130.6 513h0M105.3 501h0M105.7 478h0M115.2 474h0M76.1 463h0M158 482h0M99.5 475h0M92.9 481h0M114.2 456h0M129.5 537h0M99.5 463h0M132.8 499h0M96.2 450h0M146.3 445h0M95.1 524h0M114.9 535h0M88.6 451h0M120.8 356h0M121.7 326h0M118.5 510h0M157.3 499h0M146.3 500h0M143.4 459h0M88.2 490h0M156.3 461h0M124 453h0M88.9 451h0M108.3 461h0M80.5 508h0M75 446h0M91.1 461h0M87.4 481h0M86.7 460h0M115.6 481h0M133.9 461h0M137.2 454h0M163.2 482h0M161.3 555h0M106.8 457h0M108.7 480h0M138.9 372h0M102.8 467h0M104.3 458h0M150 528h0M109.4 452h0M149.7 505h0M111.6 434h0M136.8 455h0M162.5 463h0M90.5 423h0M72.4 448h0M141.9 455h0M77.2 457h0M160.3 534h0M131 468h0M129.2 510h0M75.4 462h0M111.6 452h0M143.4 477h0M103.1 471h0M159.1 518h0M113.8 463h0M143.1 464h0M123.6 464h0M143.8 501h0M102.8 559h0M159.5 463h0M75.4 450h0M124 468h0M96.2 464h0M118.9 462h0M92.5 451h0M153.4 463h0M104.6 460h0M124.4 464h0M148.9 495h0M99.9 472h0M87.4 445h0M95.4 472h0M139.4 476h0M143.1 499h0M105.7 454h0M150.4 455h0M76.8 498h0M105.7 497h0M151.6 398h0M76.8 457h0M104.9 464h0M120.7 471h0M162.8 462h0M114.1 552h0M132.8 469h0M161 462h0M115.6 464h0M139 473h0M131.3 455h0M118.5 492h0M124 457h0M141.2 471h0M115.6 468h0M72.8 451h0M103.9 460h0M159.1 467h0M151.1 455h0M87.4 455h0M156.2 519h0M78.3 441h0M102.4 529h0M100.1 405h0M157 447h0M134.7 465h0M88.9 471h0M111.6 445h0M155.8 547h0M124 457h0M135.7 502h0M155.1 525h0M81.9 459h0M81.2 464h0M88.2 541h0M82.7 462h0M130.6 497h0M98.1 456h0M152.2 515h0M80.1 475h0M86 459h0M96.6 453h0M134.3 471h0M98.4 522h0M112 474h0M83 489h0M76.4 460h0M150 464h0M159.5 482h0M156.3 462h0M95.5 480h0M109 517h0M141.6 508h0M142.3 509h0M123.3 467h0M163.9 454h0M112 496h0M102.4 524h0M102.4 456h0M129.9 522h0M100.2 394h0M155.8 511h0M130.1 347h0M121.2 482h0M112.3 473h0M98.1 512h0M148.5 447h0M119.7 452h0M72.4 465h0M143.8 453h0M79.4 515h0M153.4 489h0M144.2 468h0M154.4 523h0M158.1 513h0M125.2 514h0M105.7 506h0M72.8 498h0M163.2 459h0M156.6 528h0M111.6 445h0M96.6 529h0M79 470h0M159.5 465h0M103.5 448h0M73.1 453h0M161.3 522h0M135 459h0M104.6 458h0M104.3 470h0M98.8 457h0M150.7 467h0M95.9 462h0M76.1 523h0M148.5 554h0M116.7 493h0M84.5 465h0M124.4 493h0M119.6 468h0M99.9 504h0M83 474h0M129.9 459h0M92.9 451h0M143.4 465h0M99.1 461h0M124 475h0M133.2 477h0M144.9 456h0M73.5 455h0M143.1 465h0M163.5 447h0M110.5 494h0M158.1 463h0M164.2 453h0M100.6 501h0M90 470h0M96.9 456h0M117.8 464h0M141.6 528h0M129.5 468h0M108.3 450h0M120.4 458h0M156.6 461h0M160.3 512h0M125.4 462h0M131 478h0M106.8 506h0M84.9 466h0M102.8 477h0M106.1 465h0M105.7 485h0M99.9 471h0M150.7 456h0M148.9 499h0M101 514h0M151.1 521h0M96.6 486h0M137.2 451h0M104.9 519h0M100.6 467h0M159.5 445h0M114.1 547h0M131 490h0M119.7 449h0M77.2 463h0M91.3 355h0M150.7 517h0M130.6 468h0M99.5 458h0M133.2 471h0M99.5 449h0M84.1 480h0M141.9 460h0M140.1 469h0M98.1 460h0M139 506h0M150.7 462h0M156.6 465h0M109 459h0M144.2 453h0M85.6 506h0M147.4 491h0M113.1 459h0M98.1 455h0M76.1 464h0M77.2 483h0M152.5 460h0M101 471h0M76.8 456h0M137.6 484h0M157.3 458h0M157.3 530h0M160.5 331h0M73.5 517h0M120.6 334h0M134.3 455h0M159.9 483h0M118.9 448h0M153.4 459h0M96.2 466h0M162.5 475h0M92.5 449h0M147.1 472h0M144.5 524h0M127 503h0M147.5 464h0M92.9 446h0M139.8 471h0M128.8 450h0M118.1 466h0M118.9 454h0M97.4 395h0M131.3 485h0M95.1 528h0M118.9 451h0M112.7 492h0M126.2 462h0M74.6 471h0M104.6 460h0M141.2 459h0M145.5 458h0M136.8 459h0M105.3 545h0M164.2 485h0M88.9 458h0M78.3 450h0M102.4 472h0M161.3 475h0M154.8 476h0M76.8 443h0M160.3 487h0M161.3 487h0M149.3 461h0M106.8 491h0M160.6 475h0M124 465h0M106.1 458h0M112.3 478h0M90.7 540h0M82.6 535h0M162.8 458h0M162.4 515h0M110 400h0M81.6 436h0M153.4 459h0M76.8 459h0M105.7 490h0M108.3 459h0M146.3 459h0M121.2 537h0M154 466h0M146.3 467h0M161.7 513h0M164.2 496h0M121.2 469h0M105.3 509h0M111.6 457h0M131.3 527h0M158.5 462h0M86.3 464h0M119.3 462h0M131 425h0M88.6 496h0M107.9 466h0M73.9 487h0M90.4 481h0M100.2 448h0M75.7 464h0M142.3 485h0M75.4 552h0M118.9 455h0M139.4 474h0M73.9 443h0M112.3 495h0M107.9 469h0M140.1 490h0M120.5 349h0M125.4 460h0M78.7 445h0M136.1 444h0M99.5 459h0M148.2 506h0M155.8 462h0M90.7 454h0M88.9 462h0M143.4 454h0M150.7 466h0M90 502h0M104.6 460h0M99.9 505h0M132.4 471h0M121.2 359h0M112 491h0M72.4 497h0M109.7 468h0M111.6 455h0M85.2 462h0M159.1 534h0M102.4 463h0M152.9 447h0M89.6 469h0M103.9 459h0M125.2 467h0M77.2 529h0M118.9 452h0M162.5 520h0M83 459h0M99.9 479h0M117.1 468h0M98.1 478h0M112.3 456h0M109.3 393h0M128.8 453h0M163.5 471h0M95.1 466h0M82.6 450h0M163.5 457h0M163.2 541h0M148.2 460h0M109 464h0M96.2 393h0M86 462h0M115.2 459h0M112.7 443h0M146.7 454h0M159.9 469h0M130.2 466h0M74.2 496h0M99.2 467h0M148.9 535h0M88.2 458h0M111.6 486h0M143.1 464h0M163.2 468h0M90.4 492h0M131 440h0M113.1 464h0M98.8 442h0M159.2 470h0M80.4 487h0M105.7 468h0M137.6 454h0M128.4 496h0M92.9 466h0M92.5 461h0M143.1 481h0M90.7 465h0M120 468h0M80.1 502h0M110.1 452h0M531.7 412h0M338.4 478h0M255.8 484h0M262.2 459h0M412 454h0M564.1 464h0M469.5 467h0M215.5 501h0M338.8 443h0M247.6 505h0M429.2 455h0M423.6 450h0M237.9 464h0M273.4 492h0M293.6 465h0M258.8 474h0M396.3 540h0M354.9 447h0M345.5 533h0M232.7 526h0M224.8 495h0M386.3 488h0M232.3 483h0M238.3 491h0M402.3 539h0M241 335h0M247.6 443h0M231.4 397h0M287.6 454h0M375.8 449h0M345.2 454h0M405 458h0M206.9 510h0M221.1 323h0M552.2 503h0M488.3 495h0M392.6 484h0M371.3 464h0M246.1 459h0M562.6 400h0M562 428h0M372.5 481h0M483.4 506h0M272.3 480h0M203.5 489h0M353.7 508h0M377.7 491h0M388.5 489h0M532.9 458h0M289.1 453h0M422.1 466h0M217 476h0M293.9 466h0M373.9 474h0M508.8 493h0M288.7 467h0M246.1 499h0M234.9 464h0M566 461h0M416.9 480h0M266.7 514h0M565.3 459h0M477.8 461h0M481.1 463h0M476.7 474h0M482.3 503h0M264.1 439h0M530.6 489h0M353.4 326h0M542.1 495h0M236 456h0M525.3 499h0M259.2 455h0M212.5 498h0M563.8 483h0M565.7 503h0M268.9 476h0M270.4 484h0M386.5 382h0M238.3 472h0M364.6 439h0M269.6 493h0M365.3 446h0M282 491h0M509.9 512h0M253.2 459h0M399.3 448h0M385.5 428h0M224.1 465h0M222.6 437h0M250.1 384h0M236.4 447h0M544 472h0M551.4 475h0M272.6 337h0M357.5 508h0M556.3 356h0M430.7 529h0M475.9 451h0M565.3 481h0M252.9 367h0M536.7 369h0M470.2 444h0M339.2 460h0M275.6 453h0M501.4 520h0M348.9 457h0M387.7 460h0M246.9 447h0M419.6 450h0M476.4 469h0M414.3 444h0M370.6 488h0M411.3 502h0M212.5 466h0M362.7 461h0M227.8 482h0M388.1 453h0M338.8 477h0M361.2 450h0M478 443h0M543.5 374h0M409.4 458h0M227.4 552h0M533.5 347h0M291.7 505h0M412 538h0M520 502h0M476.7 499h0M392.6 465h0M425.9 524h0M200.2 448h0M269.3 484h0M395.6 465h0M380.7 494h0M360.8 444h0M557.1 416h0M347.4 455h0M509.9 497h0M564.1 465h0M558.2 505h0M387.4 506h0M261.1 473h0M391.9 467h0M261.1 459h0M244.7 443h0M291 453h0M410.6 459h0M293.2 464h0M419.7 375h0M380.7 472h0M218.5 452h0M370.9 489h0M284.6 521h0M259.2 455h0M422.1 455h0M254 459h0M526.6 423h0M399.7 453h0M401.9 526h0M282 479h0M351.5 486h0M350 463h0M209.9 447h0M428.5 458h0M216.6 485h0M245 454h0M349.3 451h0M389.2 514h0M251.7 455h0M529 470h0M343.3 349h0M554.7 481h0M541 444h0M358.2 533h0M349.3 460h0M362.7 458h0M412.8 455h0M490.2 514h0M381 489h0M239.4 449h0M430.7 464h0M495.8 505h0M236.4 437h0M368.7 520h0M224.8 481h0M367.6 435h0M200.6 500h0M550 478h0M266.7 455h0M222.2 490h0M363.8 478h0M551.7 410h0M395.2 461h0M420.6 356h0M565.4 415h0M262.9 473h0M348.2 461h0M428.8 463h0M369.8 475h0M206.9 454h0M566 444h0M407.2 472h0M387.3 449h0M336.6 489h0M367.9 492h0M336.9 546h0M472.4 428h0M564.1 484h0M516.9 337h0M239.4 451h0M564.5 370h0M200.2 464h0M494.2 517h0M528.2 471h0M359.7 484h0M531.7 402h0M538 458h0M478.2 466h0M292.1 453h0M402.7 435h0M413.2 456h0M417.7 435h0M337.3 465h0M548.4 486h0M506.7 364h0M230.8 551h0M543.9 490h0M217.7 533h0M262.6 487h0M373.2 427h0M235.4 337h0M351.5 459h0M251.4 454h0M344.8 525h0M278.7 446h0M477.8 458h0M367.9 490h0M201.7 479h0M254 453h0M566 473h0M256.9 459h0M496.9 346h0M556.7 352h0M497.3 414h0M415.4 389h0M530.1 417h0M551.4 352h0M375 486h0M343.7 490h0M245.4 459h0M537.5 491h0M200.5 471h0M249.1 463h0M535.7 377h0M419.9 522h0M277.1 518h0M353 453h0M477.4 460h0M262.2 462h0M538.7 326h0M224.1 478h0M221.8 327h0M252.9 466h0M215.9 464h0M527.5 495h0M213.6 457h0M271.5 467h0M405.7 482h0M475.6 497h0M566 455h0M247.2 459h0M412 452h0M407.2 467h0M255.1 453h0M393.7 474h0M268.6 486h0M341.4 503h0M208 475h0M293.2 470h0M372 506h0M275.2 451h0M396.3 457h0M554 380h0M243.1 528h0M478.6 515h0M565.7 468h0M250.6 502h0M425.5 504h0M249.9 493h0M246.5 457h0M473.3 439h0M264.1 542h0M397.5 471h0M293.2 489h0M288 506h0M201.7 481h0M566 449h0M563.3 381h0M358.6 492h0M365 449h0M386.7 508h0M477.8 484h0M470.2 507h0M351.9 445h0M220.7 524h0M220.7 437h0M223.7 537h0M240.1 480h0M421 458h0M240.2 333h0M397.5 470h0M554 489h0M287.9 467h0M276 457h0M372.4 450h0M361.2 460h0M425.2 500h0M470.4 449h0M201.3 470h0M498 502h0M371.3 517h0M234.5 482h0M368.3 494h0M215.4 334h0M260.7 489h0M388.1 453h0M565.7 409h0M478.2 458h0M260.7 465h0M541.8 484h0M477.8 437h0M239.8 437h0M270.4 430h0M362.3 480h0M216.3 490h0M250.6 352h0M231.6 504h0M405 468h0M411 490h0M258.1 474h0M369.4 451h0M248.4 465h0M347.4 499h0M361.2 469h0M243.2 554h0M218.5 451h0M339.2 453h0M275.6 460h0M400.8 484h0M391.5 463h0M204.7 393h0M425.5 488h0M549.9 498h0M206.9 527h0M418.8 487h0M527.2 496h0M293.2 488h0M394.8 506h0M370.9 464h0M211.4 452h0M338.1 450h0M564.1 467h0M363.1 447h0M479.6 473h0M252.5 458h0M337.7 450h0M245.4 493h0M386.7 474h0M249.4 462h0M255.8 450h0M402.3 465h0M248 515h0M234.9 451h0M271.9 457h0M237.2 465h0M261.5 449h0M373.5 396h0M341.4 467h0M516.3 511h0M245 501h0M234.5 485h0M416.6 455h0M365.3 455h0M392.6 448h0M373.5 511h0M371.7 457h0M252.5 363h0M565.3 476h0M206.2 514h0M388.1 539h0M274.2 494h0M223.7 450h0M542.1 449h0M428.8 462h0M547.5 352h0M552.6 471h0M550.7 513h0M554 472h0M351.5 505h0M369.8 487h0M221.1 332h0M482.3 500h0M373.5 496h0M356.7 437h0M199.1 465h0M534.5 476h0M269.3 466h0M419.5 445h0M482 462h0M274.2 456h0M565.9 414h0M481.5 500h0M373.4 378h0M411 536h0M565.3 455h0M237.9 446h0M231.1 517h0M548.8 476h0M412 520h0M351.1 453h0M352.2 482h0M529.4 460h0M387.4 504h0M251.7 461h0M287.6 489h0M250.2 500h0M476 488h0M203.1 515h0M365.6 357h0M412 490h0M243.5 499h0M552.9 495h0M231.6 477h0M224.8 484h0M393.7 450h0M231.1 443h0M266.6 464h0M246.9 443h0M410.2 453h0M423.3 471h0M341 466h0M566 474h0M374.3 487h0M242.4 497h0M383.6 515h0M380.6 528h0M490.2 499h0M539.7 368h0M352.2 515h0M522.7 504h0M291.8 445h0M283.1 502h0M480.8 486h0M273.8 547h0M429.6 452h0M404.6 478h0M523.4 523h0M401.6 506h0M496.2 328h0M200.5 548h0M233.8 454h0M380.2 477h0M252.9 516h0M483.8 491h0M379.5 501h0M401.6 473h0M352.6 509h0M224 504h0M369.8 461h0M516.1 406h0M371.7 507h0M264.5 454h0M263.7 530h0M265.6 437h0M538.4 486h0M252.5 454h0M391.5 462h0M261.1 465h0M551.1 512h0M380.2 449h0M279.4 490h0M416.6 441h0M289.1 470h0M496.6 345h0M405.7 446h0M415.8 457h0M335.8 469h0M537.4 496h0M221.6 367h0M394.9 465h0M561.9 505h0M348.5 554h0M272.7 339h0M354.5 512h0M277.5 459h0M476.7 471h0M343.7 483h0M241.6 460h0M505.8 489h0M260.6 368h0M476.4 468h0M528.2 459h0M344.4 443h0M253.7 395h0M422.8 469h0M201.7 468h0M277.5 448h0M427.4 461h0M532.4 383h0M382.1 471h0M254 515h0M351.1 452h0M241.6 455h0M402.3 452h0M547 494h0M480.8 459h0M399.7 451h0M231.9 467h0M400.4 481h0M220 481h0M536.4 484h0M527.2 341h0M506.9 498h0M227.8 480h0M529.7 405h0M215.9 461h0M407.2 456h0M231.1 444h0M565.7 454h0M262.9 366h0M335.8 480h0M479.6 458h0M227.8 508h0M410.2 438h0M547.3 485h0M348.2 457h0M233 502h0M558.5 505h0M273.4 467h0M228.6 485h0M367.2 486h0M536.8 465h0M240.1 499h0M341.8 444h0M543.5 484h0M288.7 488h0M231.6 452h0M553.7 498h0M566 442h0M346.3 487h0M208 467h0M363.1 449h0M336.6 513h0M370.2 472h0M334.7 458h0M407.6 458h0M263.7 446h0M405.4 436h0M429.2 485h0M536.1 363h0M495 501h0M199.9 432h0M543.9 482h0M537.7 317h0M255.8 485h0M375.8 457h0M291.7 449h0M224.8 451h0M555.2 486h0M534.9 468h0M274.5 503h0M552.9 470h0M218.5 485h0M476.7 493h0M486.8 484h0M341.4 525h0M491.7 503h0M333.6 548h0M381.8 473h0M537.1 467h0M208 473h0M363.1 358h0M527.3 364h0M393 449h0M527.3 331h0M261.5 456h0M277.1 465h0M246.1 489h0M421 484h0M291.7 461h0M393 439h0M556.3 502h0M354.1 488h0M535.1 361h0M402.3 438h0M550.3 482h0M492 523h0M539.9 441h0M232.6 463h0M393 461h0M533.1 335h0M245 449h0M387 453h0M265.9 530h0M403.5 501h0M395.6 443h0M413.9 489h0M429.2 441h0M270.8 458h0M241.6 460h0M414.6 455h0M375.4 470h0M430.7 459h0M357.1 527h0M481.6 506h0M253.2 515h0M259.5 382h0M246.9 516h0M391.5 467h0M476.4 463h0M360.8 456h0M236.4 445h0M387 477h0M481.6 481h0M477.4 449h0M370.3 345h0M276 448h0M411.6 514h0M362 460h0M205.3 453h0M246.5 493h0M402 491h0M504.3 504h0M269.6 452h0M476.4 472h0M481.5 468h0M507.5 372h0M424.7 460h0M410.2 452h0M497 401h0M510.4 490h0M203.9 504h0M362.3 442h0M400.1 488h0M548.8 402h0M270.4 495h0M290.9 473h0M265.9 466h0M496.2 397h0M376.2 469h0M548.1 491h0M548.1 377h0M480.8 459h0M358.2 448h0M554.4 501h0M369.4 469h0M224.5 513h0M471.8 481h0M528.2 465h0M234.9 458h0M218.8 502h0M383.2 493h0M517.9 353h0M362 454h0M200.5 456h0M564.1 475h0M339.5 450h0M470.4 429h0M334.7 503h0M539 497h0M506.5 411h0M374.7 547h0M476.7 510h0M506.7 348h0M477.1 467h0M344.8 511h0M218.5 474h0M486.8 502h0M283.5 481h0M253.2 452h0M539.1 375h0M215.9 450h0M355.3 517h0M238.7 461h0M271.6 399h0M335.1 462h0M260 490h0M537.7 492h0M279.4 477h0M547.3 341h0M263.7 467h0M248.7 452h0M469.1 461h0M405 517h0M371.3 451h0M370.9 462h0M222.2 465h0M532.1 486h0M201.3 454h0M267 455h0M413.2 444h0M416.9 449h0M404.6 501h0M255.1 501h0M476.4 474h0M218.5 471h0M391.1 490h0M241.6 472h0M402.3 450h0M205.4 438h0M270.4 453h0M352.2 435h0M350.8 443h0M478.4 390h0M232.1 327h0M478.5 486h0M273.4 454h0M548.8 469h0M542.8 482h0M254.4 456h0M478.6 467h0M270 466h0M361.2 483h0M349.3 512h0M482 449h0M543.1 483h0M531.2 410h0M501 504h0M343.3 512h0M428.1 501h0M428.5 482h0M416.6 449h0M342.9 482h0M526.8 367h0M494.6 502h0M240.6 390h0M379.5 480h0M260.3 461h0M517.9 392h0M517.7 328h0M544.5 489h0M405.4 512h0M548.8 467h0M378 512h0M265.2 469h0M338.8 518h0M212.1 487h0M480.8 464h0M415.1 448h0M394.8 490h0M202.8 494h0M369 496h0M362 462h0M283.9 488h0M242.4 454h0M288.3 457h0M374.3 455h0M258.1 508h0M374.7 464h0M260 460h0M390 544h0M476.4 451h0M552.2 488h0M554 481h0M403.8 500h0M356.7 478h0M421 504h0M352.6 316h0M485.7 439h0M348.9 457h0M539.1 499h0M423.6 493h0M209.9 450h0M262.8 363h0M334.7 488h0M411.3 501h0M250.6 453h0M546.8 493h0M541 410h0M222.2 458h0M205.4 433h0M475.9 454h0M286.1 489h0M393.3 467h0M221.1 443h0M243.5 530h0M477.1 460h0M486 516h0M287.3 464h0M365.7 455h0M359.3 458h0M362.3 455h0M270.4 445h0M556.4 355h0M210.3 489h0M481.5 457h0M248 463h0M428.8 487h0M420.2 503h0M364.6 489h0M400.4 499h0M353.4 509h0M201.7 463h0M376.2 463h0M237.9 473h0M515.2 495h0M203.9 456h0M348.5 495h0M350.8 452h0M203.5 504h0M264.8 456h0M418.4 463h0M333.6 464h0M547.1 337h0M214.4 447h0M261.8 505h0M243.2 469h0M405.2 364h0M547.4 424h0M496.9 331h0M343.3 445h0M364.6 502h0M341 449h0M414.9 361h0M211.7 454h0M347.7 459h0M477.4 469h0M495.9 334h0M276.4 456h0M407.6 499h0M222.6 450h0M284.3 490h0M205.3 405h0M409.8 562h0M554.9 526h0M424.4 454h0M273.8 472h0M514.4 415h0M359.3 458h0M290.6 473h0M507.1 360h0M233.4 461h0M489.4 490h0M566 437h0M205.8 436h0M406.1 512h0M386.3 507h0M277.1 446h0M405.1 324h0M221.1 521h0M226.7 520h0M387.7 553h0M257.3 454h0M560 518h0M496.9 331h0M519.3 498h0M278.7 442h0M270.8 474h0M382.1 471h0M534.4 362h0M370.2 453h0M506.6 357h0M367.6 453h0M410.5 440h0M564.1 466h0M288.7 455h0M550.3 489h0M536.4 326h0M414.2 324h0M415.1 457h0M356.7 483h0M269.6 457h0M547.3 405h0M265.2 460h0M354.9 494h0M549.9 476h0M478.2 497h0M529.8 465h0M386.7 492h0M241.6 531h0M291.8 452h0M401.6 527h0M370.6 485h0M393.7 506h0M539.1 322h0M393.7 500h0M338.8 457h0M220.3 441h0M406.5 463h0M554.8 427h0M427.4 489h0M416.6 489h0M261.1 487h0M242 442h0M272.3 475h0M397.5 487h0M525.6 511h0M341 459h0M416.6 457h0M342.6 461h0M480.8 451h0M482 456h0M476 500h0M489.9 387h0M283.6 423h0M528.3 478h0M538.2 330h0M566 451h0M543.7 408h0M372.4 470h0M255.5 443h0M402 527h0M517.2 403h0M554.8 482h0M215.1 451h0M338.8 469h0M524.9 504h0M347.1 447h0M548.3 376h0M291.8 485h0M406.5 507h0M476 394h0M481.2 492h0M565.6 489h0M203.1 483h0M385.1 385h0M512.6 506h0M289.1 436h0M393.3 497h0M224.5 462h0M242.4 453h0M292.4 469h0M293.9 518h0M365.3 489h0M274.5 515h0M403.8 530h0M245.4 502h0M209.9 492h0M472.8 428h0M397.9 456h0M430.7 507h0M560 505h0M343.3 455h0M538.8 377h0M424.7 471h0M240.9 402h0M476.7 461h0M352.2 455h0M394.1 474h0M209.9 443h0M530.9 401h0M419.2 511h0M273.4 559h0M390.8 506h0M275.3 516h0M541.3 385h0M389.2 513h0M200.2 462h0M481.1 462h0M374.7 459h0M289.1 464h0M395.6 452h0M410.2 437h0M472.1 494h0M365.3 444h0M220.7 503h0M219.2 454h0M380.7 485h0M340.3 462h0M554.8 482h0M375 460h0M245.4 500h0M425.5 443h0M476.7 473h0M476.3 468h0M367.6 457h0M272.6 364h0M231.9 476h0M544.3 433h0M363.9 480h0M374.7 499h0M388.9 447h0M211.4 446h0M227.1 497h0M375.8 440h0M219.2 518h0M416.1 479h0M518.3 358h0M267.4 460h0M548.4 499h0M362 481h0M417.3 456h0M386.2 526h0M282 517h0M529.9 411h0M528.6 465h0M541 417h0M385.1 434h0M551.3 508h0M430 446h0M481.3 436h0M406.8 520h0M286.1 509h0M209.9 456h0M369.4 501h0M286.9 499h0M231.9 388h0M554.1 484h0M290.9 454h0M530.5 346h0M362.7 455h0M552.9 479h0M245 461h0M380.2 482h0M286.9 461h0M539 354h0M257.3 453h0M428.1 486h0M267.4 453h0M354.1 518h0M515.8 334h0M389.2 447h0M539.3 334h0M224.5 506h0M216.6 496h0M428.1 475h0M232.6 494h0M228.5 486h0M476.4 466h0M540.9 443h0M482 448h0M364.6 458h0M261.1 447h0M393.3 444h0M394.8 473h0M245.4 493h0M216.3 464h0M540.3 337h0M372 454h0M496.8 352h0M343 489h0M545 490h0M201.3 457h0M243.5 480h0M237.1 453h0M476.4 469h0M358.2 447h0M362.7 450h0M548.1 495h0M418.8 459h0M406.8 464h0M224 509h0M345.2 457h0M513.3 494h0M246.5 458h0M261.8 466h0M513.8 393h0M208.4 514h0M347.4 469h0M341 474h0M349.3 501h0M547.6 427h0M539.5 313h0M353.7 525h0M486.2 343h0M407.2 551h0M358.2 506h0M212.1 449h0M400.4 505h0M535.3 378h0M267.1 459h0M388.5 451h0M203.9 450h0M237.9 494h0M206.5 502h0M527.8 457h0M499.7 406h0M530.2 339h0M243.9 473h0M424.7 463h0M201.3 494h0M240 349h0M380.7 491h0M556.7 500h0M427.7 490h0M410.2 531h0M339.9 456h0M221.5 532h0M274.5 529h0M412.4 456h0M209.5 525h0M203.1 476h0M392.6 443h0M254 486h0M269.6 483h0M216.6 454h0M363.1 449h0M257.3 443h0M339.9 531h0M538.5 373h0M272.6 511h0M401.9 459h0M378.8 531h0M253.6 527h0M344.4 448h0M384.8 442h0M200.7 464h0M217.7 454h0M217.7 477h0M254 456h0M542.1 425h0M253.6 454h0M265.9 550h0M411.3 523h0M566 460h0M389.2 483h0M477.1 464h0M469.8 483h0M480.4 492h0M533.1 471h0M405.7 443h0M396 453h0M204.4 369h0M484.1 502h0M264.8 438h0M271.5 520h0M215.5 460h0M223 476h0M482.3 484h0M269.3 467h0M362.3 456h0M227.8 475h0M256.9 486h0M516.2 420h0M259.2 462h0M228.5 502h0M391.9 490h0M542.8 439h0M404.6 452h0M403.8 509h0M537.4 478h0M550.3 478h0M477.8 463h0M428.1 445h0M406.1 465h0M231.2 476h0M482.3 447h0M224.8 456h0M365.7 502h0M235.5 360h0M224.8 443h0M395.2 482h0M264.1 453h0M390 458h0M357.1 492h0M347.8 447h0M554.4 512h0M352.2 457h0M430.7 460h0M407.9 461h0M391.1 520h0M563.8 332h0M397.1 457h0M385.2 355h0M229.3 475h0M537.8 339h0M527.5 366h0M215 351h0M233.4 451h0M249.9 455h0M359.7 514h0M371.7 509h0M534.4 482h0M545.1 438h0M353.4 446h0M206.5 463h0M551.4 507h0M530.4 385h0M231 389h0M372 483h0M211 452h0M290.9 496h0M290.6 470h0M558.5 502h0M338.1 452h0M490.2 486h0M252.1 526h0M526.5 353h0M261.2 337h0M423.3 458h0M277.9 458h0M220.7 357h0M206.5 462h0M248.7 535h0M387 453h0M549.3 488h0M273 325h0M255.1 459h0M477.1 457h0M362 482h0M387.3 450h0M280.9 552h0M346.6 495h0M269.6 443h0M475.6 468h0M486.6 349h0M267.1 458h0M244.7 454h0M529.8 466h0M529 460h0M412.4 469h0M375.4 462h0M241.3 520h0M356.3 491h0M507.4 416h0M206.5 464h0M370.7 352h0M529.8 465h0M223.7 454h0M369.4 451h0M212.1 455h0M374.6 360h0M232.6 433h0M238.2 495h0M554.8 465h0M529.6 399h0M234.5 464h0M266.6 446h0M203.9 472h0M370.9 478h0M213.2 462h0M564 397h0M411.3 446h0M539.1 359h0M354.5 492h0M391.1 521h0M424.7 451h0M246.9 455h0M374.7 455h0M508.1 504h0M343.3 365h0M220.4 444h0M481.6 460h0M476.4 487h0M529.8 458h0M352.6 482h0M279.8 480h0M424.7 446h0M254.4 489h0M221.1 443h0M224.1 461h0M270.4 444h0M210.3 464h0M367.9 445h0M407.2 458h0M249.1 549h0M415.8 455h0M292.1 521h0M545.4 487h0M356 498h0M232.5 373h0M391.5 451h0M365.3 492h0M229.3 473h0M262.2 479h0M529.9 333h0M368.3 450h0M543.8 500h0M362.7 461h0M358.6 439h0M346.6 492h0M389.2 459h0M197.6 432h0M260 459h0M410.6 451h0M368.7 446h0M427.4 535h0M213.2 486h0M261.5 509h0M507.8 420h0M264.5 453h0M349.3 460h0M375 458h0M209.2 455h0M211 453h0M273 493h0M551.1 389h0M337.3 485h0M563.8 337h0M419.9 457h0M242.7 495h0M251.3 447h0M289.1 464h0M529.5 377h0M405.7 464h0M236 490h0M412.8 454h0M483.4 483h0M418 449h0M554 478h0M542.4 473h0M564.1 494h0M200.5 450h0M490.2 488h0M255.5 451h0M341.4 456h0M337.3 442h0M388.5 439h0M418.4 454h0M334.3 490h0M538.2 322h0M425.1 534h0M211.4 489h0M276 450h0M539.5 364h0M251.7 459h0M426.6 444h0M239.4 475h0M517 380h0M206.9 482h0M259.2 524h0M402 461h0M282.1 424h0M214.7 527h0M364.3 329h0M400.1 448h0M288 447h0M264.5 460h0M335.8 428h0M267.4 465h0M556.3 500h0M250.5 384h0M243.2 456h0M406.8 453h0M387.3 476h0M276.8 474h0M419.9 452h0M365.3 458h0M396.7 446h0M386.7 485h0M223.7 455h0M243.2 480h0M548.8 469h0M399 487h0M271.1 527h0M291.8 450h0M518.6 418h0M409 526h0M213.2 530h0M243.9 503h0M224.8 455h0M333.6 448h0M286.1 499h0M536.4 484h0M533.8 465h0M272.3 465h0M211.7 451h0M533.4 373h0M268.9 449h0M257 456h0M354.1 504h0M248 462h0M265.9 512h0M231.9 443h0M553.3 494h0M224.1 475h0M216.2 476h0M535.3 346h0M204.2 490h0M364.2 536h0M224.8 457h0M270.8 457h0M393.7 461h0M250.6 448h0M378 523h0M491.3 414h0M482 452h0M337.7 462h0M236.4 483h0M262.2 462h0M478.2 497h0M530.1 415h0M348.2 486h0M293.6 509h0M383.6 489h0M292.4 463h0M477.8 461h0M420.2 524h0M423.6 452h0M339.5 481h0M393.7 442h0M215.9 463h0M280.5 522h0M208.4 495h0M292.1 452h0M358.2 450h0M419.2 466h0M477.4 498h0M530.8 417h0M425.9 456h0M400.8 506h0M408.7 460h0M480.4 485h0M471.7 493h0M239.8 471h0M206.2 465h0M266.6 468h0M220 512h0M344.4 492h0M264.4 508h0M208 467h0M246.5 446h0M565.5 418h0M347.8 452h0M366.8 458h0M414.2 362h0M286.1 496h0M506.6 509h0M543.3 382h0M218.1 465h0M360.8 460h0M497.4 342h0M382.9 436h0M400.1 461h0M278.3 509h0M540.1 356h0M232.3 458h0M268.5 463h0M234.5 499h0M374.6 459h0M536.5 371h0M261.8 468h0M243.9 543h0M365.7 552h0M209.9 483h0M334.3 503h0M214.8 460h0M399.7 458h0M565.6 476h0M543.2 427h0M371.7 447h0M209.5 496h0M530.9 413h0M483.8 510h0M278.2 493h0M277.1 483h0M286.9 461h0M475.6 480h0M217 481h0M201.7 458h0M242 461h0M364.2 452h0M425.9 549h0M392.2 497h0M212.1 440h0M530.5 459h0M359 489h0M239 456h0M371.7 499h0M218.5 488h0M533.3 381h0M220.3 436h0M372.8 521h0M537.1 476h0M270.8 460h0M515.2 503h0M405 372h0M564.9 450h0M480.4 469h0M288.7 464h0M428.1 457h0M406.9 384h0M265.9 531h0M276 462h0M395.6 447h0M387.7 508h0M211 503h0M547.3 498h0M396.4 507h0M343.7 453h0M387.4 499h0M219.6 441h0M412.8 442h0M399.3 481h0M476 467h0M494.2 505h0M225.6 471h0M566 463h0M549.9 478h0M548.9 426h0M495.7 384h0M217.8 472h0M277.9 500h0M349.3 461h0M415.1 513h0M421 445h0M390 511h0M352.5 349h0M285 500h0M475.6 484h0M289.5 457h0M209.9 490h0M364.1 321h0M531.7 465h0M427.7 449h0M336.2 462h0M371.3 477h0M242.4 459h0M554 494h0M406.8 552h0M220 521h0M554 505h0M535.9 481h0M565.3 490h0M425.1 503h0M200.5 445h0M561.1 378h0M547.7 338h0M219.2 513h0M211 542h0M540.4 366h0M362 452h0M200.5 464h0M403.8 507h0M469.7 464h0M387.7 454h0M425.9 490h0M249.9 453h0M351.9 532h0M233.8 493h0M264.1 459h0M211.4 509h0M241.6 473h0M518.3 350h0M339.5 443h0M468.9 512h0M374.6 463h0M506.6 398h0M367.6 515h0M351.5 529h0M253.2 495h0M489.4 504h0M400.1 453h0M425.1 505h0M402 473h0M554.4 479h0M257.3 454h0M243.9 487h0M532.1 351h0M526.7 403h0M418 459h0M402 462h0M333.9 541h0M270.4 439h0M396 512h0M339.9 510h0M288.7 482h0M539.6 463h0M201.7 482h0M403.1 465h0M373.2 509h0M531.2 411h0M237.2 462h0M352.6 490h0M365.3 436h0M212.1 451h0M264.5 523h0M276.4 469h0M289.9 458h0M510.4 501h0M426.2 459h0M342.2 520h0M359.7 496h0M363.5 467h0M249.1 441h0M353 523h0M260.5 361h0M351.9 479h0M388.9 444h0M486.2 417h0M353.4 313h0M516.4 416h0M245.7 462h0M211 455h0M516.5 366h0M395.6 486h0M543.1 386h0M382.9 445h0M208 540h0M410.6 508h0M339.5 506h0M506.2 364h0M421 464h0M540.9 417h0M410.2 446h0M394.8 532h0M343.5 380h0M565.6 460h0M396.4 459h0M238.3 522h0M272.6 457h0M475.9 466h0M252.1 507h0M469 480h0M369 449h0M206.2 445h0M286.9 476h0M405.4 342h0M496.9 372h0M369.8 457h0M223.3 474h0M259.6 456h0M529.7 355h0M276 451h0M382.1 479h0M246.5 451h0M291.4 461h0M497.3 364h0M236.4 457h0M375 466h0M281.2 515h0M405 457h0M202.1 444h0M209.5 459h0M393 456h0M372.8 462h0M240.1 495h0M365.3 468h0M335.8 468h0M264.5 490h0M365.7 337h0M236.8 500h0M390.4 464h0M338.8 456h0M551.5 424h0M386.3 546h0M483 385h0M533.2 346h0M374.9 341h0M409.8 454h0" stroke="#ff0000" stroke-width="4.1" stroke-linecap="round" fill="none"/>
<rect x="56" y="14.5" width="530.5" height="256" fill="none" stroke="#000" stroke-width="1.5"/><path d="M187.8 307.3H56V563.3H187.8M191.8 307.3H586.5V563.3H191.8" fill="none" stroke="#000" stroke-width="1.5"/><path d="M56 262.7h4.8M586.5 262.7h-4.8M56 253.3h4.8M586.5 253.3h-4.8M56 244h4.8M586.5 244h-4.8M56 234.7h9.5M586.5 234.7h-9.5M56 225.3h4.8M586.5 225.3h-4.8M56 216h4.8M586.5 216h-4.8M56 206.7h4.8M586.5 206.7h-4.8M56 197.3h4.8M586.5 197.3h-4.8M56 188h9.5M586.5 188h-9.5M56 178.7h4.8M586.5 178.7h-4.8M56 169.3h4.8M586.5 169.3h-4.8M56 160h4.8M586.5 160h-4.8M56 150.7h4.8M586.5 150.7h-4.8M56 141.3h9.5M586.5 141.3h-9.5M56 132h4.8M586.5 132h-4.8M56 122.7h4.8M586.5 122.7h-4.8M56 113.3h4.8M586.5 113.3h-4.8M56 104h4.8M586.5 104h-4.8M56 94.7h9.5M586.5 94.7h-9.5M56 85.3h4.8M586.5 85.3h-4.8M56 76h4.8M586.5 76h-4.8M56 66.7h4.8M586.5 66.7h-4.8M56 57.3h4.8M586.5 57.3h-4.8M56 48h9.5M586.5 48h-9.5M56 38.7h4.8M586.5 38.7h-4.8M56 29.3h4.8M586.5 29.3h-4.8M56 20h4.8M586.5 20h-4.8M61.8 270.5v-4.8M61.8 14.5v4.8M84.3 270.5v-4.8M84.3 14.5v4.8M106.8 270.5v-9.5M106.8 14.5v9.5M129.2 270.5v-4.8M129.2 14.5v4.8M151.7 270.5v-4.8M151.7 14.5v4.8M174.1 270.5v-4.8M174.1 14.5v4.8M196.6 270.5v-4.8M196.6 14.5v4.8M219 270.5v-9.5M219 14.5v9.5M241.5 270.5v-4.8M241.5 14.5v4.8M263.9 270.5v-4.8M263.9 14.5v4.8M286.4 270.5v-4.8M286.4 14.5v4.8M308.8 270.5v-4.8M308.8 14.5v4.8M331.2 270.5v-9.5M331.2 14.5v9.5M353.7 270.5v-4.8M353.7 14.5v4.8M376.2 270.5v-4.8M376.2 14.5v4.8M398.6 270.5v-4.8M398.6 14.5v4.8M421.1 270.5v-4.8M421.1 14.5v4.8M443.5 270.5v-9.5M443.5 14.5v9.5M466 270.5v-4.8M466 14.5v4.8M488.4 270.5v-4.8M488.4 14.5v4.8M510.9 270.5v-4.8M510.9 14.5v4.8M533.3 270.5v-4.8M533.3 14.5v4.8M555.8 270.5v-9.5M555.8 14.5v9.5M578.2 270.5v-4.8M578.2 14.5v4.8M56 555.6h4.8M586.5 555.6h-4.8M56 546.2h4.8M586.5 546.2h-4.8M56 536.9h4.8M586.5 536.9h-4.8M56 527.6h9.5M586.5 527.6h-9.5M56 518.2h4.8M586.5 518.2h-4.8M56 508.9h4.8M586.5 508.9h-4.8M56 499.6h4.8M586.5 499.6h-4.8M56 490.2h4.8M586.5 490.2h-4.8M56 480.9h9.5M586.5 480.9h-9.5M56 471.6h4.8M586.5 471.6h-4.8M56 462.2h4.8M586.5 462.2h-4.8M56 452.9h4.8M586.5 452.9h-4.8M56 443.6h4.8M586.5 443.6h-4.8M56 434.2h9.5M586.5 434.2h-9.5M56 424.9h4.8M586.5 424.9h-4.8M56 415.6h4.8M586.5 415.6h-4.8M56 406.2h4.8M586.5 406.2h-4.8M56 396.9h4.8M586.5 396.9h-4.8M56 387.6h9.5M586.5 387.6h-9.5M56 378.2h4.8M586.5 378.2h-4.8M56 368.9h4.8M586.5 368.9h-4.8M56 359.6h4.8M586.5 359.6h-4.8M56 350.2h4.8M586.5 350.2h-4.8M56 340.9h9.5M586.5 340.9h-9.5M56 331.6h4.8M586.5 331.6h-4.8M56 322.2h4.8M586.5 322.2h-4.8M56 312.9h4.8M586.5 312.9h-4.8M67.2 563.3v-4.8M67.2 307.3v4.8M85.5 563.3v-9.5M85.5 307.3v9.5M103.8 563.3v-4.8M103.8 307.3v4.8M122.1 563.3v-4.8M122.1 307.3v4.8M140.4 563.3v-4.8M140.4 307.3v4.8M158.7 563.3v-9.5M158.7 307.3v9.5M177 563.3v-4.8M177 307.3v4.8M203.8 563.3v-9.5M203.8 307.3v9.5M222.5 563.3v-4.8M222.5 307.3v4.8M241.2 563.3v-4.8M241.2 307.3v4.8M259.9 563.3v-4.8M259.9 307.3v4.8M278.5 563.3v-9.5M278.5 307.3v9.5M297.2 563.3v-4.8M297.2 307.3v4.8M315.9 563.3v-4.8M315.9 307.3v4.8M334.6 563.3v-4.8M334.6 307.3v4.8M353.3 563.3v-9.5M353.3 307.3v9.5M372 563.3v-4.8M372 307.3v4.8M390.6 563.3v-4.8M390.6 307.3v4.8M409.3 563.3v-4.8M409.3 307.3v4.8M428 563.3v-9.5M428 307.3v9.5M446.7 563.3v-4.8M446.7 307.3v4.8M465.4 563.3v-4.8M465.4 307.3v4.8M484.1 563.3v-4.8M484.1 307.3v4.8M502.8 563.3v-9.5M502.8 307.3v9.5M521.4 563.3v-4.8M521.4 307.3v4.8M540.1 563.3v-4.8M540.1 307.3v4.8M558.8 563.3v-4.8M558.8 307.3v4.8M577.5 563.3v-9.5M577.5 307.3v9.5" stroke="#000" stroke-width="1.3" fill="none"/><g style="font-family:'Liberation Sans',Arial,sans-serif;font-size:15.8px" fill="#000" stroke="#000" stroke-width="0.35"><text x="48.6" y="53.9" text-anchor="end">1500</text><text x="48.6" y="346.8" text-anchor="end">1500</text><text x="48.6" y="100.6" text-anchor="end">1000</text><text x="48.6" y="393.5" text-anchor="end">1000</text><text x="48.6" y="147.2" text-anchor="end">500</text><text x="48.6" y="440.1" text-anchor="end">500</text><text x="48.6" y="193.9" text-anchor="end">0</text><text x="48.6" y="486.8" text-anchor="end">0</text><text x="48.6" y="240.6" text-anchor="end">−500</text><text x="48.6" y="533.5" text-anchor="end">−500</text><text x="107" y="289" text-anchor="middle" letter-spacing="0.4">60700</text><text x="219.2" y="289" text-anchor="middle" letter-spacing="0.4">60800</text><text x="331.4" y="289" text-anchor="middle" letter-spacing="0.4">60900</text><text x="443.7" y="289" text-anchor="middle" letter-spacing="0.4">61000</text><text x="556" y="289" text-anchor="middle" letter-spacing="0.4">61100</text><text x="85.7" y="582" text-anchor="middle" letter-spacing="0.4">58200</text><text x="158.9" y="582" text-anchor="middle" letter-spacing="0.4">58400</text><text x="204" y="582" text-anchor="middle" letter-spacing="0.4">60000</text><text x="278.7" y="582" text-anchor="middle" letter-spacing="0.4">60200</text><text x="353.5" y="582" text-anchor="middle" letter-spacing="0.4">60400</text><text x="428.2" y="582" text-anchor="middle" letter-spacing="0.4">60600</text><text x="503" y="582" text-anchor="middle" letter-spacing="0.4">60800</text><text x="577.7" y="582" text-anchor="middle" letter-spacing="0.4">61000</text></g>
</svg>
</body></html>
